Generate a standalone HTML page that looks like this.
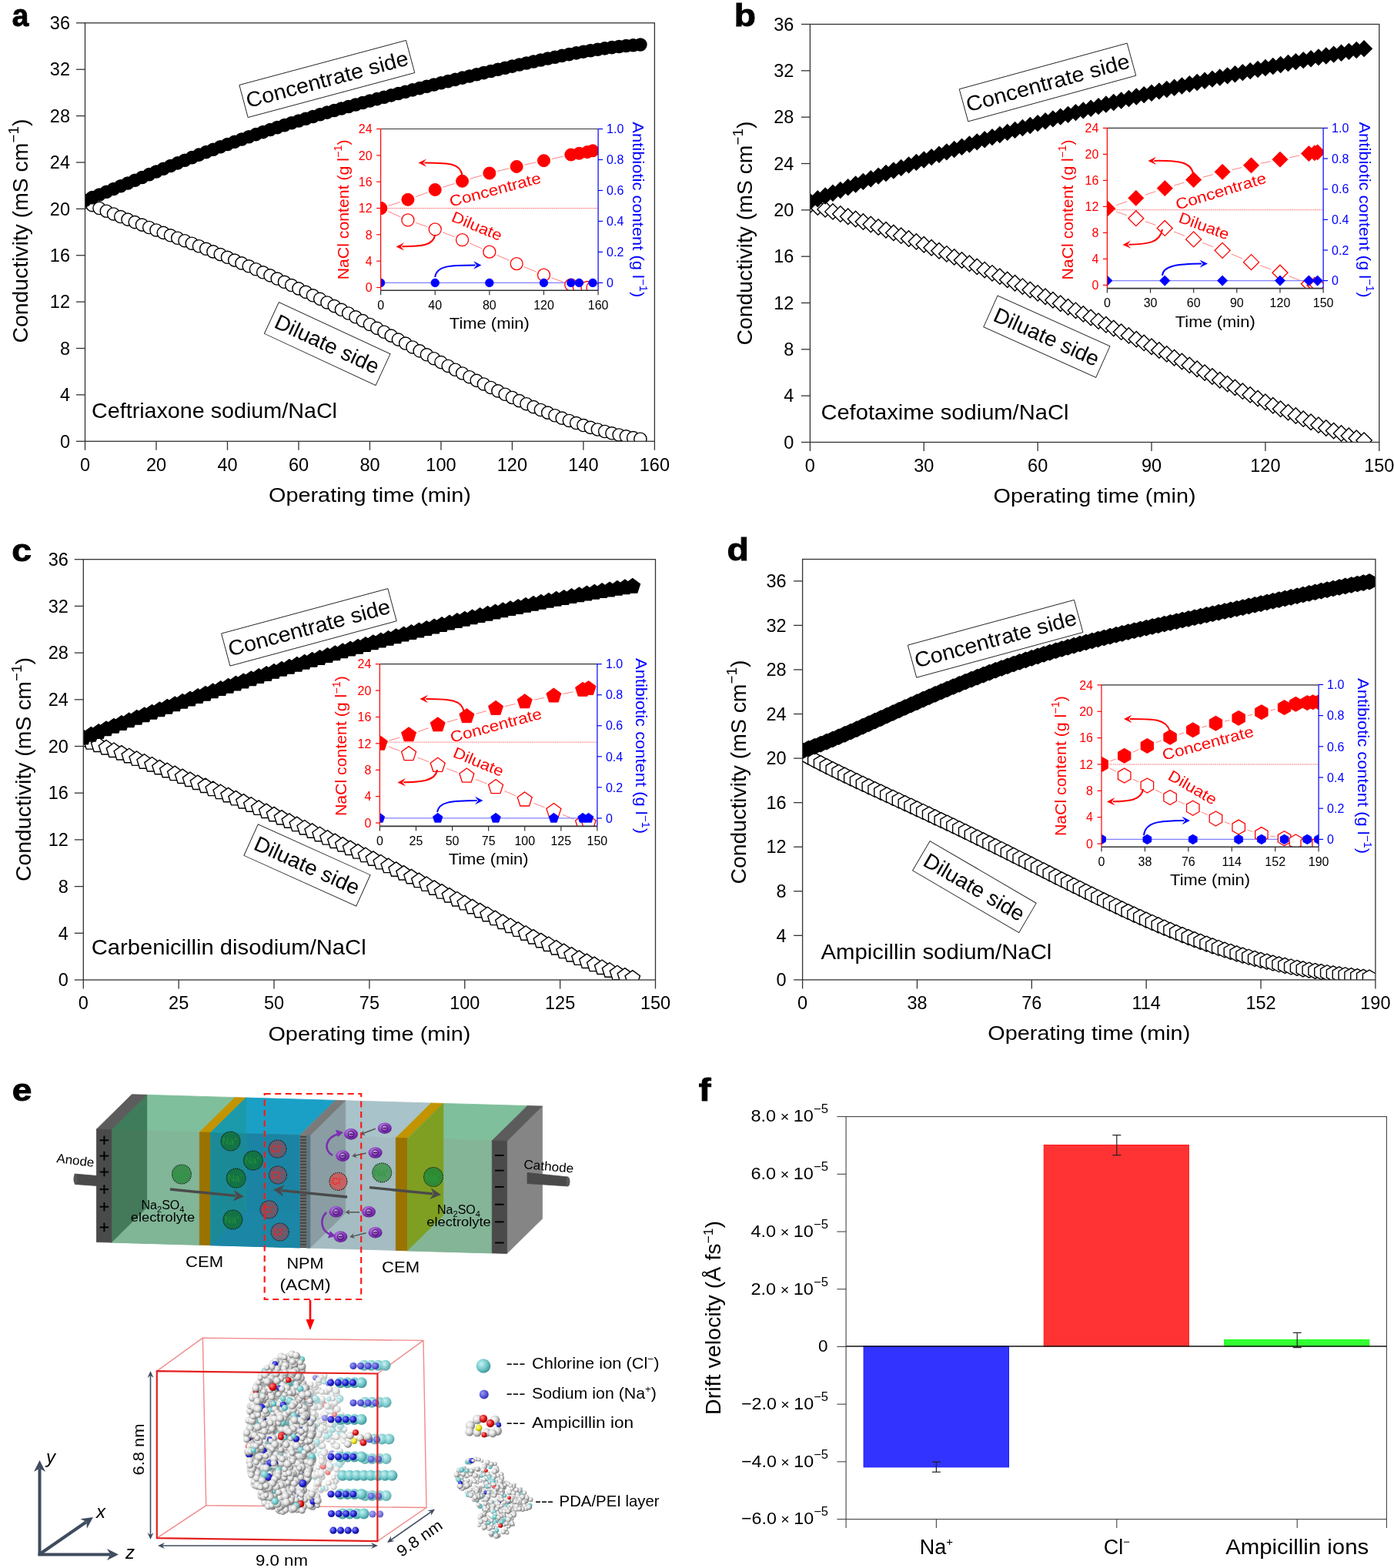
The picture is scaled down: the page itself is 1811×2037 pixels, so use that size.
<!DOCTYPE html><html><head><meta charset="utf-8"><title>Figure</title><style>html,body{margin:0;padding:0;background:#fff;}svg{display:block;}</style></head><body><svg width="1811" height="2037" viewBox="0 0 1811 2037" font-family='"Liberation Sans", Arial, sans-serif'>
<rect width="1811" height="2037" fill="#fff"/>
<clipPath id="c1"><rect x="110.5" y="29.8" width="739.9" height="543.5"/></clipPath>
<g clip-path="url(#c1)">
<circle cx="110.5" cy="262.62" r="8.1" fill="#fff" stroke="#000" stroke-width="1.4"/>
<circle cx="119.75" cy="266.62" r="8.1" fill="#fff" stroke="#000" stroke-width="1.4"/>
<circle cx="129" cy="270.49" r="8.1" fill="#fff" stroke="#000" stroke-width="1.4"/>
<circle cx="138.25" cy="274.26" r="8.1" fill="#fff" stroke="#000" stroke-width="1.4"/>
<circle cx="147.5" cy="277.95" r="8.1" fill="#fff" stroke="#000" stroke-width="1.4"/>
<circle cx="156.74" cy="281.56" r="8.1" fill="#fff" stroke="#000" stroke-width="1.4"/>
<circle cx="165.99" cy="285.11" r="8.1" fill="#fff" stroke="#000" stroke-width="1.4"/>
<circle cx="175.24" cy="288.61" r="8.1" fill="#fff" stroke="#000" stroke-width="1.4"/>
<circle cx="184.49" cy="292.08" r="8.1" fill="#fff" stroke="#000" stroke-width="1.4"/>
<circle cx="193.74" cy="295.52" r="8.1" fill="#fff" stroke="#000" stroke-width="1.4"/>
<circle cx="202.99" cy="298.95" r="8.1" fill="#fff" stroke="#000" stroke-width="1.4"/>
<circle cx="212.24" cy="302.38" r="8.1" fill="#fff" stroke="#000" stroke-width="1.4"/>
<circle cx="221.49" cy="305.81" r="8.1" fill="#fff" stroke="#000" stroke-width="1.4"/>
<circle cx="230.73" cy="309.25" r="8.1" fill="#fff" stroke="#000" stroke-width="1.4"/>
<circle cx="239.98" cy="312.71" r="8.1" fill="#fff" stroke="#000" stroke-width="1.4"/>
<circle cx="249.23" cy="316.21" r="8.1" fill="#fff" stroke="#000" stroke-width="1.4"/>
<circle cx="258.48" cy="319.74" r="8.1" fill="#fff" stroke="#000" stroke-width="1.4"/>
<circle cx="267.73" cy="323.31" r="8.1" fill="#fff" stroke="#000" stroke-width="1.4"/>
<circle cx="276.98" cy="326.92" r="8.1" fill="#fff" stroke="#000" stroke-width="1.4"/>
<circle cx="286.23" cy="330.58" r="8.1" fill="#fff" stroke="#000" stroke-width="1.4"/>
<circle cx="295.48" cy="334.3" r="8.1" fill="#fff" stroke="#000" stroke-width="1.4"/>
<circle cx="304.72" cy="338.08" r="8.1" fill="#fff" stroke="#000" stroke-width="1.4"/>
<circle cx="313.97" cy="341.91" r="8.1" fill="#fff" stroke="#000" stroke-width="1.4"/>
<circle cx="323.22" cy="345.81" r="8.1" fill="#fff" stroke="#000" stroke-width="1.4"/>
<circle cx="332.47" cy="349.77" r="8.1" fill="#fff" stroke="#000" stroke-width="1.4"/>
<circle cx="341.72" cy="353.8" r="8.1" fill="#fff" stroke="#000" stroke-width="1.4"/>
<circle cx="350.97" cy="357.89" r="8.1" fill="#fff" stroke="#000" stroke-width="1.4"/>
<circle cx="360.22" cy="362.05" r="8.1" fill="#fff" stroke="#000" stroke-width="1.4"/>
<circle cx="369.46" cy="366.28" r="8.1" fill="#fff" stroke="#000" stroke-width="1.4"/>
<circle cx="378.71" cy="370.57" r="8.1" fill="#fff" stroke="#000" stroke-width="1.4"/>
<circle cx="387.96" cy="374.92" r="8.1" fill="#fff" stroke="#000" stroke-width="1.4"/>
<circle cx="397.21" cy="379.34" r="8.1" fill="#fff" stroke="#000" stroke-width="1.4"/>
<circle cx="406.46" cy="383.82" r="8.1" fill="#fff" stroke="#000" stroke-width="1.4"/>
<circle cx="415.71" cy="388.35" r="8.1" fill="#fff" stroke="#000" stroke-width="1.4"/>
<circle cx="424.96" cy="392.94" r="8.1" fill="#fff" stroke="#000" stroke-width="1.4"/>
<circle cx="434.21" cy="397.59" r="8.1" fill="#fff" stroke="#000" stroke-width="1.4"/>
<circle cx="443.45" cy="402.28" r="8.1" fill="#fff" stroke="#000" stroke-width="1.4"/>
<circle cx="452.7" cy="407.02" r="8.1" fill="#fff" stroke="#000" stroke-width="1.4"/>
<circle cx="461.95" cy="411.8" r="8.1" fill="#fff" stroke="#000" stroke-width="1.4"/>
<circle cx="471.2" cy="416.62" r="8.1" fill="#fff" stroke="#000" stroke-width="1.4"/>
<circle cx="480.45" cy="421.47" r="8.1" fill="#fff" stroke="#000" stroke-width="1.4"/>
<circle cx="489.7" cy="426.35" r="8.1" fill="#fff" stroke="#000" stroke-width="1.4"/>
<circle cx="498.95" cy="431.25" r="8.1" fill="#fff" stroke="#000" stroke-width="1.4"/>
<circle cx="508.2" cy="436.17" r="8.1" fill="#fff" stroke="#000" stroke-width="1.4"/>
<circle cx="517.44" cy="441.1" r="8.1" fill="#fff" stroke="#000" stroke-width="1.4"/>
<circle cx="526.69" cy="446.04" r="8.1" fill="#fff" stroke="#000" stroke-width="1.4"/>
<circle cx="535.94" cy="450.97" r="8.1" fill="#fff" stroke="#000" stroke-width="1.4"/>
<circle cx="545.19" cy="455.9" r="8.1" fill="#fff" stroke="#000" stroke-width="1.4"/>
<circle cx="554.44" cy="460.82" r="8.1" fill="#fff" stroke="#000" stroke-width="1.4"/>
<circle cx="563.69" cy="465.72" r="8.1" fill="#fff" stroke="#000" stroke-width="1.4"/>
<circle cx="572.94" cy="470.6" r="8.1" fill="#fff" stroke="#000" stroke-width="1.4"/>
<circle cx="582.19" cy="475.44" r="8.1" fill="#fff" stroke="#000" stroke-width="1.4"/>
<circle cx="591.43" cy="480.25" r="8.1" fill="#fff" stroke="#000" stroke-width="1.4"/>
<circle cx="600.68" cy="485.01" r="8.1" fill="#fff" stroke="#000" stroke-width="1.4"/>
<circle cx="609.93" cy="489.72" r="8.1" fill="#fff" stroke="#000" stroke-width="1.4"/>
<circle cx="619.18" cy="494.37" r="8.1" fill="#fff" stroke="#000" stroke-width="1.4"/>
<circle cx="628.43" cy="498.96" r="8.1" fill="#fff" stroke="#000" stroke-width="1.4"/>
<circle cx="637.68" cy="503.47" r="8.1" fill="#fff" stroke="#000" stroke-width="1.4"/>
<circle cx="646.93" cy="507.91" r="8.1" fill="#fff" stroke="#000" stroke-width="1.4"/>
<circle cx="656.18" cy="512.25" r="8.1" fill="#fff" stroke="#000" stroke-width="1.4"/>
<circle cx="665.42" cy="516.51" r="8.1" fill="#fff" stroke="#000" stroke-width="1.4"/>
<circle cx="674.67" cy="520.67" r="8.1" fill="#fff" stroke="#000" stroke-width="1.4"/>
<circle cx="683.92" cy="524.72" r="8.1" fill="#fff" stroke="#000" stroke-width="1.4"/>
<circle cx="693.17" cy="528.66" r="8.1" fill="#fff" stroke="#000" stroke-width="1.4"/>
<circle cx="702.42" cy="532.48" r="8.1" fill="#fff" stroke="#000" stroke-width="1.4"/>
<circle cx="711.67" cy="536.17" r="8.1" fill="#fff" stroke="#000" stroke-width="1.4"/>
<circle cx="720.92" cy="539.73" r="8.1" fill="#fff" stroke="#000" stroke-width="1.4"/>
<circle cx="730.17" cy="543.16" r="8.1" fill="#fff" stroke="#000" stroke-width="1.4"/>
<circle cx="739.41" cy="546.44" r="8.1" fill="#fff" stroke="#000" stroke-width="1.4"/>
<circle cx="748.66" cy="549.57" r="8.1" fill="#fff" stroke="#000" stroke-width="1.4"/>
<circle cx="757.91" cy="552.55" r="8.1" fill="#fff" stroke="#000" stroke-width="1.4"/>
<circle cx="767.16" cy="555.36" r="8.1" fill="#fff" stroke="#000" stroke-width="1.4"/>
<circle cx="776.41" cy="558.01" r="8.1" fill="#fff" stroke="#000" stroke-width="1.4"/>
<circle cx="785.66" cy="560.49" r="8.1" fill="#fff" stroke="#000" stroke-width="1.4"/>
<circle cx="794.91" cy="562.8" r="8.1" fill="#fff" stroke="#000" stroke-width="1.4"/>
<circle cx="804.16" cy="564.93" r="8.1" fill="#fff" stroke="#000" stroke-width="1.4"/>
<circle cx="813.4" cy="566.87" r="8.1" fill="#fff" stroke="#000" stroke-width="1.4"/>
<circle cx="822.65" cy="568.63" r="8.1" fill="#fff" stroke="#000" stroke-width="1.4"/>
<circle cx="831.9" cy="570.19" r="8.1" fill="#fff" stroke="#000" stroke-width="1.4"/>
<circle cx="110.5" cy="260.3" r="8.1" fill="#000" stroke="#000" stroke-width="1.4"/>
<circle cx="119.75" cy="256.67" r="8.1" fill="#000" stroke="#000" stroke-width="1.4"/>
<circle cx="129" cy="252.99" r="8.1" fill="#000" stroke="#000" stroke-width="1.4"/>
<circle cx="138.25" cy="249.27" r="8.1" fill="#000" stroke="#000" stroke-width="1.4"/>
<circle cx="147.5" cy="245.52" r="8.1" fill="#000" stroke="#000" stroke-width="1.4"/>
<circle cx="156.74" cy="241.76" r="8.1" fill="#000" stroke="#000" stroke-width="1.4"/>
<circle cx="165.99" cy="237.98" r="8.1" fill="#000" stroke="#000" stroke-width="1.4"/>
<circle cx="175.24" cy="234.2" r="8.1" fill="#000" stroke="#000" stroke-width="1.4"/>
<circle cx="184.49" cy="230.43" r="8.1" fill="#000" stroke="#000" stroke-width="1.4"/>
<circle cx="193.74" cy="226.67" r="8.1" fill="#000" stroke="#000" stroke-width="1.4"/>
<circle cx="202.99" cy="222.93" r="8.1" fill="#000" stroke="#000" stroke-width="1.4"/>
<circle cx="212.24" cy="219.21" r="8.1" fill="#000" stroke="#000" stroke-width="1.4"/>
<circle cx="221.49" cy="215.52" r="8.1" fill="#000" stroke="#000" stroke-width="1.4"/>
<circle cx="230.73" cy="211.87" r="8.1" fill="#000" stroke="#000" stroke-width="1.4"/>
<circle cx="239.98" cy="208.25" r="8.1" fill="#000" stroke="#000" stroke-width="1.4"/>
<circle cx="249.23" cy="204.67" r="8.1" fill="#000" stroke="#000" stroke-width="1.4"/>
<circle cx="258.48" cy="201.14" r="8.1" fill="#000" stroke="#000" stroke-width="1.4"/>
<circle cx="267.73" cy="197.65" r="8.1" fill="#000" stroke="#000" stroke-width="1.4"/>
<circle cx="276.98" cy="194.21" r="8.1" fill="#000" stroke="#000" stroke-width="1.4"/>
<circle cx="286.23" cy="190.82" r="8.1" fill="#000" stroke="#000" stroke-width="1.4"/>
<circle cx="295.48" cy="187.48" r="8.1" fill="#000" stroke="#000" stroke-width="1.4"/>
<circle cx="304.72" cy="184.19" r="8.1" fill="#000" stroke="#000" stroke-width="1.4"/>
<circle cx="313.97" cy="180.96" r="8.1" fill="#000" stroke="#000" stroke-width="1.4"/>
<circle cx="323.22" cy="177.78" r="8.1" fill="#000" stroke="#000" stroke-width="1.4"/>
<circle cx="332.47" cy="174.65" r="8.1" fill="#000" stroke="#000" stroke-width="1.4"/>
<circle cx="341.72" cy="171.58" r="8.1" fill="#000" stroke="#000" stroke-width="1.4"/>
<circle cx="350.97" cy="168.56" r="8.1" fill="#000" stroke="#000" stroke-width="1.4"/>
<circle cx="360.22" cy="165.59" r="8.1" fill="#000" stroke="#000" stroke-width="1.4"/>
<circle cx="369.46" cy="162.67" r="8.1" fill="#000" stroke="#000" stroke-width="1.4"/>
<circle cx="378.71" cy="159.8" r="8.1" fill="#000" stroke="#000" stroke-width="1.4"/>
<circle cx="387.96" cy="156.98" r="8.1" fill="#000" stroke="#000" stroke-width="1.4"/>
<circle cx="397.21" cy="154.21" r="8.1" fill="#000" stroke="#000" stroke-width="1.4"/>
<circle cx="406.46" cy="151.48" r="8.1" fill="#000" stroke="#000" stroke-width="1.4"/>
<circle cx="415.71" cy="148.79" r="8.1" fill="#000" stroke="#000" stroke-width="1.4"/>
<circle cx="424.96" cy="146.15" r="8.1" fill="#000" stroke="#000" stroke-width="1.4"/>
<circle cx="434.21" cy="143.54" r="8.1" fill="#000" stroke="#000" stroke-width="1.4"/>
<circle cx="443.45" cy="140.97" r="8.1" fill="#000" stroke="#000" stroke-width="1.4"/>
<circle cx="452.7" cy="138.44" r="8.1" fill="#000" stroke="#000" stroke-width="1.4"/>
<circle cx="461.95" cy="135.94" r="8.1" fill="#000" stroke="#000" stroke-width="1.4"/>
<circle cx="471.2" cy="133.47" r="8.1" fill="#000" stroke="#000" stroke-width="1.4"/>
<circle cx="480.45" cy="131.03" r="8.1" fill="#000" stroke="#000" stroke-width="1.4"/>
<circle cx="489.7" cy="128.62" r="8.1" fill="#000" stroke="#000" stroke-width="1.4"/>
<circle cx="498.95" cy="126.23" r="8.1" fill="#000" stroke="#000" stroke-width="1.4"/>
<circle cx="508.2" cy="123.86" r="8.1" fill="#000" stroke="#000" stroke-width="1.4"/>
<circle cx="517.44" cy="121.52" r="8.1" fill="#000" stroke="#000" stroke-width="1.4"/>
<circle cx="526.69" cy="119.2" r="8.1" fill="#000" stroke="#000" stroke-width="1.4"/>
<circle cx="535.94" cy="116.89" r="8.1" fill="#000" stroke="#000" stroke-width="1.4"/>
<circle cx="545.19" cy="114.6" r="8.1" fill="#000" stroke="#000" stroke-width="1.4"/>
<circle cx="554.44" cy="112.32" r="8.1" fill="#000" stroke="#000" stroke-width="1.4"/>
<circle cx="563.69" cy="110.06" r="8.1" fill="#000" stroke="#000" stroke-width="1.4"/>
<circle cx="572.94" cy="107.81" r="8.1" fill="#000" stroke="#000" stroke-width="1.4"/>
<circle cx="582.19" cy="105.58" r="8.1" fill="#000" stroke="#000" stroke-width="1.4"/>
<circle cx="591.43" cy="103.35" r="8.1" fill="#000" stroke="#000" stroke-width="1.4"/>
<circle cx="600.68" cy="101.14" r="8.1" fill="#000" stroke="#000" stroke-width="1.4"/>
<circle cx="609.93" cy="98.95" r="8.1" fill="#000" stroke="#000" stroke-width="1.4"/>
<circle cx="619.18" cy="96.76" r="8.1" fill="#000" stroke="#000" stroke-width="1.4"/>
<circle cx="628.43" cy="94.59" r="8.1" fill="#000" stroke="#000" stroke-width="1.4"/>
<circle cx="637.68" cy="92.44" r="8.1" fill="#000" stroke="#000" stroke-width="1.4"/>
<circle cx="646.93" cy="90.3" r="8.1" fill="#000" stroke="#000" stroke-width="1.4"/>
<circle cx="656.18" cy="88.19" r="8.1" fill="#000" stroke="#000" stroke-width="1.4"/>
<circle cx="665.42" cy="86.09" r="8.1" fill="#000" stroke="#000" stroke-width="1.4"/>
<circle cx="674.67" cy="84.02" r="8.1" fill="#000" stroke="#000" stroke-width="1.4"/>
<circle cx="683.92" cy="81.98" r="8.1" fill="#000" stroke="#000" stroke-width="1.4"/>
<circle cx="693.17" cy="79.97" r="8.1" fill="#000" stroke="#000" stroke-width="1.4"/>
<circle cx="702.42" cy="78" r="8.1" fill="#000" stroke="#000" stroke-width="1.4"/>
<circle cx="711.67" cy="76.06" r="8.1" fill="#000" stroke="#000" stroke-width="1.4"/>
<circle cx="720.92" cy="74.18" r="8.1" fill="#000" stroke="#000" stroke-width="1.4"/>
<circle cx="730.17" cy="72.35" r="8.1" fill="#000" stroke="#000" stroke-width="1.4"/>
<circle cx="739.41" cy="70.58" r="8.1" fill="#000" stroke="#000" stroke-width="1.4"/>
<circle cx="748.66" cy="68.87" r="8.1" fill="#000" stroke="#000" stroke-width="1.4"/>
<circle cx="757.91" cy="67.24" r="8.1" fill="#000" stroke="#000" stroke-width="1.4"/>
<circle cx="767.16" cy="65.69" r="8.1" fill="#000" stroke="#000" stroke-width="1.4"/>
<circle cx="776.41" cy="64.24" r="8.1" fill="#000" stroke="#000" stroke-width="1.4"/>
<circle cx="785.66" cy="62.89" r="8.1" fill="#000" stroke="#000" stroke-width="1.4"/>
<circle cx="794.91" cy="61.65" r="8.1" fill="#000" stroke="#000" stroke-width="1.4"/>
<circle cx="804.16" cy="60.53" r="8.1" fill="#000" stroke="#000" stroke-width="1.4"/>
<circle cx="813.4" cy="59.55" r="8.1" fill="#000" stroke="#000" stroke-width="1.4"/>
<circle cx="822.65" cy="58.72" r="8.1" fill="#000" stroke="#000" stroke-width="1.4"/>
<circle cx="831.9" cy="58.05" r="8.1" fill="#000" stroke="#000" stroke-width="1.4"/>
</g>
<rect x="110.5" y="29.8" width="739.9" height="543.5" fill="none" stroke="#333" stroke-width="1.3"/>
<line x1="110.5" y1="573.3" x2="110.5" y2="584.8" stroke="#333" stroke-width="1.3" />
<text x="110.5" y="611.5" font-size="23.5" fill="#000" text-anchor="middle">0</text>
<line x1="202.99" y1="573.3" x2="202.99" y2="584.8" stroke="#333" stroke-width="1.3" />
<text x="202.99" y="611.5" font-size="23.5" fill="#000" text-anchor="middle">20</text>
<line x1="295.48" y1="573.3" x2="295.48" y2="584.8" stroke="#333" stroke-width="1.3" />
<text x="295.48" y="611.5" font-size="23.5" fill="#000" text-anchor="middle">40</text>
<line x1="387.96" y1="573.3" x2="387.96" y2="584.8" stroke="#333" stroke-width="1.3" />
<text x="387.96" y="611.5" font-size="23.5" fill="#000" text-anchor="middle">60</text>
<line x1="480.45" y1="573.3" x2="480.45" y2="584.8" stroke="#333" stroke-width="1.3" />
<text x="480.45" y="611.5" font-size="23.5" fill="#000" text-anchor="middle">80</text>
<line x1="572.94" y1="573.3" x2="572.94" y2="584.8" stroke="#333" stroke-width="1.3" />
<text x="572.94" y="611.5" font-size="23.5" fill="#000" text-anchor="middle">100</text>
<line x1="665.42" y1="573.3" x2="665.42" y2="584.8" stroke="#333" stroke-width="1.3" />
<text x="665.42" y="611.5" font-size="23.5" fill="#000" text-anchor="middle">120</text>
<line x1="757.91" y1="573.3" x2="757.91" y2="584.8" stroke="#333" stroke-width="1.3" />
<text x="757.91" y="611.5" font-size="23.5" fill="#000" text-anchor="middle">140</text>
<line x1="850.4" y1="573.3" x2="850.4" y2="584.8" stroke="#333" stroke-width="1.3" />
<text x="850.4" y="611.5" font-size="23.5" fill="#000" text-anchor="middle">160</text>
<line x1="99" y1="573.3" x2="110.5" y2="573.3" stroke="#333" stroke-width="1.3" />
<text x="91" y="581.5" font-size="23.5" fill="#000" text-anchor="end">0</text>
<line x1="99" y1="512.91" x2="110.5" y2="512.91" stroke="#333" stroke-width="1.3" />
<text x="91" y="521.11" font-size="23.5" fill="#000" text-anchor="end">4</text>
<line x1="99" y1="452.52" x2="110.5" y2="452.52" stroke="#333" stroke-width="1.3" />
<text x="91" y="460.72" font-size="23.5" fill="#000" text-anchor="end">8</text>
<line x1="99" y1="392.13" x2="110.5" y2="392.13" stroke="#333" stroke-width="1.3" />
<text x="91" y="400.33" font-size="23.5" fill="#000" text-anchor="end">12</text>
<line x1="99" y1="331.74" x2="110.5" y2="331.74" stroke="#333" stroke-width="1.3" />
<text x="91" y="339.94" font-size="23.5" fill="#000" text-anchor="end">16</text>
<line x1="99" y1="271.36" x2="110.5" y2="271.36" stroke="#333" stroke-width="1.3" />
<text x="91" y="279.56" font-size="23.5" fill="#000" text-anchor="end">20</text>
<line x1="99" y1="210.97" x2="110.5" y2="210.97" stroke="#333" stroke-width="1.3" />
<text x="91" y="219.17" font-size="23.5" fill="#000" text-anchor="end">24</text>
<line x1="99" y1="150.58" x2="110.5" y2="150.58" stroke="#333" stroke-width="1.3" />
<text x="91" y="158.78" font-size="23.5" fill="#000" text-anchor="end">28</text>
<line x1="99" y1="90.19" x2="110.5" y2="90.19" stroke="#333" stroke-width="1.3" />
<text x="91" y="98.39" font-size="23.5" fill="#000" text-anchor="end">32</text>
<line x1="99" y1="29.8" x2="110.5" y2="29.8" stroke="#333" stroke-width="1.3" />
<text x="91" y="38" font-size="23.5" fill="#000" text-anchor="end">36</text>
<text x="480.45" y="651.8" font-size="26" fill="#000" text-anchor="middle" textLength="263" lengthAdjust="spacingAndGlyphs">Operating time (min)</text>
<text x="36.5" y="300.1" font-size="28.5" fill="#000" text-anchor="middle" transform="rotate(-90 36.5 300.1)" textLength="291" lengthAdjust="spacingAndGlyphs">Conductivity (mS cm<tspan dy="-12" font-size="19">−1</tspan><tspan dy="12">)</tspan></text>
<text x="15.8" y="33.6" font-size="40" fill="#000" font-weight="bold" textLength="21.6" lengthAdjust="spacingAndGlyphs" stroke="#000" stroke-width="0.9">a</text>
<text x="119" y="542.6" font-size="27.5" fill="#000" textLength="319" lengthAdjust="spacingAndGlyphs">Ceftriaxone sodium/NaCl</text>
<g transform="translate(424.8 102.5) rotate(-15)">
<rect x="-112.1" y="-21.8" width="224.2" height="43.6" fill="#fff" stroke="#222" stroke-width="0.9"/>
<text x="0" y="9.9" font-size="27.5" fill="#000" text-anchor="middle" textLength="217" lengthAdjust="spacingAndGlyphs">Concentrate side</text>
</g>
<g transform="translate(425.2 446.6) rotate(24.9)">
<rect x="-79.75" y="-22.45" width="159.5" height="44.9" fill="#fff" stroke="#222" stroke-width="0.9"/>
<text x="0" y="9.9" font-size="27.5" fill="#000" text-anchor="middle" textLength="146" lengthAdjust="spacingAndGlyphs">Diluate side</text>
</g>
<rect x="494.6" y="167.5" width="282.5" height="209.7" fill="#fff"/>
<clipPath id="c2"><rect x="494.6" y="167.5" width="282.5" height="209.7"/></clipPath>
<g clip-path="url(#c2)">
<line x1="494.6" y1="270.5" x2="777.1" y2="270.5" stroke="#ff5555" stroke-width="0.9" stroke-dasharray="1.5 1"/>
<line x1="504.61" y1="267.34" x2="519.9" y2="262.51" stroke="#ff7070" stroke-width="0.9" />
<line x1="539.78" y1="255.74" x2="555.36" y2="250.06" stroke="#ff7070" stroke-width="0.9" />
<line x1="575.24" y1="243.3" x2="590.53" y2="238.47" stroke="#ff7070" stroke-width="0.9" />
<line x1="610.62" y1="232.37" x2="625.77" y2="227.95" stroke="#ff7070" stroke-width="0.9" />
<line x1="646.05" y1="222.53" x2="660.96" y2="218.91" stroke="#ff7070" stroke-width="0.9" />
<line x1="681.42" y1="214.18" x2="696.22" y2="210.94" stroke="#ff7070" stroke-width="0.9" />
<line x1="716.73" y1="206.46" x2="731.53" y2="203.22" stroke="#ff7070" stroke-width="0.9" />
<line x1="504.22" y1="274.71" x2="520.29" y2="281.74" stroke="#ff7070" stroke-width="0.9" />
<line x1="539.85" y1="289.33" x2="555.28" y2="294.58" stroke="#ff7070" stroke-width="0.9" />
<line x1="575.01" y1="301.77" x2="590.75" y2="307.89" stroke="#ff7070" stroke-width="0.9" />
<line x1="610.16" y1="315.91" x2="626.23" y2="322.94" stroke="#ff7070" stroke-width="0.9" />
<line x1="645.47" y1="331.36" x2="661.54" y2="338.39" stroke="#ff7070" stroke-width="0.9" />
<line x1="680.87" y1="346.61" x2="696.77" y2="353.18" stroke="#ff7070" stroke-width="0.9" />
<line x1="716.34" y1="360.79" x2="731.92" y2="366.47" stroke="#ff7070" stroke-width="0.9" />
<polyline points="494.6,367.4 565.23,367.4 635.85,367.4 706.48,367.4 741.79,367.4 752.38,367.4 770.04,367.4" fill="none" stroke="#8080ff" stroke-width="1.2"/>
<circle cx="494.6" cy="270.5" r="8" fill="#fff" stroke="#ff0000" stroke-width="1.3"/>
<circle cx="529.91" cy="285.95" r="8" fill="#fff" stroke="#ff0000" stroke-width="1.3"/>
<circle cx="565.23" cy="297.97" r="8" fill="#fff" stroke="#ff0000" stroke-width="1.3"/>
<circle cx="600.54" cy="311.7" r="8" fill="#fff" stroke="#ff0000" stroke-width="1.3"/>
<circle cx="635.85" cy="327.15" r="8" fill="#fff" stroke="#ff0000" stroke-width="1.3"/>
<circle cx="671.16" cy="342.6" r="8" fill="#fff" stroke="#ff0000" stroke-width="1.3"/>
<circle cx="706.48" cy="357.19" r="8" fill="#fff" stroke="#ff0000" stroke-width="1.3"/>
<circle cx="741.79" cy="370.07" r="8" fill="#fff" stroke="#ff0000" stroke-width="1.3"/>
<circle cx="752.38" cy="372.64" r="8" fill="#fff" stroke="#ff0000" stroke-width="1.3"/>
<circle cx="762.98" cy="373.5" r="8" fill="#fff" stroke="#ff0000" stroke-width="1.3"/>
<circle cx="770.04" cy="373.5" r="8" fill="#fff" stroke="#ff0000" stroke-width="1.3"/>
<circle cx="494.6" cy="270.5" r="8" fill="#ff0000" stroke="#ff0000" stroke-width="1"/>
<circle cx="529.91" cy="259.34" r="8" fill="#ff0000" stroke="#ff0000" stroke-width="1"/>
<circle cx="565.23" cy="246.47" r="8" fill="#ff0000" stroke="#ff0000" stroke-width="1"/>
<circle cx="600.54" cy="235.31" r="8" fill="#ff0000" stroke="#ff0000" stroke-width="1"/>
<circle cx="635.85" cy="225.01" r="8" fill="#ff0000" stroke="#ff0000" stroke-width="1"/>
<circle cx="671.16" cy="216.42" r="8" fill="#ff0000" stroke="#ff0000" stroke-width="1"/>
<circle cx="706.48" cy="208.7" r="8" fill="#ff0000" stroke="#ff0000" stroke-width="1"/>
<circle cx="741.79" cy="200.97" r="8" fill="#ff0000" stroke="#ff0000" stroke-width="1"/>
<circle cx="752.38" cy="199.26" r="8" fill="#ff0000" stroke="#ff0000" stroke-width="1"/>
<circle cx="762.98" cy="197.54" r="8" fill="#ff0000" stroke="#ff0000" stroke-width="1"/>
<circle cx="770.04" cy="195.83" r="8" fill="#ff0000" stroke="#ff0000" stroke-width="1"/>
<circle cx="494.6" cy="367.4" r="5.28" fill="#0000ff" stroke="#0000ff" stroke-width="0.8"/>
<circle cx="565.23" cy="367.4" r="5.28" fill="#0000ff" stroke="#0000ff" stroke-width="0.8"/>
<circle cx="635.85" cy="367.4" r="5.28" fill="#0000ff" stroke="#0000ff" stroke-width="0.8"/>
<circle cx="706.48" cy="367.4" r="5.28" fill="#0000ff" stroke="#0000ff" stroke-width="0.8"/>
<circle cx="741.79" cy="367.4" r="5.28" fill="#0000ff" stroke="#0000ff" stroke-width="0.8"/>
<circle cx="752.38" cy="367.4" r="5.28" fill="#0000ff" stroke="#0000ff" stroke-width="0.8"/>
<circle cx="770.04" cy="367.4" r="5.28" fill="#0000ff" stroke="#0000ff" stroke-width="0.8"/>
</g>
<line x1="494.6" y1="167.5" x2="777.1" y2="167.5" stroke="#333" stroke-width="1.2" />
<line x1="494.6" y1="377.2" x2="777.1" y2="377.2" stroke="#333" stroke-width="1.6" />
<line x1="494.6" y1="167.5" x2="494.6" y2="377.2" stroke="#ff0000" stroke-width="1.2" />
<line x1="777.1" y1="167.5" x2="777.1" y2="377.2" stroke="#0000ff" stroke-width="1.2" />
<line x1="489.1" y1="373.5" x2="494.6" y2="373.5" stroke="#ff0000" stroke-width="1.2" />
<text x="483.6" y="379.2" font-size="16" fill="#ff0000" text-anchor="end">0</text>
<line x1="489.1" y1="339.17" x2="494.6" y2="339.17" stroke="#ff0000" stroke-width="1.2" />
<text x="483.6" y="344.87" font-size="16" fill="#ff0000" text-anchor="end">4</text>
<line x1="489.1" y1="304.83" x2="494.6" y2="304.83" stroke="#ff0000" stroke-width="1.2" />
<text x="483.6" y="310.53" font-size="16" fill="#ff0000" text-anchor="end">8</text>
<line x1="489.1" y1="270.5" x2="494.6" y2="270.5" stroke="#ff0000" stroke-width="1.2" />
<text x="483.6" y="276.2" font-size="16" fill="#ff0000" text-anchor="end">12</text>
<line x1="489.1" y1="236.17" x2="494.6" y2="236.17" stroke="#ff0000" stroke-width="1.2" />
<text x="483.6" y="241.87" font-size="16" fill="#ff0000" text-anchor="end">16</text>
<line x1="489.1" y1="201.83" x2="494.6" y2="201.83" stroke="#ff0000" stroke-width="1.2" />
<text x="483.6" y="207.53" font-size="16" fill="#ff0000" text-anchor="end">20</text>
<line x1="489.1" y1="167.5" x2="494.6" y2="167.5" stroke="#ff0000" stroke-width="1.2" />
<text x="483.6" y="173.2" font-size="16" fill="#ff0000" text-anchor="end">24</text>
<line x1="777.1" y1="367.4" x2="783.1" y2="367.4" stroke="#0000ff" stroke-width="1.2" />
<text x="788.1" y="373.1" font-size="16" fill="#0000ff">0</text>
<line x1="777.1" y1="327.42" x2="783.1" y2="327.42" stroke="#0000ff" stroke-width="1.2" />
<text x="788.1" y="333.12" font-size="16" fill="#0000ff">0.2</text>
<line x1="777.1" y1="287.44" x2="783.1" y2="287.44" stroke="#0000ff" stroke-width="1.2" />
<text x="788.1" y="293.14" font-size="16" fill="#0000ff">0.4</text>
<line x1="777.1" y1="247.46" x2="783.1" y2="247.46" stroke="#0000ff" stroke-width="1.2" />
<text x="788.1" y="253.16" font-size="16" fill="#0000ff">0.6</text>
<line x1="777.1" y1="207.48" x2="783.1" y2="207.48" stroke="#0000ff" stroke-width="1.2" />
<text x="788.1" y="213.18" font-size="16" fill="#0000ff">0.8</text>
<line x1="777.1" y1="167.5" x2="783.1" y2="167.5" stroke="#0000ff" stroke-width="1.2" />
<text x="788.1" y="173.2" font-size="16" fill="#0000ff">1.0</text>
<line x1="494.6" y1="377.2" x2="494.6" y2="383.2" stroke="#333" stroke-width="1.2" />
<text x="494.6" y="401.7" font-size="16" fill="#000" text-anchor="middle">0</text>
<line x1="565.23" y1="377.2" x2="565.23" y2="383.2" stroke="#333" stroke-width="1.2" />
<text x="565.23" y="401.7" font-size="16" fill="#000" text-anchor="middle">40</text>
<line x1="635.85" y1="377.2" x2="635.85" y2="383.2" stroke="#333" stroke-width="1.2" />
<text x="635.85" y="401.7" font-size="16" fill="#000" text-anchor="middle">80</text>
<line x1="706.48" y1="377.2" x2="706.48" y2="383.2" stroke="#333" stroke-width="1.2" />
<text x="706.48" y="401.7" font-size="16" fill="#000" text-anchor="middle">120</text>
<line x1="777.1" y1="377.2" x2="777.1" y2="383.2" stroke="#333" stroke-width="1.2" />
<text x="777.1" y="401.7" font-size="16" fill="#000" text-anchor="middle">160</text>
<text x="635.85" y="427.2" font-size="20" fill="#000" text-anchor="middle" textLength="104" lengthAdjust="spacingAndGlyphs">Time (min)</text>
<text x="452.6" y="272.35" font-size="20.5" fill="#ff0000" text-anchor="middle" transform="rotate(-90 452.6 272.35)" textLength="182" lengthAdjust="spacingAndGlyphs">NaCl content (g l<tspan dy="-8.5" font-size="14">−1</tspan><tspan dy="8.5">)</tspan></text>
<text x="822.1" y="272.35" font-size="20.5" fill="#0000ff" text-anchor="middle" transform="rotate(90 822.1 272.35)" textLength="228" lengthAdjust="spacingAndGlyphs">Antibiotic content (g l<tspan dy="-8.5" font-size="14">−1</tspan><tspan dy="8.5">)</tspan></text>
<text x="645" y="253" font-size="20" fill="#ff0000" text-anchor="middle" transform="rotate(-15 645 253)" textLength="122" lengthAdjust="spacingAndGlyphs">Concentrate</text>
<text x="617" y="300" font-size="20" fill="#ff0000" text-anchor="middle" transform="rotate(22.5 617 300)" textLength="69" lengthAdjust="spacingAndGlyphs">Diluate</text>
<path d="M600.5 228 C598 212 585 212 551.37 211.59" fill="none" stroke="#ff0000" stroke-width="2"/>
<polygon points="543.5,211.5 554.06,206.43 549.8,211.58 553.94,216.83" fill="#ff0000"/>
<path d="M565.2 305 C563 320 545 320 522.37 320.37" fill="none" stroke="#ff0000" stroke-width="2"/>
<polygon points="514.5,320.5 524.91,315.13 520.8,320.4 525.08,325.53" fill="#ff0000"/>
<path d="M565.2 360 C567 345 585 344.5 617.62 344.5" fill="none" stroke="#0000ff" stroke-width="2"/>
<polygon points="625.5,344.5 615,349.7 619.2,344.5 615,339.3" fill="#0000ff"/>
<clipPath id="c3"><rect x="1052.4" y="31.5" width="739.4" height="543"/></clipPath>
<g clip-path="url(#c3)">
<polygon points="1052.4,256.06 1062.6,266.26 1052.4,276.46 1042.2,266.26" fill="#fff" stroke="#000" stroke-width="1.4" stroke-linejoin="miter"/>
<polygon points="1062.26,258.8 1072.46,269 1062.26,279.2 1052.06,269" fill="#fff" stroke="#000" stroke-width="1.4" stroke-linejoin="miter"/>
<polygon points="1072.12,261.68 1082.32,271.88 1072.12,282.08 1061.92,271.88" fill="#fff" stroke="#000" stroke-width="1.4" stroke-linejoin="miter"/>
<polygon points="1081.98,264.68 1092.18,274.88 1081.98,285.08 1071.78,274.88" fill="#fff" stroke="#000" stroke-width="1.4" stroke-linejoin="miter"/>
<polygon points="1091.83,267.8 1102.03,278 1091.83,288.2 1081.63,278" fill="#fff" stroke="#000" stroke-width="1.4" stroke-linejoin="miter"/>
<polygon points="1101.69,271.03 1111.89,281.23 1101.69,291.43 1091.49,281.23" fill="#fff" stroke="#000" stroke-width="1.4" stroke-linejoin="miter"/>
<polygon points="1111.55,274.35 1121.75,284.55 1111.55,294.75 1101.35,284.55" fill="#fff" stroke="#000" stroke-width="1.4" stroke-linejoin="miter"/>
<polygon points="1121.41,277.77 1131.61,287.97 1121.41,298.17 1111.21,287.97" fill="#fff" stroke="#000" stroke-width="1.4" stroke-linejoin="miter"/>
<polygon points="1131.27,281.27 1141.47,291.47 1131.27,301.67 1121.07,291.47" fill="#fff" stroke="#000" stroke-width="1.4" stroke-linejoin="miter"/>
<polygon points="1141.13,284.84 1151.33,295.04 1141.13,305.24 1130.93,295.04" fill="#fff" stroke="#000" stroke-width="1.4" stroke-linejoin="miter"/>
<polygon points="1150.99,288.49 1161.19,298.69 1150.99,308.89 1140.79,298.69" fill="#fff" stroke="#000" stroke-width="1.4" stroke-linejoin="miter"/>
<polygon points="1160.85,292.2 1171.05,302.4 1160.85,312.6 1150.65,302.4" fill="#fff" stroke="#000" stroke-width="1.4" stroke-linejoin="miter"/>
<polygon points="1170.7,295.97 1180.9,306.17 1170.7,316.37 1160.5,306.17" fill="#fff" stroke="#000" stroke-width="1.4" stroke-linejoin="miter"/>
<polygon points="1180.56,299.79 1190.76,309.99 1180.56,320.19 1170.36,309.99" fill="#fff" stroke="#000" stroke-width="1.4" stroke-linejoin="miter"/>
<polygon points="1190.42,303.67 1200.62,313.87 1190.42,324.07 1180.22,313.87" fill="#fff" stroke="#000" stroke-width="1.4" stroke-linejoin="miter"/>
<polygon points="1200.28,307.59 1210.48,317.79 1200.28,327.99 1190.08,317.79" fill="#fff" stroke="#000" stroke-width="1.4" stroke-linejoin="miter"/>
<polygon points="1210.14,311.56 1220.34,321.76 1210.14,331.96 1199.94,321.76" fill="#fff" stroke="#000" stroke-width="1.4" stroke-linejoin="miter"/>
<polygon points="1220,315.57 1230.2,325.77 1220,335.97 1209.8,325.77" fill="#fff" stroke="#000" stroke-width="1.4" stroke-linejoin="miter"/>
<polygon points="1229.86,319.62 1240.06,329.82 1229.86,340.02 1219.66,329.82" fill="#fff" stroke="#000" stroke-width="1.4" stroke-linejoin="miter"/>
<polygon points="1239.71,323.71 1249.91,333.91 1239.71,344.11 1229.51,333.91" fill="#fff" stroke="#000" stroke-width="1.4" stroke-linejoin="miter"/>
<polygon points="1249.57,327.82 1259.77,338.02 1249.57,348.22 1239.37,338.02" fill="#fff" stroke="#000" stroke-width="1.4" stroke-linejoin="miter"/>
<polygon points="1259.43,331.98 1269.63,342.18 1259.43,352.38 1249.23,342.18" fill="#fff" stroke="#000" stroke-width="1.4" stroke-linejoin="miter"/>
<polygon points="1269.29,336.16 1279.49,346.36 1269.29,356.56 1259.09,346.36" fill="#fff" stroke="#000" stroke-width="1.4" stroke-linejoin="miter"/>
<polygon points="1279.15,340.37 1289.35,350.57 1279.15,360.77 1268.95,350.57" fill="#fff" stroke="#000" stroke-width="1.4" stroke-linejoin="miter"/>
<polygon points="1289.01,344.62 1299.21,354.82 1289.01,365.02 1278.81,354.82" fill="#fff" stroke="#000" stroke-width="1.4" stroke-linejoin="miter"/>
<polygon points="1298.87,348.89 1309.07,359.09 1298.87,369.29 1288.67,359.09" fill="#fff" stroke="#000" stroke-width="1.4" stroke-linejoin="miter"/>
<polygon points="1308.73,353.19 1318.93,363.39 1308.73,373.59 1298.53,363.39" fill="#fff" stroke="#000" stroke-width="1.4" stroke-linejoin="miter"/>
<polygon points="1318.58,357.52 1328.78,367.72 1318.58,377.92 1308.38,367.72" fill="#fff" stroke="#000" stroke-width="1.4" stroke-linejoin="miter"/>
<polygon points="1328.44,361.87 1338.64,372.07 1328.44,382.27 1318.24,372.07" fill="#fff" stroke="#000" stroke-width="1.4" stroke-linejoin="miter"/>
<polygon points="1338.3,366.25 1348.5,376.45 1338.3,386.65 1328.1,376.45" fill="#fff" stroke="#000" stroke-width="1.4" stroke-linejoin="miter"/>
<polygon points="1348.16,370.66 1358.36,380.86 1348.16,391.06 1337.96,380.86" fill="#fff" stroke="#000" stroke-width="1.4" stroke-linejoin="miter"/>
<polygon points="1358.02,375.1 1368.22,385.3 1358.02,395.5 1347.82,385.3" fill="#fff" stroke="#000" stroke-width="1.4" stroke-linejoin="miter"/>
<polygon points="1367.88,379.57 1378.08,389.77 1367.88,399.97 1357.68,389.77" fill="#fff" stroke="#000" stroke-width="1.4" stroke-linejoin="miter"/>
<polygon points="1377.74,384.06 1387.94,394.26 1377.74,404.46 1367.54,394.26" fill="#fff" stroke="#000" stroke-width="1.4" stroke-linejoin="miter"/>
<polygon points="1387.59,388.58 1397.79,398.78 1387.59,408.98 1377.39,398.78" fill="#fff" stroke="#000" stroke-width="1.4" stroke-linejoin="miter"/>
<polygon points="1397.45,393.12 1407.65,403.32 1397.45,413.52 1387.25,403.32" fill="#fff" stroke="#000" stroke-width="1.4" stroke-linejoin="miter"/>
<polygon points="1407.31,397.7 1417.51,407.9 1407.31,418.1 1397.11,407.9" fill="#fff" stroke="#000" stroke-width="1.4" stroke-linejoin="miter"/>
<polygon points="1417.17,402.3 1427.37,412.5 1417.17,422.7 1406.97,412.5" fill="#fff" stroke="#000" stroke-width="1.4" stroke-linejoin="miter"/>
<polygon points="1427.03,406.93 1437.23,417.13 1427.03,427.33 1416.83,417.13" fill="#fff" stroke="#000" stroke-width="1.4" stroke-linejoin="miter"/>
<polygon points="1436.89,411.58 1447.09,421.78 1436.89,431.98 1426.69,421.78" fill="#fff" stroke="#000" stroke-width="1.4" stroke-linejoin="miter"/>
<polygon points="1446.75,416.26 1456.95,426.46 1446.75,436.66 1436.55,426.46" fill="#fff" stroke="#000" stroke-width="1.4" stroke-linejoin="miter"/>
<polygon points="1456.61,420.97 1466.81,431.17 1456.61,441.37 1446.41,431.17" fill="#fff" stroke="#000" stroke-width="1.4" stroke-linejoin="miter"/>
<polygon points="1466.46,425.7 1476.66,435.9 1466.46,446.1 1456.26,435.9" fill="#fff" stroke="#000" stroke-width="1.4" stroke-linejoin="miter"/>
<polygon points="1476.32,430.45 1486.52,440.65 1476.32,450.85 1466.12,440.65" fill="#fff" stroke="#000" stroke-width="1.4" stroke-linejoin="miter"/>
<polygon points="1486.18,435.22 1496.38,445.42 1486.18,455.62 1475.98,445.42" fill="#fff" stroke="#000" stroke-width="1.4" stroke-linejoin="miter"/>
<polygon points="1496.04,440.01 1506.24,450.21 1496.04,460.41 1485.84,450.21" fill="#fff" stroke="#000" stroke-width="1.4" stroke-linejoin="miter"/>
<polygon points="1505.9,444.83 1516.1,455.03 1505.9,465.23 1495.7,455.03" fill="#fff" stroke="#000" stroke-width="1.4" stroke-linejoin="miter"/>
<polygon points="1515.76,449.65 1525.96,459.85 1515.76,470.05 1505.56,459.85" fill="#fff" stroke="#000" stroke-width="1.4" stroke-linejoin="miter"/>
<polygon points="1525.62,454.49 1535.82,464.69 1525.62,474.89 1515.42,464.69" fill="#fff" stroke="#000" stroke-width="1.4" stroke-linejoin="miter"/>
<polygon points="1535.47,459.34 1545.67,469.54 1535.47,479.74 1525.27,469.54" fill="#fff" stroke="#000" stroke-width="1.4" stroke-linejoin="miter"/>
<polygon points="1545.33,464.19 1555.53,474.39 1545.33,484.59 1535.13,474.39" fill="#fff" stroke="#000" stroke-width="1.4" stroke-linejoin="miter"/>
<polygon points="1555.19,469.05 1565.39,479.25 1555.19,489.45 1544.99,479.25" fill="#fff" stroke="#000" stroke-width="1.4" stroke-linejoin="miter"/>
<polygon points="1565.05,473.91 1575.25,484.11 1565.05,494.31 1554.85,484.11" fill="#fff" stroke="#000" stroke-width="1.4" stroke-linejoin="miter"/>
<polygon points="1574.91,478.75 1585.11,488.95 1574.91,499.15 1564.71,488.95" fill="#fff" stroke="#000" stroke-width="1.4" stroke-linejoin="miter"/>
<polygon points="1584.77,483.59 1594.97,493.79 1584.77,503.99 1574.57,493.79" fill="#fff" stroke="#000" stroke-width="1.4" stroke-linejoin="miter"/>
<polygon points="1594.63,488.41 1604.83,498.61 1594.63,508.81 1584.43,498.61" fill="#fff" stroke="#000" stroke-width="1.4" stroke-linejoin="miter"/>
<polygon points="1604.49,493.2 1614.69,503.4 1604.49,513.6 1594.29,503.4" fill="#fff" stroke="#000" stroke-width="1.4" stroke-linejoin="miter"/>
<polygon points="1614.34,497.97 1624.54,508.17 1614.34,518.37 1604.14,508.17" fill="#fff" stroke="#000" stroke-width="1.4" stroke-linejoin="miter"/>
<polygon points="1624.2,502.69 1634.4,512.89 1624.2,523.09 1614,512.89" fill="#fff" stroke="#000" stroke-width="1.4" stroke-linejoin="miter"/>
<polygon points="1634.06,507.37 1644.26,517.57 1634.06,527.77 1623.86,517.57" fill="#fff" stroke="#000" stroke-width="1.4" stroke-linejoin="miter"/>
<polygon points="1643.92,512 1654.12,522.2 1643.92,532.4 1633.72,522.2" fill="#fff" stroke="#000" stroke-width="1.4" stroke-linejoin="miter"/>
<polygon points="1653.78,516.56 1663.98,526.76 1653.78,536.96 1643.58,526.76" fill="#fff" stroke="#000" stroke-width="1.4" stroke-linejoin="miter"/>
<polygon points="1663.64,521.04 1673.84,531.24 1663.64,541.44 1653.44,531.24" fill="#fff" stroke="#000" stroke-width="1.4" stroke-linejoin="miter"/>
<polygon points="1673.5,525.45 1683.7,535.65 1673.5,545.85 1663.3,535.65" fill="#fff" stroke="#000" stroke-width="1.4" stroke-linejoin="miter"/>
<polygon points="1683.35,529.75 1693.55,539.95 1683.35,550.15 1673.15,539.95" fill="#fff" stroke="#000" stroke-width="1.4" stroke-linejoin="miter"/>
<polygon points="1693.21,533.95 1703.41,544.15 1693.21,554.35 1683.01,544.15" fill="#fff" stroke="#000" stroke-width="1.4" stroke-linejoin="miter"/>
<polygon points="1703.07,538.02 1713.27,548.22 1703.07,558.42 1692.87,548.22" fill="#fff" stroke="#000" stroke-width="1.4" stroke-linejoin="miter"/>
<polygon points="1712.93,541.96 1723.13,552.16 1712.93,562.36 1702.73,552.16" fill="#fff" stroke="#000" stroke-width="1.4" stroke-linejoin="miter"/>
<polygon points="1722.79,545.75 1732.99,555.95 1722.79,566.15 1712.59,555.95" fill="#fff" stroke="#000" stroke-width="1.4" stroke-linejoin="miter"/>
<polygon points="1732.65,549.38 1742.85,559.58 1732.65,569.78 1722.45,559.58" fill="#fff" stroke="#000" stroke-width="1.4" stroke-linejoin="miter"/>
<polygon points="1742.51,552.82 1752.71,563.02 1742.51,573.22 1732.31,563.02" fill="#fff" stroke="#000" stroke-width="1.4" stroke-linejoin="miter"/>
<polygon points="1752.37,556.07 1762.57,566.27 1752.37,576.47 1742.17,566.27" fill="#fff" stroke="#000" stroke-width="1.4" stroke-linejoin="miter"/>
<polygon points="1762.22,559.1 1772.42,569.3 1762.22,579.5 1752.02,569.3" fill="#fff" stroke="#000" stroke-width="1.4" stroke-linejoin="miter"/>
<polygon points="1772.08,561.89 1782.28,572.09 1772.08,582.29 1761.88,572.09" fill="#fff" stroke="#000" stroke-width="1.4" stroke-linejoin="miter"/>
<polygon points="1052.4,251.84 1062.6,262.04 1052.4,272.24 1042.2,262.04" fill="#000" stroke="#000" stroke-width="1.4" stroke-linejoin="miter"/>
<polygon points="1062.26,248.04 1072.46,258.24 1062.26,268.44 1052.06,258.24" fill="#000" stroke="#000" stroke-width="1.4" stroke-linejoin="miter"/>
<polygon points="1072.12,244.26 1082.32,254.46 1072.12,264.66 1061.92,254.46" fill="#000" stroke="#000" stroke-width="1.4" stroke-linejoin="miter"/>
<polygon points="1081.98,240.5 1092.18,250.7 1081.98,260.9 1071.78,250.7" fill="#000" stroke="#000" stroke-width="1.4" stroke-linejoin="miter"/>
<polygon points="1091.83,236.76 1102.03,246.96 1091.83,257.16 1081.63,246.96" fill="#000" stroke="#000" stroke-width="1.4" stroke-linejoin="miter"/>
<polygon points="1101.69,233.04 1111.89,243.24 1101.69,253.44 1091.49,243.24" fill="#000" stroke="#000" stroke-width="1.4" stroke-linejoin="miter"/>
<polygon points="1111.55,229.35 1121.75,239.55 1111.55,249.75 1101.35,239.55" fill="#000" stroke="#000" stroke-width="1.4" stroke-linejoin="miter"/>
<polygon points="1121.41,225.67 1131.61,235.87 1121.41,246.07 1111.21,235.87" fill="#000" stroke="#000" stroke-width="1.4" stroke-linejoin="miter"/>
<polygon points="1131.27,222.02 1141.47,232.22 1131.27,242.42 1121.07,232.22" fill="#000" stroke="#000" stroke-width="1.4" stroke-linejoin="miter"/>
<polygon points="1141.13,218.4 1151.33,228.6 1141.13,238.8 1130.93,228.6" fill="#000" stroke="#000" stroke-width="1.4" stroke-linejoin="miter"/>
<polygon points="1150.99,214.81 1161.19,225.01 1150.99,235.21 1140.79,225.01" fill="#000" stroke="#000" stroke-width="1.4" stroke-linejoin="miter"/>
<polygon points="1160.85,211.24 1171.05,221.44 1160.85,231.64 1150.65,221.44" fill="#000" stroke="#000" stroke-width="1.4" stroke-linejoin="miter"/>
<polygon points="1170.7,207.71 1180.9,217.91 1170.7,228.11 1160.5,217.91" fill="#000" stroke="#000" stroke-width="1.4" stroke-linejoin="miter"/>
<polygon points="1180.56,204.2 1190.76,214.4 1180.56,224.6 1170.36,214.4" fill="#000" stroke="#000" stroke-width="1.4" stroke-linejoin="miter"/>
<polygon points="1190.42,200.73 1200.62,210.93 1190.42,221.13 1180.22,210.93" fill="#000" stroke="#000" stroke-width="1.4" stroke-linejoin="miter"/>
<polygon points="1200.28,197.29 1210.48,207.49 1200.28,217.69 1190.08,207.49" fill="#000" stroke="#000" stroke-width="1.4" stroke-linejoin="miter"/>
<polygon points="1210.14,193.88 1220.34,204.08 1210.14,214.28 1199.94,204.08" fill="#000" stroke="#000" stroke-width="1.4" stroke-linejoin="miter"/>
<polygon points="1220,190.51 1230.2,200.71 1220,210.91 1209.8,200.71" fill="#000" stroke="#000" stroke-width="1.4" stroke-linejoin="miter"/>
<polygon points="1229.86,187.17 1240.06,197.37 1229.86,207.57 1219.66,197.37" fill="#000" stroke="#000" stroke-width="1.4" stroke-linejoin="miter"/>
<polygon points="1239.71,183.86 1249.91,194.06 1239.71,204.26 1229.51,194.06" fill="#000" stroke="#000" stroke-width="1.4" stroke-linejoin="miter"/>
<polygon points="1249.57,180.59 1259.77,190.79 1249.57,200.99 1239.37,190.79" fill="#000" stroke="#000" stroke-width="1.4" stroke-linejoin="miter"/>
<polygon points="1259.43,177.36 1269.63,187.56 1259.43,197.76 1249.23,187.56" fill="#000" stroke="#000" stroke-width="1.4" stroke-linejoin="miter"/>
<polygon points="1269.29,174.16 1279.49,184.36 1269.29,194.56 1259.09,184.36" fill="#000" stroke="#000" stroke-width="1.4" stroke-linejoin="miter"/>
<polygon points="1279.15,171 1289.35,181.2 1279.15,191.4 1268.95,181.2" fill="#000" stroke="#000" stroke-width="1.4" stroke-linejoin="miter"/>
<polygon points="1289.01,167.87 1299.21,178.07 1289.01,188.27 1278.81,178.07" fill="#000" stroke="#000" stroke-width="1.4" stroke-linejoin="miter"/>
<polygon points="1298.87,164.78 1309.07,174.98 1298.87,185.18 1288.67,174.98" fill="#000" stroke="#000" stroke-width="1.4" stroke-linejoin="miter"/>
<polygon points="1308.73,161.73 1318.93,171.93 1308.73,182.13 1298.53,171.93" fill="#000" stroke="#000" stroke-width="1.4" stroke-linejoin="miter"/>
<polygon points="1318.58,158.72 1328.78,168.92 1318.58,179.12 1308.38,168.92" fill="#000" stroke="#000" stroke-width="1.4" stroke-linejoin="miter"/>
<polygon points="1328.44,155.74 1338.64,165.94 1328.44,176.14 1318.24,165.94" fill="#000" stroke="#000" stroke-width="1.4" stroke-linejoin="miter"/>
<polygon points="1338.3,152.8 1348.5,163 1338.3,173.2 1328.1,163" fill="#000" stroke="#000" stroke-width="1.4" stroke-linejoin="miter"/>
<polygon points="1348.16,149.89 1358.36,160.09 1348.16,170.29 1337.96,160.09" fill="#000" stroke="#000" stroke-width="1.4" stroke-linejoin="miter"/>
<polygon points="1358.02,147.02 1368.22,157.22 1358.02,167.42 1347.82,157.22" fill="#000" stroke="#000" stroke-width="1.4" stroke-linejoin="miter"/>
<polygon points="1367.88,144.19 1378.08,154.39 1367.88,164.59 1357.68,154.39" fill="#000" stroke="#000" stroke-width="1.4" stroke-linejoin="miter"/>
<polygon points="1377.74,141.39 1387.94,151.59 1377.74,161.79 1367.54,151.59" fill="#000" stroke="#000" stroke-width="1.4" stroke-linejoin="miter"/>
<polygon points="1387.59,138.63 1397.79,148.83 1387.59,159.03 1377.39,148.83" fill="#000" stroke="#000" stroke-width="1.4" stroke-linejoin="miter"/>
<polygon points="1397.45,135.91 1407.65,146.11 1397.45,156.31 1387.25,146.11" fill="#000" stroke="#000" stroke-width="1.4" stroke-linejoin="miter"/>
<polygon points="1407.31,133.22 1417.51,143.42 1407.31,153.62 1397.11,143.42" fill="#000" stroke="#000" stroke-width="1.4" stroke-linejoin="miter"/>
<polygon points="1417.17,130.57 1427.37,140.77 1417.17,150.97 1406.97,140.77" fill="#000" stroke="#000" stroke-width="1.4" stroke-linejoin="miter"/>
<polygon points="1427.03,127.94 1437.23,138.14 1427.03,148.34 1416.83,138.14" fill="#000" stroke="#000" stroke-width="1.4" stroke-linejoin="miter"/>
<polygon points="1436.89,125.36 1447.09,135.56 1436.89,145.76 1426.69,135.56" fill="#000" stroke="#000" stroke-width="1.4" stroke-linejoin="miter"/>
<polygon points="1446.75,122.81 1456.95,133.01 1446.75,143.21 1436.55,133.01" fill="#000" stroke="#000" stroke-width="1.4" stroke-linejoin="miter"/>
<polygon points="1456.61,120.29 1466.81,130.49 1456.61,140.69 1446.41,130.49" fill="#000" stroke="#000" stroke-width="1.4" stroke-linejoin="miter"/>
<polygon points="1466.46,117.8 1476.66,128 1466.46,138.2 1456.26,128" fill="#000" stroke="#000" stroke-width="1.4" stroke-linejoin="miter"/>
<polygon points="1476.32,115.34 1486.52,125.54 1476.32,135.74 1466.12,125.54" fill="#000" stroke="#000" stroke-width="1.4" stroke-linejoin="miter"/>
<polygon points="1486.18,112.92 1496.38,123.12 1486.18,133.32 1475.98,123.12" fill="#000" stroke="#000" stroke-width="1.4" stroke-linejoin="miter"/>
<polygon points="1496.04,110.52 1506.24,120.72 1496.04,130.92 1485.84,120.72" fill="#000" stroke="#000" stroke-width="1.4" stroke-linejoin="miter"/>
<polygon points="1505.9,108.16 1516.1,118.36 1505.9,128.56 1495.7,118.36" fill="#000" stroke="#000" stroke-width="1.4" stroke-linejoin="miter"/>
<polygon points="1515.76,105.82 1525.96,116.02 1515.76,126.22 1505.56,116.02" fill="#000" stroke="#000" stroke-width="1.4" stroke-linejoin="miter"/>
<polygon points="1525.62,103.52 1535.82,113.72 1525.62,123.92 1515.42,113.72" fill="#000" stroke="#000" stroke-width="1.4" stroke-linejoin="miter"/>
<polygon points="1535.47,101.24 1545.67,111.44 1535.47,121.64 1525.27,111.44" fill="#000" stroke="#000" stroke-width="1.4" stroke-linejoin="miter"/>
<polygon points="1545.33,98.99 1555.53,109.19 1545.33,119.39 1535.13,109.19" fill="#000" stroke="#000" stroke-width="1.4" stroke-linejoin="miter"/>
<polygon points="1555.19,96.76 1565.39,106.96 1555.19,117.16 1544.99,106.96" fill="#000" stroke="#000" stroke-width="1.4" stroke-linejoin="miter"/>
<polygon points="1565.05,94.57 1575.25,104.77 1565.05,114.97 1554.85,104.77" fill="#000" stroke="#000" stroke-width="1.4" stroke-linejoin="miter"/>
<polygon points="1574.91,92.39 1585.11,102.59 1574.91,112.79 1564.71,102.59" fill="#000" stroke="#000" stroke-width="1.4" stroke-linejoin="miter"/>
<polygon points="1584.77,90.24 1594.97,100.44 1584.77,110.64 1574.57,100.44" fill="#000" stroke="#000" stroke-width="1.4" stroke-linejoin="miter"/>
<polygon points="1594.63,88.12 1604.83,98.32 1594.63,108.52 1584.43,98.32" fill="#000" stroke="#000" stroke-width="1.4" stroke-linejoin="miter"/>
<polygon points="1604.49,86.01 1614.69,96.21 1604.49,106.41 1594.29,96.21" fill="#000" stroke="#000" stroke-width="1.4" stroke-linejoin="miter"/>
<polygon points="1614.34,83.93 1624.54,94.13 1614.34,104.33 1604.14,94.13" fill="#000" stroke="#000" stroke-width="1.4" stroke-linejoin="miter"/>
<polygon points="1624.2,81.87 1634.4,92.07 1624.2,102.27 1614,92.07" fill="#000" stroke="#000" stroke-width="1.4" stroke-linejoin="miter"/>
<polygon points="1634.06,79.83 1644.26,90.03 1634.06,100.23 1623.86,90.03" fill="#000" stroke="#000" stroke-width="1.4" stroke-linejoin="miter"/>
<polygon points="1643.92,77.81 1654.12,88.01 1643.92,98.21 1633.72,88.01" fill="#000" stroke="#000" stroke-width="1.4" stroke-linejoin="miter"/>
<polygon points="1653.78,75.81 1663.98,86.01 1653.78,96.21 1643.58,86.01" fill="#000" stroke="#000" stroke-width="1.4" stroke-linejoin="miter"/>
<polygon points="1663.64,73.83 1673.84,84.03 1663.64,94.23 1653.44,84.03" fill="#000" stroke="#000" stroke-width="1.4" stroke-linejoin="miter"/>
<polygon points="1673.5,71.86 1683.7,82.06 1673.5,92.26 1663.3,82.06" fill="#000" stroke="#000" stroke-width="1.4" stroke-linejoin="miter"/>
<polygon points="1683.35,69.91 1693.55,80.11 1683.35,90.31 1673.15,80.11" fill="#000" stroke="#000" stroke-width="1.4" stroke-linejoin="miter"/>
<polygon points="1693.21,67.97 1703.41,78.17 1693.21,88.37 1683.01,78.17" fill="#000" stroke="#000" stroke-width="1.4" stroke-linejoin="miter"/>
<polygon points="1703.07,66.05 1713.27,76.25 1703.07,86.45 1692.87,76.25" fill="#000" stroke="#000" stroke-width="1.4" stroke-linejoin="miter"/>
<polygon points="1712.93,64.15 1723.13,74.35 1712.93,84.55 1702.73,74.35" fill="#000" stroke="#000" stroke-width="1.4" stroke-linejoin="miter"/>
<polygon points="1722.79,62.26 1732.99,72.46 1722.79,82.66 1712.59,72.46" fill="#000" stroke="#000" stroke-width="1.4" stroke-linejoin="miter"/>
<polygon points="1732.65,60.38 1742.85,70.58 1732.65,80.78 1722.45,70.58" fill="#000" stroke="#000" stroke-width="1.4" stroke-linejoin="miter"/>
<polygon points="1742.51,58.51 1752.71,68.71 1742.51,78.91 1732.31,68.71" fill="#000" stroke="#000" stroke-width="1.4" stroke-linejoin="miter"/>
<polygon points="1752.37,56.65 1762.57,66.85 1752.37,77.05 1742.17,66.85" fill="#000" stroke="#000" stroke-width="1.4" stroke-linejoin="miter"/>
<polygon points="1762.22,54.81 1772.42,65.01 1762.22,75.21 1752.02,65.01" fill="#000" stroke="#000" stroke-width="1.4" stroke-linejoin="miter"/>
<polygon points="1772.08,52.97 1782.28,63.17 1772.08,73.37 1761.88,63.17" fill="#000" stroke="#000" stroke-width="1.4" stroke-linejoin="miter"/>
</g>
<rect x="1052.4" y="31.5" width="739.4" height="543" fill="none" stroke="#333" stroke-width="1.3"/>
<line x1="1052.4" y1="574.5" x2="1052.4" y2="586" stroke="#333" stroke-width="1.3" />
<text x="1052.4" y="612.7" font-size="23.5" fill="#000" text-anchor="middle">0</text>
<line x1="1200.28" y1="574.5" x2="1200.28" y2="586" stroke="#333" stroke-width="1.3" />
<text x="1200.28" y="612.7" font-size="23.5" fill="#000" text-anchor="middle">30</text>
<line x1="1348.16" y1="574.5" x2="1348.16" y2="586" stroke="#333" stroke-width="1.3" />
<text x="1348.16" y="612.7" font-size="23.5" fill="#000" text-anchor="middle">60</text>
<line x1="1496.04" y1="574.5" x2="1496.04" y2="586" stroke="#333" stroke-width="1.3" />
<text x="1496.04" y="612.7" font-size="23.5" fill="#000" text-anchor="middle">90</text>
<line x1="1643.92" y1="574.5" x2="1643.92" y2="586" stroke="#333" stroke-width="1.3" />
<text x="1643.92" y="612.7" font-size="23.5" fill="#000" text-anchor="middle">120</text>
<line x1="1791.8" y1="574.5" x2="1791.8" y2="586" stroke="#333" stroke-width="1.3" />
<text x="1791.8" y="612.7" font-size="23.5" fill="#000" text-anchor="middle">150</text>
<line x1="1040.9" y1="574.5" x2="1052.4" y2="574.5" stroke="#333" stroke-width="1.3" />
<text x="1031.4" y="582.7" font-size="23.5" fill="#000" text-anchor="end">0</text>
<line x1="1040.9" y1="514.17" x2="1052.4" y2="514.17" stroke="#333" stroke-width="1.3" />
<text x="1031.4" y="522.37" font-size="23.5" fill="#000" text-anchor="end">4</text>
<line x1="1040.9" y1="453.83" x2="1052.4" y2="453.83" stroke="#333" stroke-width="1.3" />
<text x="1031.4" y="462.03" font-size="23.5" fill="#000" text-anchor="end">8</text>
<line x1="1040.9" y1="393.5" x2="1052.4" y2="393.5" stroke="#333" stroke-width="1.3" />
<text x="1031.4" y="401.7" font-size="23.5" fill="#000" text-anchor="end">12</text>
<line x1="1040.9" y1="333.17" x2="1052.4" y2="333.17" stroke="#333" stroke-width="1.3" />
<text x="1031.4" y="341.37" font-size="23.5" fill="#000" text-anchor="end">16</text>
<line x1="1040.9" y1="272.83" x2="1052.4" y2="272.83" stroke="#333" stroke-width="1.3" />
<text x="1031.4" y="281.03" font-size="23.5" fill="#000" text-anchor="end">20</text>
<line x1="1040.9" y1="212.5" x2="1052.4" y2="212.5" stroke="#333" stroke-width="1.3" />
<text x="1031.4" y="220.7" font-size="23.5" fill="#000" text-anchor="end">24</text>
<line x1="1040.9" y1="152.17" x2="1052.4" y2="152.17" stroke="#333" stroke-width="1.3" />
<text x="1031.4" y="160.37" font-size="23.5" fill="#000" text-anchor="end">28</text>
<line x1="1040.9" y1="91.83" x2="1052.4" y2="91.83" stroke="#333" stroke-width="1.3" />
<text x="1031.4" y="100.03" font-size="23.5" fill="#000" text-anchor="end">32</text>
<line x1="1040.9" y1="31.5" x2="1052.4" y2="31.5" stroke="#333" stroke-width="1.3" />
<text x="1031.4" y="39.7" font-size="23.5" fill="#000" text-anchor="end">36</text>
<text x="1422.1" y="653" font-size="26" fill="#000" text-anchor="middle" textLength="263" lengthAdjust="spacingAndGlyphs">Operating time (min)</text>
<text x="977" y="303" font-size="28.5" fill="#000" text-anchor="middle" transform="rotate(-90 977 303)" textLength="291" lengthAdjust="spacingAndGlyphs">Conductivity (mS cm<tspan dy="-12" font-size="19">−1</tspan><tspan dy="12">)</tspan></text>
<text x="953.8" y="33.6" font-size="40" fill="#000" font-weight="bold" textLength="28.2" lengthAdjust="spacingAndGlyphs" stroke="#000" stroke-width="0.9">b</text>
<text x="1066.4" y="544.7" font-size="27.5" fill="#000" textLength="322" lengthAdjust="spacingAndGlyphs">Cefotaxime sodium/NaCl</text>
<g transform="translate(1361 107) rotate(-15.3)">
<rect x="-113" y="-21.8" width="226" height="43.6" fill="#fff" stroke="#222" stroke-width="0.9"/>
<text x="0" y="9.9" font-size="27.5" fill="#000" text-anchor="middle" textLength="219" lengthAdjust="spacingAndGlyphs">Concentrate side</text>
</g>
<g transform="translate(1359.9 437.2) rotate(24.2)">
<rect x="-80" y="-22.25" width="160" height="44.5" fill="#fff" stroke="#222" stroke-width="0.9"/>
<text x="0" y="9.9" font-size="27.5" fill="#000" text-anchor="middle" textLength="147" lengthAdjust="spacingAndGlyphs">Diluate side</text>
</g>
<rect x="1438.4" y="166.4" width="280.7" height="208.2" fill="#fff"/>
<clipPath id="c4"><rect x="1438.4" y="166.4" width="280.7" height="208.2"/></clipPath>
<g clip-path="url(#c4)">
<line x1="1438.4" y1="272.65" x2="1719.1" y2="272.65" stroke="#ff5555" stroke-width="0.9" stroke-dasharray="1.5 1"/>
<line x1="1450.15" y1="266.68" x2="1464.08" y2="261.62" stroke="#ff7070" stroke-width="0.9" />
<line x1="1487.66" y1="253.32" x2="1501.42" y2="248.63" stroke="#ff7070" stroke-width="0.9" />
<line x1="1525.24" y1="241.06" x2="1538.69" y2="237.09" stroke="#ff7070" stroke-width="0.9" />
<line x1="1562.74" y1="230.26" x2="1576.05" y2="226.64" stroke="#ff7070" stroke-width="0.9" />
<line x1="1600.3" y1="220.58" x2="1613.34" y2="217.62" stroke="#ff7070" stroke-width="0.9" />
<line x1="1637.78" y1="212.35" x2="1650.71" y2="209.7" stroke="#ff7070" stroke-width="0.9" />
<line x1="1675.21" y1="204.7" x2="1688.14" y2="202.05" stroke="#ff7070" stroke-width="0.9" />
<line x1="1450.23" y1="274.98" x2="1463.99" y2="279.67" stroke="#ff7070" stroke-width="0.9" />
<line x1="1487.66" y1="287.73" x2="1501.42" y2="292.42" stroke="#ff7070" stroke-width="0.9" />
<line x1="1524.91" y1="300.95" x2="1539.02" y2="306.4" stroke="#ff7070" stroke-width="0.9" />
<line x1="1562.34" y1="315.4" x2="1576.45" y2="320.85" stroke="#ff7070" stroke-width="0.9" />
<line x1="1599.68" y1="330.08" x2="1613.96" y2="335.92" stroke="#ff7070" stroke-width="0.9" />
<line x1="1637.28" y1="344.92" x2="1651.21" y2="349.98" stroke="#ff7070" stroke-width="0.9" />
<line x1="1674.62" y1="358.75" x2="1688.73" y2="364.2" stroke="#ff7070" stroke-width="0.9" />
<polyline points="1438.4,364.6 1513.25,364.6 1588.11,364.6 1662.96,364.6 1700.39,364.6 1711.61,364.6" fill="none" stroke="#8080ff" stroke-width="1.2"/>
<polygon points="1438.4,260.95 1448.4,270.95 1438.4,280.95 1428.4,270.95" fill="#fff" stroke="#ff0000" stroke-width="1.3" stroke-linejoin="miter"/>
<polygon points="1475.83,273.7 1485.83,283.7 1475.83,293.7 1465.83,283.7" fill="#fff" stroke="#ff0000" stroke-width="1.3" stroke-linejoin="miter"/>
<polygon points="1513.25,286.45 1523.25,296.45 1513.25,306.45 1503.25,296.45" fill="#fff" stroke="#ff0000" stroke-width="1.3" stroke-linejoin="miter"/>
<polygon points="1550.68,300.9 1560.68,310.9 1550.68,320.9 1540.68,310.9" fill="#fff" stroke="#ff0000" stroke-width="1.3" stroke-linejoin="miter"/>
<polygon points="1588.11,315.35 1598.11,325.35 1588.11,335.35 1578.11,325.35" fill="#fff" stroke="#ff0000" stroke-width="1.3" stroke-linejoin="miter"/>
<polygon points="1625.53,330.65 1635.53,340.65 1625.53,350.65 1615.53,340.65" fill="#fff" stroke="#ff0000" stroke-width="1.3" stroke-linejoin="miter"/>
<polygon points="1662.96,344.25 1672.96,354.25 1662.96,364.25 1652.96,354.25" fill="#fff" stroke="#ff0000" stroke-width="1.3" stroke-linejoin="miter"/>
<polygon points="1700.39,358.7 1710.39,368.7 1700.39,378.7 1690.39,368.7" fill="#fff" stroke="#ff0000" stroke-width="1.3" stroke-linejoin="miter"/>
<polygon points="1707.87,360.4 1717.87,370.4 1707.87,380.4 1697.87,370.4" fill="#fff" stroke="#ff0000" stroke-width="1.3" stroke-linejoin="miter"/>
<polygon points="1711.61,360.4 1721.61,370.4 1711.61,380.4 1701.61,370.4" fill="#fff" stroke="#ff0000" stroke-width="1.3" stroke-linejoin="miter"/>
<polygon points="1438.4,260.95 1448.4,270.95 1438.4,280.95 1428.4,270.95" fill="#ff0000" stroke="#ff0000" stroke-width="1" stroke-linejoin="miter"/>
<polygon points="1475.83,247.35 1485.83,257.35 1475.83,267.35 1465.83,257.35" fill="#ff0000" stroke="#ff0000" stroke-width="1" stroke-linejoin="miter"/>
<polygon points="1513.25,234.6 1523.25,244.6 1513.25,254.6 1503.25,244.6" fill="#ff0000" stroke="#ff0000" stroke-width="1" stroke-linejoin="miter"/>
<polygon points="1550.68,223.55 1560.68,233.55 1550.68,243.55 1540.68,233.55" fill="#ff0000" stroke="#ff0000" stroke-width="1" stroke-linejoin="miter"/>
<polygon points="1588.11,213.35 1598.11,223.35 1588.11,233.35 1578.11,223.35" fill="#ff0000" stroke="#ff0000" stroke-width="1" stroke-linejoin="miter"/>
<polygon points="1625.53,204.85 1635.53,214.85 1625.53,224.85 1615.53,214.85" fill="#ff0000" stroke="#ff0000" stroke-width="1" stroke-linejoin="miter"/>
<polygon points="1662.96,197.2 1672.96,207.2 1662.96,217.2 1652.96,207.2" fill="#ff0000" stroke="#ff0000" stroke-width="1" stroke-linejoin="miter"/>
<polygon points="1700.39,189.55 1710.39,199.55 1700.39,209.55 1690.39,199.55" fill="#ff0000" stroke="#ff0000" stroke-width="1" stroke-linejoin="miter"/>
<polygon points="1707.87,188.7 1717.87,198.7 1707.87,208.7 1697.87,198.7" fill="#ff0000" stroke="#ff0000" stroke-width="1" stroke-linejoin="miter"/>
<polygon points="1711.61,187.85 1721.61,197.85 1711.61,207.85 1701.61,197.85" fill="#ff0000" stroke="#ff0000" stroke-width="1" stroke-linejoin="miter"/>
<polygon points="1438.4,358 1445,364.6 1438.4,371.2 1431.8,364.6" fill="#0000ff" stroke="#0000ff" stroke-width="0.8" stroke-linejoin="miter"/>
<polygon points="1513.25,358 1519.85,364.6 1513.25,371.2 1506.65,364.6" fill="#0000ff" stroke="#0000ff" stroke-width="0.8" stroke-linejoin="miter"/>
<polygon points="1588.11,358 1594.71,364.6 1588.11,371.2 1581.51,364.6" fill="#0000ff" stroke="#0000ff" stroke-width="0.8" stroke-linejoin="miter"/>
<polygon points="1662.96,358 1669.56,364.6 1662.96,371.2 1656.36,364.6" fill="#0000ff" stroke="#0000ff" stroke-width="0.8" stroke-linejoin="miter"/>
<polygon points="1700.39,358 1706.99,364.6 1700.39,371.2 1693.79,364.6" fill="#0000ff" stroke="#0000ff" stroke-width="0.8" stroke-linejoin="miter"/>
<polygon points="1711.61,358 1718.21,364.6 1711.61,371.2 1705.01,364.6" fill="#0000ff" stroke="#0000ff" stroke-width="0.8" stroke-linejoin="miter"/>
</g>
<line x1="1438.4" y1="166.4" x2="1719.1" y2="166.4" stroke="#333" stroke-width="1.2" />
<line x1="1438.4" y1="374.6" x2="1719.1" y2="374.6" stroke="#333" stroke-width="1.6" />
<line x1="1438.4" y1="166.4" x2="1438.4" y2="374.6" stroke="#ff0000" stroke-width="1.2" />
<line x1="1719.1" y1="166.4" x2="1719.1" y2="374.6" stroke="#0000ff" stroke-width="1.2" />
<line x1="1432.9" y1="370.4" x2="1438.4" y2="370.4" stroke="#ff0000" stroke-width="1.2" />
<text x="1427.4" y="376.1" font-size="16" fill="#ff0000" text-anchor="end">0</text>
<line x1="1432.9" y1="336.4" x2="1438.4" y2="336.4" stroke="#ff0000" stroke-width="1.2" />
<text x="1427.4" y="342.1" font-size="16" fill="#ff0000" text-anchor="end">4</text>
<line x1="1432.9" y1="302.4" x2="1438.4" y2="302.4" stroke="#ff0000" stroke-width="1.2" />
<text x="1427.4" y="308.1" font-size="16" fill="#ff0000" text-anchor="end">8</text>
<line x1="1432.9" y1="268.4" x2="1438.4" y2="268.4" stroke="#ff0000" stroke-width="1.2" />
<text x="1427.4" y="274.1" font-size="16" fill="#ff0000" text-anchor="end">12</text>
<line x1="1432.9" y1="234.4" x2="1438.4" y2="234.4" stroke="#ff0000" stroke-width="1.2" />
<text x="1427.4" y="240.1" font-size="16" fill="#ff0000" text-anchor="end">16</text>
<line x1="1432.9" y1="200.4" x2="1438.4" y2="200.4" stroke="#ff0000" stroke-width="1.2" />
<text x="1427.4" y="206.1" font-size="16" fill="#ff0000" text-anchor="end">20</text>
<line x1="1432.9" y1="166.4" x2="1438.4" y2="166.4" stroke="#ff0000" stroke-width="1.2" />
<text x="1427.4" y="172.1" font-size="16" fill="#ff0000" text-anchor="end">24</text>
<line x1="1719.1" y1="364.6" x2="1725.1" y2="364.6" stroke="#0000ff" stroke-width="1.2" />
<text x="1730.1" y="370.3" font-size="16" fill="#0000ff">0</text>
<line x1="1719.1" y1="324.96" x2="1725.1" y2="324.96" stroke="#0000ff" stroke-width="1.2" />
<text x="1730.1" y="330.66" font-size="16" fill="#0000ff">0.2</text>
<line x1="1719.1" y1="285.32" x2="1725.1" y2="285.32" stroke="#0000ff" stroke-width="1.2" />
<text x="1730.1" y="291.02" font-size="16" fill="#0000ff">0.4</text>
<line x1="1719.1" y1="245.68" x2="1725.1" y2="245.68" stroke="#0000ff" stroke-width="1.2" />
<text x="1730.1" y="251.38" font-size="16" fill="#0000ff">0.6</text>
<line x1="1719.1" y1="206.04" x2="1725.1" y2="206.04" stroke="#0000ff" stroke-width="1.2" />
<text x="1730.1" y="211.74" font-size="16" fill="#0000ff">0.8</text>
<line x1="1719.1" y1="166.4" x2="1725.1" y2="166.4" stroke="#0000ff" stroke-width="1.2" />
<text x="1730.1" y="172.1" font-size="16" fill="#0000ff">1.0</text>
<line x1="1438.4" y1="374.6" x2="1438.4" y2="380.6" stroke="#333" stroke-width="1.2" />
<text x="1438.4" y="399.1" font-size="16" fill="#000" text-anchor="middle">0</text>
<line x1="1494.54" y1="374.6" x2="1494.54" y2="380.6" stroke="#333" stroke-width="1.2" />
<text x="1494.54" y="399.1" font-size="16" fill="#000" text-anchor="middle">30</text>
<line x1="1550.68" y1="374.6" x2="1550.68" y2="380.6" stroke="#333" stroke-width="1.2" />
<text x="1550.68" y="399.1" font-size="16" fill="#000" text-anchor="middle">60</text>
<line x1="1606.82" y1="374.6" x2="1606.82" y2="380.6" stroke="#333" stroke-width="1.2" />
<text x="1606.82" y="399.1" font-size="16" fill="#000" text-anchor="middle">90</text>
<line x1="1662.96" y1="374.6" x2="1662.96" y2="380.6" stroke="#333" stroke-width="1.2" />
<text x="1662.96" y="399.1" font-size="16" fill="#000" text-anchor="middle">120</text>
<line x1="1719.1" y1="374.6" x2="1719.1" y2="380.6" stroke="#333" stroke-width="1.2" />
<text x="1719.1" y="399.1" font-size="16" fill="#000" text-anchor="middle">150</text>
<text x="1578.75" y="424.6" font-size="20" fill="#000" text-anchor="middle" textLength="104" lengthAdjust="spacingAndGlyphs">Time (min)</text>
<text x="1393.6" y="272.5" font-size="20.5" fill="#ff0000" text-anchor="middle" transform="rotate(-90 1393.6 272.5)" textLength="182" lengthAdjust="spacingAndGlyphs">NaCl content (g l<tspan dy="-8.5" font-size="14">−1</tspan><tspan dy="8.5">)</tspan></text>
<text x="1766.1" y="272.5" font-size="20.5" fill="#0000ff" text-anchor="middle" transform="rotate(90 1766.1 272.5)" textLength="228" lengthAdjust="spacingAndGlyphs">Antibiotic content (g l<tspan dy="-8.5" font-size="14">−1</tspan><tspan dy="8.5">)</tspan></text>
<text x="1588" y="255" font-size="20" fill="#ff0000" text-anchor="middle" transform="rotate(-17 1588 255)" textLength="122" lengthAdjust="spacingAndGlyphs">Concentrate</text>
<text x="1562" y="300" font-size="20" fill="#ff0000" text-anchor="middle" transform="rotate(20 1562 300)" textLength="68" lengthAdjust="spacingAndGlyphs">Diluate</text>
<path d="M1550 226 C1548 210 1530 208.5 1499.37 208.9" fill="none" stroke="#ff0000" stroke-width="2"/>
<polygon points="1491.5,209 1501.93,203.66 1497.8,208.92 1502.07,214.06" fill="#ff0000"/>
<path d="M1510 298 C1507 316 1490 317 1466.37 317.75" fill="none" stroke="#ff0000" stroke-width="2"/>
<polygon points="1458.5,318 1468.83,312.47 1464.8,317.8 1469.16,322.86" fill="#ff0000"/>
<path d="M1510 358 C1511 345 1530 343 1561.13 342.6" fill="none" stroke="#0000ff" stroke-width="2"/>
<polygon points="1569,342.5 1558.57,347.83 1562.7,342.58 1558.43,337.44" fill="#0000ff"/>
<clipPath id="c5"><rect x="108.3" y="726.7" width="743.2" height="546.3"/></clipPath>
<g clip-path="url(#c5)">
<polygon points="108.3,951.39 118,958.44 114.3,969.84 102.3,969.84 98.6,958.44" fill="#fff" stroke="#000" stroke-width="1.4" stroke-linejoin="miter"/>
<polygon points="118.21,954.67 127.91,961.72 124.2,973.12 112.21,973.12 108.51,961.72" fill="#fff" stroke="#000" stroke-width="1.4" stroke-linejoin="miter"/>
<polygon points="128.12,958.04 137.82,965.09 134.11,976.49 122.12,976.49 118.42,965.09" fill="#fff" stroke="#000" stroke-width="1.4" stroke-linejoin="miter"/>
<polygon points="138.03,961.49 147.73,968.54 144.02,979.95 132.03,979.95 128.33,968.54" fill="#fff" stroke="#000" stroke-width="1.4" stroke-linejoin="miter"/>
<polygon points="147.94,965.02 157.64,972.07 153.93,983.47 141.94,983.47 138.24,972.07" fill="#fff" stroke="#000" stroke-width="1.4" stroke-linejoin="miter"/>
<polygon points="157.85,968.61 167.55,975.66 163.84,987.06 151.85,987.06 148.15,975.66" fill="#fff" stroke="#000" stroke-width="1.4" stroke-linejoin="miter"/>
<polygon points="167.76,972.26 177.46,979.31 173.75,990.71 161.76,990.71 158.06,979.31" fill="#fff" stroke="#000" stroke-width="1.4" stroke-linejoin="miter"/>
<polygon points="177.67,975.97 187.37,983.02 183.66,994.42 171.67,994.42 167.96,983.02" fill="#fff" stroke="#000" stroke-width="1.4" stroke-linejoin="miter"/>
<polygon points="187.57,979.72 197.28,986.77 193.57,998.18 181.58,998.18 177.87,986.77" fill="#fff" stroke="#000" stroke-width="1.4" stroke-linejoin="miter"/>
<polygon points="197.48,983.53 207.18,990.57 203.48,1001.98 191.49,1001.98 187.78,990.57" fill="#fff" stroke="#000" stroke-width="1.4" stroke-linejoin="miter"/>
<polygon points="207.39,987.37 217.09,994.41 213.39,1005.82 201.4,1005.82 197.69,994.41" fill="#fff" stroke="#000" stroke-width="1.4" stroke-linejoin="miter"/>
<polygon points="217.3,991.24 227,998.29 223.3,1009.7 211.31,1009.7 207.6,998.29" fill="#fff" stroke="#000" stroke-width="1.4" stroke-linejoin="miter"/>
<polygon points="227.21,995.16 236.91,1002.21 233.21,1013.61 221.22,1013.61 217.51,1002.21" fill="#fff" stroke="#000" stroke-width="1.4" stroke-linejoin="miter"/>
<polygon points="237.12,999.1 246.82,1006.15 243.12,1017.55 231.13,1017.55 227.42,1006.15" fill="#fff" stroke="#000" stroke-width="1.4" stroke-linejoin="miter"/>
<polygon points="247.03,1003.07 256.73,1010.12 253.03,1021.52 241.04,1021.52 237.33,1010.12" fill="#fff" stroke="#000" stroke-width="1.4" stroke-linejoin="miter"/>
<polygon points="256.94,1007.07 266.64,1014.12 262.94,1025.52 250.94,1025.52 247.24,1014.12" fill="#fff" stroke="#000" stroke-width="1.4" stroke-linejoin="miter"/>
<polygon points="266.85,1011.1 276.55,1018.14 272.84,1029.55 260.85,1029.55 257.15,1018.14" fill="#fff" stroke="#000" stroke-width="1.4" stroke-linejoin="miter"/>
<polygon points="276.76,1015.14 286.46,1022.19 282.75,1033.6 270.76,1033.6 267.06,1022.19" fill="#fff" stroke="#000" stroke-width="1.4" stroke-linejoin="miter"/>
<polygon points="286.67,1019.22 296.37,1026.26 292.66,1037.67 280.67,1037.67 276.97,1026.26" fill="#fff" stroke="#000" stroke-width="1.4" stroke-linejoin="miter"/>
<polygon points="296.58,1023.31 306.28,1030.36 302.57,1041.76 290.58,1041.76 286.88,1030.36" fill="#fff" stroke="#000" stroke-width="1.4" stroke-linejoin="miter"/>
<polygon points="306.49,1027.43 316.19,1034.47 312.48,1045.88 300.49,1045.88 296.79,1034.47" fill="#fff" stroke="#000" stroke-width="1.4" stroke-linejoin="miter"/>
<polygon points="316.4,1031.56 326.1,1038.61 322.39,1050.02 310.4,1050.02 306.7,1038.61" fill="#fff" stroke="#000" stroke-width="1.4" stroke-linejoin="miter"/>
<polygon points="326.31,1035.72 336.01,1042.77 332.3,1054.18 320.31,1054.18 316.6,1042.77" fill="#fff" stroke="#000" stroke-width="1.4" stroke-linejoin="miter"/>
<polygon points="336.21,1039.91 345.92,1046.95 342.21,1058.36 330.22,1058.36 326.51,1046.95" fill="#fff" stroke="#000" stroke-width="1.4" stroke-linejoin="miter"/>
<polygon points="346.12,1044.11 355.82,1051.16 352.12,1062.56 340.13,1062.56 336.42,1051.16" fill="#fff" stroke="#000" stroke-width="1.4" stroke-linejoin="miter"/>
<polygon points="356.03,1048.34 365.73,1055.39 362.03,1066.79 350.04,1066.79 346.33,1055.39" fill="#fff" stroke="#000" stroke-width="1.4" stroke-linejoin="miter"/>
<polygon points="365.94,1052.59 375.64,1059.64 371.94,1071.04 359.95,1071.04 356.24,1059.64" fill="#fff" stroke="#000" stroke-width="1.4" stroke-linejoin="miter"/>
<polygon points="375.85,1056.87 385.55,1063.92 381.85,1075.32 369.86,1075.32 366.15,1063.92" fill="#fff" stroke="#000" stroke-width="1.4" stroke-linejoin="miter"/>
<polygon points="385.76,1061.17 395.46,1068.22 391.76,1079.63 379.77,1079.63 376.06,1068.22" fill="#fff" stroke="#000" stroke-width="1.4" stroke-linejoin="miter"/>
<polygon points="395.67,1065.5 405.37,1072.55 401.67,1083.96 389.68,1083.96 385.97,1072.55" fill="#fff" stroke="#000" stroke-width="1.4" stroke-linejoin="miter"/>
<polygon points="405.58,1069.86 415.28,1076.91 411.58,1088.31 399.58,1088.31 395.88,1076.91" fill="#fff" stroke="#000" stroke-width="1.4" stroke-linejoin="miter"/>
<polygon points="415.49,1074.25 425.19,1081.29 421.48,1092.7 409.49,1092.7 405.79,1081.29" fill="#fff" stroke="#000" stroke-width="1.4" stroke-linejoin="miter"/>
<polygon points="425.4,1078.66 435.1,1085.71 431.39,1097.11 419.4,1097.11 415.7,1085.71" fill="#fff" stroke="#000" stroke-width="1.4" stroke-linejoin="miter"/>
<polygon points="435.31,1083.11 445.01,1090.16 441.3,1101.56 429.31,1101.56 425.61,1090.16" fill="#fff" stroke="#000" stroke-width="1.4" stroke-linejoin="miter"/>
<polygon points="445.22,1087.58 454.92,1094.63 451.21,1106.04 439.22,1106.04 435.52,1094.63" fill="#fff" stroke="#000" stroke-width="1.4" stroke-linejoin="miter"/>
<polygon points="455.13,1092.09 464.83,1099.14 461.12,1110.54 449.13,1110.54 445.43,1099.14" fill="#fff" stroke="#000" stroke-width="1.4" stroke-linejoin="miter"/>
<polygon points="465.04,1096.63 474.74,1103.68 471.03,1115.09 459.04,1115.09 455.34,1103.68" fill="#fff" stroke="#000" stroke-width="1.4" stroke-linejoin="miter"/>
<polygon points="474.95,1101.21 484.65,1108.26 480.94,1119.66 468.95,1119.66 465.24,1108.26" fill="#fff" stroke="#000" stroke-width="1.4" stroke-linejoin="miter"/>
<polygon points="484.85,1105.81 494.56,1112.86 490.85,1124.27 478.86,1124.27 475.15,1112.86" fill="#fff" stroke="#000" stroke-width="1.4" stroke-linejoin="miter"/>
<polygon points="494.76,1110.45 504.46,1117.5 500.76,1128.91 488.77,1128.91 485.06,1117.5" fill="#fff" stroke="#000" stroke-width="1.4" stroke-linejoin="miter"/>
<polygon points="504.67,1115.13 514.37,1122.17 510.67,1133.58 498.68,1133.58 494.97,1122.17" fill="#fff" stroke="#000" stroke-width="1.4" stroke-linejoin="miter"/>
<polygon points="514.58,1119.83 524.28,1126.88 520.58,1138.28 508.59,1138.28 504.88,1126.88" fill="#fff" stroke="#000" stroke-width="1.4" stroke-linejoin="miter"/>
<polygon points="524.49,1124.57 534.19,1131.62 530.49,1143.02 518.5,1143.02 514.79,1131.62" fill="#fff" stroke="#000" stroke-width="1.4" stroke-linejoin="miter"/>
<polygon points="534.4,1129.34 544.1,1136.38 540.4,1147.79 528.41,1147.79 524.7,1136.38" fill="#fff" stroke="#000" stroke-width="1.4" stroke-linejoin="miter"/>
<polygon points="544.31,1134.13 554.01,1141.18 550.31,1152.59 538.32,1152.59 534.61,1141.18" fill="#fff" stroke="#000" stroke-width="1.4" stroke-linejoin="miter"/>
<polygon points="554.22,1138.96 563.92,1146.01 560.22,1157.41 548.22,1157.41 544.52,1146.01" fill="#fff" stroke="#000" stroke-width="1.4" stroke-linejoin="miter"/>
<polygon points="564.13,1143.81 573.83,1150.86 570.12,1162.26 558.13,1162.26 554.43,1150.86" fill="#fff" stroke="#000" stroke-width="1.4" stroke-linejoin="miter"/>
<polygon points="574.04,1148.69 583.74,1155.74 580.03,1167.14 568.04,1167.14 564.34,1155.74" fill="#fff" stroke="#000" stroke-width="1.4" stroke-linejoin="miter"/>
<polygon points="583.95,1153.58 593.65,1160.63 589.94,1172.04 577.95,1172.04 574.25,1160.63" fill="#fff" stroke="#000" stroke-width="1.4" stroke-linejoin="miter"/>
<polygon points="593.86,1158.5 603.56,1165.55 599.85,1176.95 587.86,1176.95 584.16,1165.55" fill="#fff" stroke="#000" stroke-width="1.4" stroke-linejoin="miter"/>
<polygon points="603.77,1163.43 613.47,1170.48 609.76,1181.88 597.77,1181.88 594.07,1170.48" fill="#fff" stroke="#000" stroke-width="1.4" stroke-linejoin="miter"/>
<polygon points="613.68,1168.37 623.38,1175.41 619.67,1186.82 607.68,1186.82 603.98,1175.41" fill="#fff" stroke="#000" stroke-width="1.4" stroke-linejoin="miter"/>
<polygon points="623.59,1173.31 633.29,1180.36 629.58,1191.76 617.59,1191.76 613.88,1180.36" fill="#fff" stroke="#000" stroke-width="1.4" stroke-linejoin="miter"/>
<polygon points="633.49,1178.25 643.2,1185.3 639.49,1196.71 627.5,1196.71 623.79,1185.3" fill="#fff" stroke="#000" stroke-width="1.4" stroke-linejoin="miter"/>
<polygon points="643.4,1183.19 653.1,1190.24 649.4,1201.65 637.41,1201.65 633.7,1190.24" fill="#fff" stroke="#000" stroke-width="1.4" stroke-linejoin="miter"/>
<polygon points="653.31,1188.12 663.01,1195.17 659.31,1206.57 647.32,1206.57 643.61,1195.17" fill="#fff" stroke="#000" stroke-width="1.4" stroke-linejoin="miter"/>
<polygon points="663.22,1193.03 672.92,1200.08 669.22,1211.48 657.23,1211.48 653.52,1200.08" fill="#fff" stroke="#000" stroke-width="1.4" stroke-linejoin="miter"/>
<polygon points="673.13,1197.91 682.83,1204.96 679.13,1216.36 667.14,1216.36 663.43,1204.96" fill="#fff" stroke="#000" stroke-width="1.4" stroke-linejoin="miter"/>
<polygon points="683.04,1202.76 692.74,1209.81 689.04,1221.21 677.05,1221.21 673.34,1209.81" fill="#fff" stroke="#000" stroke-width="1.4" stroke-linejoin="miter"/>
<polygon points="692.95,1207.56 702.65,1214.61 698.95,1226.01 686.96,1226.01 683.25,1214.61" fill="#fff" stroke="#000" stroke-width="1.4" stroke-linejoin="miter"/>
<polygon points="702.86,1212.31 712.56,1219.36 708.86,1230.76 696.86,1230.76 693.16,1219.36" fill="#fff" stroke="#000" stroke-width="1.4" stroke-linejoin="miter"/>
<polygon points="712.77,1217 722.47,1224.05 718.76,1235.45 706.77,1235.45 703.07,1224.05" fill="#fff" stroke="#000" stroke-width="1.4" stroke-linejoin="miter"/>
<polygon points="722.68,1221.61 732.38,1228.66 728.67,1240.07 716.68,1240.07 712.98,1228.66" fill="#fff" stroke="#000" stroke-width="1.4" stroke-linejoin="miter"/>
<polygon points="732.59,1226.14 742.29,1233.19 738.58,1244.59 726.59,1244.59 722.89,1233.19" fill="#fff" stroke="#000" stroke-width="1.4" stroke-linejoin="miter"/>
<polygon points="742.5,1230.57 752.2,1237.62 748.49,1249.02 736.5,1249.02 732.8,1237.62" fill="#fff" stroke="#000" stroke-width="1.4" stroke-linejoin="miter"/>
<polygon points="752.41,1234.89 762.11,1241.94 758.4,1253.34 746.41,1253.34 742.71,1241.94" fill="#fff" stroke="#000" stroke-width="1.4" stroke-linejoin="miter"/>
<polygon points="762.32,1239.08 772.02,1246.13 768.31,1257.53 756.32,1257.53 752.62,1246.13" fill="#fff" stroke="#000" stroke-width="1.4" stroke-linejoin="miter"/>
<polygon points="772.23,1243.13 781.93,1250.18 778.22,1261.58 766.23,1261.58 762.52,1250.18" fill="#fff" stroke="#000" stroke-width="1.4" stroke-linejoin="miter"/>
<polygon points="782.13,1247.02 791.84,1254.07 788.13,1265.47 776.14,1265.47 772.43,1254.07" fill="#fff" stroke="#000" stroke-width="1.4" stroke-linejoin="miter"/>
<polygon points="792.04,1250.74 801.74,1257.79 798.04,1269.19 786.05,1269.19 782.34,1257.79" fill="#fff" stroke="#000" stroke-width="1.4" stroke-linejoin="miter"/>
<polygon points="801.95,1254.27 811.65,1261.31 807.95,1272.72 795.96,1272.72 792.25,1261.31" fill="#fff" stroke="#000" stroke-width="1.4" stroke-linejoin="miter"/>
<polygon points="811.86,1257.58 821.56,1264.63 817.86,1276.03 805.87,1276.03 802.16,1264.63" fill="#fff" stroke="#000" stroke-width="1.4" stroke-linejoin="miter"/>
<polygon points="821.77,1260.66 831.47,1267.71 827.77,1279.12 815.78,1279.12 812.07,1267.71" fill="#fff" stroke="#000" stroke-width="1.4" stroke-linejoin="miter"/>
<polygon points="108.3,948.32 118,955.37 114.3,966.77 102.3,966.77 98.6,955.37" fill="#000" stroke="#000" stroke-width="1.4" stroke-linejoin="miter"/>
<polygon points="118.21,944.57 127.91,951.62 124.2,963.02 112.21,963.02 108.51,951.62" fill="#000" stroke="#000" stroke-width="1.4" stroke-linejoin="miter"/>
<polygon points="128.12,940.85 137.82,947.9 134.11,959.3 122.12,959.3 118.42,947.9" fill="#000" stroke="#000" stroke-width="1.4" stroke-linejoin="miter"/>
<polygon points="138.03,937.16 147.73,944.2 144.02,955.61 132.03,955.61 128.33,944.2" fill="#000" stroke="#000" stroke-width="1.4" stroke-linejoin="miter"/>
<polygon points="147.94,933.49 157.64,940.53 153.93,951.94 141.94,951.94 138.24,940.53" fill="#000" stroke="#000" stroke-width="1.4" stroke-linejoin="miter"/>
<polygon points="157.85,929.84 167.55,936.89 163.84,948.29 151.85,948.29 148.15,936.89" fill="#000" stroke="#000" stroke-width="1.4" stroke-linejoin="miter"/>
<polygon points="167.76,926.22 177.46,933.27 173.75,944.67 161.76,944.67 158.06,933.27" fill="#000" stroke="#000" stroke-width="1.4" stroke-linejoin="miter"/>
<polygon points="177.67,922.63 187.37,929.68 183.66,941.08 171.67,941.08 167.96,929.68" fill="#000" stroke="#000" stroke-width="1.4" stroke-linejoin="miter"/>
<polygon points="187.57,919.06 197.28,926.11 193.57,937.52 181.58,937.52 177.87,926.11" fill="#000" stroke="#000" stroke-width="1.4" stroke-linejoin="miter"/>
<polygon points="197.48,915.53 207.18,922.58 203.48,933.98 191.49,933.98 187.78,922.58" fill="#000" stroke="#000" stroke-width="1.4" stroke-linejoin="miter"/>
<polygon points="207.39,912.02 217.09,919.06 213.39,930.47 201.4,930.47 197.69,919.06" fill="#000" stroke="#000" stroke-width="1.4" stroke-linejoin="miter"/>
<polygon points="217.3,908.53 227,915.58 223.3,926.99 211.31,926.99 207.6,915.58" fill="#000" stroke="#000" stroke-width="1.4" stroke-linejoin="miter"/>
<polygon points="227.21,905.08 236.91,912.13 233.21,923.53 221.22,923.53 217.51,912.13" fill="#000" stroke="#000" stroke-width="1.4" stroke-linejoin="miter"/>
<polygon points="237.12,901.65 246.82,908.7 243.12,920.1 231.13,920.1 227.42,908.7" fill="#000" stroke="#000" stroke-width="1.4" stroke-linejoin="miter"/>
<polygon points="247.03,898.25 256.73,905.3 253.03,916.7 241.04,916.7 237.33,905.3" fill="#000" stroke="#000" stroke-width="1.4" stroke-linejoin="miter"/>
<polygon points="256.94,894.88 266.64,901.93 262.94,913.33 250.94,913.33 247.24,901.93" fill="#000" stroke="#000" stroke-width="1.4" stroke-linejoin="miter"/>
<polygon points="266.85,891.54 276.55,898.58 272.84,909.99 260.85,909.99 257.15,898.58" fill="#000" stroke="#000" stroke-width="1.4" stroke-linejoin="miter"/>
<polygon points="276.76,888.22 286.46,895.27 282.75,906.67 270.76,906.67 267.06,895.27" fill="#000" stroke="#000" stroke-width="1.4" stroke-linejoin="miter"/>
<polygon points="286.67,884.93 296.37,891.98 292.66,903.39 280.67,903.39 276.97,891.98" fill="#000" stroke="#000" stroke-width="1.4" stroke-linejoin="miter"/>
<polygon points="296.58,881.68 306.28,888.72 302.57,900.13 290.58,900.13 286.88,888.72" fill="#000" stroke="#000" stroke-width="1.4" stroke-linejoin="miter"/>
<polygon points="306.49,878.45 316.19,885.49 312.48,896.9 300.49,896.9 296.79,885.49" fill="#000" stroke="#000" stroke-width="1.4" stroke-linejoin="miter"/>
<polygon points="316.4,875.24 326.1,882.29 322.39,893.69 310.4,893.69 306.7,882.29" fill="#000" stroke="#000" stroke-width="1.4" stroke-linejoin="miter"/>
<polygon points="326.31,872.07 336.01,879.12 332.3,890.52 320.31,890.52 316.6,879.12" fill="#000" stroke="#000" stroke-width="1.4" stroke-linejoin="miter"/>
<polygon points="336.21,868.92 345.92,875.97 342.21,887.37 330.22,887.37 326.51,875.97" fill="#000" stroke="#000" stroke-width="1.4" stroke-linejoin="miter"/>
<polygon points="346.12,865.8 355.82,872.85 352.12,884.26 340.13,884.26 336.42,872.85" fill="#000" stroke="#000" stroke-width="1.4" stroke-linejoin="miter"/>
<polygon points="356.03,862.71 365.73,869.76 362.03,881.17 350.04,881.17 346.33,869.76" fill="#000" stroke="#000" stroke-width="1.4" stroke-linejoin="miter"/>
<polygon points="365.94,859.65 375.64,866.7 371.94,878.1 359.95,878.1 356.24,866.7" fill="#000" stroke="#000" stroke-width="1.4" stroke-linejoin="miter"/>
<polygon points="375.85,856.62 385.55,863.67 381.85,875.07 369.86,875.07 366.15,863.67" fill="#000" stroke="#000" stroke-width="1.4" stroke-linejoin="miter"/>
<polygon points="385.76,853.61 395.46,860.66 391.76,872.06 379.77,872.06 376.06,860.66" fill="#000" stroke="#000" stroke-width="1.4" stroke-linejoin="miter"/>
<polygon points="395.67,850.63 405.37,857.68 401.67,869.08 389.68,869.08 385.97,857.68" fill="#000" stroke="#000" stroke-width="1.4" stroke-linejoin="miter"/>
<polygon points="405.58,847.68 415.28,854.73 411.58,866.13 399.58,866.13 395.88,854.73" fill="#000" stroke="#000" stroke-width="1.4" stroke-linejoin="miter"/>
<polygon points="415.49,844.76 425.19,851.81 421.48,863.21 409.49,863.21 405.79,851.81" fill="#000" stroke="#000" stroke-width="1.4" stroke-linejoin="miter"/>
<polygon points="425.4,841.86 435.1,848.91 431.39,860.32 419.4,860.32 415.7,848.91" fill="#000" stroke="#000" stroke-width="1.4" stroke-linejoin="miter"/>
<polygon points="435.31,839 445.01,846.04 441.3,857.45 429.31,857.45 425.61,846.04" fill="#000" stroke="#000" stroke-width="1.4" stroke-linejoin="miter"/>
<polygon points="445.22,836.16 454.92,843.2 451.21,854.61 439.22,854.61 435.52,843.2" fill="#000" stroke="#000" stroke-width="1.4" stroke-linejoin="miter"/>
<polygon points="455.13,833.34 464.83,840.39 461.12,851.79 449.13,851.79 445.43,840.39" fill="#000" stroke="#000" stroke-width="1.4" stroke-linejoin="miter"/>
<polygon points="465.04,830.56 474.74,837.61 471.03,849.01 459.04,849.01 455.34,837.61" fill="#000" stroke="#000" stroke-width="1.4" stroke-linejoin="miter"/>
<polygon points="474.95,827.8 484.65,834.85 480.94,846.25 468.95,846.25 465.24,834.85" fill="#000" stroke="#000" stroke-width="1.4" stroke-linejoin="miter"/>
<polygon points="484.85,825.07 494.56,832.12 490.85,843.52 478.86,843.52 475.15,832.12" fill="#000" stroke="#000" stroke-width="1.4" stroke-linejoin="miter"/>
<polygon points="494.76,822.37 504.46,829.42 500.76,840.82 488.77,840.82 485.06,829.42" fill="#000" stroke="#000" stroke-width="1.4" stroke-linejoin="miter"/>
<polygon points="504.67,819.7 514.37,826.75 510.67,838.15 498.68,838.15 494.97,826.75" fill="#000" stroke="#000" stroke-width="1.4" stroke-linejoin="miter"/>
<polygon points="514.58,817.05 524.28,824.1 520.58,835.51 508.59,835.51 504.88,824.1" fill="#000" stroke="#000" stroke-width="1.4" stroke-linejoin="miter"/>
<polygon points="524.49,814.44 534.19,821.49 530.49,832.89 518.5,832.89 514.79,821.49" fill="#000" stroke="#000" stroke-width="1.4" stroke-linejoin="miter"/>
<polygon points="534.4,811.85 544.1,818.9 540.4,830.3 528.41,830.3 524.7,818.9" fill="#000" stroke="#000" stroke-width="1.4" stroke-linejoin="miter"/>
<polygon points="544.31,809.29 554.01,816.34 550.31,827.74 538.32,827.74 534.61,816.34" fill="#000" stroke="#000" stroke-width="1.4" stroke-linejoin="miter"/>
<polygon points="554.22,806.76 563.92,813.81 560.22,825.21 548.22,825.21 544.52,813.81" fill="#000" stroke="#000" stroke-width="1.4" stroke-linejoin="miter"/>
<polygon points="564.13,804.26 573.83,811.31 570.12,822.71 558.13,822.71 554.43,811.31" fill="#000" stroke="#000" stroke-width="1.4" stroke-linejoin="miter"/>
<polygon points="574.04,801.79 583.74,808.84 580.03,820.24 568.04,820.24 564.34,808.84" fill="#000" stroke="#000" stroke-width="1.4" stroke-linejoin="miter"/>
<polygon points="583.95,799.35 593.65,806.4 589.94,817.8 577.95,817.8 574.25,806.4" fill="#000" stroke="#000" stroke-width="1.4" stroke-linejoin="miter"/>
<polygon points="593.86,796.94 603.56,803.99 599.85,815.39 587.86,815.39 584.16,803.99" fill="#000" stroke="#000" stroke-width="1.4" stroke-linejoin="miter"/>
<polygon points="603.77,794.56 613.47,801.61 609.76,813.01 597.77,813.01 594.07,801.61" fill="#000" stroke="#000" stroke-width="1.4" stroke-linejoin="miter"/>
<polygon points="613.68,792.21 623.38,799.26 619.67,810.66 607.68,810.66 603.98,799.26" fill="#000" stroke="#000" stroke-width="1.4" stroke-linejoin="miter"/>
<polygon points="623.59,789.89 633.29,796.94 629.58,808.35 617.59,808.35 613.88,796.94" fill="#000" stroke="#000" stroke-width="1.4" stroke-linejoin="miter"/>
<polygon points="633.49,787.61 643.2,794.66 639.49,806.06 627.5,806.06 623.79,794.66" fill="#000" stroke="#000" stroke-width="1.4" stroke-linejoin="miter"/>
<polygon points="643.4,785.36 653.1,792.41 649.4,803.81 637.41,803.81 633.7,792.41" fill="#000" stroke="#000" stroke-width="1.4" stroke-linejoin="miter"/>
<polygon points="653.31,783.15 663.01,790.19 659.31,801.6 647.32,801.6 643.61,790.19" fill="#000" stroke="#000" stroke-width="1.4" stroke-linejoin="miter"/>
<polygon points="663.22,780.97 672.92,788.01 669.22,799.42 657.23,799.42 653.52,788.01" fill="#000" stroke="#000" stroke-width="1.4" stroke-linejoin="miter"/>
<polygon points="673.13,778.82 682.83,785.87 679.13,797.27 667.14,797.27 663.43,785.87" fill="#000" stroke="#000" stroke-width="1.4" stroke-linejoin="miter"/>
<polygon points="683.04,776.71 692.74,783.76 689.04,795.16 677.05,795.16 673.34,783.76" fill="#000" stroke="#000" stroke-width="1.4" stroke-linejoin="miter"/>
<polygon points="692.95,774.64 702.65,781.69 698.95,793.09 686.96,793.09 683.25,781.69" fill="#000" stroke="#000" stroke-width="1.4" stroke-linejoin="miter"/>
<polygon points="702.86,772.61 712.56,779.66 708.86,791.06 696.86,791.06 693.16,779.66" fill="#000" stroke="#000" stroke-width="1.4" stroke-linejoin="miter"/>
<polygon points="712.77,770.62 722.47,777.67 718.76,789.07 706.77,789.07 703.07,777.67" fill="#000" stroke="#000" stroke-width="1.4" stroke-linejoin="miter"/>
<polygon points="722.68,768.67 732.38,775.71 728.67,787.12 716.68,787.12 712.98,775.71" fill="#000" stroke="#000" stroke-width="1.4" stroke-linejoin="miter"/>
<polygon points="732.59,766.76 742.29,773.8 738.58,785.21 726.59,785.21 722.89,773.8" fill="#000" stroke="#000" stroke-width="1.4" stroke-linejoin="miter"/>
<polygon points="742.5,764.89 752.2,771.94 748.49,783.34 736.5,783.34 732.8,771.94" fill="#000" stroke="#000" stroke-width="1.4" stroke-linejoin="miter"/>
<polygon points="752.41,763.07 762.11,770.11 758.4,781.52 746.41,781.52 742.71,770.11" fill="#000" stroke="#000" stroke-width="1.4" stroke-linejoin="miter"/>
<polygon points="762.32,761.29 772.02,768.34 768.31,779.74 756.32,779.74 752.62,768.34" fill="#000" stroke="#000" stroke-width="1.4" stroke-linejoin="miter"/>
<polygon points="772.23,759.56 781.93,766.61 778.22,778.01 766.23,778.01 762.52,766.61" fill="#000" stroke="#000" stroke-width="1.4" stroke-linejoin="miter"/>
<polygon points="782.13,757.88 791.84,764.93 788.13,776.34 776.14,776.34 772.43,764.93" fill="#000" stroke="#000" stroke-width="1.4" stroke-linejoin="miter"/>
<polygon points="792.04,756.26 801.74,763.3 798.04,774.71 786.05,774.71 782.34,763.3" fill="#000" stroke="#000" stroke-width="1.4" stroke-linejoin="miter"/>
<polygon points="801.95,754.68 811.65,761.73 807.95,773.13 795.96,773.13 792.25,761.73" fill="#000" stroke="#000" stroke-width="1.4" stroke-linejoin="miter"/>
<polygon points="811.86,753.16 821.56,760.21 817.86,771.61 805.87,771.61 802.16,760.21" fill="#000" stroke="#000" stroke-width="1.4" stroke-linejoin="miter"/>
<polygon points="821.77,751.69 831.47,758.74 827.77,770.15 815.78,770.15 812.07,758.74" fill="#000" stroke="#000" stroke-width="1.4" stroke-linejoin="miter"/>
</g>
<rect x="108.3" y="726.7" width="743.2" height="546.3" fill="none" stroke="#333" stroke-width="1.3"/>
<line x1="108.3" y1="1273" x2="108.3" y2="1284.5" stroke="#333" stroke-width="1.3" />
<text x="108.3" y="1311.2" font-size="23.5" fill="#000" text-anchor="middle">0</text>
<line x1="232.17" y1="1273" x2="232.17" y2="1284.5" stroke="#333" stroke-width="1.3" />
<text x="232.17" y="1311.2" font-size="23.5" fill="#000" text-anchor="middle">25</text>
<line x1="356.03" y1="1273" x2="356.03" y2="1284.5" stroke="#333" stroke-width="1.3" />
<text x="356.03" y="1311.2" font-size="23.5" fill="#000" text-anchor="middle">50</text>
<line x1="479.9" y1="1273" x2="479.9" y2="1284.5" stroke="#333" stroke-width="1.3" />
<text x="479.9" y="1311.2" font-size="23.5" fill="#000" text-anchor="middle">75</text>
<line x1="603.77" y1="1273" x2="603.77" y2="1284.5" stroke="#333" stroke-width="1.3" />
<text x="603.77" y="1311.2" font-size="23.5" fill="#000" text-anchor="middle">100</text>
<line x1="727.63" y1="1273" x2="727.63" y2="1284.5" stroke="#333" stroke-width="1.3" />
<text x="727.63" y="1311.2" font-size="23.5" fill="#000" text-anchor="middle">125</text>
<line x1="851.5" y1="1273" x2="851.5" y2="1284.5" stroke="#333" stroke-width="1.3" />
<text x="851.5" y="1311.2" font-size="23.5" fill="#000" text-anchor="middle">150</text>
<line x1="96.8" y1="1273" x2="108.3" y2="1273" stroke="#333" stroke-width="1.3" />
<text x="88.8" y="1281.2" font-size="23.5" fill="#000" text-anchor="end">0</text>
<line x1="96.8" y1="1212.3" x2="108.3" y2="1212.3" stroke="#333" stroke-width="1.3" />
<text x="88.8" y="1220.5" font-size="23.5" fill="#000" text-anchor="end">4</text>
<line x1="96.8" y1="1151.6" x2="108.3" y2="1151.6" stroke="#333" stroke-width="1.3" />
<text x="88.8" y="1159.8" font-size="23.5" fill="#000" text-anchor="end">8</text>
<line x1="96.8" y1="1090.9" x2="108.3" y2="1090.9" stroke="#333" stroke-width="1.3" />
<text x="88.8" y="1099.1" font-size="23.5" fill="#000" text-anchor="end">12</text>
<line x1="96.8" y1="1030.2" x2="108.3" y2="1030.2" stroke="#333" stroke-width="1.3" />
<text x="88.8" y="1038.4" font-size="23.5" fill="#000" text-anchor="end">16</text>
<line x1="96.8" y1="969.5" x2="108.3" y2="969.5" stroke="#333" stroke-width="1.3" />
<text x="88.8" y="977.7" font-size="23.5" fill="#000" text-anchor="end">20</text>
<line x1="96.8" y1="908.8" x2="108.3" y2="908.8" stroke="#333" stroke-width="1.3" />
<text x="88.8" y="917" font-size="23.5" fill="#000" text-anchor="end">24</text>
<line x1="96.8" y1="848.1" x2="108.3" y2="848.1" stroke="#333" stroke-width="1.3" />
<text x="88.8" y="856.3" font-size="23.5" fill="#000" text-anchor="end">28</text>
<line x1="96.8" y1="787.4" x2="108.3" y2="787.4" stroke="#333" stroke-width="1.3" />
<text x="88.8" y="795.6" font-size="23.5" fill="#000" text-anchor="end">32</text>
<line x1="96.8" y1="726.7" x2="108.3" y2="726.7" stroke="#333" stroke-width="1.3" />
<text x="88.8" y="734.9" font-size="23.5" fill="#000" text-anchor="end">36</text>
<text x="479.9" y="1351.5" font-size="26" fill="#000" text-anchor="middle" textLength="263" lengthAdjust="spacingAndGlyphs">Operating time (min)</text>
<text x="40" y="999.5" font-size="28.5" fill="#000" text-anchor="middle" transform="rotate(-90 40 999.5)" textLength="291" lengthAdjust="spacingAndGlyphs">Conductivity (mS cm<tspan dy="-12" font-size="19">−1</tspan><tspan dy="12">)</tspan></text>
<text x="15.3" y="729.1" font-size="40" fill="#000" font-weight="bold" textLength="25.8" lengthAdjust="spacingAndGlyphs" stroke="#000" stroke-width="0.9">c</text>
<text x="118.7" y="1239.6" font-size="27.5" fill="#000" textLength="357" lengthAdjust="spacingAndGlyphs">Carbenicillin disodium/NaCl</text>
<g transform="translate(401.4 814.9) rotate(-15.1)">
<rect x="-112" y="-21.8" width="224" height="43.6" fill="#fff" stroke="#222" stroke-width="0.9"/>
<text x="0" y="9.9" font-size="27.5" fill="#000" text-anchor="middle" textLength="217" lengthAdjust="spacingAndGlyphs">Concentrate side</text>
</g>
<g transform="translate(399 1124) rotate(24.3)">
<rect x="-80" y="-22.25" width="160" height="44.5" fill="#fff" stroke="#222" stroke-width="0.9"/>
<text x="0" y="9.9" font-size="27.5" fill="#000" text-anchor="middle" textLength="147" lengthAdjust="spacingAndGlyphs">Diluate side</text>
</g>
<rect x="493.4" y="862.7" width="282.5" height="210.7" fill="#fff"/>
<clipPath id="c6"><rect x="493.4" y="862.7" width="282.5" height="210.7"/></clipPath>
<g clip-path="url(#c6)">
<line x1="493.4" y1="964.13" x2="775.9" y2="964.13" stroke="#ff5555" stroke-width="0.9" stroke-dasharray="1.5 1"/>
<line x1="505.38" y1="962.29" x2="519.08" y2="958.23" stroke="#ff7070" stroke-width="0.9" />
<line x1="542.89" y1="950.63" x2="556.91" y2="945.83" stroke="#ff7070" stroke-width="0.9" />
<line x1="580.72" y1="938.23" x2="594.42" y2="934.16" stroke="#ff7070" stroke-width="0.9" />
<line x1="618.46" y1="927.31" x2="632.01" y2="923.59" stroke="#ff7070" stroke-width="0.9" />
<line x1="656.25" y1="917.51" x2="669.55" y2="914.48" stroke="#ff7070" stroke-width="0.9" />
<line x1="693.98" y1="909.18" x2="707.16" y2="906.47" stroke="#ff7070" stroke-width="0.9" />
<line x1="731.64" y1="901.45" x2="744.82" y2="898.74" stroke="#ff7070" stroke-width="0.9" />
<line x1="505.14" y1="970.14" x2="519.32" y2="975.32" stroke="#ff7070" stroke-width="0.9" />
<line x1="542.72" y1="984.12" x2="557.08" y2="989.7" stroke="#ff7070" stroke-width="0.9" />
<line x1="580.48" y1="998.5" x2="594.66" y2="1003.68" stroke="#ff7070" stroke-width="0.9" />
<line x1="618.05" y1="1012.49" x2="632.41" y2="1018.06" stroke="#ff7070" stroke-width="0.9" />
<line x1="655.54" y1="1027.56" x2="670.26" y2="1033.94" stroke="#ff7070" stroke-width="0.9" />
<line x1="693.39" y1="1043.44" x2="707.75" y2="1049.01" stroke="#ff7070" stroke-width="0.9" />
<line x1="730.96" y1="1058.28" x2="745.5" y2="1064.25" stroke="#ff7070" stroke-width="0.9" />
<polyline points="493.4,1062.9 568.73,1062.9 644.07,1062.9 719.4,1062.9 757.07,1062.9 764.6,1062.9" fill="none" stroke="#8080ff" stroke-width="1.2"/>
<polygon points="493.4,955.85 502.91,962.76 499.28,973.94 487.52,973.94 483.89,962.76" fill="#fff" stroke="#ff0000" stroke-width="1.3" stroke-linejoin="miter"/>
<polygon points="531.07,969.6 540.58,976.51 536.94,987.69 525.19,987.69 521.56,976.51" fill="#fff" stroke="#ff0000" stroke-width="1.3" stroke-linejoin="miter"/>
<polygon points="568.73,984.22 578.24,991.13 574.61,1002.31 562.86,1002.31 559.22,991.13" fill="#fff" stroke="#ff0000" stroke-width="1.3" stroke-linejoin="miter"/>
<polygon points="606.4,997.97 615.91,1004.88 612.28,1016.06 600.52,1016.06 596.89,1004.88" fill="#fff" stroke="#ff0000" stroke-width="1.3" stroke-linejoin="miter"/>
<polygon points="644.07,1012.58 653.58,1019.49 649.94,1030.67 638.19,1030.67 634.56,1019.49" fill="#fff" stroke="#ff0000" stroke-width="1.3" stroke-linejoin="miter"/>
<polygon points="681.73,1028.91 691.24,1035.82 687.61,1047 675.86,1047 672.22,1035.82" fill="#fff" stroke="#ff0000" stroke-width="1.3" stroke-linejoin="miter"/>
<polygon points="719.4,1043.53 728.91,1050.44 725.28,1061.62 713.52,1061.62 709.89,1050.44" fill="#fff" stroke="#ff0000" stroke-width="1.3" stroke-linejoin="miter"/>
<polygon points="757.07,1059 766.58,1065.91 762.94,1077.09 751.19,1077.09 747.56,1065.91" fill="#fff" stroke="#ff0000" stroke-width="1.3" stroke-linejoin="miter"/>
<polygon points="764.6,1059 774.11,1065.91 770.48,1077.09 758.72,1077.09 755.09,1065.91" fill="#fff" stroke="#ff0000" stroke-width="1.3" stroke-linejoin="miter"/>
<polygon points="493.4,955.85 502.91,962.76 499.28,973.94 487.52,973.94 483.89,962.76" fill="#ff0000" stroke="#ff0000" stroke-width="1" stroke-linejoin="miter"/>
<polygon points="531.07,944.68 540.58,951.59 536.94,962.77 525.19,962.77 521.56,951.59" fill="#ff0000" stroke="#ff0000" stroke-width="1" stroke-linejoin="miter"/>
<polygon points="568.73,931.78 578.24,938.69 574.61,949.87 562.86,949.87 559.22,938.69" fill="#ff0000" stroke="#ff0000" stroke-width="1" stroke-linejoin="miter"/>
<polygon points="606.4,920.61 615.91,927.52 612.28,938.7 600.52,938.7 596.89,927.52" fill="#ff0000" stroke="#ff0000" stroke-width="1" stroke-linejoin="miter"/>
<polygon points="644.07,910.29 653.58,917.2 649.94,928.38 638.19,928.38 634.56,917.2" fill="#ff0000" stroke="#ff0000" stroke-width="1" stroke-linejoin="miter"/>
<polygon points="681.73,901.7 691.24,908.61 687.61,919.79 675.86,919.79 672.22,908.61" fill="#ff0000" stroke="#ff0000" stroke-width="1" stroke-linejoin="miter"/>
<polygon points="719.4,893.96 728.91,900.87 725.28,912.05 713.52,912.05 709.89,900.87" fill="#ff0000" stroke="#ff0000" stroke-width="1" stroke-linejoin="miter"/>
<polygon points="757.07,886.22 766.58,893.13 762.94,904.31 751.19,904.31 747.56,893.13" fill="#ff0000" stroke="#ff0000" stroke-width="1" stroke-linejoin="miter"/>
<polygon points="764.6,884.5 774.11,891.41 770.48,902.59 758.72,902.59 755.09,891.41" fill="#ff0000" stroke="#ff0000" stroke-width="1" stroke-linejoin="miter"/>
<polygon points="493.4,1056.3 499.68,1060.86 497.28,1068.24 489.52,1068.24 487.12,1060.86" fill="#0000ff" stroke="#0000ff" stroke-width="0.8" stroke-linejoin="miter"/>
<polygon points="568.73,1056.3 575.01,1060.86 572.61,1068.24 564.85,1068.24 562.46,1060.86" fill="#0000ff" stroke="#0000ff" stroke-width="0.8" stroke-linejoin="miter"/>
<polygon points="644.07,1056.3 650.34,1060.86 647.95,1068.24 640.19,1068.24 637.79,1060.86" fill="#0000ff" stroke="#0000ff" stroke-width="0.8" stroke-linejoin="miter"/>
<polygon points="719.4,1056.3 725.68,1060.86 723.28,1068.24 715.52,1068.24 713.12,1060.86" fill="#0000ff" stroke="#0000ff" stroke-width="0.8" stroke-linejoin="miter"/>
<polygon points="757.07,1056.3 763.34,1060.86 760.95,1068.24 753.19,1068.24 750.79,1060.86" fill="#0000ff" stroke="#0000ff" stroke-width="0.8" stroke-linejoin="miter"/>
<polygon points="764.6,1056.3 770.88,1060.86 768.48,1068.24 760.72,1068.24 758.32,1060.86" fill="#0000ff" stroke="#0000ff" stroke-width="0.8" stroke-linejoin="miter"/>
</g>
<line x1="493.4" y1="862.7" x2="775.9" y2="862.7" stroke="#333" stroke-width="1.2" />
<line x1="493.4" y1="1073.4" x2="775.9" y2="1073.4" stroke="#333" stroke-width="1.6" />
<line x1="493.4" y1="862.7" x2="493.4" y2="1073.4" stroke="#ff0000" stroke-width="1.2" />
<line x1="775.9" y1="862.7" x2="775.9" y2="1073.4" stroke="#0000ff" stroke-width="1.2" />
<line x1="487.9" y1="1069" x2="493.4" y2="1069" stroke="#ff0000" stroke-width="1.2" />
<text x="482.4" y="1074.7" font-size="16" fill="#ff0000" text-anchor="end">0</text>
<line x1="487.9" y1="1034.62" x2="493.4" y2="1034.62" stroke="#ff0000" stroke-width="1.2" />
<text x="482.4" y="1040.32" font-size="16" fill="#ff0000" text-anchor="end">4</text>
<line x1="487.9" y1="1000.23" x2="493.4" y2="1000.23" stroke="#ff0000" stroke-width="1.2" />
<text x="482.4" y="1005.93" font-size="16" fill="#ff0000" text-anchor="end">8</text>
<line x1="487.9" y1="965.85" x2="493.4" y2="965.85" stroke="#ff0000" stroke-width="1.2" />
<text x="482.4" y="971.55" font-size="16" fill="#ff0000" text-anchor="end">12</text>
<line x1="487.9" y1="931.47" x2="493.4" y2="931.47" stroke="#ff0000" stroke-width="1.2" />
<text x="482.4" y="937.17" font-size="16" fill="#ff0000" text-anchor="end">16</text>
<line x1="487.9" y1="897.08" x2="493.4" y2="897.08" stroke="#ff0000" stroke-width="1.2" />
<text x="482.4" y="902.78" font-size="16" fill="#ff0000" text-anchor="end">20</text>
<line x1="487.9" y1="862.7" x2="493.4" y2="862.7" stroke="#ff0000" stroke-width="1.2" />
<text x="482.4" y="868.4" font-size="16" fill="#ff0000" text-anchor="end">24</text>
<line x1="775.9" y1="1062.9" x2="781.9" y2="1062.9" stroke="#0000ff" stroke-width="1.2" />
<text x="786.9" y="1068.6" font-size="16" fill="#0000ff">0</text>
<line x1="775.9" y1="1022.86" x2="781.9" y2="1022.86" stroke="#0000ff" stroke-width="1.2" />
<text x="786.9" y="1028.56" font-size="16" fill="#0000ff">0.2</text>
<line x1="775.9" y1="982.82" x2="781.9" y2="982.82" stroke="#0000ff" stroke-width="1.2" />
<text x="786.9" y="988.52" font-size="16" fill="#0000ff">0.4</text>
<line x1="775.9" y1="942.78" x2="781.9" y2="942.78" stroke="#0000ff" stroke-width="1.2" />
<text x="786.9" y="948.48" font-size="16" fill="#0000ff">0.6</text>
<line x1="775.9" y1="902.74" x2="781.9" y2="902.74" stroke="#0000ff" stroke-width="1.2" />
<text x="786.9" y="908.44" font-size="16" fill="#0000ff">0.8</text>
<line x1="775.9" y1="862.7" x2="781.9" y2="862.7" stroke="#0000ff" stroke-width="1.2" />
<text x="786.9" y="868.4" font-size="16" fill="#0000ff">1.0</text>
<line x1="493.4" y1="1073.4" x2="493.4" y2="1079.4" stroke="#333" stroke-width="1.2" />
<text x="493.4" y="1097.9" font-size="16" fill="#000" text-anchor="middle">0</text>
<line x1="540.48" y1="1073.4" x2="540.48" y2="1079.4" stroke="#333" stroke-width="1.2" />
<text x="540.48" y="1097.9" font-size="16" fill="#000" text-anchor="middle">25</text>
<line x1="587.57" y1="1073.4" x2="587.57" y2="1079.4" stroke="#333" stroke-width="1.2" />
<text x="587.57" y="1097.9" font-size="16" fill="#000" text-anchor="middle">50</text>
<line x1="634.65" y1="1073.4" x2="634.65" y2="1079.4" stroke="#333" stroke-width="1.2" />
<text x="634.65" y="1097.9" font-size="16" fill="#000" text-anchor="middle">75</text>
<line x1="681.73" y1="1073.4" x2="681.73" y2="1079.4" stroke="#333" stroke-width="1.2" />
<text x="681.73" y="1097.9" font-size="16" fill="#000" text-anchor="middle">100</text>
<line x1="728.82" y1="1073.4" x2="728.82" y2="1079.4" stroke="#333" stroke-width="1.2" />
<text x="728.82" y="1097.9" font-size="16" fill="#000" text-anchor="middle">125</text>
<line x1="775.9" y1="1073.4" x2="775.9" y2="1079.4" stroke="#333" stroke-width="1.2" />
<text x="775.9" y="1097.9" font-size="16" fill="#000" text-anchor="middle">150</text>
<text x="634.65" y="1123.4" font-size="20" fill="#000" text-anchor="middle" textLength="104" lengthAdjust="spacingAndGlyphs">Time (min)</text>
<text x="450.4" y="969.05" font-size="20.5" fill="#ff0000" text-anchor="middle" transform="rotate(-90 450.4 969.05)" textLength="182" lengthAdjust="spacingAndGlyphs">NaCl content (g l<tspan dy="-8.5" font-size="14">−1</tspan><tspan dy="8.5">)</tspan></text>
<text x="825.9" y="969.05" font-size="20.5" fill="#0000ff" text-anchor="middle" transform="rotate(90 825.9 969.05)" textLength="228" lengthAdjust="spacingAndGlyphs">Antibiotic content (g l<tspan dy="-8.5" font-size="14">−1</tspan><tspan dy="8.5">)</tspan></text>
<text x="646" y="949" font-size="20" fill="#ff0000" text-anchor="middle" transform="rotate(-15 646 949)" textLength="122" lengthAdjust="spacingAndGlyphs">Concentrate</text>
<text x="619" y="996" font-size="20" fill="#ff0000" text-anchor="middle" transform="rotate(22.5 619 996)" textLength="69" lengthAdjust="spacingAndGlyphs">Diluate</text>
<path d="M603 925 C600 909 585 908 553.38 908" fill="none" stroke="#ff0000" stroke-width="2"/>
<polygon points="545.5,908 556,902.8 551.8,908 556,913.2" fill="#ff0000"/>
<path d="M568 1000 C566 1015 545 1016 524.37 1016.36" fill="none" stroke="#ff0000" stroke-width="2"/>
<polygon points="516.5,1016.5 526.91,1011.12 522.8,1016.39 527.09,1021.52" fill="#ff0000"/>
<path d="M568 1055 C570 1042 585 1040 619.62 1040" fill="none" stroke="#0000ff" stroke-width="2"/>
<polygon points="627.5,1040 617,1045.2 621.2,1040 617,1034.8" fill="#0000ff"/>
<clipPath id="c7"><rect x="1042.6" y="726.5" width="744.3" height="546.4"/></clipPath>
<g clip-path="url(#c7)">
<polygon points="1042.6,969.2 1051.26,974.2 1051.26,984.2 1042.6,989.2 1033.94,984.2 1033.94,974.2" fill="#fff" stroke="#000" stroke-width="1.4" stroke-linejoin="miter"/>
<polygon points="1050.43,973.44 1059.09,978.44 1059.09,988.44 1050.43,993.44 1041.77,988.44 1041.77,978.44" fill="#fff" stroke="#000" stroke-width="1.4" stroke-linejoin="miter"/>
<polygon points="1058.27,977.59 1066.93,982.59 1066.93,992.59 1058.27,997.59 1049.61,992.59 1049.61,982.59" fill="#fff" stroke="#000" stroke-width="1.4" stroke-linejoin="miter"/>
<polygon points="1066.1,981.64 1074.76,986.64 1074.76,996.64 1066.1,1001.64 1057.44,996.64 1057.44,986.64" fill="#fff" stroke="#000" stroke-width="1.4" stroke-linejoin="miter"/>
<polygon points="1073.94,985.62 1082.6,990.62 1082.6,1000.62 1073.94,1005.62 1065.28,1000.62 1065.28,990.62" fill="#fff" stroke="#000" stroke-width="1.4" stroke-linejoin="miter"/>
<polygon points="1081.77,989.52 1090.43,994.52 1090.43,1004.52 1081.77,1009.52 1073.11,1004.52 1073.11,994.52" fill="#fff" stroke="#000" stroke-width="1.4" stroke-linejoin="miter"/>
<polygon points="1089.61,993.36 1098.27,998.36 1098.27,1008.36 1089.61,1013.36 1080.95,1008.36 1080.95,998.36" fill="#fff" stroke="#000" stroke-width="1.4" stroke-linejoin="miter"/>
<polygon points="1097.44,997.15 1106.1,1002.15 1106.1,1012.15 1097.44,1017.15 1088.78,1012.15 1088.78,1002.15" fill="#fff" stroke="#000" stroke-width="1.4" stroke-linejoin="miter"/>
<polygon points="1105.28,1000.9 1113.94,1005.9 1113.94,1015.9 1105.28,1020.9 1096.62,1015.9 1096.62,1005.9" fill="#fff" stroke="#000" stroke-width="1.4" stroke-linejoin="miter"/>
<polygon points="1113.11,1004.6 1121.77,1009.6 1121.77,1019.6 1113.11,1024.6 1104.45,1019.6 1104.45,1009.6" fill="#fff" stroke="#000" stroke-width="1.4" stroke-linejoin="miter"/>
<polygon points="1120.95,1008.28 1129.61,1013.28 1129.61,1023.28 1120.95,1028.28 1112.29,1023.28 1112.29,1013.28" fill="#fff" stroke="#000" stroke-width="1.4" stroke-linejoin="miter"/>
<polygon points="1128.78,1011.93 1137.44,1016.93 1137.44,1026.93 1128.78,1031.93 1120.12,1026.93 1120.12,1016.93" fill="#fff" stroke="#000" stroke-width="1.4" stroke-linejoin="miter"/>
<polygon points="1136.62,1015.56 1145.28,1020.56 1145.28,1030.56 1136.62,1035.56 1127.96,1030.56 1127.96,1020.56" fill="#fff" stroke="#000" stroke-width="1.4" stroke-linejoin="miter"/>
<polygon points="1144.45,1019.18 1153.11,1024.18 1153.11,1034.18 1144.45,1039.18 1135.79,1034.18 1135.79,1024.18" fill="#fff" stroke="#000" stroke-width="1.4" stroke-linejoin="miter"/>
<polygon points="1152.29,1022.79 1160.95,1027.79 1160.95,1037.79 1152.29,1042.79 1143.63,1037.79 1143.63,1027.79" fill="#fff" stroke="#000" stroke-width="1.4" stroke-linejoin="miter"/>
<polygon points="1160.12,1026.4 1168.78,1031.4 1168.78,1041.4 1160.12,1046.4 1151.46,1041.4 1151.46,1031.4" fill="#fff" stroke="#000" stroke-width="1.4" stroke-linejoin="miter"/>
<polygon points="1167.96,1030 1176.62,1035 1176.62,1045 1167.96,1050 1159.3,1045 1159.3,1035" fill="#fff" stroke="#000" stroke-width="1.4" stroke-linejoin="miter"/>
<polygon points="1175.79,1033.62 1184.45,1038.62 1184.45,1048.62 1175.79,1053.62 1167.13,1048.62 1167.13,1038.62" fill="#fff" stroke="#000" stroke-width="1.4" stroke-linejoin="miter"/>
<polygon points="1183.63,1037.23 1192.29,1042.23 1192.29,1052.23 1183.63,1057.23 1174.97,1052.23 1174.97,1042.23" fill="#fff" stroke="#000" stroke-width="1.4" stroke-linejoin="miter"/>
<polygon points="1191.46,1040.86 1200.12,1045.86 1200.12,1055.86 1191.46,1060.86 1182.8,1055.86 1182.8,1045.86" fill="#fff" stroke="#000" stroke-width="1.4" stroke-linejoin="miter"/>
<polygon points="1199.29,1044.5 1207.95,1049.5 1207.95,1059.5 1199.29,1064.5 1190.63,1059.5 1190.63,1049.5" fill="#fff" stroke="#000" stroke-width="1.4" stroke-linejoin="miter"/>
<polygon points="1207.13,1048.16 1215.79,1053.16 1215.79,1063.16 1207.13,1068.16 1198.47,1063.16 1198.47,1053.16" fill="#fff" stroke="#000" stroke-width="1.4" stroke-linejoin="miter"/>
<polygon points="1214.96,1051.83 1223.62,1056.83 1223.62,1066.83 1214.96,1071.83 1206.3,1066.83 1206.3,1056.83" fill="#fff" stroke="#000" stroke-width="1.4" stroke-linejoin="miter"/>
<polygon points="1222.8,1055.52 1231.46,1060.52 1231.46,1070.52 1222.8,1075.52 1214.14,1070.52 1214.14,1060.52" fill="#fff" stroke="#000" stroke-width="1.4" stroke-linejoin="miter"/>
<polygon points="1230.63,1059.23 1239.29,1064.23 1239.29,1074.23 1230.63,1079.23 1221.97,1074.23 1221.97,1064.23" fill="#fff" stroke="#000" stroke-width="1.4" stroke-linejoin="miter"/>
<polygon points="1238.47,1062.96 1247.13,1067.96 1247.13,1077.96 1238.47,1082.96 1229.81,1077.96 1229.81,1067.96" fill="#fff" stroke="#000" stroke-width="1.4" stroke-linejoin="miter"/>
<polygon points="1246.3,1066.71 1254.96,1071.71 1254.96,1081.71 1246.3,1086.71 1237.64,1081.71 1237.64,1071.71" fill="#fff" stroke="#000" stroke-width="1.4" stroke-linejoin="miter"/>
<polygon points="1254.14,1070.48 1262.8,1075.48 1262.8,1085.48 1254.14,1090.48 1245.48,1085.48 1245.48,1075.48" fill="#fff" stroke="#000" stroke-width="1.4" stroke-linejoin="miter"/>
<polygon points="1261.97,1074.28 1270.63,1079.28 1270.63,1089.28 1261.97,1094.28 1253.31,1089.28 1253.31,1079.28" fill="#fff" stroke="#000" stroke-width="1.4" stroke-linejoin="miter"/>
<polygon points="1269.81,1078.09 1278.47,1083.09 1278.47,1093.09 1269.81,1098.09 1261.15,1093.09 1261.15,1083.09" fill="#fff" stroke="#000" stroke-width="1.4" stroke-linejoin="miter"/>
<polygon points="1277.64,1081.92 1286.3,1086.92 1286.3,1096.92 1277.64,1101.92 1268.98,1096.92 1268.98,1086.92" fill="#fff" stroke="#000" stroke-width="1.4" stroke-linejoin="miter"/>
<polygon points="1285.48,1085.77 1294.14,1090.77 1294.14,1100.77 1285.48,1105.77 1276.82,1100.77 1276.82,1090.77" fill="#fff" stroke="#000" stroke-width="1.4" stroke-linejoin="miter"/>
<polygon points="1293.31,1089.63 1301.97,1094.63 1301.97,1104.63 1293.31,1109.63 1284.65,1104.63 1284.65,1094.63" fill="#fff" stroke="#000" stroke-width="1.4" stroke-linejoin="miter"/>
<polygon points="1301.15,1093.51 1309.81,1098.51 1309.81,1108.51 1301.15,1113.51 1292.49,1108.51 1292.49,1098.51" fill="#fff" stroke="#000" stroke-width="1.4" stroke-linejoin="miter"/>
<polygon points="1308.98,1097.41 1317.64,1102.41 1317.64,1112.41 1308.98,1117.41 1300.32,1112.41 1300.32,1102.41" fill="#fff" stroke="#000" stroke-width="1.4" stroke-linejoin="miter"/>
<polygon points="1316.82,1101.32 1325.48,1106.32 1325.48,1116.32 1316.82,1121.32 1308.16,1116.32 1308.16,1106.32" fill="#fff" stroke="#000" stroke-width="1.4" stroke-linejoin="miter"/>
<polygon points="1324.65,1105.24 1333.31,1110.24 1333.31,1120.24 1324.65,1125.24 1315.99,1120.24 1315.99,1110.24" fill="#fff" stroke="#000" stroke-width="1.4" stroke-linejoin="miter"/>
<polygon points="1332.49,1109.17 1341.15,1114.17 1341.15,1124.17 1332.49,1129.17 1323.83,1124.17 1323.83,1114.17" fill="#fff" stroke="#000" stroke-width="1.4" stroke-linejoin="miter"/>
<polygon points="1340.32,1113.1 1348.98,1118.1 1348.98,1128.1 1340.32,1133.1 1331.66,1128.1 1331.66,1118.1" fill="#fff" stroke="#000" stroke-width="1.4" stroke-linejoin="miter"/>
<polygon points="1348.15,1117.04 1356.81,1122.04 1356.81,1132.04 1348.15,1137.04 1339.49,1132.04 1339.49,1122.04" fill="#fff" stroke="#000" stroke-width="1.4" stroke-linejoin="miter"/>
<polygon points="1355.99,1120.98 1364.65,1125.98 1364.65,1135.98 1355.99,1140.98 1347.33,1135.98 1347.33,1125.98" fill="#fff" stroke="#000" stroke-width="1.4" stroke-linejoin="miter"/>
<polygon points="1363.82,1124.92 1372.48,1129.92 1372.48,1139.92 1363.82,1144.92 1355.16,1139.92 1355.16,1129.92" fill="#fff" stroke="#000" stroke-width="1.4" stroke-linejoin="miter"/>
<polygon points="1371.66,1128.85 1380.32,1133.85 1380.32,1143.85 1371.66,1148.85 1363,1143.85 1363,1133.85" fill="#fff" stroke="#000" stroke-width="1.4" stroke-linejoin="miter"/>
<polygon points="1379.49,1132.77 1388.15,1137.77 1388.15,1147.77 1379.49,1152.77 1370.83,1147.77 1370.83,1137.77" fill="#fff" stroke="#000" stroke-width="1.4" stroke-linejoin="miter"/>
<polygon points="1387.33,1136.69 1395.99,1141.69 1395.99,1151.69 1387.33,1156.69 1378.67,1151.69 1378.67,1141.69" fill="#fff" stroke="#000" stroke-width="1.4" stroke-linejoin="miter"/>
<polygon points="1395.16,1140.59 1403.82,1145.59 1403.82,1155.59 1395.16,1160.59 1386.5,1155.59 1386.5,1145.59" fill="#fff" stroke="#000" stroke-width="1.4" stroke-linejoin="miter"/>
<polygon points="1403,1144.47 1411.66,1149.47 1411.66,1159.47 1403,1164.47 1394.34,1159.47 1394.34,1149.47" fill="#fff" stroke="#000" stroke-width="1.4" stroke-linejoin="miter"/>
<polygon points="1410.83,1148.33 1419.49,1153.33 1419.49,1163.33 1410.83,1168.33 1402.17,1163.33 1402.17,1153.33" fill="#fff" stroke="#000" stroke-width="1.4" stroke-linejoin="miter"/>
<polygon points="1418.67,1152.17 1427.33,1157.17 1427.33,1167.17 1418.67,1172.17 1410.01,1167.17 1410.01,1157.17" fill="#fff" stroke="#000" stroke-width="1.4" stroke-linejoin="miter"/>
<polygon points="1426.5,1155.99 1435.16,1160.99 1435.16,1170.99 1426.5,1175.99 1417.84,1170.99 1417.84,1160.99" fill="#fff" stroke="#000" stroke-width="1.4" stroke-linejoin="miter"/>
<polygon points="1434.34,1159.77 1443,1164.77 1443,1174.77 1434.34,1179.77 1425.68,1174.77 1425.68,1164.77" fill="#fff" stroke="#000" stroke-width="1.4" stroke-linejoin="miter"/>
<polygon points="1442.17,1163.51 1450.83,1168.51 1450.83,1178.51 1442.17,1183.51 1433.51,1178.51 1433.51,1168.51" fill="#fff" stroke="#000" stroke-width="1.4" stroke-linejoin="miter"/>
<polygon points="1450.01,1167.22 1458.67,1172.22 1458.67,1182.22 1450.01,1187.22 1441.35,1182.22 1441.35,1172.22" fill="#fff" stroke="#000" stroke-width="1.4" stroke-linejoin="miter"/>
<polygon points="1457.84,1170.89 1466.5,1175.89 1466.5,1185.89 1457.84,1190.89 1449.18,1185.89 1449.18,1175.89" fill="#fff" stroke="#000" stroke-width="1.4" stroke-linejoin="miter"/>
<polygon points="1465.68,1174.52 1474.34,1179.52 1474.34,1189.52 1465.68,1194.52 1457.02,1189.52 1457.02,1179.52" fill="#fff" stroke="#000" stroke-width="1.4" stroke-linejoin="miter"/>
<polygon points="1473.51,1178.1 1482.17,1183.1 1482.17,1193.1 1473.51,1198.1 1464.85,1193.1 1464.85,1183.1" fill="#fff" stroke="#000" stroke-width="1.4" stroke-linejoin="miter"/>
<polygon points="1481.35,1181.62 1490.01,1186.62 1490.01,1196.62 1481.35,1201.62 1472.69,1196.62 1472.69,1186.62" fill="#fff" stroke="#000" stroke-width="1.4" stroke-linejoin="miter"/>
<polygon points="1489.18,1185.1 1497.84,1190.1 1497.84,1200.1 1489.18,1205.1 1480.52,1200.1 1480.52,1190.1" fill="#fff" stroke="#000" stroke-width="1.4" stroke-linejoin="miter"/>
<polygon points="1497.01,1188.51 1505.67,1193.51 1505.67,1203.51 1497.01,1208.51 1488.35,1203.51 1488.35,1193.51" fill="#fff" stroke="#000" stroke-width="1.4" stroke-linejoin="miter"/>
<polygon points="1504.85,1191.87 1513.51,1196.87 1513.51,1206.87 1504.85,1211.87 1496.19,1206.87 1496.19,1196.87" fill="#fff" stroke="#000" stroke-width="1.4" stroke-linejoin="miter"/>
<polygon points="1512.68,1195.16 1521.34,1200.16 1521.34,1210.16 1512.68,1215.16 1504.02,1210.16 1504.02,1200.16" fill="#fff" stroke="#000" stroke-width="1.4" stroke-linejoin="miter"/>
<polygon points="1520.52,1198.39 1529.18,1203.39 1529.18,1213.39 1520.52,1218.39 1511.86,1213.39 1511.86,1203.39" fill="#fff" stroke="#000" stroke-width="1.4" stroke-linejoin="miter"/>
<polygon points="1528.35,1201.54 1537.01,1206.54 1537.01,1216.54 1528.35,1221.54 1519.69,1216.54 1519.69,1206.54" fill="#fff" stroke="#000" stroke-width="1.4" stroke-linejoin="miter"/>
<polygon points="1536.19,1204.63 1544.85,1209.63 1544.85,1219.63 1536.19,1224.63 1527.53,1219.63 1527.53,1209.63" fill="#fff" stroke="#000" stroke-width="1.4" stroke-linejoin="miter"/>
<polygon points="1544.02,1207.64 1552.68,1212.64 1552.68,1222.64 1544.02,1227.64 1535.36,1222.64 1535.36,1212.64" fill="#fff" stroke="#000" stroke-width="1.4" stroke-linejoin="miter"/>
<polygon points="1551.86,1210.58 1560.52,1215.58 1560.52,1225.58 1551.86,1230.58 1543.2,1225.58 1543.2,1215.58" fill="#fff" stroke="#000" stroke-width="1.4" stroke-linejoin="miter"/>
<polygon points="1559.69,1213.43 1568.35,1218.43 1568.35,1228.43 1559.69,1233.43 1551.03,1228.43 1551.03,1218.43" fill="#fff" stroke="#000" stroke-width="1.4" stroke-linejoin="miter"/>
<polygon points="1567.53,1216.21 1576.19,1221.21 1576.19,1231.21 1567.53,1236.21 1558.87,1231.21 1558.87,1221.21" fill="#fff" stroke="#000" stroke-width="1.4" stroke-linejoin="miter"/>
<polygon points="1575.36,1218.9 1584.02,1223.9 1584.02,1233.9 1575.36,1238.9 1566.7,1233.9 1566.7,1223.9" fill="#fff" stroke="#000" stroke-width="1.4" stroke-linejoin="miter"/>
<polygon points="1583.2,1221.51 1591.86,1226.51 1591.86,1236.51 1583.2,1241.51 1574.54,1236.51 1574.54,1226.51" fill="#fff" stroke="#000" stroke-width="1.4" stroke-linejoin="miter"/>
<polygon points="1591.03,1224.03 1599.69,1229.03 1599.69,1239.03 1591.03,1244.03 1582.37,1239.03 1582.37,1229.03" fill="#fff" stroke="#000" stroke-width="1.4" stroke-linejoin="miter"/>
<polygon points="1598.87,1226.47 1607.53,1231.47 1607.53,1241.47 1598.87,1246.47 1590.21,1241.47 1590.21,1231.47" fill="#fff" stroke="#000" stroke-width="1.4" stroke-linejoin="miter"/>
<polygon points="1606.7,1228.82 1615.36,1233.82 1615.36,1243.82 1606.7,1248.82 1598.04,1243.82 1598.04,1233.82" fill="#fff" stroke="#000" stroke-width="1.4" stroke-linejoin="miter"/>
<polygon points="1614.54,1231.08 1623.2,1236.08 1623.2,1246.08 1614.54,1251.08 1605.88,1246.08 1605.88,1236.08" fill="#fff" stroke="#000" stroke-width="1.4" stroke-linejoin="miter"/>
<polygon points="1622.37,1233.25 1631.03,1238.25 1631.03,1248.25 1622.37,1253.25 1613.71,1248.25 1613.71,1238.25" fill="#fff" stroke="#000" stroke-width="1.4" stroke-linejoin="miter"/>
<polygon points="1630.21,1235.33 1638.87,1240.33 1638.87,1250.33 1630.21,1255.33 1621.55,1250.33 1621.55,1240.33" fill="#fff" stroke="#000" stroke-width="1.4" stroke-linejoin="miter"/>
<polygon points="1638.04,1237.33 1646.7,1242.33 1646.7,1252.33 1638.04,1257.33 1629.38,1252.33 1629.38,1242.33" fill="#fff" stroke="#000" stroke-width="1.4" stroke-linejoin="miter"/>
<polygon points="1645.87,1239.23 1654.53,1244.23 1654.53,1254.23 1645.87,1259.23 1637.21,1254.23 1637.21,1244.23" fill="#fff" stroke="#000" stroke-width="1.4" stroke-linejoin="miter"/>
<polygon points="1653.71,1241.05 1662.37,1246.05 1662.37,1256.05 1653.71,1261.05 1645.05,1256.05 1645.05,1246.05" fill="#fff" stroke="#000" stroke-width="1.4" stroke-linejoin="miter"/>
<polygon points="1661.54,1242.78 1670.2,1247.78 1670.2,1257.78 1661.54,1262.78 1652.88,1257.78 1652.88,1247.78" fill="#fff" stroke="#000" stroke-width="1.4" stroke-linejoin="miter"/>
<polygon points="1669.38,1244.43 1678.04,1249.43 1678.04,1259.43 1669.38,1264.43 1660.72,1259.43 1660.72,1249.43" fill="#fff" stroke="#000" stroke-width="1.4" stroke-linejoin="miter"/>
<polygon points="1677.21,1245.99 1685.87,1250.99 1685.87,1260.99 1677.21,1265.99 1668.55,1260.99 1668.55,1250.99" fill="#fff" stroke="#000" stroke-width="1.4" stroke-linejoin="miter"/>
<polygon points="1685.05,1247.47 1693.71,1252.47 1693.71,1262.47 1685.05,1267.47 1676.39,1262.47 1676.39,1252.47" fill="#fff" stroke="#000" stroke-width="1.4" stroke-linejoin="miter"/>
<polygon points="1692.88,1248.87 1701.54,1253.87 1701.54,1263.87 1692.88,1268.87 1684.22,1263.87 1684.22,1253.87" fill="#fff" stroke="#000" stroke-width="1.4" stroke-linejoin="miter"/>
<polygon points="1700.72,1250.2 1709.38,1255.2 1709.38,1265.2 1700.72,1270.2 1692.06,1265.2 1692.06,1255.2" fill="#fff" stroke="#000" stroke-width="1.4" stroke-linejoin="miter"/>
<polygon points="1708.55,1251.45 1717.21,1256.45 1717.21,1266.45 1708.55,1271.45 1699.89,1266.45 1699.89,1256.45" fill="#fff" stroke="#000" stroke-width="1.4" stroke-linejoin="miter"/>
<polygon points="1716.39,1252.63 1725.05,1257.63 1725.05,1267.63 1716.39,1272.63 1707.73,1267.63 1707.73,1257.63" fill="#fff" stroke="#000" stroke-width="1.4" stroke-linejoin="miter"/>
<polygon points="1724.22,1253.75 1732.88,1258.75 1732.88,1268.75 1724.22,1273.75 1715.56,1268.75 1715.56,1258.75" fill="#fff" stroke="#000" stroke-width="1.4" stroke-linejoin="miter"/>
<polygon points="1732.06,1254.81 1740.72,1259.81 1740.72,1269.81 1732.06,1274.81 1723.4,1269.81 1723.4,1259.81" fill="#fff" stroke="#000" stroke-width="1.4" stroke-linejoin="miter"/>
<polygon points="1739.89,1255.81 1748.55,1260.81 1748.55,1270.81 1739.89,1275.81 1731.23,1270.81 1731.23,1260.81" fill="#fff" stroke="#000" stroke-width="1.4" stroke-linejoin="miter"/>
<polygon points="1747.73,1256.76 1756.39,1261.76 1756.39,1271.76 1747.73,1276.76 1739.07,1271.76 1739.07,1261.76" fill="#fff" stroke="#000" stroke-width="1.4" stroke-linejoin="miter"/>
<polygon points="1755.56,1257.66 1764.22,1262.66 1764.22,1272.66 1755.56,1277.66 1746.9,1272.66 1746.9,1262.66" fill="#fff" stroke="#000" stroke-width="1.4" stroke-linejoin="miter"/>
<polygon points="1763.4,1258.53 1772.06,1263.53 1772.06,1273.53 1763.4,1278.53 1754.74,1273.53 1754.74,1263.53" fill="#fff" stroke="#000" stroke-width="1.4" stroke-linejoin="miter"/>
<polygon points="1771.23,1259.36 1779.89,1264.36 1779.89,1274.36 1771.23,1279.36 1762.57,1274.36 1762.57,1264.36" fill="#fff" stroke="#000" stroke-width="1.4" stroke-linejoin="miter"/>
<polygon points="1779.07,1260.17 1787.73,1265.17 1787.73,1275.17 1779.07,1280.17 1770.41,1275.17 1770.41,1265.17" fill="#fff" stroke="#000" stroke-width="1.4" stroke-linejoin="miter"/>
<polygon points="1042.6,965.34 1051.26,970.34 1051.26,980.34 1042.6,985.34 1033.94,980.34 1033.94,970.34" fill="#000" stroke="#000" stroke-width="1.4" stroke-linejoin="miter"/>
<polygon points="1050.43,962.59 1059.09,967.59 1059.09,977.59 1050.43,982.59 1041.77,977.59 1041.77,967.59" fill="#000" stroke="#000" stroke-width="1.4" stroke-linejoin="miter"/>
<polygon points="1058.27,959.71 1066.93,964.71 1066.93,974.71 1058.27,979.71 1049.61,974.71 1049.61,964.71" fill="#000" stroke="#000" stroke-width="1.4" stroke-linejoin="miter"/>
<polygon points="1066.1,956.71 1074.76,961.71 1074.76,971.71 1066.1,976.71 1057.44,971.71 1057.44,961.71" fill="#000" stroke="#000" stroke-width="1.4" stroke-linejoin="miter"/>
<polygon points="1073.94,953.62 1082.6,958.62 1082.6,968.62 1073.94,973.62 1065.28,968.62 1065.28,958.62" fill="#000" stroke="#000" stroke-width="1.4" stroke-linejoin="miter"/>
<polygon points="1081.77,950.44 1090.43,955.44 1090.43,965.44 1081.77,970.44 1073.11,965.44 1073.11,955.44" fill="#000" stroke="#000" stroke-width="1.4" stroke-linejoin="miter"/>
<polygon points="1089.61,947.19 1098.27,952.19 1098.27,962.19 1089.61,967.19 1080.95,962.19 1080.95,952.19" fill="#000" stroke="#000" stroke-width="1.4" stroke-linejoin="miter"/>
<polygon points="1097.44,943.86 1106.1,948.86 1106.1,958.86 1097.44,963.86 1088.78,958.86 1088.78,948.86" fill="#000" stroke="#000" stroke-width="1.4" stroke-linejoin="miter"/>
<polygon points="1105.28,940.49 1113.94,945.49 1113.94,955.49 1105.28,960.49 1096.62,955.49 1096.62,945.49" fill="#000" stroke="#000" stroke-width="1.4" stroke-linejoin="miter"/>
<polygon points="1113.11,937.07 1121.77,942.07 1121.77,952.07 1113.11,957.07 1104.45,952.07 1104.45,942.07" fill="#000" stroke="#000" stroke-width="1.4" stroke-linejoin="miter"/>
<polygon points="1120.95,933.61 1129.61,938.61 1129.61,948.61 1120.95,953.61 1112.29,948.61 1112.29,938.61" fill="#000" stroke="#000" stroke-width="1.4" stroke-linejoin="miter"/>
<polygon points="1128.78,930.12 1137.44,935.12 1137.44,945.12 1128.78,950.12 1120.12,945.12 1120.12,935.12" fill="#000" stroke="#000" stroke-width="1.4" stroke-linejoin="miter"/>
<polygon points="1136.62,926.61 1145.28,931.61 1145.28,941.61 1136.62,946.61 1127.96,941.61 1127.96,931.61" fill="#000" stroke="#000" stroke-width="1.4" stroke-linejoin="miter"/>
<polygon points="1144.45,923.09 1153.11,928.09 1153.11,938.09 1144.45,943.09 1135.79,938.09 1135.79,928.09" fill="#000" stroke="#000" stroke-width="1.4" stroke-linejoin="miter"/>
<polygon points="1152.29,919.56 1160.95,924.56 1160.95,934.56 1152.29,939.56 1143.63,934.56 1143.63,924.56" fill="#000" stroke="#000" stroke-width="1.4" stroke-linejoin="miter"/>
<polygon points="1160.12,916.04 1168.78,921.04 1168.78,931.04 1160.12,936.04 1151.46,931.04 1151.46,921.04" fill="#000" stroke="#000" stroke-width="1.4" stroke-linejoin="miter"/>
<polygon points="1167.96,912.52 1176.62,917.52 1176.62,927.52 1167.96,932.52 1159.3,927.52 1159.3,917.52" fill="#000" stroke="#000" stroke-width="1.4" stroke-linejoin="miter"/>
<polygon points="1175.79,909.02 1184.45,914.02 1184.45,924.02 1175.79,929.02 1167.13,924.02 1167.13,914.02" fill="#000" stroke="#000" stroke-width="1.4" stroke-linejoin="miter"/>
<polygon points="1183.63,905.53 1192.29,910.53 1192.29,920.53 1183.63,925.53 1174.97,920.53 1174.97,910.53" fill="#000" stroke="#000" stroke-width="1.4" stroke-linejoin="miter"/>
<polygon points="1191.46,902.07 1200.12,907.07 1200.12,917.07 1191.46,922.07 1182.8,917.07 1182.8,907.07" fill="#000" stroke="#000" stroke-width="1.4" stroke-linejoin="miter"/>
<polygon points="1199.29,898.63 1207.95,903.63 1207.95,913.63 1199.29,918.63 1190.63,913.63 1190.63,903.63" fill="#000" stroke="#000" stroke-width="1.4" stroke-linejoin="miter"/>
<polygon points="1207.13,895.23 1215.79,900.23 1215.79,910.23 1207.13,915.23 1198.47,910.23 1198.47,900.23" fill="#000" stroke="#000" stroke-width="1.4" stroke-linejoin="miter"/>
<polygon points="1214.96,891.87 1223.62,896.87 1223.62,906.87 1214.96,911.87 1206.3,906.87 1206.3,896.87" fill="#000" stroke="#000" stroke-width="1.4" stroke-linejoin="miter"/>
<polygon points="1222.8,888.54 1231.46,893.54 1231.46,903.54 1222.8,908.54 1214.14,903.54 1214.14,893.54" fill="#000" stroke="#000" stroke-width="1.4" stroke-linejoin="miter"/>
<polygon points="1230.63,885.26 1239.29,890.26 1239.29,900.26 1230.63,905.26 1221.97,900.26 1221.97,890.26" fill="#000" stroke="#000" stroke-width="1.4" stroke-linejoin="miter"/>
<polygon points="1238.47,882.02 1247.13,887.02 1247.13,897.02 1238.47,902.02 1229.81,897.02 1229.81,887.02" fill="#000" stroke="#000" stroke-width="1.4" stroke-linejoin="miter"/>
<polygon points="1246.3,878.83 1254.96,883.83 1254.96,893.83 1246.3,898.83 1237.64,893.83 1237.64,883.83" fill="#000" stroke="#000" stroke-width="1.4" stroke-linejoin="miter"/>
<polygon points="1254.14,875.7 1262.8,880.7 1262.8,890.7 1254.14,895.7 1245.48,890.7 1245.48,880.7" fill="#000" stroke="#000" stroke-width="1.4" stroke-linejoin="miter"/>
<polygon points="1261.97,872.61 1270.63,877.61 1270.63,887.61 1261.97,892.61 1253.31,887.61 1253.31,877.61" fill="#000" stroke="#000" stroke-width="1.4" stroke-linejoin="miter"/>
<polygon points="1269.81,869.58 1278.47,874.58 1278.47,884.58 1269.81,889.58 1261.15,884.58 1261.15,874.58" fill="#000" stroke="#000" stroke-width="1.4" stroke-linejoin="miter"/>
<polygon points="1277.64,866.6 1286.3,871.6 1286.3,881.6 1277.64,886.6 1268.98,881.6 1268.98,871.6" fill="#000" stroke="#000" stroke-width="1.4" stroke-linejoin="miter"/>
<polygon points="1285.48,863.68 1294.14,868.68 1294.14,878.68 1285.48,883.68 1276.82,878.68 1276.82,868.68" fill="#000" stroke="#000" stroke-width="1.4" stroke-linejoin="miter"/>
<polygon points="1293.31,860.81 1301.97,865.81 1301.97,875.81 1293.31,880.81 1284.65,875.81 1284.65,865.81" fill="#000" stroke="#000" stroke-width="1.4" stroke-linejoin="miter"/>
<polygon points="1301.15,858.01 1309.81,863.01 1309.81,873.01 1301.15,878.01 1292.49,873.01 1292.49,863.01" fill="#000" stroke="#000" stroke-width="1.4" stroke-linejoin="miter"/>
<polygon points="1308.98,855.26 1317.64,860.26 1317.64,870.26 1308.98,875.26 1300.32,870.26 1300.32,860.26" fill="#000" stroke="#000" stroke-width="1.4" stroke-linejoin="miter"/>
<polygon points="1316.82,852.56 1325.48,857.56 1325.48,867.56 1316.82,872.56 1308.16,867.56 1308.16,857.56" fill="#000" stroke="#000" stroke-width="1.4" stroke-linejoin="miter"/>
<polygon points="1324.65,849.93 1333.31,854.93 1333.31,864.93 1324.65,869.93 1315.99,864.93 1315.99,854.93" fill="#000" stroke="#000" stroke-width="1.4" stroke-linejoin="miter"/>
<polygon points="1332.49,847.35 1341.15,852.35 1341.15,862.35 1332.49,867.35 1323.83,862.35 1323.83,852.35" fill="#000" stroke="#000" stroke-width="1.4" stroke-linejoin="miter"/>
<polygon points="1340.32,844.83 1348.98,849.83 1348.98,859.83 1340.32,864.83 1331.66,859.83 1331.66,849.83" fill="#000" stroke="#000" stroke-width="1.4" stroke-linejoin="miter"/>
<polygon points="1348.15,842.36 1356.81,847.36 1356.81,857.36 1348.15,862.36 1339.49,857.36 1339.49,847.36" fill="#000" stroke="#000" stroke-width="1.4" stroke-linejoin="miter"/>
<polygon points="1355.99,839.95 1364.65,844.95 1364.65,854.95 1355.99,859.95 1347.33,854.95 1347.33,844.95" fill="#000" stroke="#000" stroke-width="1.4" stroke-linejoin="miter"/>
<polygon points="1363.82,837.59 1372.48,842.59 1372.48,852.59 1363.82,857.59 1355.16,852.59 1355.16,842.59" fill="#000" stroke="#000" stroke-width="1.4" stroke-linejoin="miter"/>
<polygon points="1371.66,835.28 1380.32,840.28 1380.32,850.28 1371.66,855.28 1363,850.28 1363,840.28" fill="#000" stroke="#000" stroke-width="1.4" stroke-linejoin="miter"/>
<polygon points="1379.49,833.02 1388.15,838.02 1388.15,848.02 1379.49,853.02 1370.83,848.02 1370.83,838.02" fill="#000" stroke="#000" stroke-width="1.4" stroke-linejoin="miter"/>
<polygon points="1387.33,830.81 1395.99,835.81 1395.99,845.81 1387.33,850.81 1378.67,845.81 1378.67,835.81" fill="#000" stroke="#000" stroke-width="1.4" stroke-linejoin="miter"/>
<polygon points="1395.16,828.65 1403.82,833.65 1403.82,843.65 1395.16,848.65 1386.5,843.65 1386.5,833.65" fill="#000" stroke="#000" stroke-width="1.4" stroke-linejoin="miter"/>
<polygon points="1403,826.54 1411.66,831.54 1411.66,841.54 1403,846.54 1394.34,841.54 1394.34,831.54" fill="#000" stroke="#000" stroke-width="1.4" stroke-linejoin="miter"/>
<polygon points="1410.83,824.47 1419.49,829.47 1419.49,839.47 1410.83,844.47 1402.17,839.47 1402.17,829.47" fill="#000" stroke="#000" stroke-width="1.4" stroke-linejoin="miter"/>
<polygon points="1418.67,822.44 1427.33,827.44 1427.33,837.44 1418.67,842.44 1410.01,837.44 1410.01,827.44" fill="#000" stroke="#000" stroke-width="1.4" stroke-linejoin="miter"/>
<polygon points="1426.5,820.45 1435.16,825.45 1435.16,835.45 1426.5,840.45 1417.84,835.45 1417.84,825.45" fill="#000" stroke="#000" stroke-width="1.4" stroke-linejoin="miter"/>
<polygon points="1434.34,818.49 1443,823.49 1443,833.49 1434.34,838.49 1425.68,833.49 1425.68,823.49" fill="#000" stroke="#000" stroke-width="1.4" stroke-linejoin="miter"/>
<polygon points="1442.17,816.58 1450.83,821.58 1450.83,831.58 1442.17,836.58 1433.51,831.58 1433.51,821.58" fill="#000" stroke="#000" stroke-width="1.4" stroke-linejoin="miter"/>
<polygon points="1450.01,814.69 1458.67,819.69 1458.67,829.69 1450.01,834.69 1441.35,829.69 1441.35,819.69" fill="#000" stroke="#000" stroke-width="1.4" stroke-linejoin="miter"/>
<polygon points="1457.84,812.84 1466.5,817.84 1466.5,827.84 1457.84,832.84 1449.18,827.84 1449.18,817.84" fill="#000" stroke="#000" stroke-width="1.4" stroke-linejoin="miter"/>
<polygon points="1465.68,811.01 1474.34,816.01 1474.34,826.01 1465.68,831.01 1457.02,826.01 1457.02,816.01" fill="#000" stroke="#000" stroke-width="1.4" stroke-linejoin="miter"/>
<polygon points="1473.51,809.22 1482.17,814.22 1482.17,824.22 1473.51,829.22 1464.85,824.22 1464.85,814.22" fill="#000" stroke="#000" stroke-width="1.4" stroke-linejoin="miter"/>
<polygon points="1481.35,807.44 1490.01,812.44 1490.01,822.44 1481.35,827.44 1472.69,822.44 1472.69,812.44" fill="#000" stroke="#000" stroke-width="1.4" stroke-linejoin="miter"/>
<polygon points="1489.18,805.69 1497.84,810.69 1497.84,820.69 1489.18,825.69 1480.52,820.69 1480.52,810.69" fill="#000" stroke="#000" stroke-width="1.4" stroke-linejoin="miter"/>
<polygon points="1497.01,803.96 1505.67,808.96 1505.67,818.96 1497.01,823.96 1488.35,818.96 1488.35,808.96" fill="#000" stroke="#000" stroke-width="1.4" stroke-linejoin="miter"/>
<polygon points="1504.85,802.24 1513.51,807.24 1513.51,817.24 1504.85,822.24 1496.19,817.24 1496.19,807.24" fill="#000" stroke="#000" stroke-width="1.4" stroke-linejoin="miter"/>
<polygon points="1512.68,800.55 1521.34,805.55 1521.34,815.55 1512.68,820.55 1504.02,815.55 1504.02,805.55" fill="#000" stroke="#000" stroke-width="1.4" stroke-linejoin="miter"/>
<polygon points="1520.52,798.86 1529.18,803.86 1529.18,813.86 1520.52,818.86 1511.86,813.86 1511.86,803.86" fill="#000" stroke="#000" stroke-width="1.4" stroke-linejoin="miter"/>
<polygon points="1528.35,797.19 1537.01,802.19 1537.01,812.19 1528.35,817.19 1519.69,812.19 1519.69,802.19" fill="#000" stroke="#000" stroke-width="1.4" stroke-linejoin="miter"/>
<polygon points="1536.19,795.52 1544.85,800.52 1544.85,810.52 1536.19,815.52 1527.53,810.52 1527.53,800.52" fill="#000" stroke="#000" stroke-width="1.4" stroke-linejoin="miter"/>
<polygon points="1544.02,793.87 1552.68,798.87 1552.68,808.87 1544.02,813.87 1535.36,808.87 1535.36,798.87" fill="#000" stroke="#000" stroke-width="1.4" stroke-linejoin="miter"/>
<polygon points="1551.86,792.22 1560.52,797.22 1560.52,807.22 1551.86,812.22 1543.2,807.22 1543.2,797.22" fill="#000" stroke="#000" stroke-width="1.4" stroke-linejoin="miter"/>
<polygon points="1559.69,790.57 1568.35,795.57 1568.35,805.57 1559.69,810.57 1551.03,805.57 1551.03,795.57" fill="#000" stroke="#000" stroke-width="1.4" stroke-linejoin="miter"/>
<polygon points="1567.53,788.93 1576.19,793.93 1576.19,803.93 1567.53,808.93 1558.87,803.93 1558.87,793.93" fill="#000" stroke="#000" stroke-width="1.4" stroke-linejoin="miter"/>
<polygon points="1575.36,787.29 1584.02,792.29 1584.02,802.29 1575.36,807.29 1566.7,802.29 1566.7,792.29" fill="#000" stroke="#000" stroke-width="1.4" stroke-linejoin="miter"/>
<polygon points="1583.2,785.65 1591.86,790.65 1591.86,800.65 1583.2,805.65 1574.54,800.65 1574.54,790.65" fill="#000" stroke="#000" stroke-width="1.4" stroke-linejoin="miter"/>
<polygon points="1591.03,784.01 1599.69,789.01 1599.69,799.01 1591.03,804.01 1582.37,799.01 1582.37,789.01" fill="#000" stroke="#000" stroke-width="1.4" stroke-linejoin="miter"/>
<polygon points="1598.87,782.37 1607.53,787.37 1607.53,797.37 1598.87,802.37 1590.21,797.37 1590.21,787.37" fill="#000" stroke="#000" stroke-width="1.4" stroke-linejoin="miter"/>
<polygon points="1606.7,780.73 1615.36,785.73 1615.36,795.73 1606.7,800.73 1598.04,795.73 1598.04,785.73" fill="#000" stroke="#000" stroke-width="1.4" stroke-linejoin="miter"/>
<polygon points="1614.54,779.08 1623.2,784.08 1623.2,794.08 1614.54,799.08 1605.88,794.08 1605.88,784.08" fill="#000" stroke="#000" stroke-width="1.4" stroke-linejoin="miter"/>
<polygon points="1622.37,777.43 1631.03,782.43 1631.03,792.43 1622.37,797.43 1613.71,792.43 1613.71,782.43" fill="#000" stroke="#000" stroke-width="1.4" stroke-linejoin="miter"/>
<polygon points="1630.21,775.78 1638.87,780.78 1638.87,790.78 1630.21,795.78 1621.55,790.78 1621.55,780.78" fill="#000" stroke="#000" stroke-width="1.4" stroke-linejoin="miter"/>
<polygon points="1638.04,774.13 1646.7,779.13 1646.7,789.13 1638.04,794.13 1629.38,789.13 1629.38,779.13" fill="#000" stroke="#000" stroke-width="1.4" stroke-linejoin="miter"/>
<polygon points="1645.87,772.47 1654.53,777.47 1654.53,787.47 1645.87,792.47 1637.21,787.47 1637.21,777.47" fill="#000" stroke="#000" stroke-width="1.4" stroke-linejoin="miter"/>
<polygon points="1653.71,770.81 1662.37,775.81 1662.37,785.81 1653.71,790.81 1645.05,785.81 1645.05,775.81" fill="#000" stroke="#000" stroke-width="1.4" stroke-linejoin="miter"/>
<polygon points="1661.54,769.16 1670.2,774.16 1670.2,784.16 1661.54,789.16 1652.88,784.16 1652.88,774.16" fill="#000" stroke="#000" stroke-width="1.4" stroke-linejoin="miter"/>
<polygon points="1669.38,767.5 1678.04,772.5 1678.04,782.5 1669.38,787.5 1660.72,782.5 1660.72,772.5" fill="#000" stroke="#000" stroke-width="1.4" stroke-linejoin="miter"/>
<polygon points="1677.21,765.84 1685.87,770.84 1685.87,780.84 1677.21,785.84 1668.55,780.84 1668.55,770.84" fill="#000" stroke="#000" stroke-width="1.4" stroke-linejoin="miter"/>
<polygon points="1685.05,764.19 1693.71,769.19 1693.71,779.19 1685.05,784.19 1676.39,779.19 1676.39,769.19" fill="#000" stroke="#000" stroke-width="1.4" stroke-linejoin="miter"/>
<polygon points="1692.88,762.54 1701.54,767.54 1701.54,777.54 1692.88,782.54 1684.22,777.54 1684.22,767.54" fill="#000" stroke="#000" stroke-width="1.4" stroke-linejoin="miter"/>
<polygon points="1700.72,760.91 1709.38,765.91 1709.38,775.91 1700.72,780.91 1692.06,775.91 1692.06,765.91" fill="#000" stroke="#000" stroke-width="1.4" stroke-linejoin="miter"/>
<polygon points="1708.55,759.28 1717.21,764.28 1717.21,774.28 1708.55,779.28 1699.89,774.28 1699.89,764.28" fill="#000" stroke="#000" stroke-width="1.4" stroke-linejoin="miter"/>
<polygon points="1716.39,757.67 1725.05,762.67 1725.05,772.67 1716.39,777.67 1707.73,772.67 1707.73,762.67" fill="#000" stroke="#000" stroke-width="1.4" stroke-linejoin="miter"/>
<polygon points="1724.22,756.07 1732.88,761.07 1732.88,771.07 1724.22,776.07 1715.56,771.07 1715.56,761.07" fill="#000" stroke="#000" stroke-width="1.4" stroke-linejoin="miter"/>
<polygon points="1732.06,754.5 1740.72,759.5 1740.72,769.5 1732.06,774.5 1723.4,769.5 1723.4,759.5" fill="#000" stroke="#000" stroke-width="1.4" stroke-linejoin="miter"/>
<polygon points="1739.89,752.95 1748.55,757.95 1748.55,767.95 1739.89,772.95 1731.23,767.95 1731.23,757.95" fill="#000" stroke="#000" stroke-width="1.4" stroke-linejoin="miter"/>
<polygon points="1747.73,751.43 1756.39,756.43 1756.39,766.43 1747.73,771.43 1739.07,766.43 1739.07,756.43" fill="#000" stroke="#000" stroke-width="1.4" stroke-linejoin="miter"/>
<polygon points="1755.56,749.94 1764.22,754.94 1764.22,764.94 1755.56,769.94 1746.9,764.94 1746.9,754.94" fill="#000" stroke="#000" stroke-width="1.4" stroke-linejoin="miter"/>
<polygon points="1763.4,748.5 1772.06,753.5 1772.06,763.5 1763.4,768.5 1754.74,763.5 1754.74,753.5" fill="#000" stroke="#000" stroke-width="1.4" stroke-linejoin="miter"/>
<polygon points="1771.23,747.1 1779.89,752.1 1779.89,762.1 1771.23,767.1 1762.57,762.1 1762.57,752.1" fill="#000" stroke="#000" stroke-width="1.4" stroke-linejoin="miter"/>
<polygon points="1779.07,745.75 1787.73,750.75 1787.73,760.75 1779.07,765.75 1770.41,760.75 1770.41,750.75" fill="#000" stroke="#000" stroke-width="1.4" stroke-linejoin="miter"/>
</g>
<rect x="1042.6" y="726.5" width="744.3" height="546.4" fill="none" stroke="#333" stroke-width="1.3"/>
<line x1="1042.6" y1="1272.9" x2="1042.6" y2="1284.4" stroke="#333" stroke-width="1.3" />
<text x="1042.6" y="1311.1" font-size="23.5" fill="#000" text-anchor="middle">0</text>
<line x1="1191.46" y1="1272.9" x2="1191.46" y2="1284.4" stroke="#333" stroke-width="1.3" />
<text x="1191.46" y="1311.1" font-size="23.5" fill="#000" text-anchor="middle">38</text>
<line x1="1340.32" y1="1272.9" x2="1340.32" y2="1284.4" stroke="#333" stroke-width="1.3" />
<text x="1340.32" y="1311.1" font-size="23.5" fill="#000" text-anchor="middle">76</text>
<line x1="1489.18" y1="1272.9" x2="1489.18" y2="1284.4" stroke="#333" stroke-width="1.3" />
<text x="1489.18" y="1311.1" font-size="23.5" fill="#000" text-anchor="middle">114</text>
<line x1="1638.04" y1="1272.9" x2="1638.04" y2="1284.4" stroke="#333" stroke-width="1.3" />
<text x="1638.04" y="1311.1" font-size="23.5" fill="#000" text-anchor="middle">152</text>
<line x1="1786.9" y1="1272.9" x2="1786.9" y2="1284.4" stroke="#333" stroke-width="1.3" />
<text x="1786.9" y="1311.1" font-size="23.5" fill="#000" text-anchor="middle">190</text>
<line x1="1031.1" y1="1272.9" x2="1042.6" y2="1272.9" stroke="#333" stroke-width="1.3" />
<text x="1021.6" y="1281.1" font-size="23.5" fill="#000" text-anchor="end">0</text>
<line x1="1031.1" y1="1215.34" x2="1042.6" y2="1215.34" stroke="#333" stroke-width="1.3" />
<text x="1021.6" y="1223.54" font-size="23.5" fill="#000" text-anchor="end">4</text>
<line x1="1031.1" y1="1157.78" x2="1042.6" y2="1157.78" stroke="#333" stroke-width="1.3" />
<text x="1021.6" y="1165.98" font-size="23.5" fill="#000" text-anchor="end">8</text>
<line x1="1031.1" y1="1100.22" x2="1042.6" y2="1100.22" stroke="#333" stroke-width="1.3" />
<text x="1021.6" y="1108.42" font-size="23.5" fill="#000" text-anchor="end">12</text>
<line x1="1031.1" y1="1042.66" x2="1042.6" y2="1042.66" stroke="#333" stroke-width="1.3" />
<text x="1021.6" y="1050.86" font-size="23.5" fill="#000" text-anchor="end">16</text>
<line x1="1031.1" y1="985.09" x2="1042.6" y2="985.09" stroke="#333" stroke-width="1.3" />
<text x="1021.6" y="993.29" font-size="23.5" fill="#000" text-anchor="end">20</text>
<line x1="1031.1" y1="927.53" x2="1042.6" y2="927.53" stroke="#333" stroke-width="1.3" />
<text x="1021.6" y="935.73" font-size="23.5" fill="#000" text-anchor="end">24</text>
<line x1="1031.1" y1="869.97" x2="1042.6" y2="869.97" stroke="#333" stroke-width="1.3" />
<text x="1021.6" y="878.17" font-size="23.5" fill="#000" text-anchor="end">28</text>
<line x1="1031.1" y1="812.41" x2="1042.6" y2="812.41" stroke="#333" stroke-width="1.3" />
<text x="1021.6" y="820.61" font-size="23.5" fill="#000" text-anchor="end">32</text>
<line x1="1031.1" y1="754.85" x2="1042.6" y2="754.85" stroke="#333" stroke-width="1.3" />
<text x="1021.6" y="763.05" font-size="23.5" fill="#000" text-anchor="end">36</text>
<text x="1414.75" y="1351.4" font-size="26" fill="#000" text-anchor="middle" textLength="263" lengthAdjust="spacingAndGlyphs">Operating time (min)</text>
<text x="969" y="1003" font-size="28.5" fill="#000" text-anchor="middle" transform="rotate(-90 969 1003)" textLength="291" lengthAdjust="spacingAndGlyphs">Conductivity (mS cm<tspan dy="-12" font-size="19">−1</tspan><tspan dy="12">)</tspan></text>
<text x="944.6" y="728.1" font-size="40" fill="#000" font-weight="bold" textLength="28.3" lengthAdjust="spacingAndGlyphs" stroke="#000" stroke-width="0.9">d</text>
<text x="1066.4" y="1245.8" font-size="27.5" fill="#000" textLength="300" lengthAdjust="spacingAndGlyphs">Ampicillin sodium/NaCl</text>
<g transform="translate(1293.1 829.8) rotate(-15.2)">
<rect x="-112" y="-21.8" width="224" height="43.6" fill="#fff" stroke="#222" stroke-width="0.9"/>
<text x="0" y="9.9" font-size="27.5" fill="#000" text-anchor="middle" textLength="217" lengthAdjust="spacingAndGlyphs">Concentrate side</text>
</g>
<g transform="translate(1265.9 1152.1) rotate(30.3)">
<rect x="-80" y="-22.25" width="160" height="44.5" fill="#fff" stroke="#222" stroke-width="0.9"/>
<text x="0" y="9.9" font-size="27.5" fill="#000" text-anchor="middle" textLength="147" lengthAdjust="spacingAndGlyphs">Diluate side</text>
</g>
<rect x="1431" y="889.9" width="282.1" height="210.4" fill="#fff"/>
<clipPath id="c8"><rect x="1431" y="889.9" width="282.1" height="210.4"/></clipPath>
<g clip-path="url(#c8)">
<line x1="1431" y1="993" x2="1713.1" y2="993" stroke="#ff5555" stroke-width="0.9" stroke-dasharray="1.5 1"/>
<line x1="1442.23" y1="988.78" x2="1449.46" y2="986.06" stroke="#ff7070" stroke-width="0.9" />
<line x1="1471.7" y1="977.05" x2="1479.38" y2="973.72" stroke="#ff7070" stroke-width="0.9" />
<line x1="1501.62" y1="964.72" x2="1508.85" y2="962" stroke="#ff7070" stroke-width="0.9" />
<line x1="1531.52" y1="954.13" x2="1538.34" y2="951.96" stroke="#ff7070" stroke-width="0.9" />
<line x1="1561.31" y1="944.99" x2="1567.95" y2="943.07" stroke="#ff7070" stroke-width="0.9" />
<line x1="1591.16" y1="937.03" x2="1597.48" y2="935.56" stroke="#ff7070" stroke-width="0.9" />
<line x1="1620.78" y1="929.83" x2="1627.25" y2="928.15" stroke="#ff7070" stroke-width="0.9" />
<line x1="1650.62" y1="922.74" x2="1656.8" y2="921.49" stroke="#ff7070" stroke-width="0.9" />
<line x1="1441.77" y1="998.3" x2="1449.93" y2="1002.31" stroke="#ff7070" stroke-width="0.9" />
<line x1="1471.7" y1="1012.38" x2="1479.38" y2="1015.72" stroke="#ff7070" stroke-width="0.9" />
<line x1="1501.03" y1="1026.04" x2="1509.44" y2="1030.42" stroke="#ff7070" stroke-width="0.9" />
<line x1="1530.97" y1="1041" x2="1538.89" y2="1044.66" stroke="#ff7070" stroke-width="0.9" />
<line x1="1560.67" y1="1054.75" x2="1568.58" y2="1058.41" stroke="#ff7070" stroke-width="0.9" />
<line x1="1590.71" y1="1067.68" x2="1597.94" y2="1070.4" stroke="#ff7070" stroke-width="0.9" />
<line x1="1620.6" y1="1078.26" x2="1627.43" y2="1080.43" stroke="#ff7070" stroke-width="0.9" />
<line x1="1650.69" y1="1086.12" x2="1656.73" y2="1087.17" stroke="#ff7070" stroke-width="0.9" />
<polyline points="1431,1090.4 1490.39,1090.4 1549.78,1090.4 1609.17,1090.4 1638.86,1090.4 1668.56,1090.4 1698.25,1090.4 1713.1,1090.4" fill="none" stroke="#8080ff" stroke-width="1.2"/>
<polygon points="1431,983.5 1439.23,988.25 1439.23,997.75 1431,1002.5 1422.77,997.75 1422.77,988.25" fill="#fff" stroke="#ff0000" stroke-width="1.3" stroke-linejoin="miter"/>
<polygon points="1460.69,998.11 1468.92,1002.86 1468.92,1012.36 1460.69,1017.11 1452.47,1012.36 1452.47,1002.86" fill="#fff" stroke="#ff0000" stroke-width="1.3" stroke-linejoin="miter"/>
<polygon points="1490.39,1010.99 1498.62,1015.74 1498.62,1025.24 1490.39,1029.99 1482.16,1025.24 1482.16,1015.74" fill="#fff" stroke="#ff0000" stroke-width="1.3" stroke-linejoin="miter"/>
<polygon points="1520.08,1026.46 1528.31,1031.21 1528.31,1040.71 1520.08,1045.46 1511.86,1040.71 1511.86,1031.21" fill="#fff" stroke="#ff0000" stroke-width="1.3" stroke-linejoin="miter"/>
<polygon points="1549.78,1040.2 1558.01,1044.95 1558.01,1054.45 1549.78,1059.2 1541.55,1054.45 1541.55,1044.95" fill="#fff" stroke="#ff0000" stroke-width="1.3" stroke-linejoin="miter"/>
<polygon points="1579.47,1053.95 1587.7,1058.7 1587.7,1068.2 1579.47,1072.95 1571.25,1068.2 1571.25,1058.7" fill="#fff" stroke="#ff0000" stroke-width="1.3" stroke-linejoin="miter"/>
<polygon points="1609.17,1065.12 1617.4,1069.87 1617.4,1079.37 1609.17,1084.12 1600.94,1079.37 1600.94,1069.87" fill="#fff" stroke="#ff0000" stroke-width="1.3" stroke-linejoin="miter"/>
<polygon points="1638.86,1074.57 1647.09,1079.32 1647.09,1088.82 1638.86,1093.57 1630.64,1088.82 1630.64,1079.32" fill="#fff" stroke="#ff0000" stroke-width="1.3" stroke-linejoin="miter"/>
<polygon points="1668.56,1079.73 1676.79,1084.48 1676.79,1093.98 1668.56,1098.73 1660.33,1093.98 1660.33,1084.48" fill="#fff" stroke="#ff0000" stroke-width="1.3" stroke-linejoin="miter"/>
<polygon points="1683.41,1084.02 1691.63,1088.77 1691.63,1098.27 1683.41,1103.02 1675.18,1098.27 1675.18,1088.77" fill="#fff" stroke="#ff0000" stroke-width="1.3" stroke-linejoin="miter"/>
<polygon points="1698.25,1086.6 1706.48,1091.35 1706.48,1100.85 1698.25,1105.6 1690.03,1100.85 1690.03,1091.35" fill="#fff" stroke="#ff0000" stroke-width="1.3" stroke-linejoin="miter"/>
<polygon points="1713.1,1086.6 1721.33,1091.35 1721.33,1100.85 1713.1,1105.6 1704.87,1100.85 1704.87,1091.35" fill="#fff" stroke="#ff0000" stroke-width="1.3" stroke-linejoin="miter"/>
<polygon points="1431,983.5 1439.23,988.25 1439.23,997.75 1431,1002.5 1422.77,997.75 1422.77,988.25" fill="#ff0000" stroke="#ff0000" stroke-width="1" stroke-linejoin="miter"/>
<polygon points="1460.69,972.33 1468.92,977.08 1468.92,986.58 1460.69,991.33 1452.47,986.58 1452.47,977.08" fill="#ff0000" stroke="#ff0000" stroke-width="1" stroke-linejoin="miter"/>
<polygon points="1490.39,959.44 1498.62,964.19 1498.62,973.69 1490.39,978.44 1482.16,973.69 1482.16,964.19" fill="#ff0000" stroke="#ff0000" stroke-width="1" stroke-linejoin="miter"/>
<polygon points="1520.08,948.27 1528.31,953.02 1528.31,962.52 1520.08,967.27 1511.86,962.52 1511.86,953.02" fill="#ff0000" stroke="#ff0000" stroke-width="1" stroke-linejoin="miter"/>
<polygon points="1549.78,938.82 1558.01,943.57 1558.01,953.07 1549.78,957.82 1541.55,953.07 1541.55,943.57" fill="#ff0000" stroke="#ff0000" stroke-width="1" stroke-linejoin="miter"/>
<polygon points="1579.47,930.23 1587.7,934.98 1587.7,944.48 1579.47,949.23 1571.25,944.48 1571.25,934.98" fill="#ff0000" stroke="#ff0000" stroke-width="1" stroke-linejoin="miter"/>
<polygon points="1609.17,923.36 1617.4,928.11 1617.4,937.61 1609.17,942.36 1600.94,937.61 1600.94,928.11" fill="#ff0000" stroke="#ff0000" stroke-width="1" stroke-linejoin="miter"/>
<polygon points="1638.86,915.63 1647.09,920.38 1647.09,929.88 1638.86,934.63 1630.64,929.88 1630.64,920.38" fill="#ff0000" stroke="#ff0000" stroke-width="1" stroke-linejoin="miter"/>
<polygon points="1668.56,909.61 1676.79,914.36 1676.79,923.86 1668.56,928.61 1660.33,923.86 1660.33,914.36" fill="#ff0000" stroke="#ff0000" stroke-width="1" stroke-linejoin="miter"/>
<polygon points="1683.41,905.32 1691.63,910.07 1691.63,919.57 1683.41,924.32 1675.18,919.57 1675.18,910.07" fill="#ff0000" stroke="#ff0000" stroke-width="1" stroke-linejoin="miter"/>
<polygon points="1698.25,903.6 1706.48,908.35 1706.48,917.85 1698.25,922.6 1690.03,917.85 1690.03,908.35" fill="#ff0000" stroke="#ff0000" stroke-width="1" stroke-linejoin="miter"/>
<polygon points="1705.68,902.74 1713.9,907.49 1713.9,916.99 1705.68,921.74 1697.45,916.99 1697.45,907.49" fill="#ff0000" stroke="#ff0000" stroke-width="1" stroke-linejoin="miter"/>
<polygon points="1713.1,902.74 1721.33,907.49 1721.33,916.99 1713.1,921.74 1704.87,916.99 1704.87,907.49" fill="#ff0000" stroke="#ff0000" stroke-width="1" stroke-linejoin="miter"/>
<polygon points="1431,1084.13 1436.43,1087.27 1436.43,1093.54 1431,1096.67 1425.57,1093.54 1425.57,1087.27" fill="#0000ff" stroke="#0000ff" stroke-width="0.8" stroke-linejoin="miter"/>
<polygon points="1490.39,1084.13 1495.82,1087.27 1495.82,1093.54 1490.39,1096.67 1484.96,1093.54 1484.96,1087.27" fill="#0000ff" stroke="#0000ff" stroke-width="0.8" stroke-linejoin="miter"/>
<polygon points="1549.78,1084.13 1555.21,1087.27 1555.21,1093.54 1549.78,1096.67 1544.35,1093.54 1544.35,1087.27" fill="#0000ff" stroke="#0000ff" stroke-width="0.8" stroke-linejoin="miter"/>
<polygon points="1609.17,1084.13 1614.6,1087.27 1614.6,1093.54 1609.17,1096.67 1603.74,1093.54 1603.74,1087.27" fill="#0000ff" stroke="#0000ff" stroke-width="0.8" stroke-linejoin="miter"/>
<polygon points="1638.86,1084.13 1644.29,1087.27 1644.29,1093.54 1638.86,1096.67 1633.43,1093.54 1633.43,1087.27" fill="#0000ff" stroke="#0000ff" stroke-width="0.8" stroke-linejoin="miter"/>
<polygon points="1668.56,1084.13 1673.99,1087.27 1673.99,1093.54 1668.56,1096.67 1663.13,1093.54 1663.13,1087.27" fill="#0000ff" stroke="#0000ff" stroke-width="0.8" stroke-linejoin="miter"/>
<polygon points="1698.25,1084.13 1703.68,1087.27 1703.68,1093.54 1698.25,1096.67 1692.82,1093.54 1692.82,1087.27" fill="#0000ff" stroke="#0000ff" stroke-width="0.8" stroke-linejoin="miter"/>
<polygon points="1713.1,1084.13 1718.53,1087.27 1718.53,1093.54 1713.1,1096.67 1707.67,1093.54 1707.67,1087.27" fill="#0000ff" stroke="#0000ff" stroke-width="0.8" stroke-linejoin="miter"/>
</g>
<line x1="1431" y1="889.9" x2="1713.1" y2="889.9" stroke="#333" stroke-width="1.2" />
<line x1="1431" y1="1100.3" x2="1713.1" y2="1100.3" stroke="#333" stroke-width="1.6" />
<line x1="1431" y1="889.9" x2="1431" y2="1100.3" stroke="#ff0000" stroke-width="1.2" />
<line x1="1713.1" y1="889.9" x2="1713.1" y2="1100.3" stroke="#0000ff" stroke-width="1.2" />
<line x1="1425.5" y1="1096.1" x2="1431" y2="1096.1" stroke="#ff0000" stroke-width="1.2" />
<text x="1420" y="1101.8" font-size="16" fill="#ff0000" text-anchor="end">0</text>
<line x1="1425.5" y1="1061.73" x2="1431" y2="1061.73" stroke="#ff0000" stroke-width="1.2" />
<text x="1420" y="1067.43" font-size="16" fill="#ff0000" text-anchor="end">4</text>
<line x1="1425.5" y1="1027.37" x2="1431" y2="1027.37" stroke="#ff0000" stroke-width="1.2" />
<text x="1420" y="1033.07" font-size="16" fill="#ff0000" text-anchor="end">8</text>
<line x1="1425.5" y1="993" x2="1431" y2="993" stroke="#ff0000" stroke-width="1.2" />
<text x="1420" y="998.7" font-size="16" fill="#ff0000" text-anchor="end">12</text>
<line x1="1425.5" y1="958.63" x2="1431" y2="958.63" stroke="#ff0000" stroke-width="1.2" />
<text x="1420" y="964.33" font-size="16" fill="#ff0000" text-anchor="end">16</text>
<line x1="1425.5" y1="924.27" x2="1431" y2="924.27" stroke="#ff0000" stroke-width="1.2" />
<text x="1420" y="929.97" font-size="16" fill="#ff0000" text-anchor="end">20</text>
<line x1="1425.5" y1="889.9" x2="1431" y2="889.9" stroke="#ff0000" stroke-width="1.2" />
<text x="1420" y="895.6" font-size="16" fill="#ff0000" text-anchor="end">24</text>
<line x1="1713.1" y1="1090.4" x2="1719.1" y2="1090.4" stroke="#0000ff" stroke-width="1.2" />
<text x="1724.1" y="1096.1" font-size="16" fill="#0000ff">0</text>
<line x1="1713.1" y1="1050.2" x2="1719.1" y2="1050.2" stroke="#0000ff" stroke-width="1.2" />
<text x="1724.1" y="1055.9" font-size="16" fill="#0000ff">0.2</text>
<line x1="1713.1" y1="1010" x2="1719.1" y2="1010" stroke="#0000ff" stroke-width="1.2" />
<text x="1724.1" y="1015.7" font-size="16" fill="#0000ff">0.4</text>
<line x1="1713.1" y1="969.8" x2="1719.1" y2="969.8" stroke="#0000ff" stroke-width="1.2" />
<text x="1724.1" y="975.5" font-size="16" fill="#0000ff">0.6</text>
<line x1="1713.1" y1="929.6" x2="1719.1" y2="929.6" stroke="#0000ff" stroke-width="1.2" />
<text x="1724.1" y="935.3" font-size="16" fill="#0000ff">0.8</text>
<line x1="1713.1" y1="889.4" x2="1719.1" y2="889.4" stroke="#0000ff" stroke-width="1.2" />
<text x="1724.1" y="895.1" font-size="16" fill="#0000ff">1.0</text>
<line x1="1431" y1="1100.3" x2="1431" y2="1106.3" stroke="#333" stroke-width="1.2" />
<text x="1431" y="1124.8" font-size="16" fill="#000" text-anchor="middle">0</text>
<line x1="1487.42" y1="1100.3" x2="1487.42" y2="1106.3" stroke="#333" stroke-width="1.2" />
<text x="1487.42" y="1124.8" font-size="16" fill="#000" text-anchor="middle">38</text>
<line x1="1543.84" y1="1100.3" x2="1543.84" y2="1106.3" stroke="#333" stroke-width="1.2" />
<text x="1543.84" y="1124.8" font-size="16" fill="#000" text-anchor="middle">76</text>
<line x1="1600.26" y1="1100.3" x2="1600.26" y2="1106.3" stroke="#333" stroke-width="1.2" />
<text x="1600.26" y="1124.8" font-size="16" fill="#000" text-anchor="middle">114</text>
<line x1="1656.68" y1="1100.3" x2="1656.68" y2="1106.3" stroke="#333" stroke-width="1.2" />
<text x="1656.68" y="1124.8" font-size="16" fill="#000" text-anchor="middle">152</text>
<line x1="1713.1" y1="1100.3" x2="1713.1" y2="1106.3" stroke="#333" stroke-width="1.2" />
<text x="1713.1" y="1124.8" font-size="16" fill="#000" text-anchor="middle">190</text>
<text x="1572.05" y="1150.3" font-size="20" fill="#000" text-anchor="middle" textLength="104" lengthAdjust="spacingAndGlyphs">Time (min)</text>
<text x="1385" y="995.1" font-size="20.5" fill="#ff0000" text-anchor="middle" transform="rotate(-90 1385 995.1)" textLength="182" lengthAdjust="spacingAndGlyphs">NaCl content (g l<tspan dy="-8.5" font-size="14">−1</tspan><tspan dy="8.5">)</tspan></text>
<text x="1763.5" y="995.1" font-size="20.5" fill="#0000ff" text-anchor="middle" transform="rotate(90 1763.5 995.1)" textLength="228" lengthAdjust="spacingAndGlyphs">Antibiotic content (g l<tspan dy="-8.5" font-size="14">−1</tspan><tspan dy="8.5">)</tspan></text>
<text x="1571" y="972" font-size="20" fill="#ff0000" text-anchor="middle" transform="rotate(-15 1571 972)" textLength="122" lengthAdjust="spacingAndGlyphs">Concentrate</text>
<text x="1546" y="1029" font-size="20" fill="#ff0000" text-anchor="middle" transform="rotate(30 1546 1029)" textLength="69" lengthAdjust="spacingAndGlyphs">Diluate</text>
<path d="M1520 950 C1515 934 1500 934 1467.88 934" fill="none" stroke="#ff0000" stroke-width="2"/>
<polygon points="1460,934 1470.5,928.8 1466.3,934 1470.5,939.2" fill="#ff0000"/>
<path d="M1485 1025 C1483 1040 1465 1041 1445.87 1041.35" fill="none" stroke="#ff0000" stroke-width="2"/>
<polygon points="1438,1041.5 1448.4,1036.11 1444.3,1041.38 1448.59,1046.5" fill="#ff0000"/>
<path d="M1486 1085 C1488 1068 1505 1066 1538.12 1066" fill="none" stroke="#0000ff" stroke-width="2"/>
<polygon points="1546,1066 1535.5,1071.2 1539.7,1066 1535.5,1060.8" fill="#0000ff"/>
<text x="15.8" y="1430.1" font-size="40" fill="#000" font-weight="bold" textLength="25.7" lengthAdjust="spacingAndGlyphs" stroke="#000" stroke-width="0.9">e</text>
<defs><radialGradient id="gW" cx="0.35" cy="0.35" r="0.7"><stop offset="0" stop-color="#ffffff"/><stop offset="0.5" stop-color="#dadada"/><stop offset="1" stop-color="#6c6c6c"/></radialGradient><radialGradient id="gC" cx="0.35" cy="0.35" r="0.7"><stop offset="0" stop-color="#c8f2f2"/><stop offset="0.6" stop-color="#6cc6c8"/><stop offset="1" stop-color="#3d8f92"/></radialGradient><radialGradient id="gB" cx="0.35" cy="0.35" r="0.7"><stop offset="0" stop-color="#8a8aff"/><stop offset="0.6" stop-color="#2020d0"/><stop offset="1" stop-color="#10107a"/></radialGradient><radialGradient id="gN" cx="0.35" cy="0.35" r="0.7"><stop offset="0" stop-color="#9a9af0"/><stop offset="0.6" stop-color="#5555d8"/><stop offset="1" stop-color="#3030a0"/></radialGradient><radialGradient id="gR" cx="0.35" cy="0.35" r="0.7"><stop offset="0" stop-color="#ff9090"/><stop offset="0.6" stop-color="#e01010"/><stop offset="1" stop-color="#800000"/></radialGradient><radialGradient id="gY" cx="0.35" cy="0.35" r="0.7"><stop offset="0" stop-color="#ffff9a"/><stop offset="0.6" stop-color="#e8e010"/><stop offset="1" stop-color="#908800"/></radialGradient><radialGradient id="gP" cx="0.4" cy="0.35" r="0.7"><stop offset="0" stop-color="#c89af0"/><stop offset="0.55" stop-color="#8a3cc0"/><stop offset="1" stop-color="#5a1a8a"/></radialGradient><pattern id="stripes" width="13" height="4" patternUnits="userSpaceOnUse"><rect width="13" height="4" fill="#6a6a6a"/><rect y="0" width="13" height="1.5" fill="#3e3e3e"/></pattern></defs>
<polygon points="97,1525 126,1527.5 126,1540.5 97.5,1538.5" fill="#4a4a4a" stroke="#4a4a4a" stroke-width="0.8" stroke-linejoin="round"/>
<ellipse cx="98" cy="1531.8" rx="2.5" ry="6.6" fill="#555"/>
<polygon points="144.7,1467.55 190.6,1422.35 305.2,1425.64 259.3,1470.84" fill="#7fbf9b" stroke="#7fbf9b" stroke-width="0.8" stroke-linejoin="round"/>
<polygon points="144.7,1467.55 259.3,1470.84 259.3,1617.25 144.7,1614.04" fill="#82b698" stroke="#82b698" stroke-width="0.8" stroke-linejoin="round"/>
<polygon points="144.7,1467.55 190.6,1422.35 190.6,1568.84 144.7,1614.04" fill="#447a5a" stroke="#447a5a" stroke-width="0.8" stroke-linejoin="round"/>
<polygon points="144.7,1614.04 190.6,1568.84 259.3,1572.05 259.3,1617.25" fill="#80b596" stroke="#80b596" stroke-width="0.8" stroke-linejoin="round"/>
<polygon points="144.7,1467.55 190.6,1468.35 190.6,1568.84 144.7,1614.04" fill="#447a5a" stroke="#447a5a" stroke-width="0.8" stroke-linejoin="round"/>
<polygon points="144.7,1467.55 190.6,1422.35 190.6,1468.85 144.7,1467.55" fill="#3f7c5b" stroke="#3f7c5b" stroke-width="0.8" stroke-linejoin="round"/>
<polygon points="259.3,1470.84 305.2,1425.64 319.7,1426.06 273.8,1471.26" fill="#c29400" stroke="#c29400" stroke-width="0.8" stroke-linejoin="round"/>
<polygon points="259.3,1470.84 273.8,1471.26 273.8,1617.66 259.3,1617.25" fill="#9a7200" stroke="#9a7200" stroke-width="0.8" stroke-linejoin="round"/>
<polygon points="273.8,1471.26 319.7,1426.06 435.7,1429.39 389.8,1474.59" fill="#1aa0c6" stroke="#1aa0c6" stroke-width="0.8" stroke-linejoin="round"/>
<polygon points="273.8,1471.26 389.8,1474.59 389.8,1620.9 273.8,1617.66" fill="#1b84a4" stroke="#1b84a4" stroke-width="0.8" stroke-linejoin="round"/>
<polygon points="273.8,1471.26 319.7,1426.06 319.7,1572.46 273.8,1617.66" fill="#1b9aab" stroke="#1b9aab" stroke-width="0.8" stroke-linejoin="round"/>
<polygon points="273.8,1617.66 319.7,1572.46 389.8,1575.7 389.8,1620.9" fill="#1b86a6" stroke="#1b86a6" stroke-width="0.8" stroke-linejoin="round"/>
<polygon points="273.8,1471.76 319.7,1473.06 319.7,1572.46 273.8,1617.66" fill="#1c8a96" stroke="#1c8a96" stroke-width="0.8" stroke-linejoin="round"/>
<polygon points="402.8,1474.96 448.7,1429.76 560.2,1432.96 514.3,1478.16" fill="#a8c3c9" stroke="#a8c3c9" stroke-width="0.8" stroke-linejoin="round"/>
<polygon points="402.8,1474.96 514.3,1478.16 514.3,1624.39 402.8,1621.27" fill="#a4bcc2" stroke="#a4bcc2" stroke-width="0.8" stroke-linejoin="round"/>
<polygon points="402.8,1474.96 448.7,1429.76 448.7,1576.07 402.8,1621.27" fill="#8a9da3" stroke="#8a9da3" stroke-width="0.8" stroke-linejoin="round"/>
<polygon points="389.8,1474.59 435.7,1429.39 448.7,1429.76 402.8,1474.96" fill="#7a7a7a" stroke="#7a7a7a" stroke-width="0.8" stroke-linejoin="round"/>
<polygon points="389.8,1474.59 402.8,1474.96 402.8,1621.27 389.8,1620.9" fill="url(#stripes)" />
<polygon points="398.5,1474.84 402.8,1474.96 402.8,1621.27 398.5,1621.15" fill="#5d7880" stroke="#5d7880" stroke-width="0.8" stroke-linejoin="round"/>
<polygon points="514.3,1478.16 560.2,1432.96 575.8,1433.41 529.9,1478.61" fill="#c29400" stroke="#c29400" stroke-width="0.8" stroke-linejoin="round"/>
<polygon points="514.3,1478.16 529.9,1478.61 529.9,1624.83 514.3,1624.39" fill="#9a7200" stroke="#9a7200" stroke-width="0.8" stroke-linejoin="round"/>
<polygon points="529.9,1478.61 575.8,1433.41 685.2,1436.55 639.3,1481.75" fill="#7fbf9b" stroke="#7fbf9b" stroke-width="0.8" stroke-linejoin="round"/>
<polygon points="529.9,1478.61 639.3,1481.75 639.3,1627.89 529.9,1624.83" fill="#84b597" stroke="#84b597" stroke-width="0.8" stroke-linejoin="round"/>
<polygon points="529.9,1478.61 575.8,1433.41 575.8,1579.63 529.9,1624.83" fill="#7e9f22" stroke="#7e9f22" stroke-width="0.8" stroke-linejoin="round"/>
<polygon points="529.9,1624.83 575.8,1579.63 639.3,1582.69 639.3,1627.89" fill="#84b597" stroke="#84b597" stroke-width="0.8" stroke-linejoin="round"/>
<polygon points="658.6,1482.3 704.5,1437.1 704.5,1583.23 658.6,1628.43" fill="#858585" stroke="#858585" stroke-width="0.8" stroke-linejoin="round"/>
<polygon points="639.3,1481.75 685.2,1436.55 704.5,1437.1 658.6,1482.3" fill="#5c5c5c" stroke="#5c5c5c" stroke-width="0.8" stroke-linejoin="round"/>
<polygon points="639.3,1481.75 658.6,1482.3 658.6,1628.43 639.3,1627.89" fill="#4a4a4a" stroke="#4a4a4a" stroke-width="0.8" stroke-linejoin="round"/>
<polygon points="125.4,1467 171.3,1421.8 190.6,1422.35 144.7,1467.55" fill="#5c5c5c" stroke="#5c5c5c" stroke-width="0.8" stroke-linejoin="round"/>
<polygon points="125.4,1467 144.7,1467.55 144.7,1614.04 125.4,1613.5" fill="#4a4a4a" stroke="#4a4a4a" stroke-width="0.8" stroke-linejoin="round"/>
<polygon points="685,1523.5 738,1529 738,1541 685,1537.5" fill="#4a4a4a" stroke="#4a4a4a" stroke-width="0.8" stroke-linejoin="round"/>
<ellipse cx="738" cy="1535" rx="2.5" ry="6" fill="#5a5a5a"/>
<line x1="129.6" y1="1481.3" x2="141.2" y2="1481.3" stroke="#000" stroke-width="1.9" />
<line x1="135.4" y1="1475.5" x2="135.4" y2="1487.1" stroke="#000" stroke-width="1.9" />
<line x1="129.6" y1="1501.6" x2="141.2" y2="1501.6" stroke="#000" stroke-width="1.9" />
<line x1="135.4" y1="1495.8" x2="135.4" y2="1507.4" stroke="#000" stroke-width="1.9" />
<line x1="129.6" y1="1522.5" x2="141.2" y2="1522.5" stroke="#000" stroke-width="1.9" />
<line x1="135.4" y1="1516.7" x2="135.4" y2="1528.3" stroke="#000" stroke-width="1.9" />
<line x1="129.6" y1="1545.1" x2="141.2" y2="1545.1" stroke="#000" stroke-width="1.9" />
<line x1="135.4" y1="1539.3" x2="135.4" y2="1550.9" stroke="#000" stroke-width="1.9" />
<line x1="129.6" y1="1567.7" x2="141.2" y2="1567.7" stroke="#000" stroke-width="1.9" />
<line x1="135.4" y1="1561.9" x2="135.4" y2="1573.5" stroke="#000" stroke-width="1.9" />
<line x1="129.6" y1="1594.4" x2="141.2" y2="1594.4" stroke="#000" stroke-width="1.9" />
<line x1="135.4" y1="1588.6" x2="135.4" y2="1600.2" stroke="#000" stroke-width="1.9" />
<line x1="643" y1="1500.9" x2="654.6" y2="1500.9" stroke="#000" stroke-width="1.9" />
<line x1="643" y1="1520.6" x2="654.6" y2="1520.6" stroke="#000" stroke-width="1.9" />
<line x1="643" y1="1541.9" x2="654.6" y2="1541.9" stroke="#000" stroke-width="1.9" />
<line x1="643" y1="1564.7" x2="654.6" y2="1564.7" stroke="#000" stroke-width="1.9" />
<line x1="643" y1="1587.4" x2="654.6" y2="1587.4" stroke="#000" stroke-width="1.9" />
<line x1="643" y1="1614.5" x2="654.6" y2="1614.5" stroke="#000" stroke-width="1.9" />
<text x="73" y="1510" font-size="16.5" fill="#000" transform="rotate(7 73 1510)" textLength="49" lengthAdjust="spacingAndGlyphs">Anode</text>
<text x="680" y="1518" font-size="16.5" fill="#000" transform="rotate(5 680 1518)" textLength="65" lengthAdjust="spacingAndGlyphs">Cathode</text>
<text x="211.5" y="1570.6" font-size="16" fill="#000" text-anchor="middle" textLength="56" lengthAdjust="spacingAndGlyphs">Na<tspan dy="4" font-size="11">2</tspan><tspan dy="-4">SO</tspan><tspan dy="4" font-size="11">4</tspan></text>
<text x="211.5" y="1586.8" font-size="16" fill="#000" text-anchor="middle" textLength="83.5" lengthAdjust="spacingAndGlyphs">electrolyte</text>
<text x="596" y="1577.4" font-size="16" fill="#000" text-anchor="middle" textLength="56" lengthAdjust="spacingAndGlyphs">Na<tspan dy="4" font-size="11">2</tspan><tspan dy="-4">SO</tspan><tspan dy="4" font-size="11">4</tspan></text>
<text x="596" y="1593" font-size="16" fill="#000" text-anchor="middle" textLength="83.5" lengthAdjust="spacingAndGlyphs">electrolyte</text>
<text x="265.5" y="1646.3" font-size="20.5" fill="#000" text-anchor="middle" textLength="49" lengthAdjust="spacingAndGlyphs">CEM</text>
<text x="520.5" y="1652.5" font-size="20.5" fill="#000" text-anchor="middle" textLength="49" lengthAdjust="spacingAndGlyphs">CEM</text>
<text x="396.5" y="1648.2" font-size="20.5" fill="#000" text-anchor="middle" textLength="48" lengthAdjust="spacingAndGlyphs">NPM</text>
<text x="396.5" y="1675.5" font-size="20.5" fill="#000" text-anchor="middle" textLength="66" lengthAdjust="spacingAndGlyphs">(ACM)</text>
<circle cx="299.5" cy="1482.5" r="12.5" fill="#137344" stroke="#111" stroke-width="1.1" stroke-dasharray="1.3 1.3"/>
<text x="298.5" y="1487" font-size="12" fill="#21923a" text-anchor="middle">Na<tspan dy="-5" font-size="7">+</tspan></text>
<circle cx="328.9" cy="1507.6" r="12.5" fill="#137344" stroke="#111" stroke-width="1.1" stroke-dasharray="1.3 1.3"/>
<text x="327.9" y="1512.1" font-size="12" fill="#21923a" text-anchor="middle">Na<tspan dy="-5" font-size="7">+</tspan></text>
<circle cx="306.7" cy="1530.6" r="12.5" fill="#137344" stroke="#111" stroke-width="1.1" stroke-dasharray="1.3 1.3"/>
<text x="305.7" y="1535.1" font-size="12" fill="#21923a" text-anchor="middle">Na<tspan dy="-5" font-size="7">+</tspan></text>
<circle cx="302.4" cy="1584.4" r="12.5" fill="#137344" stroke="#111" stroke-width="1.1" stroke-dasharray="1.3 1.3"/>
<text x="301.4" y="1588.9" font-size="12" fill="#21923a" text-anchor="middle">Na<tspan dy="-5" font-size="7">+</tspan></text>
<circle cx="236" cy="1525.5" r="12.5" fill="#3a8f4f" stroke="#111" stroke-width="1.1" stroke-dasharray="1.3 1.3"/>
<text x="235" y="1530" font-size="12" fill="#2e9a3e" text-anchor="middle">Na<tspan dy="-5" font-size="7">+</tspan></text>
<circle cx="496.2" cy="1523.4" r="12.5" fill="#4d9a5d" stroke="#111" stroke-width="1.1" stroke-dasharray="1.3 1.3"/>
<text x="495.2" y="1527.9" font-size="12" fill="#2e9a3e" text-anchor="middle">Na<tspan dy="-5" font-size="7">+</tspan></text>
<circle cx="563" cy="1529" r="12.5" fill="#2e8a33" stroke="#111" stroke-width="1.1" stroke-dasharray="1.3 1.3"/>
<text x="562" y="1533.5" font-size="12" fill="#2e9a3e" text-anchor="middle">Na<tspan dy="-5" font-size="7">+</tspan></text>
<circle cx="360.5" cy="1492.5" r="11.5" fill="#6b5a6c" stroke="#111" stroke-width="1.1" stroke-dasharray="1.3 1.3"/>
<text x="359.5" y="1497" font-size="12" fill="#ff2020" text-anchor="middle">Cl<tspan dy="-5" font-size="7">−</tspan></text>
<circle cx="361" cy="1526.5" r="11.5" fill="#6b5a6c" stroke="#111" stroke-width="1.1" stroke-dasharray="1.3 1.3"/>
<text x="360" y="1531" font-size="12" fill="#ff2020" text-anchor="middle">Cl<tspan dy="-5" font-size="7">−</tspan></text>
<circle cx="349.5" cy="1571.3" r="11.5" fill="#6b5a6c" stroke="#111" stroke-width="1.1" stroke-dasharray="1.3 1.3"/>
<text x="348.5" y="1575.8" font-size="12" fill="#ff2020" text-anchor="middle">Cl<tspan dy="-5" font-size="7">−</tspan></text>
<circle cx="363.7" cy="1600.5" r="11.5" fill="#6b5a6c" stroke="#111" stroke-width="1.1" stroke-dasharray="1.3 1.3"/>
<text x="362.7" y="1605" font-size="12" fill="#ff2020" text-anchor="middle">Cl<tspan dy="-5" font-size="7">−</tspan></text>
<circle cx="439.5" cy="1534.9" r="11.5" fill="#c46262" stroke="#111" stroke-width="1.1" stroke-dasharray="1.3 1.3"/>
<text x="438.5" y="1539.4" font-size="12" fill="#ff2020" text-anchor="middle">Cl<tspan dy="-5" font-size="7">−</tspan></text>
<line x1="221" y1="1545" x2="306.05" y2="1553.42" stroke="#4a4a4a" stroke-width="3.4"/>
<polygon points="317,1554.5 302.33,1560.58 307.25,1553.53 303.81,1545.66" fill="#4a4a4a"/>
<line x1="451" y1="1555" x2="365.95" y2="1546.67" stroke="#4a4a4a" stroke-width="3.4"/>
<polygon points="355,1545.6 369.66,1539.5 364.75,1546.56 368.2,1554.43" fill="#4a4a4a"/>
<line x1="480" y1="1542.6" x2="562.06" y2="1550.89" stroke="#4a4a4a" stroke-width="3.4"/>
<polygon points="573,1552 558.32,1558.05 563.25,1551.01 559.83,1543.13" fill="#4a4a4a"/>
<ellipse cx="456" cy="1473.4" rx="9" ry="7.3" fill="url(#gP)"/>
<circle cx="456" cy="1473.4" r="4" fill="none" stroke="#2a0a40" stroke-width="0.9"/>
<line x1="453.5" y1="1473.4" x2="458.5" y2="1473.4" stroke="#2a0a40" stroke-width="1" />
<ellipse cx="499.8" cy="1465.7" rx="9" ry="7.3" fill="url(#gP)"/>
<circle cx="499.8" cy="1465.7" r="4" fill="none" stroke="#2a0a40" stroke-width="0.9"/>
<line x1="497.3" y1="1465.7" x2="502.3" y2="1465.7" stroke="#2a0a40" stroke-width="1" />
<ellipse cx="445.2" cy="1501.6" rx="9" ry="7.3" fill="url(#gP)"/>
<circle cx="445.2" cy="1501.6" r="4" fill="none" stroke="#2a0a40" stroke-width="0.9"/>
<line x1="442.7" y1="1501.6" x2="447.7" y2="1501.6" stroke="#2a0a40" stroke-width="1" />
<ellipse cx="487.6" cy="1497.5" rx="9" ry="7.3" fill="url(#gP)"/>
<circle cx="487.6" cy="1497.5" r="4" fill="none" stroke="#2a0a40" stroke-width="0.9"/>
<line x1="485.1" y1="1497.5" x2="490.1" y2="1497.5" stroke="#2a0a40" stroke-width="1" />
<ellipse cx="436.6" cy="1574.3" rx="9" ry="7.3" fill="url(#gP)"/>
<circle cx="436.6" cy="1574.3" r="4" fill="none" stroke="#2a0a40" stroke-width="0.9"/>
<line x1="434.1" y1="1574.3" x2="439.1" y2="1574.3" stroke="#2a0a40" stroke-width="1" />
<ellipse cx="479" cy="1574.3" rx="9" ry="7.3" fill="url(#gP)"/>
<circle cx="479" cy="1574.3" r="4" fill="none" stroke="#2a0a40" stroke-width="0.9"/>
<line x1="476.5" y1="1574.3" x2="481.5" y2="1574.3" stroke="#2a0a40" stroke-width="1" />
<ellipse cx="442.3" cy="1606.6" rx="9" ry="7.3" fill="url(#gP)"/>
<circle cx="442.3" cy="1606.6" r="4" fill="none" stroke="#2a0a40" stroke-width="0.9"/>
<line x1="439.8" y1="1606.6" x2="444.8" y2="1606.6" stroke="#2a0a40" stroke-width="1" />
<ellipse cx="487.6" cy="1601.2" rx="9" ry="7.3" fill="url(#gP)"/>
<circle cx="487.6" cy="1601.2" r="4" fill="none" stroke="#2a0a40" stroke-width="0.9"/>
<line x1="485.1" y1="1601.2" x2="490.1" y2="1601.2" stroke="#2a0a40" stroke-width="1" />
<line x1="487.8" y1="1466.2" x2="470.8" y2="1472.81" stroke="#555" stroke-width="1.5"/>
<polygon points="468,1473.9 472.32,1468.46 471.91,1472.38 474.86,1474.99" fill="#555"/>
<line x1="475.6" y1="1498" x2="460.13" y2="1501.45" stroke="#555" stroke-width="1.5"/>
<polygon points="457.2,1502.1 462.3,1497.38 461.3,1501.19 463.82,1504.21" fill="#555"/>
<line x1="467" y1="1574.8" x2="451.6" y2="1574.8" stroke="#555" stroke-width="1.5"/>
<polygon points="448.6,1574.8 454.6,1571.3 452.8,1574.8 454.6,1578.3" fill="#555"/>
<line x1="475.6" y1="1601.7" x2="457.21" y2="1606.36" stroke="#555" stroke-width="1.5"/>
<polygon points="454.3,1607.1 459.26,1602.23 458.37,1606.07 460.98,1609.02" fill="#555"/>
<path d="M432 1501 C420 1494 422 1478 440 1473" fill="none" stroke="#7a30b0" stroke-width="2.6"/>
<polygon points="446,1471 436,1467.5 439,1477" fill="#7a30b0"/>
<path d="M424 1575 C414 1585 418 1600 430 1604" fill="none" stroke="#7a30b0" stroke-width="2.6"/>
<polygon points="436,1606 426,1608.5 429,1599" fill="#7a30b0"/>
<rect x="343.7" y="1421" width="125.5" height="267" fill="none" stroke="#ff1a1a" stroke-width="2.2" stroke-dasharray="8 5.5"/>
<line x1="403" y1="1689" x2="403" y2="1717" stroke="#ff0000" stroke-width="2.6" />
<polygon points="403,1728 397.5,1714 408.5,1714" fill="#ff0000"/>
<polygon points="263.4,1738.1 550,1741.4 554,1958.5 267.7,1955.8" fill="none" stroke="#f08a8a" stroke-width="1.4"/>
<line x1="263.4" y1="1738.1" x2="203.8" y2="1781.2" stroke="#f08a8a" stroke-width="1.4" />
<line x1="550" y1="1741.4" x2="490.4" y2="1784.5" stroke="#f08a8a" stroke-width="1.4" />
<line x1="554" y1="1958.5" x2="490.4" y2="2002.2" stroke="#f08a8a" stroke-width="1.4" />
<line x1="267.7" y1="1955.8" x2="203.8" y2="1998.2" stroke="#f08a8a" stroke-width="1.4" />
<g opacity="0.55">
<circle cx="407.43" cy="1809.14" r="4.24" fill="url(#gW)"/>
<circle cx="392.35" cy="1870.74" r="3.79" fill="url(#gB)"/>
<circle cx="391.48" cy="1866.19" r="3.26" fill="url(#gW)"/>
<circle cx="414.02" cy="1796.18" r="3.35" fill="url(#gW)"/>
<circle cx="413.47" cy="1917.3" r="3.4" fill="url(#gW)"/>
<circle cx="401.39" cy="1885.39" r="4.72" fill="url(#gC)"/>
<circle cx="422.63" cy="1848.47" r="4.76" fill="url(#gW)"/>
<circle cx="405.38" cy="1808.08" r="3.39" fill="url(#gW)"/>
<circle cx="406.51" cy="1915.58" r="3.49" fill="url(#gW)"/>
<circle cx="422.9" cy="1887.23" r="3.8" fill="url(#gW)"/>
<circle cx="420.86" cy="1795.05" r="3.3" fill="url(#gW)"/>
<circle cx="400.36" cy="1893.86" r="3.88" fill="url(#gR)"/>
<circle cx="406.85" cy="1878.69" r="3.93" fill="url(#gW)"/>
<circle cx="405.99" cy="1912.1" r="4.32" fill="url(#gW)"/>
<circle cx="402.65" cy="1876.91" r="4.04" fill="url(#gW)"/>
<circle cx="440.51" cy="1901.71" r="3.66" fill="url(#gW)"/>
<circle cx="413.09" cy="1906.14" r="3.44" fill="url(#gW)"/>
<circle cx="417.34" cy="1791.27" r="4.27" fill="url(#gR)"/>
<circle cx="433.87" cy="1876.68" r="4.6" fill="url(#gW)"/>
<circle cx="406.82" cy="1896.25" r="4.15" fill="url(#gW)"/>
<circle cx="422.79" cy="1857.99" r="4.54" fill="url(#gW)"/>
<circle cx="444.68" cy="1860.86" r="4.26" fill="url(#gW)"/>
<circle cx="391.64" cy="1897.24" r="4.24" fill="url(#gB)"/>
<circle cx="405.08" cy="1846.73" r="4.27" fill="url(#gW)"/>
<circle cx="389.35" cy="1858.87" r="3.47" fill="url(#gW)"/>
<circle cx="434.09" cy="1805.69" r="3.6" fill="url(#gW)"/>
<circle cx="411.46" cy="1924.43" r="3.33" fill="url(#gC)"/>
<circle cx="414.95" cy="1872.91" r="4.61" fill="url(#gW)"/>
<circle cx="437.16" cy="1923.24" r="3.65" fill="url(#gW)"/>
<circle cx="412.92" cy="1842.4" r="4.61" fill="url(#gC)"/>
<circle cx="398.57" cy="1822.11" r="3.57" fill="url(#gW)"/>
<circle cx="417.1" cy="1879.26" r="3.62" fill="url(#gC)"/>
<circle cx="410.16" cy="1875.61" r="4.72" fill="url(#gW)"/>
<circle cx="429.43" cy="1867.48" r="4.19" fill="url(#gW)"/>
<circle cx="428.57" cy="1793.64" r="4.64" fill="url(#gW)"/>
<circle cx="434.8" cy="1924.92" r="4.48" fill="url(#gW)"/>
<circle cx="411.54" cy="1848.84" r="3.37" fill="url(#gW)"/>
<circle cx="426.06" cy="1794.96" r="3.31" fill="url(#gW)"/>
<circle cx="400.53" cy="1810.97" r="3.74" fill="url(#gW)"/>
<circle cx="409.82" cy="1789.08" r="4.6" fill="url(#gW)"/>
<circle cx="424.84" cy="1808.77" r="3.6" fill="url(#gW)"/>
<circle cx="408.84" cy="1843.27" r="3.4" fill="url(#gW)"/>
<circle cx="415.96" cy="1862.41" r="3.34" fill="url(#gC)"/>
<circle cx="394.13" cy="1839.82" r="3.62" fill="url(#gW)"/>
<circle cx="437.73" cy="1810.83" r="3.24" fill="url(#gW)"/>
<circle cx="445.06" cy="1869.52" r="3.43" fill="url(#gW)"/>
<circle cx="420.59" cy="1789.33" r="4.04" fill="url(#gW)"/>
<circle cx="429.77" cy="1826.78" r="3.79" fill="url(#gW)"/>
<circle cx="398.02" cy="1908.51" r="4.05" fill="url(#gW)"/>
<circle cx="434.74" cy="1837.75" r="3.56" fill="url(#gR)"/>
<circle cx="439.16" cy="1913.97" r="4.51" fill="url(#gW)"/>
<circle cx="432.39" cy="1821.28" r="4.03" fill="url(#gC)"/>
<circle cx="409.33" cy="1789.64" r="3.24" fill="url(#gB)"/>
<circle cx="404.77" cy="1826.47" r="4.31" fill="url(#gW)"/>
<circle cx="445.39" cy="1856.56" r="4.7" fill="url(#gC)"/>
<circle cx="409.88" cy="1820.27" r="3.56" fill="url(#gW)"/>
<circle cx="399.8" cy="1817.7" r="4.2" fill="url(#gW)"/>
<circle cx="416.77" cy="1889.48" r="4.48" fill="url(#gC)"/>
<circle cx="393.09" cy="1890.69" r="4.66" fill="url(#gW)"/>
<circle cx="434.94" cy="1905.02" r="3.96" fill="url(#gC)"/>
<circle cx="398.71" cy="1911.26" r="3.73" fill="url(#gW)"/>
<circle cx="411.75" cy="1849.22" r="4.71" fill="url(#gW)"/>
<circle cx="431.49" cy="1812.2" r="3.4" fill="url(#gW)"/>
<circle cx="436.39" cy="1808.39" r="4.52" fill="url(#gC)"/>
<circle cx="409.02" cy="1872.79" r="3.41" fill="url(#gW)"/>
<circle cx="426.98" cy="1869.25" r="4.69" fill="url(#gW)"/>
<circle cx="414.03" cy="1924.48" r="4.52" fill="url(#gW)"/>
<circle cx="400.66" cy="1825.29" r="3.67" fill="url(#gB)"/>
<circle cx="402.43" cy="1878.83" r="3.61" fill="url(#gW)"/>
<circle cx="413.14" cy="1805.97" r="4.66" fill="url(#gW)"/>
<circle cx="409.23" cy="1858.31" r="4.13" fill="url(#gW)"/>
<circle cx="442.26" cy="1852.3" r="4.67" fill="url(#gW)"/>
<circle cx="418.1" cy="1870.09" r="4.04" fill="url(#gW)"/>
<circle cx="389.12" cy="1855.42" r="3.49" fill="url(#gW)"/>
<circle cx="398.34" cy="1860.76" r="4.36" fill="url(#gW)"/>
<circle cx="421.39" cy="1837.16" r="4.03" fill="url(#gW)"/>
<circle cx="421.33" cy="1910.48" r="3.37" fill="url(#gW)"/>
<circle cx="421.62" cy="1824.76" r="3.64" fill="url(#gR)"/>
<circle cx="434.34" cy="1866.23" r="4.1" fill="url(#gW)"/>
<circle cx="433.6" cy="1931" r="3.91" fill="url(#gW)"/>
<circle cx="424.75" cy="1865.89" r="4.02" fill="url(#gC)"/>
<circle cx="429.56" cy="1857.38" r="4.05" fill="url(#gW)"/>
<circle cx="416.68" cy="1935.64" r="4.32" fill="url(#gW)"/>
<circle cx="403.58" cy="1874.52" r="4.71" fill="url(#gB)"/>
<circle cx="438.4" cy="1806.94" r="3.39" fill="url(#gW)"/>
<circle cx="414.53" cy="1796.61" r="3.59" fill="url(#gW)"/>
<circle cx="392.39" cy="1892.12" r="4.45" fill="url(#gW)"/>
<circle cx="430.97" cy="1890.64" r="3.43" fill="url(#gB)"/>
<circle cx="411.9" cy="1862.96" r="4.78" fill="url(#gW)"/>
<circle cx="437.95" cy="1810.83" r="3.89" fill="url(#gW)"/>
<circle cx="418.94" cy="1839.26" r="3.51" fill="url(#gW)"/>
<circle cx="407.11" cy="1900.54" r="3.23" fill="url(#gW)"/>
<circle cx="421.24" cy="1855.47" r="3.23" fill="url(#gW)"/>
<circle cx="407.89" cy="1884.83" r="4.02" fill="url(#gW)"/>
<circle cx="394.29" cy="1827.49" r="3.26" fill="url(#gC)"/>
<circle cx="434.74" cy="1828.27" r="3.41" fill="url(#gR)"/>
<circle cx="413.34" cy="1930.83" r="4.51" fill="url(#gR)"/>
<circle cx="403.52" cy="1808.9" r="4.67" fill="url(#gW)"/>
<circle cx="422.24" cy="1897.07" r="3.34" fill="url(#gW)"/>
<circle cx="391.45" cy="1895.11" r="3.88" fill="url(#gW)"/>
<circle cx="426.07" cy="1913.26" r="3.33" fill="url(#gR)"/>
<circle cx="439.77" cy="1857.6" r="3.74" fill="url(#gW)"/>
<circle cx="421.18" cy="1933.27" r="3.63" fill="url(#gC)"/>
<circle cx="395.75" cy="1869.31" r="3.58" fill="url(#gW)"/>
<circle cx="406.72" cy="1833.8" r="4.42" fill="url(#gW)"/>
<circle cx="405.4" cy="1865.01" r="3.48" fill="url(#gW)"/>
<circle cx="431.98" cy="1873.17" r="3.5" fill="url(#gW)"/>
<circle cx="416.49" cy="1934.54" r="3.37" fill="url(#gW)"/>
<circle cx="437.14" cy="1854.15" r="3.99" fill="url(#gW)"/>
<circle cx="438.08" cy="1847.89" r="4.01" fill="url(#gW)"/>
<circle cx="408.56" cy="1918.17" r="4.33" fill="url(#gC)"/>
<circle cx="426.16" cy="1849.75" r="3.76" fill="url(#gW)"/>
<circle cx="392.24" cy="1903.54" r="3.61" fill="url(#gW)"/>
<circle cx="428.23" cy="1830.11" r="3.59" fill="url(#gW)"/>
<circle cx="405.58" cy="1858.51" r="3.45" fill="url(#gW)"/>
<circle cx="414.75" cy="1827.12" r="4.74" fill="url(#gW)"/>
<circle cx="446.36" cy="1872.53" r="3.59" fill="url(#gW)"/>
<circle cx="410.9" cy="1860.94" r="4" fill="url(#gW)"/>
<circle cx="400.06" cy="1865.76" r="3.21" fill="url(#gW)"/>
<circle cx="403.85" cy="1799.36" r="3.84" fill="url(#gW)"/>
<circle cx="406.25" cy="1822.25" r="4.14" fill="url(#gW)"/>
<circle cx="419.75" cy="1905.09" r="4.25" fill="url(#gR)"/>
<circle cx="430.96" cy="1925.65" r="3.82" fill="url(#gW)"/>
<circle cx="396.97" cy="1900.86" r="4.23" fill="url(#gC)"/>
<circle cx="441.52" cy="1885.37" r="4.37" fill="url(#gW)"/>
<circle cx="436.73" cy="1807.29" r="4.04" fill="url(#gW)"/>
<circle cx="418.26" cy="1918.59" r="4.49" fill="url(#gW)"/>
<circle cx="437.58" cy="1878.45" r="4.63" fill="url(#gW)"/>
<circle cx="428.97" cy="1895.93" r="3.57" fill="url(#gW)"/>
<circle cx="409.64" cy="1801.79" r="4.54" fill="url(#gW)"/>
<circle cx="421.51" cy="1885.44" r="4.2" fill="url(#gW)"/>
<circle cx="428.84" cy="1863.29" r="3.21" fill="url(#gC)"/>
<circle cx="435.86" cy="1904.72" r="4" fill="url(#gC)"/>
<circle cx="420.11" cy="1890.49" r="3.31" fill="url(#gB)"/>
<circle cx="432.21" cy="1825.35" r="3.32" fill="url(#gW)"/>
<circle cx="403.93" cy="1901.69" r="3.53" fill="url(#gW)"/>
<circle cx="417.64" cy="1846.21" r="3.97" fill="url(#gW)"/>
<circle cx="429.02" cy="1907.72" r="4.19" fill="url(#gW)"/>
<circle cx="426.57" cy="1797.4" r="3.44" fill="url(#gB)"/>
<circle cx="403.24" cy="1903.91" r="3.69" fill="url(#gW)"/>
<circle cx="422.07" cy="1787" r="3.3" fill="url(#gW)"/>
<circle cx="404.13" cy="1892.52" r="4.31" fill="url(#gC)"/>
<circle cx="428.54" cy="1831.54" r="4.03" fill="url(#gC)"/>
<circle cx="415.88" cy="1859.61" r="3.39" fill="url(#gW)"/>
<circle cx="441.62" cy="1816.88" r="4.77" fill="url(#gC)"/>
<circle cx="415.54" cy="1916.18" r="4.75" fill="url(#gW)"/>
<circle cx="414.97" cy="1827.99" r="3.54" fill="url(#gW)"/>
<circle cx="422.89" cy="1807.68" r="4.04" fill="url(#gW)"/>
<circle cx="437.21" cy="1866.4" r="4.62" fill="url(#gW)"/>
<circle cx="430.2" cy="1822.02" r="4.64" fill="url(#gW)"/>
<circle cx="417.17" cy="1788.97" r="3.21" fill="url(#gW)"/>
<circle cx="417.5" cy="1857.12" r="3.68" fill="url(#gW)"/>
<circle cx="396.44" cy="1840.03" r="3.71" fill="url(#gB)"/>
<circle cx="433.04" cy="1919.26" r="3.39" fill="url(#gW)"/>
<circle cx="443.58" cy="1899.08" r="4.64" fill="url(#gW)"/>
<circle cx="405.39" cy="1844.56" r="3.83" fill="url(#gB)"/>
<circle cx="409.64" cy="1853.49" r="3.64" fill="url(#gC)"/>
<circle cx="438.08" cy="1830.7" r="4.7" fill="url(#gW)"/>
<circle cx="402.96" cy="1827.52" r="4.02" fill="url(#gW)"/>
<circle cx="399.39" cy="1844.74" r="4.73" fill="url(#gW)"/>
<circle cx="441.06" cy="1914.91" r="4.21" fill="url(#gW)"/>
<circle cx="420.95" cy="1900.13" r="3.28" fill="url(#gW)"/>
<circle cx="431.94" cy="1857.14" r="4.4" fill="url(#gC)"/>
<circle cx="426.67" cy="1830.79" r="3.28" fill="url(#gW)"/>
<circle cx="416.33" cy="1839.99" r="3.68" fill="url(#gW)"/>
<circle cx="403.61" cy="1889.96" r="3.68" fill="url(#gW)"/>
<circle cx="421.44" cy="1848.1" r="3.47" fill="url(#gW)"/>
<circle cx="397.7" cy="1818.26" r="4.65" fill="url(#gW)"/>
<circle cx="417.82" cy="1820.2" r="4.65" fill="url(#gW)"/>
<circle cx="447.79" cy="1856.99" r="3.42" fill="url(#gW)"/>
<circle cx="408.52" cy="1799.58" r="3.58" fill="url(#gW)"/>
<circle cx="403.5" cy="1876.14" r="4.62" fill="url(#gW)"/>
<circle cx="432.98" cy="1851.05" r="3.86" fill="url(#gC)"/>
<circle cx="419.45" cy="1845.3" r="3.74" fill="url(#gW)"/>
<circle cx="391.72" cy="1829.4" r="4.75" fill="url(#gW)"/>
<circle cx="395.55" cy="1865.54" r="4.21" fill="url(#gW)"/>
<circle cx="439.77" cy="1819.55" r="3.63" fill="url(#gC)"/>
<circle cx="402.91" cy="1848.96" r="3.91" fill="url(#gW)"/>
<circle cx="441.74" cy="1860.72" r="4.14" fill="url(#gC)"/>
<circle cx="402.91" cy="1802.45" r="3.45" fill="url(#gW)"/>
<circle cx="419.34" cy="1894.13" r="4.71" fill="url(#gW)"/>
<circle cx="431.3" cy="1888.58" r="4.42" fill="url(#gB)"/>
<circle cx="415.44" cy="1873.24" r="3.26" fill="url(#gW)"/>
<circle cx="434.94" cy="1822.21" r="4.67" fill="url(#gW)"/>
<circle cx="426.73" cy="1833.61" r="3.4" fill="url(#gW)"/>
<circle cx="403.11" cy="1886.81" r="4.32" fill="url(#gW)"/>
<circle cx="419.47" cy="1878.26" r="3.82" fill="url(#gW)"/>
<circle cx="401.41" cy="1881.17" r="3.22" fill="url(#gR)"/>
<circle cx="406.09" cy="1858.71" r="4.73" fill="url(#gW)"/>
<circle cx="426.67" cy="1926.4" r="3.96" fill="url(#gW)"/>
<circle cx="402.09" cy="1824.53" r="4.74" fill="url(#gC)"/>
<circle cx="430.28" cy="1834.18" r="3.23" fill="url(#gW)"/>
<circle cx="417.9" cy="1892.91" r="3.87" fill="url(#gW)"/>
<circle cx="403.44" cy="1891.78" r="4.68" fill="url(#gW)"/>
<circle cx="408.28" cy="1852.29" r="4.29" fill="url(#gC)"/>
<circle cx="399.88" cy="1912.53" r="4.38" fill="url(#gW)"/>
<circle cx="418.29" cy="1817.83" r="4.75" fill="url(#gW)"/>
<circle cx="406.7" cy="1916.2" r="3.57" fill="url(#gW)"/>
<circle cx="401.29" cy="1906.68" r="3.67" fill="url(#gW)"/>
<circle cx="445.12" cy="1864.32" r="3.5" fill="url(#gW)"/>
<circle cx="401.4" cy="1851.72" r="4.26" fill="url(#gW)"/>
<circle cx="411.61" cy="1819.07" r="4.76" fill="url(#gC)"/>
<circle cx="391.61" cy="1847.93" r="4.64" fill="url(#gW)"/>
<circle cx="441.02" cy="1902.24" r="4.8" fill="url(#gC)"/>
<circle cx="443.9" cy="1837.68" r="3.5" fill="url(#gW)"/>
<circle cx="389.91" cy="1891.31" r="3.81" fill="url(#gW)"/>
<circle cx="410.43" cy="1838.07" r="3.47" fill="url(#gW)"/>
<circle cx="409.09" cy="1937.88" r="3.4" fill="url(#gW)"/>
<circle cx="409.4" cy="1916.45" r="4.52" fill="url(#gW)"/>
<circle cx="413.95" cy="1792.88" r="3.96" fill="url(#gW)"/>
<circle cx="410.36" cy="1932.12" r="3.51" fill="url(#gW)"/>
<circle cx="409.85" cy="1928.52" r="3.25" fill="url(#gW)"/>
<circle cx="412.65" cy="1914.89" r="4.43" fill="url(#gW)"/>
<circle cx="403.42" cy="1904.57" r="4.64" fill="url(#gW)"/>
<circle cx="408.34" cy="1828.57" r="4.73" fill="url(#gW)"/>
<circle cx="425.02" cy="1826.95" r="4.35" fill="url(#gW)"/>
<circle cx="406.99" cy="1829.1" r="3.21" fill="url(#gW)"/>
<circle cx="433.34" cy="1931.63" r="4.21" fill="url(#gW)"/>
<circle cx="402.03" cy="1861.03" r="4.73" fill="url(#gW)"/>
<circle cx="445.23" cy="1846.84" r="3.6" fill="url(#gC)"/>
<circle cx="413.8" cy="1863.96" r="4.68" fill="url(#gW)"/>
<circle cx="398.98" cy="1913.41" r="4.38" fill="url(#gW)"/>
<circle cx="437.37" cy="1908.65" r="4.17" fill="url(#gW)"/>
<circle cx="407.67" cy="1836.13" r="3.78" fill="url(#gW)"/>
<circle cx="399.84" cy="1905.46" r="3.6" fill="url(#gW)"/>
<circle cx="421.16" cy="1837.12" r="4.77" fill="url(#gW)"/>
<circle cx="403.89" cy="1798.45" r="3.35" fill="url(#gW)"/>
<circle cx="417.91" cy="1898.56" r="3.92" fill="url(#gW)"/>
<circle cx="402.05" cy="1851.69" r="4.19" fill="url(#gW)"/>
<circle cx="428.45" cy="1904.68" r="4.56" fill="url(#gW)"/>
<circle cx="427.87" cy="1804.39" r="4.55" fill="url(#gW)"/>
<circle cx="405.63" cy="1875.7" r="3.8" fill="url(#gW)"/>
<circle cx="432.28" cy="1816.87" r="3.6" fill="url(#gW)"/>
<circle cx="402.72" cy="1809.53" r="4.61" fill="url(#gW)"/>
<circle cx="422.7" cy="1837.21" r="3.83" fill="url(#gW)"/>
<circle cx="447.55" cy="1866.17" r="3.57" fill="url(#gW)"/>
<circle cx="436.51" cy="1889.53" r="4.79" fill="url(#gW)"/>
<circle cx="394.14" cy="1860.96" r="4.51" fill="url(#gW)"/>
<circle cx="395.15" cy="1815.33" r="4.76" fill="url(#gW)"/>
<circle cx="422.99" cy="1933.83" r="3.8" fill="url(#gW)"/>
<circle cx="439.97" cy="1856.86" r="3.62" fill="url(#gW)"/>
<circle cx="394.35" cy="1880.38" r="4.19" fill="url(#gW)"/>
<circle cx="401.06" cy="1843.99" r="3.43" fill="url(#gW)"/>
<circle cx="400.24" cy="1825.79" r="4.16" fill="url(#gW)"/>
<circle cx="427.1" cy="1817.55" r="3.22" fill="url(#gC)"/>
<circle cx="407.63" cy="1893.53" r="3.5" fill="url(#gW)"/>
<circle cx="406.73" cy="1817.55" r="4.47" fill="url(#gB)"/>
<circle cx="420.88" cy="1795.12" r="3.36" fill="url(#gC)"/>
<circle cx="411.72" cy="1873.02" r="4.22" fill="url(#gC)"/>
<circle cx="429.72" cy="1850.57" r="3.65" fill="url(#gW)"/>
<circle cx="406.46" cy="1937.51" r="3.7" fill="url(#gW)"/>
<circle cx="421.99" cy="1842.15" r="3.87" fill="url(#gB)"/>
<circle cx="409.83" cy="1816.55" r="4.36" fill="url(#gC)"/>
<circle cx="442.1" cy="1852.8" r="4.51" fill="url(#gC)"/>
<circle cx="412.37" cy="1926.25" r="3.94" fill="url(#gW)"/>
<circle cx="421.09" cy="1887.51" r="4.66" fill="url(#gW)"/>
<circle cx="393.34" cy="1884.55" r="3.79" fill="url(#gW)"/>
<circle cx="418.27" cy="1808.34" r="3.65" fill="url(#gW)"/>
<circle cx="419.27" cy="1933.08" r="3.37" fill="url(#gC)"/>
<circle cx="417.43" cy="1913.77" r="4.75" fill="url(#gW)"/>
</g>
<ellipse cx="364" cy="1866" rx="42" ry="96" fill="#a9adad"/>
<ellipse cx="376" cy="1778" rx="18" ry="16" fill="#a9adad"/>
<circle cx="378.6" cy="1763.7" r="3.79" fill="url(#gW)"/>
<circle cx="385.79" cy="1770.61" r="3.78" fill="url(#gW)"/>
<circle cx="382.5" cy="1767.87" r="3.71" fill="url(#gW)"/>
<circle cx="388.82" cy="1770.74" r="5.09" fill="url(#gW)"/>
<circle cx="365.64" cy="1767.79" r="4.25" fill="url(#gW)"/>
<circle cx="373.75" cy="1782.87" r="4.06" fill="url(#gC)"/>
<circle cx="360.78" cy="1776.23" r="4.44" fill="url(#gW)"/>
<circle cx="351.28" cy="1779.1" r="3.95" fill="url(#gB)"/>
<circle cx="366.64" cy="1771.44" r="4.15" fill="url(#gW)"/>
<circle cx="365.25" cy="1762.17" r="4.73" fill="url(#gW)"/>
<circle cx="392.07" cy="1765.96" r="4.02" fill="url(#gC)"/>
<circle cx="384.64" cy="1783.96" r="3.66" fill="url(#gW)"/>
<circle cx="373.13" cy="1787.53" r="4.5" fill="url(#gW)"/>
<circle cx="344.61" cy="1791.92" r="4.21" fill="url(#gW)"/>
<circle cx="369.41" cy="1790.52" r="4.47" fill="url(#gC)"/>
<circle cx="386.7" cy="1788.66" r="4.05" fill="url(#gW)"/>
<circle cx="384.31" cy="1786.34" r="4.98" fill="url(#gW)"/>
<circle cx="382.12" cy="1786.16" r="3.94" fill="url(#gR)"/>
<circle cx="359.36" cy="1787.01" r="5.26" fill="url(#gR)"/>
<circle cx="362.2" cy="1802.07" r="3.86" fill="url(#gW)"/>
<circle cx="366.03" cy="1789.85" r="3.9" fill="url(#gW)"/>
<circle cx="350.49" cy="1797.92" r="5.21" fill="url(#gW)"/>
<circle cx="374.23" cy="1780.65" r="3.96" fill="url(#gW)"/>
<circle cx="356.29" cy="1772.1" r="3.86" fill="url(#gW)"/>
<circle cx="375.67" cy="1765.41" r="5.26" fill="url(#gW)"/>
<circle cx="355.17" cy="1770.61" r="4.24" fill="url(#gW)"/>
<circle cx="334.42" cy="1801.26" r="5.28" fill="url(#gW)"/>
<circle cx="348.75" cy="1804.17" r="5.05" fill="url(#gC)"/>
<circle cx="379.3" cy="1762.67" r="4.67" fill="url(#gW)"/>
<circle cx="340.36" cy="1807.83" r="4.92" fill="url(#gB)"/>
<circle cx="389.67" cy="1800.91" r="5.18" fill="url(#gW)"/>
<circle cx="358.63" cy="1795.54" r="3.78" fill="url(#gW)"/>
<circle cx="367.58" cy="1785.33" r="3.68" fill="url(#gW)"/>
<circle cx="365.38" cy="1791.67" r="4.83" fill="url(#gW)"/>
<circle cx="359.43" cy="1790.15" r="4.05" fill="url(#gB)"/>
<circle cx="370.12" cy="1771.86" r="3.62" fill="url(#gC)"/>
<circle cx="376.39" cy="1811.78" r="4.49" fill="url(#gW)"/>
<circle cx="380.1" cy="1776.14" r="5.05" fill="url(#gW)"/>
<circle cx="357.88" cy="1788.55" r="3.44" fill="url(#gW)"/>
<circle cx="355.91" cy="1782.4" r="4.28" fill="url(#gW)"/>
<circle cx="393.78" cy="1797.63" r="4.74" fill="url(#gW)"/>
<circle cx="373.49" cy="1761.91" r="4.19" fill="url(#gW)"/>
<circle cx="391.09" cy="1774.7" r="3.8" fill="url(#gW)"/>
<circle cx="376.55" cy="1764.14" r="5.26" fill="url(#gW)"/>
<circle cx="369.55" cy="1767.43" r="3.91" fill="url(#gW)"/>
<circle cx="366.38" cy="1784.18" r="5.18" fill="url(#gW)"/>
<circle cx="365.77" cy="1790.27" r="5.01" fill="url(#gW)"/>
<circle cx="377.91" cy="1774.49" r="4.08" fill="url(#gW)"/>
<circle cx="397.89" cy="1814.64" r="3.78" fill="url(#gR)"/>
<circle cx="352.91" cy="1799.77" r="5.06" fill="url(#gW)"/>
<circle cx="389.29" cy="1798.61" r="4.59" fill="url(#gW)"/>
<circle cx="358.57" cy="1790.71" r="4.32" fill="url(#gW)"/>
<circle cx="334.26" cy="1806.83" r="4.01" fill="url(#gB)"/>
<circle cx="361.1" cy="1796.31" r="4.38" fill="url(#gW)"/>
<circle cx="383.71" cy="1772.1" r="4.83" fill="url(#gW)"/>
<circle cx="378.41" cy="1760.74" r="3.71" fill="url(#gW)"/>
<circle cx="387.12" cy="1791.99" r="5.37" fill="url(#gW)"/>
<circle cx="359.29" cy="1770.77" r="4.17" fill="url(#gW)"/>
<circle cx="360.04" cy="1788.02" r="3.61" fill="url(#gW)"/>
<circle cx="387.77" cy="1769.53" r="4.03" fill="url(#gW)"/>
<circle cx="363.39" cy="1771.03" r="5.22" fill="url(#gW)"/>
<circle cx="382.81" cy="1815" r="4.7" fill="url(#gW)"/>
<circle cx="352.7" cy="1776.6" r="4.29" fill="url(#gW)"/>
<circle cx="382.74" cy="1766.54" r="4.04" fill="url(#gW)"/>
<circle cx="354.45" cy="1774.46" r="4.16" fill="url(#gW)"/>
<circle cx="329.61" cy="1812.13" r="5.32" fill="url(#gW)"/>
<circle cx="344.72" cy="1806.63" r="4.8" fill="url(#gW)"/>
<circle cx="358.21" cy="1805.2" r="4.49" fill="url(#gW)"/>
<circle cx="346.74" cy="1780.53" r="3.53" fill="url(#gW)"/>
<circle cx="364.03" cy="1826.2" r="3.53" fill="url(#gW)"/>
<circle cx="375.34" cy="1803.6" r="3.63" fill="url(#gW)"/>
<circle cx="334.83" cy="1814.74" r="3.69" fill="url(#gW)"/>
<circle cx="342.13" cy="1788.15" r="4.11" fill="url(#gR)"/>
<circle cx="356.18" cy="1791.81" r="3.71" fill="url(#gW)"/>
<circle cx="350.73" cy="1799.8" r="5.33" fill="url(#gW)"/>
<circle cx="387.02" cy="1762.61" r="3.54" fill="url(#gW)"/>
<circle cx="340.24" cy="1819.97" r="4.82" fill="url(#gW)"/>
<circle cx="386.61" cy="1790.46" r="5.38" fill="url(#gW)"/>
<circle cx="383.5" cy="1788.01" r="5.06" fill="url(#gW)"/>
<circle cx="372.3" cy="1809.77" r="4" fill="url(#gW)"/>
<circle cx="376.56" cy="1826.5" r="5.39" fill="url(#gB)"/>
<circle cx="341.55" cy="1805.47" r="3.97" fill="url(#gW)"/>
<circle cx="371.22" cy="1830.47" r="4.52" fill="url(#gB)"/>
<circle cx="379.73" cy="1797.64" r="4.09" fill="url(#gW)"/>
<circle cx="356.98" cy="1778.03" r="4.01" fill="url(#gW)"/>
<circle cx="371.48" cy="1775.44" r="3.91" fill="url(#gW)"/>
<circle cx="374.63" cy="1780.06" r="4" fill="url(#gC)"/>
<circle cx="383.3" cy="1815.48" r="4.87" fill="url(#gW)"/>
<circle cx="368.85" cy="1819.84" r="3.87" fill="url(#gW)"/>
<circle cx="350.52" cy="1784.67" r="4.51" fill="url(#gW)"/>
<circle cx="384.22" cy="1784.52" r="4.66" fill="url(#gW)"/>
<circle cx="355.53" cy="1807.88" r="3.65" fill="url(#gW)"/>
<circle cx="375.37" cy="1795.2" r="3.95" fill="url(#gW)"/>
<circle cx="389.22" cy="1786.11" r="4.83" fill="url(#gW)"/>
<circle cx="335.99" cy="1812.47" r="4.6" fill="url(#gW)"/>
<circle cx="376.17" cy="1803.22" r="5.08" fill="url(#gW)"/>
<circle cx="392.53" cy="1821.51" r="3.83" fill="url(#gW)"/>
<circle cx="369.52" cy="1763.19" r="3.89" fill="url(#gW)"/>
<circle cx="387.81" cy="1809.3" r="4.27" fill="url(#gW)"/>
<circle cx="387.75" cy="1791.15" r="3.84" fill="url(#gW)"/>
<circle cx="370.05" cy="1827.27" r="3.74" fill="url(#gW)"/>
<circle cx="385.77" cy="1782.02" r="4.7" fill="url(#gW)"/>
<circle cx="374.67" cy="1817.11" r="4.44" fill="url(#gW)"/>
<circle cx="342.31" cy="1786.61" r="4.46" fill="url(#gW)"/>
<circle cx="383.12" cy="1806.24" r="3.47" fill="url(#gW)"/>
<circle cx="390.17" cy="1807.28" r="4.9" fill="url(#gW)"/>
<circle cx="325.32" cy="1834.09" r="4.05" fill="url(#gW)"/>
<circle cx="393.36" cy="1780.04" r="3.61" fill="url(#gW)"/>
<circle cx="379" cy="1759.35" r="4.93" fill="url(#gW)"/>
<circle cx="341.51" cy="1789.79" r="4.98" fill="url(#gW)"/>
<circle cx="382.61" cy="1786.37" r="3.64" fill="url(#gW)"/>
<circle cx="390.53" cy="1807.25" r="5.24" fill="url(#gW)"/>
<circle cx="370.97" cy="1833.42" r="3.44" fill="url(#gW)"/>
<circle cx="370.91" cy="1813.85" r="4.59" fill="url(#gW)"/>
<circle cx="362.95" cy="1785.01" r="4.25" fill="url(#gW)"/>
<circle cx="383.63" cy="1825.41" r="4.18" fill="url(#gW)"/>
<circle cx="347.97" cy="1808.25" r="4.73" fill="url(#gW)"/>
<circle cx="348.17" cy="1840.23" r="4.5" fill="url(#gW)"/>
<circle cx="372.89" cy="1783.54" r="5.02" fill="url(#gW)"/>
<circle cx="336.65" cy="1805.69" r="3.76" fill="url(#gW)"/>
<circle cx="350.93" cy="1826.68" r="5.17" fill="url(#gW)"/>
<circle cx="353.93" cy="1847.03" r="3.53" fill="url(#gW)"/>
<circle cx="376.01" cy="1776.29" r="4.22" fill="url(#gW)"/>
<circle cx="392.17" cy="1775.07" r="5.31" fill="url(#gW)"/>
<circle cx="338.8" cy="1837.33" r="5.09" fill="url(#gW)"/>
<circle cx="335.6" cy="1819.87" r="3.54" fill="url(#gB)"/>
<circle cx="393.8" cy="1831.73" r="3.41" fill="url(#gW)"/>
<circle cx="382.58" cy="1842.75" r="4.9" fill="url(#gW)"/>
<circle cx="366.25" cy="1845.54" r="5.28" fill="url(#gW)"/>
<circle cx="368.25" cy="1792.53" r="5.07" fill="url(#gW)"/>
<circle cx="369.08" cy="1787.85" r="5.04" fill="url(#gW)"/>
<circle cx="376.97" cy="1826.67" r="4.09" fill="url(#gW)"/>
<circle cx="339.7" cy="1786.39" r="4.75" fill="url(#gW)"/>
<circle cx="350.56" cy="1795.42" r="4.43" fill="url(#gW)"/>
<circle cx="397.05" cy="1834.87" r="3.67" fill="url(#gW)"/>
<circle cx="337.37" cy="1830.9" r="4.28" fill="url(#gC)"/>
<circle cx="348.87" cy="1805.1" r="5.35" fill="url(#gW)"/>
<circle cx="349.12" cy="1830.15" r="4" fill="url(#gW)"/>
<circle cx="344.21" cy="1781.19" r="4.61" fill="url(#gC)"/>
<circle cx="401.51" cy="1817.91" r="4.62" fill="url(#gW)"/>
<circle cx="325.06" cy="1849.2" r="3.49" fill="url(#gW)"/>
<circle cx="361.42" cy="1846.44" r="4.75" fill="url(#gC)"/>
<circle cx="406.29" cy="1853.6" r="4.86" fill="url(#gW)"/>
<circle cx="369.94" cy="1775.72" r="3.64" fill="url(#gW)"/>
<circle cx="364.6" cy="1839.91" r="3.8" fill="url(#gW)"/>
<circle cx="350.67" cy="1832.03" r="3.71" fill="url(#gC)"/>
<circle cx="334.39" cy="1840.75" r="4.59" fill="url(#gB)"/>
<circle cx="358.05" cy="1768.79" r="4.94" fill="url(#gW)"/>
<circle cx="335.51" cy="1853.85" r="4.77" fill="url(#gW)"/>
<circle cx="344.28" cy="1818.48" r="3.45" fill="url(#gW)"/>
<circle cx="369.7" cy="1845.68" r="3.63" fill="url(#gW)"/>
<circle cx="382.25" cy="1851.49" r="5.18" fill="url(#gW)"/>
<circle cx="390.67" cy="1790.14" r="5.25" fill="url(#gW)"/>
<circle cx="359.07" cy="1804.11" r="4.01" fill="url(#gW)"/>
<circle cx="330.07" cy="1824.71" r="4.12" fill="url(#gW)"/>
<circle cx="353.54" cy="1771.48" r="3.8" fill="url(#gW)"/>
<circle cx="361.24" cy="1839.14" r="3.74" fill="url(#gB)"/>
<circle cx="382.24" cy="1771.94" r="5.08" fill="url(#gW)"/>
<circle cx="393.58" cy="1825.55" r="3.87" fill="url(#gC)"/>
<circle cx="322.72" cy="1845.08" r="4.44" fill="url(#gW)"/>
<circle cx="390.04" cy="1823.91" r="4.16" fill="url(#gW)"/>
<circle cx="334.16" cy="1840.46" r="5.32" fill="url(#gW)"/>
<circle cx="331.23" cy="1811.62" r="3.83" fill="url(#gW)"/>
<circle cx="377.27" cy="1787.33" r="3.74" fill="url(#gW)"/>
<circle cx="330.8" cy="1841.11" r="4.87" fill="url(#gW)"/>
<circle cx="333.6" cy="1798.57" r="3.9" fill="url(#gW)"/>
<circle cx="379.42" cy="1817.9" r="3.79" fill="url(#gW)"/>
<circle cx="382.62" cy="1806.56" r="3.56" fill="url(#gW)"/>
<circle cx="369.65" cy="1848.35" r="5.24" fill="url(#gW)"/>
<circle cx="354.13" cy="1837.32" r="3.41" fill="url(#gW)"/>
<circle cx="362.89" cy="1794.62" r="4.26" fill="url(#gW)"/>
<circle cx="397.28" cy="1803.24" r="5.29" fill="url(#gW)"/>
<circle cx="353.51" cy="1796.27" r="5.15" fill="url(#gW)"/>
<circle cx="338.14" cy="1819.59" r="5.2" fill="url(#gW)"/>
<circle cx="361.34" cy="1777.33" r="4.07" fill="url(#gW)"/>
<circle cx="379.57" cy="1796.4" r="4.99" fill="url(#gW)"/>
<circle cx="387.32" cy="1785.6" r="5.14" fill="url(#gW)"/>
<circle cx="384.77" cy="1787.12" r="3.74" fill="url(#gW)"/>
<circle cx="367.24" cy="1841.27" r="4.33" fill="url(#gW)"/>
<circle cx="348.47" cy="1821.62" r="4.99" fill="url(#gW)"/>
<circle cx="340.13" cy="1844.89" r="4.98" fill="url(#gB)"/>
<circle cx="380.17" cy="1791.85" r="5.33" fill="url(#gW)"/>
<circle cx="349.81" cy="1780.93" r="4.23" fill="url(#gW)"/>
<circle cx="388.33" cy="1824.12" r="3.49" fill="url(#gW)"/>
<circle cx="368.06" cy="1837.1" r="3.59" fill="url(#gW)"/>
<circle cx="347.39" cy="1812.38" r="3.65" fill="url(#gW)"/>
<circle cx="393.1" cy="1799.79" r="4.45" fill="url(#gW)"/>
<circle cx="337.74" cy="1839.4" r="5.38" fill="url(#gW)"/>
<circle cx="361.17" cy="1800.15" r="4.47" fill="url(#gW)"/>
<circle cx="357.44" cy="1823.52" r="4.72" fill="url(#gW)"/>
<circle cx="334.91" cy="1820.26" r="3.6" fill="url(#gW)"/>
<circle cx="398.35" cy="1854.21" r="4.38" fill="url(#gW)"/>
<circle cx="357.29" cy="1772.1" r="3.91" fill="url(#gB)"/>
<circle cx="406.48" cy="1843.07" r="4.7" fill="url(#gW)"/>
<circle cx="370.21" cy="1779.32" r="3.76" fill="url(#gW)"/>
<circle cx="389.31" cy="1828.12" r="4.78" fill="url(#gW)"/>
<circle cx="373.22" cy="1857.67" r="4.07" fill="url(#gW)"/>
<circle cx="387.95" cy="1799.08" r="3.53" fill="url(#gW)"/>
<circle cx="352.92" cy="1788.8" r="4.67" fill="url(#gW)"/>
<circle cx="376.92" cy="1793.87" r="4.56" fill="url(#gW)"/>
<circle cx="372.74" cy="1786.94" r="5.13" fill="url(#gW)"/>
<circle cx="384.97" cy="1766.51" r="3.98" fill="url(#gW)"/>
<circle cx="387.09" cy="1796.97" r="4.61" fill="url(#gW)"/>
<circle cx="379.86" cy="1839.92" r="4.44" fill="url(#gW)"/>
<circle cx="337.43" cy="1857.75" r="3.87" fill="url(#gW)"/>
<circle cx="382.63" cy="1794.99" r="3.88" fill="url(#gW)"/>
<circle cx="386.19" cy="1786.64" r="3.91" fill="url(#gW)"/>
<circle cx="403.06" cy="1823.61" r="3.83" fill="url(#gW)"/>
<circle cx="324.4" cy="1833.29" r="4.3" fill="url(#gW)"/>
<circle cx="394.89" cy="1830.92" r="4.73" fill="url(#gW)"/>
<circle cx="402.77" cy="1869.77" r="3.6" fill="url(#gR)"/>
<circle cx="386.84" cy="1788.9" r="3.6" fill="url(#gW)"/>
<circle cx="356.73" cy="1861.85" r="3.92" fill="url(#gC)"/>
<circle cx="354.55" cy="1861.25" r="3.72" fill="url(#gW)"/>
<circle cx="373.9" cy="1819.93" r="5.22" fill="url(#gW)"/>
<circle cx="374.5" cy="1825.26" r="3.58" fill="url(#gW)"/>
<circle cx="324.71" cy="1826.34" r="4.17" fill="url(#gW)"/>
<circle cx="348.01" cy="1850.15" r="5.35" fill="url(#gW)"/>
<circle cx="392.14" cy="1801.39" r="3.4" fill="url(#gW)"/>
<circle cx="359.77" cy="1778.93" r="3.78" fill="url(#gW)"/>
<circle cx="391.8" cy="1827.52" r="4.61" fill="url(#gW)"/>
<circle cx="359.45" cy="1799.31" r="5.33" fill="url(#gW)"/>
<circle cx="357.04" cy="1798.65" r="3.98" fill="url(#gW)"/>
<circle cx="368.23" cy="1790.01" r="5.12" fill="url(#gW)"/>
<circle cx="377.33" cy="1783.63" r="3.46" fill="url(#gW)"/>
<circle cx="351.94" cy="1823.19" r="4.99" fill="url(#gW)"/>
<circle cx="334.77" cy="1864.24" r="4.04" fill="url(#gW)"/>
<circle cx="388.29" cy="1828.61" r="4.95" fill="url(#gW)"/>
<circle cx="385.96" cy="1784.88" r="4.79" fill="url(#gW)"/>
<circle cx="359.84" cy="1778.64" r="4.8" fill="url(#gW)"/>
<circle cx="379.67" cy="1848.9" r="5.02" fill="url(#gW)"/>
<circle cx="350.75" cy="1810.17" r="5.34" fill="url(#gC)"/>
<circle cx="325.29" cy="1866.36" r="4.51" fill="url(#gR)"/>
<circle cx="338.23" cy="1848.19" r="5.32" fill="url(#gC)"/>
<circle cx="390.45" cy="1858.18" r="4.05" fill="url(#gW)"/>
<circle cx="372.94" cy="1832.84" r="4.88" fill="url(#gW)"/>
<circle cx="326.15" cy="1875.51" r="4.91" fill="url(#gW)"/>
<circle cx="369.88" cy="1825.31" r="3.52" fill="url(#gW)"/>
<circle cx="364.41" cy="1851.09" r="3.53" fill="url(#gW)"/>
<circle cx="351.89" cy="1811.94" r="5.18" fill="url(#gW)"/>
<circle cx="365.15" cy="1874.35" r="3.94" fill="url(#gW)"/>
<circle cx="342.69" cy="1857.02" r="4.52" fill="url(#gC)"/>
<circle cx="328.81" cy="1827.42" r="4.22" fill="url(#gW)"/>
<circle cx="370.85" cy="1847.12" r="4.55" fill="url(#gW)"/>
<circle cx="336.47" cy="1828.64" r="5.29" fill="url(#gW)"/>
<circle cx="362.26" cy="1797.21" r="3.59" fill="url(#gC)"/>
<circle cx="388.52" cy="1829.69" r="3.7" fill="url(#gW)"/>
<circle cx="380.16" cy="1768.82" r="4.33" fill="url(#gW)"/>
<circle cx="391.02" cy="1834.82" r="3.68" fill="url(#gW)"/>
<circle cx="351.05" cy="1841.44" r="4.73" fill="url(#gW)"/>
<circle cx="341.38" cy="1844.4" r="4.84" fill="url(#gB)"/>
<circle cx="398.98" cy="1879.78" r="3.76" fill="url(#gW)"/>
<circle cx="365.09" cy="1789.92" r="4.22" fill="url(#gW)"/>
<circle cx="370.87" cy="1774.19" r="5.26" fill="url(#gW)"/>
<circle cx="389.94" cy="1861.34" r="5.04" fill="url(#gB)"/>
<circle cx="384.85" cy="1760.89" r="4.62" fill="url(#gW)"/>
<circle cx="391.69" cy="1835.05" r="5.02" fill="url(#gW)"/>
<circle cx="375.08" cy="1783.22" r="4.94" fill="url(#gW)"/>
<circle cx="365.05" cy="1785.23" r="5.05" fill="url(#gW)"/>
<circle cx="377.3" cy="1796.43" r="5.01" fill="url(#gC)"/>
<circle cx="384.36" cy="1782.59" r="4.31" fill="url(#gW)"/>
<circle cx="332.26" cy="1864.64" r="3.52" fill="url(#gW)"/>
<circle cx="381.43" cy="1789.17" r="4.91" fill="url(#gW)"/>
<circle cx="375.02" cy="1834.37" r="5.12" fill="url(#gW)"/>
<circle cx="342.07" cy="1837.05" r="3.6" fill="url(#gW)"/>
<circle cx="394.11" cy="1882.9" r="4.74" fill="url(#gW)"/>
<circle cx="350.13" cy="1797.58" r="4.4" fill="url(#gW)"/>
<circle cx="382.51" cy="1858.33" r="4.5" fill="url(#gW)"/>
<circle cx="361.98" cy="1868.28" r="5.3" fill="url(#gW)"/>
<circle cx="324.49" cy="1877.25" r="5.14" fill="url(#gW)"/>
<circle cx="331.56" cy="1825.55" r="4.21" fill="url(#gW)"/>
<circle cx="375.41" cy="1817.01" r="4.25" fill="url(#gW)"/>
<circle cx="372.16" cy="1858.66" r="4.32" fill="url(#gW)"/>
<circle cx="376.01" cy="1783.85" r="4.98" fill="url(#gW)"/>
<circle cx="399.21" cy="1813.57" r="4.87" fill="url(#gW)"/>
<circle cx="328.94" cy="1843.31" r="5.37" fill="url(#gW)"/>
<circle cx="344.06" cy="1874.28" r="5.25" fill="url(#gW)"/>
<circle cx="357.12" cy="1830.42" r="4.26" fill="url(#gW)"/>
<circle cx="326.85" cy="1882.14" r="5.28" fill="url(#gW)"/>
<circle cx="386.62" cy="1860.16" r="4.52" fill="url(#gC)"/>
<circle cx="365.18" cy="1786.1" r="5" fill="url(#gW)"/>
<circle cx="367.82" cy="1799.53" r="4.96" fill="url(#gW)"/>
<circle cx="358.11" cy="1866.94" r="3.44" fill="url(#gW)"/>
<circle cx="345.49" cy="1824.64" r="5.33" fill="url(#gW)"/>
<circle cx="332.96" cy="1880.28" r="4.89" fill="url(#gW)"/>
<circle cx="343.37" cy="1877.81" r="4.8" fill="url(#gW)"/>
<circle cx="320.4" cy="1863.85" r="3.43" fill="url(#gW)"/>
<circle cx="328.34" cy="1854.8" r="5.36" fill="url(#gW)"/>
<circle cx="392.61" cy="1891.78" r="3.97" fill="url(#gW)"/>
<circle cx="368.82" cy="1782.02" r="3.84" fill="url(#gW)"/>
<circle cx="375.28" cy="1795.98" r="3.84" fill="url(#gC)"/>
<circle cx="337.31" cy="1865.58" r="4.51" fill="url(#gW)"/>
<circle cx="396.09" cy="1809.63" r="3.57" fill="url(#gW)"/>
<circle cx="341.32" cy="1811.43" r="4.42" fill="url(#gC)"/>
<circle cx="351.78" cy="1859.96" r="5.27" fill="url(#gW)"/>
<circle cx="371.11" cy="1849.61" r="4.46" fill="url(#gC)"/>
<circle cx="377.43" cy="1817.28" r="3.89" fill="url(#gW)"/>
<circle cx="325.84" cy="1827.09" r="4.02" fill="url(#gW)"/>
<circle cx="352.17" cy="1797.27" r="3.75" fill="url(#gW)"/>
<circle cx="393.88" cy="1849.32" r="4.35" fill="url(#gW)"/>
<circle cx="358.48" cy="1802.38" r="4.36" fill="url(#gW)"/>
<circle cx="360.01" cy="1834.97" r="3.78" fill="url(#gW)"/>
<circle cx="352.22" cy="1861.01" r="4.45" fill="url(#gW)"/>
<circle cx="351.97" cy="1894.4" r="4.66" fill="url(#gW)"/>
<circle cx="366.19" cy="1814.99" r="3.74" fill="url(#gW)"/>
<circle cx="369.46" cy="1818.57" r="4" fill="url(#gW)"/>
<circle cx="400.06" cy="1887.9" r="4.63" fill="url(#gW)"/>
<circle cx="342.62" cy="1792.33" r="4.36" fill="url(#gW)"/>
<circle cx="369.6" cy="1789.33" r="4.38" fill="url(#gW)"/>
<circle cx="388.37" cy="1834.36" r="3.88" fill="url(#gW)"/>
<circle cx="344.74" cy="1785.63" r="5.29" fill="url(#gW)"/>
<circle cx="341.94" cy="1850.74" r="4.67" fill="url(#gW)"/>
<circle cx="395.99" cy="1875.91" r="4.83" fill="url(#gW)"/>
<circle cx="377.72" cy="1817.01" r="3.6" fill="url(#gW)"/>
<circle cx="387.3" cy="1811.9" r="3.79" fill="url(#gW)"/>
<circle cx="350.84" cy="1875.95" r="4.21" fill="url(#gW)"/>
<circle cx="402.54" cy="1847.87" r="5.23" fill="url(#gW)"/>
<circle cx="384.54" cy="1780.83" r="4.69" fill="url(#gW)"/>
<circle cx="403.15" cy="1864.9" r="4.4" fill="url(#gC)"/>
<circle cx="388.13" cy="1839.05" r="5.38" fill="url(#gW)"/>
<circle cx="358.74" cy="1791.19" r="3.54" fill="url(#gW)"/>
<circle cx="378.99" cy="1814.62" r="3.88" fill="url(#gW)"/>
<circle cx="337.52" cy="1890.53" r="5.09" fill="url(#gW)"/>
<circle cx="340.85" cy="1840.98" r="3.43" fill="url(#gW)"/>
<circle cx="342.63" cy="1878.64" r="4.68" fill="url(#gW)"/>
<circle cx="396.7" cy="1872.23" r="4.44" fill="url(#gW)"/>
<circle cx="368.31" cy="1829.86" r="5.34" fill="url(#gW)"/>
<circle cx="356.31" cy="1897.18" r="4.8" fill="url(#gC)"/>
<circle cx="370.97" cy="1792.71" r="4.32" fill="url(#gW)"/>
<circle cx="348.32" cy="1847.77" r="4.09" fill="url(#gW)"/>
<circle cx="390.9" cy="1836.55" r="3.77" fill="url(#gW)"/>
<circle cx="370.56" cy="1874.04" r="4.83" fill="url(#gW)"/>
<circle cx="378.64" cy="1782.88" r="4.65" fill="url(#gW)"/>
<circle cx="353.51" cy="1775.69" r="4.02" fill="url(#gW)"/>
<circle cx="387.91" cy="1843.42" r="4.72" fill="url(#gB)"/>
<circle cx="390.18" cy="1769.92" r="3.75" fill="url(#gW)"/>
<circle cx="379.93" cy="1809.65" r="4.73" fill="url(#gW)"/>
<circle cx="368.94" cy="1778.03" r="4.03" fill="url(#gW)"/>
<circle cx="335.89" cy="1796.16" r="3.59" fill="url(#gW)"/>
<circle cx="395.11" cy="1867.99" r="4.58" fill="url(#gW)"/>
<circle cx="365.07" cy="1893.3" r="5.06" fill="url(#gW)"/>
<circle cx="385.34" cy="1834.98" r="4.19" fill="url(#gW)"/>
<circle cx="399.99" cy="1885.42" r="3.53" fill="url(#gW)"/>
<circle cx="380.26" cy="1789.58" r="5.3" fill="url(#gW)"/>
<circle cx="369.4" cy="1880.51" r="5.16" fill="url(#gC)"/>
<circle cx="378.46" cy="1834.92" r="3.71" fill="url(#gW)"/>
<circle cx="337.59" cy="1857.46" r="4.57" fill="url(#gW)"/>
<circle cx="332.76" cy="1880.78" r="4.56" fill="url(#gB)"/>
<circle cx="358.74" cy="1784.52" r="4.94" fill="url(#gW)"/>
<circle cx="363.03" cy="1882.42" r="4.13" fill="url(#gW)"/>
<circle cx="370.33" cy="1821.67" r="5.1" fill="url(#gW)"/>
<circle cx="349.51" cy="1870.38" r="4.04" fill="url(#gW)"/>
<circle cx="355.42" cy="1869.37" r="3.7" fill="url(#gW)"/>
<circle cx="357.69" cy="1868.33" r="5.26" fill="url(#gW)"/>
<circle cx="372.9" cy="1828.49" r="4.26" fill="url(#gW)"/>
<circle cx="323.8" cy="1867.72" r="4.22" fill="url(#gW)"/>
<circle cx="342.14" cy="1863.9" r="4.51" fill="url(#gW)"/>
<circle cx="351.08" cy="1893.2" r="5.04" fill="url(#gW)"/>
<circle cx="338.1" cy="1789.95" r="3.47" fill="url(#gW)"/>
<circle cx="368.98" cy="1839.07" r="3.42" fill="url(#gW)"/>
<circle cx="377.21" cy="1808.6" r="4.26" fill="url(#gW)"/>
<circle cx="346.91" cy="1776.67" r="3.75" fill="url(#gW)"/>
<circle cx="372.47" cy="1803.31" r="5.24" fill="url(#gW)"/>
<circle cx="351.79" cy="1791.46" r="5.37" fill="url(#gW)"/>
<circle cx="383.2" cy="1821.82" r="4.05" fill="url(#gW)"/>
<circle cx="370.07" cy="1871.52" r="5.31" fill="url(#gW)"/>
<circle cx="356.34" cy="1853.54" r="4.95" fill="url(#gW)"/>
<circle cx="365.95" cy="1881.96" r="5.17" fill="url(#gW)"/>
<circle cx="384.13" cy="1787.95" r="5.32" fill="url(#gW)"/>
<circle cx="329.54" cy="1819" r="4.19" fill="url(#gW)"/>
<circle cx="339.27" cy="1843.3" r="4.13" fill="url(#gB)"/>
<circle cx="369.21" cy="1786.75" r="4.5" fill="url(#gW)"/>
<circle cx="343.33" cy="1811.99" r="4.88" fill="url(#gW)"/>
<circle cx="370.13" cy="1811.76" r="3.53" fill="url(#gW)"/>
<circle cx="362.38" cy="1803.27" r="3.42" fill="url(#gB)"/>
<circle cx="327.5" cy="1897.45" r="4.14" fill="url(#gW)"/>
<circle cx="328.24" cy="1859.03" r="4.86" fill="url(#gW)"/>
<circle cx="384.48" cy="1847.99" r="4.84" fill="url(#gW)"/>
<circle cx="342.17" cy="1819.41" r="4.27" fill="url(#gW)"/>
<circle cx="386.63" cy="1788.35" r="5.35" fill="url(#gW)"/>
<circle cx="377.91" cy="1882.91" r="5" fill="url(#gB)"/>
<circle cx="376.08" cy="1897.22" r="4.12" fill="url(#gW)"/>
<circle cx="370.51" cy="1783.35" r="4.46" fill="url(#gW)"/>
<circle cx="376" cy="1906.57" r="4.28" fill="url(#gW)"/>
<circle cx="374.77" cy="1792.68" r="3.7" fill="url(#gR)"/>
<circle cx="336.62" cy="1901.02" r="4.29" fill="url(#gW)"/>
<circle cx="332.35" cy="1806.85" r="3.84" fill="url(#gR)"/>
<circle cx="344.05" cy="1866" r="3.92" fill="url(#gW)"/>
<circle cx="323.63" cy="1879.11" r="4.66" fill="url(#gR)"/>
<circle cx="376.45" cy="1860.47" r="5.14" fill="url(#gW)"/>
<circle cx="384.96" cy="1866.14" r="3.62" fill="url(#gW)"/>
<circle cx="343.41" cy="1894.78" r="4.46" fill="url(#gW)"/>
<circle cx="352.38" cy="1816.27" r="4.62" fill="url(#gW)"/>
<circle cx="347.37" cy="1910.97" r="3.73" fill="url(#gW)"/>
<circle cx="331.97" cy="1847.6" r="4.24" fill="url(#gC)"/>
<circle cx="328.59" cy="1824.73" r="5.19" fill="url(#gW)"/>
<circle cx="352.31" cy="1907.66" r="3.99" fill="url(#gW)"/>
<circle cx="371.61" cy="1892.42" r="4.97" fill="url(#gW)"/>
<circle cx="351.77" cy="1859.68" r="4.55" fill="url(#gW)"/>
<circle cx="389.83" cy="1808.96" r="5.08" fill="url(#gW)"/>
<circle cx="377.74" cy="1885.18" r="4.79" fill="url(#gW)"/>
<circle cx="394.19" cy="1897.77" r="4.88" fill="url(#gW)"/>
<circle cx="375.34" cy="1874.44" r="3.85" fill="url(#gW)"/>
<circle cx="382.67" cy="1845.13" r="4.45" fill="url(#gW)"/>
<circle cx="354.13" cy="1854.22" r="4.87" fill="url(#gW)"/>
<circle cx="346.56" cy="1861.99" r="4.26" fill="url(#gW)"/>
<circle cx="351.01" cy="1843.53" r="4.56" fill="url(#gW)"/>
<circle cx="395.99" cy="1909.51" r="4.66" fill="url(#gW)"/>
<circle cx="373.77" cy="1895.12" r="5.23" fill="url(#gW)"/>
<circle cx="363.83" cy="1839.29" r="5.35" fill="url(#gW)"/>
<circle cx="354.06" cy="1843.54" r="4.22" fill="url(#gW)"/>
<circle cx="386.29" cy="1878.63" r="3.51" fill="url(#gW)"/>
<circle cx="336.2" cy="1821.21" r="5.32" fill="url(#gW)"/>
<circle cx="365.13" cy="1790.85" r="3.89" fill="url(#gW)"/>
<circle cx="380.08" cy="1785.69" r="4.08" fill="url(#gW)"/>
<circle cx="351.11" cy="1865.27" r="5.24" fill="url(#gW)"/>
<circle cx="380.15" cy="1877.25" r="4.3" fill="url(#gW)"/>
<circle cx="381.59" cy="1782.5" r="4.63" fill="url(#gW)"/>
<circle cx="364.33" cy="1821.25" r="4.41" fill="url(#gW)"/>
<circle cx="402.67" cy="1871.16" r="3.98" fill="url(#gW)"/>
<circle cx="389.34" cy="1884.74" r="4.32" fill="url(#gW)"/>
<circle cx="349.49" cy="1853.37" r="5.36" fill="url(#gB)"/>
<circle cx="344.1" cy="1808.38" r="4.62" fill="url(#gW)"/>
<circle cx="379.3" cy="1900.29" r="3.99" fill="url(#gW)"/>
<circle cx="340.08" cy="1916.29" r="3.58" fill="url(#gW)"/>
<circle cx="367.07" cy="1910.22" r="3.94" fill="url(#gW)"/>
<circle cx="353.1" cy="1817.7" r="4.25" fill="url(#gW)"/>
<circle cx="350.63" cy="1806.3" r="3.57" fill="url(#gW)"/>
<circle cx="341.87" cy="1818.4" r="3.46" fill="url(#gW)"/>
<circle cx="323.51" cy="1854.14" r="3.78" fill="url(#gW)"/>
<circle cx="402.71" cy="1820.04" r="3.89" fill="url(#gW)"/>
<circle cx="353.17" cy="1815.19" r="3.8" fill="url(#gW)"/>
<circle cx="341.63" cy="1885.44" r="5.37" fill="url(#gB)"/>
<circle cx="388.15" cy="1851.94" r="5.14" fill="url(#gW)"/>
<circle cx="390.68" cy="1870.19" r="4.31" fill="url(#gW)"/>
<circle cx="386" cy="1798.12" r="3.93" fill="url(#gW)"/>
<circle cx="348.49" cy="1858.25" r="5.34" fill="url(#gW)"/>
<circle cx="358.17" cy="1893.3" r="3.5" fill="url(#gW)"/>
<circle cx="395.21" cy="1829.7" r="5.2" fill="url(#gW)"/>
<circle cx="395.97" cy="1803.73" r="5.13" fill="url(#gW)"/>
<circle cx="403.01" cy="1863.73" r="4.98" fill="url(#gW)"/>
<circle cx="379.96" cy="1827.58" r="4.93" fill="url(#gW)"/>
<circle cx="405.8" cy="1896.29" r="4.98" fill="url(#gW)"/>
<circle cx="328.71" cy="1841.39" r="4.2" fill="url(#gW)"/>
<circle cx="385" cy="1798.29" r="4.07" fill="url(#gW)"/>
<circle cx="362.02" cy="1824.1" r="3.92" fill="url(#gW)"/>
<circle cx="368.77" cy="1824.85" r="4.77" fill="url(#gW)"/>
<circle cx="380.9" cy="1818.11" r="3.87" fill="url(#gW)"/>
<circle cx="345.37" cy="1815.71" r="3.58" fill="url(#gW)"/>
<circle cx="361.94" cy="1811.36" r="3.68" fill="url(#gW)"/>
<circle cx="382.48" cy="1804.64" r="5.01" fill="url(#gW)"/>
<circle cx="347.6" cy="1890.89" r="4.13" fill="url(#gW)"/>
<circle cx="364.94" cy="1863" r="5.2" fill="url(#gW)"/>
<circle cx="350.21" cy="1871.91" r="5.03" fill="url(#gC)"/>
<circle cx="367.9" cy="1850.46" r="5.36" fill="url(#gW)"/>
<circle cx="386.65" cy="1808.18" r="4.04" fill="url(#gW)"/>
<circle cx="397.93" cy="1874.9" r="3.5" fill="url(#gW)"/>
<circle cx="338.49" cy="1902.13" r="4.18" fill="url(#gW)"/>
<circle cx="388.14" cy="1892.09" r="4.67" fill="url(#gW)"/>
<circle cx="398.72" cy="1903.22" r="5.04" fill="url(#gW)"/>
<circle cx="360.29" cy="1917.48" r="3.6" fill="url(#gW)"/>
<circle cx="374.55" cy="1884.53" r="5" fill="url(#gW)"/>
<circle cx="348.62" cy="1794.85" r="5.31" fill="url(#gW)"/>
<circle cx="392.81" cy="1833.08" r="4.61" fill="url(#gW)"/>
<circle cx="328.49" cy="1905" r="3.79" fill="url(#gW)"/>
<circle cx="354.49" cy="1801.57" r="5.32" fill="url(#gR)"/>
<circle cx="371.81" cy="1806.87" r="3.43" fill="url(#gW)"/>
<circle cx="403.16" cy="1857.1" r="5.02" fill="url(#gW)"/>
<circle cx="370.77" cy="1837.71" r="4.81" fill="url(#gW)"/>
<circle cx="354.64" cy="1914.52" r="5.06" fill="url(#gW)"/>
<circle cx="338.18" cy="1817.93" r="4.9" fill="url(#gW)"/>
<circle cx="340.6" cy="1865.8" r="4.61" fill="url(#gW)"/>
<circle cx="327.75" cy="1815.99" r="4.87" fill="url(#gW)"/>
<circle cx="372.61" cy="1818.38" r="4.33" fill="url(#gW)"/>
<circle cx="380.68" cy="1855.21" r="4.86" fill="url(#gW)"/>
<circle cx="385.08" cy="1867.75" r="4.67" fill="url(#gB)"/>
<circle cx="398.66" cy="1922.46" r="5.08" fill="url(#gC)"/>
<circle cx="332.55" cy="1918.37" r="3.58" fill="url(#gW)"/>
<circle cx="367.38" cy="1903.15" r="5.02" fill="url(#gW)"/>
<circle cx="389.34" cy="1817.32" r="4.13" fill="url(#gW)"/>
<circle cx="391.31" cy="1880.76" r="5.24" fill="url(#gW)"/>
<circle cx="380.82" cy="1809.01" r="3.92" fill="url(#gW)"/>
<circle cx="359.84" cy="1793.67" r="4.81" fill="url(#gW)"/>
<circle cx="334.01" cy="1837.17" r="4.84" fill="url(#gW)"/>
<circle cx="337.69" cy="1803.42" r="3.57" fill="url(#gW)"/>
<circle cx="360.06" cy="1889.83" r="4.22" fill="url(#gW)"/>
<circle cx="339.06" cy="1879.63" r="3.71" fill="url(#gW)"/>
<circle cx="366.34" cy="1804.42" r="4.27" fill="url(#gW)"/>
<circle cx="347.33" cy="1794.76" r="4.81" fill="url(#gW)"/>
<circle cx="329.73" cy="1927.23" r="4.24" fill="url(#gW)"/>
<circle cx="380.08" cy="1885.13" r="4.31" fill="url(#gW)"/>
<circle cx="359.59" cy="1843.59" r="3.51" fill="url(#gW)"/>
<circle cx="358.61" cy="1898.56" r="5.05" fill="url(#gW)"/>
<circle cx="394.7" cy="1926.18" r="4.71" fill="url(#gW)"/>
<circle cx="396.22" cy="1863.32" r="4.53" fill="url(#gW)"/>
<circle cx="391.63" cy="1850.95" r="4.48" fill="url(#gW)"/>
<circle cx="376.46" cy="1820.09" r="4.76" fill="url(#gC)"/>
<circle cx="361.51" cy="1899.73" r="5" fill="url(#gW)"/>
<circle cx="375.12" cy="1833.57" r="4.39" fill="url(#gW)"/>
<circle cx="392.74" cy="1879.03" r="4.11" fill="url(#gW)"/>
<circle cx="384.97" cy="1801.45" r="4.02" fill="url(#gW)"/>
<circle cx="338.17" cy="1844.11" r="3.47" fill="url(#gW)"/>
<circle cx="362.22" cy="1865.48" r="4.96" fill="url(#gW)"/>
<circle cx="354.52" cy="1914.49" r="4.68" fill="url(#gW)"/>
<circle cx="371.7" cy="1881.05" r="3.49" fill="url(#gW)"/>
<circle cx="337.31" cy="1911.84" r="5.33" fill="url(#gW)"/>
<circle cx="390.12" cy="1804.17" r="4.39" fill="url(#gC)"/>
<circle cx="388.11" cy="1907.86" r="5.11" fill="url(#gC)"/>
<circle cx="392.5" cy="1892.24" r="4.88" fill="url(#gW)"/>
<circle cx="357.24" cy="1923.29" r="4.64" fill="url(#gW)"/>
<circle cx="376.72" cy="1809.61" r="3.7" fill="url(#gW)"/>
<circle cx="340.55" cy="1858.34" r="4.46" fill="url(#gW)"/>
<circle cx="337.27" cy="1918.17" r="4" fill="url(#gW)"/>
<circle cx="386.24" cy="1821.74" r="3.9" fill="url(#gW)"/>
<circle cx="358.87" cy="1906.47" r="3.91" fill="url(#gC)"/>
<circle cx="368.87" cy="1843.36" r="4.04" fill="url(#gW)"/>
<circle cx="406.98" cy="1862.37" r="4.13" fill="url(#gW)"/>
<circle cx="392.93" cy="1812.35" r="5.11" fill="url(#gW)"/>
<circle cx="327.06" cy="1902.84" r="3.73" fill="url(#gC)"/>
<circle cx="380.79" cy="1822.39" r="3.72" fill="url(#gW)"/>
<circle cx="388.17" cy="1845.32" r="5.28" fill="url(#gC)"/>
<circle cx="395.58" cy="1876.92" r="4.42" fill="url(#gW)"/>
<circle cx="381.09" cy="1831.58" r="4.69" fill="url(#gW)"/>
<circle cx="382.4" cy="1894.91" r="3.76" fill="url(#gW)"/>
<circle cx="401.6" cy="1871.63" r="4.45" fill="url(#gW)"/>
<circle cx="364.04" cy="1891.95" r="4.33" fill="url(#gW)"/>
<circle cx="332.15" cy="1803.31" r="4.94" fill="url(#gW)"/>
<circle cx="348.74" cy="1870.35" r="3.72" fill="url(#gW)"/>
<circle cx="399.1" cy="1913.63" r="5.04" fill="url(#gW)"/>
<circle cx="400.25" cy="1810.78" r="4.54" fill="url(#gW)"/>
<circle cx="333.86" cy="1826.72" r="4.56" fill="url(#gW)"/>
<circle cx="378.18" cy="1891.86" r="4.15" fill="url(#gW)"/>
<circle cx="339.32" cy="1899.69" r="5.26" fill="url(#gW)"/>
<circle cx="351.29" cy="1846.65" r="4.19" fill="url(#gW)"/>
<circle cx="331.23" cy="1917.34" r="3.49" fill="url(#gW)"/>
<circle cx="385.91" cy="1882.33" r="5.28" fill="url(#gW)"/>
<circle cx="342.62" cy="1807.59" r="3.5" fill="url(#gW)"/>
<circle cx="335.24" cy="1904.39" r="3.41" fill="url(#gW)"/>
<circle cx="383.52" cy="1823.12" r="3.89" fill="url(#gW)"/>
<circle cx="373.54" cy="1921.13" r="4.74" fill="url(#gW)"/>
<circle cx="332.48" cy="1886.33" r="4.21" fill="url(#gW)"/>
<circle cx="385.29" cy="1853.96" r="5.17" fill="url(#gW)"/>
<circle cx="398.15" cy="1841.83" r="4.77" fill="url(#gB)"/>
<circle cx="338.7" cy="1938.99" r="3.65" fill="url(#gW)"/>
<circle cx="347.55" cy="1891.14" r="3.6" fill="url(#gW)"/>
<circle cx="346.88" cy="1894.91" r="3.64" fill="url(#gW)"/>
<circle cx="381.69" cy="1839.11" r="4.53" fill="url(#gC)"/>
<circle cx="341.77" cy="1913.5" r="3.76" fill="url(#gW)"/>
<circle cx="389.32" cy="1826.45" r="3.54" fill="url(#gW)"/>
<circle cx="376.06" cy="1892.68" r="3.46" fill="url(#gW)"/>
<circle cx="383.95" cy="1876.05" r="5.27" fill="url(#gW)"/>
<circle cx="338.83" cy="1882.73" r="4.16" fill="url(#gW)"/>
<circle cx="379.83" cy="1876.55" r="4.94" fill="url(#gW)"/>
<circle cx="403.16" cy="1890.92" r="3.85" fill="url(#gW)"/>
<circle cx="404.86" cy="1894.09" r="4.58" fill="url(#gW)"/>
<circle cx="396.52" cy="1908.55" r="3.49" fill="url(#gW)"/>
<circle cx="324.99" cy="1907.89" r="4.51" fill="url(#gW)"/>
<circle cx="365.35" cy="1855.23" r="5.27" fill="url(#gW)"/>
<circle cx="323.33" cy="1866.94" r="3.86" fill="url(#gW)"/>
<circle cx="336.05" cy="1891.5" r="4.61" fill="url(#gW)"/>
<circle cx="397.75" cy="1838.63" r="4.96" fill="url(#gW)"/>
<circle cx="380.9" cy="1860.46" r="3.68" fill="url(#gW)"/>
<circle cx="383.07" cy="1823.34" r="4.21" fill="url(#gW)"/>
<circle cx="377.42" cy="1931.91" r="4.08" fill="url(#gC)"/>
<circle cx="332.56" cy="1813.79" r="4.95" fill="url(#gW)"/>
<circle cx="367.87" cy="1816.94" r="3.52" fill="url(#gC)"/>
<circle cx="346.03" cy="1854.86" r="4.53" fill="url(#gW)"/>
<circle cx="389.67" cy="1910.84" r="4.08" fill="url(#gW)"/>
<circle cx="340.11" cy="1909.56" r="5.16" fill="url(#gW)"/>
<circle cx="391.02" cy="1902.19" r="5.23" fill="url(#gW)"/>
<circle cx="390.25" cy="1916.73" r="3.7" fill="url(#gW)"/>
<circle cx="324.17" cy="1878.73" r="4.39" fill="url(#gW)"/>
<circle cx="387.38" cy="1882.82" r="4.4" fill="url(#gW)"/>
<circle cx="375.72" cy="1926.62" r="5.17" fill="url(#gW)"/>
<circle cx="385.16" cy="1846.73" r="3.48" fill="url(#gW)"/>
<circle cx="343.09" cy="1829.36" r="3.91" fill="url(#gC)"/>
<circle cx="334.48" cy="1820.54" r="4.81" fill="url(#gW)"/>
<circle cx="382.51" cy="1844.83" r="4.97" fill="url(#gW)"/>
<circle cx="340.91" cy="1840.67" r="4.08" fill="url(#gW)"/>
<circle cx="385" cy="1930.68" r="4.66" fill="url(#gC)"/>
<circle cx="379.8" cy="1893.74" r="4.31" fill="url(#gW)"/>
<circle cx="366.68" cy="1873.32" r="3.44" fill="url(#gW)"/>
<circle cx="335.01" cy="1870.41" r="5.05" fill="url(#gW)"/>
<circle cx="343.86" cy="1943.04" r="5.09" fill="url(#gW)"/>
<circle cx="404.48" cy="1865.13" r="5.3" fill="url(#gW)"/>
<circle cx="325.2" cy="1855.36" r="4.51" fill="url(#gW)"/>
<circle cx="359.32" cy="1932.28" r="4.56" fill="url(#gW)"/>
<circle cx="343.44" cy="1848.71" r="3.71" fill="url(#gW)"/>
<circle cx="341.42" cy="1814.02" r="4.1" fill="url(#gW)"/>
<circle cx="334.74" cy="1882.78" r="4.3" fill="url(#gW)"/>
<circle cx="327.74" cy="1845.53" r="5.39" fill="url(#gW)"/>
<circle cx="334.89" cy="1898.64" r="4.6" fill="url(#gW)"/>
<circle cx="352.23" cy="1870.68" r="4.75" fill="url(#gW)"/>
<circle cx="384.26" cy="1934.55" r="5.1" fill="url(#gW)"/>
<circle cx="322.97" cy="1868.62" r="3.59" fill="url(#gB)"/>
<circle cx="325.06" cy="1910.39" r="3.99" fill="url(#gW)"/>
<circle cx="332.05" cy="1884" r="5.12" fill="url(#gW)"/>
<circle cx="381.96" cy="1905.94" r="4.62" fill="url(#gW)"/>
<circle cx="386.36" cy="1866.11" r="5.2" fill="url(#gW)"/>
<circle cx="336.34" cy="1893.07" r="5.09" fill="url(#gW)"/>
<circle cx="368.99" cy="1864.32" r="3.97" fill="url(#gB)"/>
<circle cx="339.94" cy="1880.25" r="3.63" fill="url(#gW)"/>
<circle cx="351.98" cy="1928.24" r="5.04" fill="url(#gW)"/>
<circle cx="368" cy="1825.03" r="4.19" fill="url(#gB)"/>
<circle cx="346.53" cy="1905.82" r="5.09" fill="url(#gW)"/>
<circle cx="391.75" cy="1875.46" r="4.92" fill="url(#gW)"/>
<circle cx="340.5" cy="1852.41" r="5.32" fill="url(#gW)"/>
<circle cx="391.17" cy="1873.27" r="3.46" fill="url(#gW)"/>
<circle cx="356.78" cy="1843.6" r="4.97" fill="url(#gW)"/>
<circle cx="359.95" cy="1901.8" r="4.82" fill="url(#gW)"/>
<circle cx="382.41" cy="1858.27" r="5.26" fill="url(#gW)"/>
<circle cx="350.55" cy="1931.04" r="3.92" fill="url(#gW)"/>
<circle cx="378.01" cy="1883.05" r="4.72" fill="url(#gW)"/>
<circle cx="373.93" cy="1900.73" r="4.04" fill="url(#gW)"/>
<circle cx="379.57" cy="1826.56" r="4.58" fill="url(#gW)"/>
<circle cx="365.52" cy="1902.3" r="4.18" fill="url(#gW)"/>
<circle cx="370.2" cy="1903.04" r="3.86" fill="url(#gC)"/>
<circle cx="348.5" cy="1933.3" r="5.08" fill="url(#gW)"/>
<circle cx="350.13" cy="1931.13" r="3.46" fill="url(#gW)"/>
<circle cx="406.01" cy="1856.82" r="3.96" fill="url(#gW)"/>
<circle cx="385.49" cy="1878.32" r="5.14" fill="url(#gW)"/>
<circle cx="365.29" cy="1850.56" r="4.08" fill="url(#gW)"/>
<circle cx="355.45" cy="1823.39" r="3.79" fill="url(#gC)"/>
<circle cx="361.82" cy="1921.85" r="4.82" fill="url(#gW)"/>
<circle cx="374.03" cy="1909.93" r="4.06" fill="url(#gW)"/>
<circle cx="365.92" cy="1861.41" r="4.58" fill="url(#gC)"/>
<circle cx="363.66" cy="1873.05" r="3.64" fill="url(#gW)"/>
<circle cx="360.64" cy="1948.49" r="3.42" fill="url(#gW)"/>
<circle cx="381.16" cy="1856.07" r="4.36" fill="url(#gW)"/>
<circle cx="386.09" cy="1942.66" r="4.86" fill="url(#gB)"/>
<circle cx="329.59" cy="1878.15" r="4.12" fill="url(#gW)"/>
<circle cx="395.22" cy="1938.96" r="4.34" fill="url(#gB)"/>
<circle cx="388.12" cy="1905.22" r="5.1" fill="url(#gW)"/>
<circle cx="398.37" cy="1882.2" r="5.32" fill="url(#gW)"/>
<circle cx="325.95" cy="1910" r="3.51" fill="url(#gW)"/>
<circle cx="339.21" cy="1846.32" r="3.8" fill="url(#gW)"/>
<circle cx="402.75" cy="1848.75" r="4.21" fill="url(#gW)"/>
<circle cx="363.84" cy="1873.75" r="5.13" fill="url(#gW)"/>
<circle cx="374.66" cy="1938.94" r="4.53" fill="url(#gW)"/>
<circle cx="399.72" cy="1902.44" r="3.71" fill="url(#gW)"/>
<circle cx="344.87" cy="1908.29" r="4.14" fill="url(#gW)"/>
<circle cx="356.49" cy="1897.14" r="3.92" fill="url(#gW)"/>
<circle cx="365.91" cy="1848.43" r="5.3" fill="url(#gW)"/>
<circle cx="366.02" cy="1905.72" r="3.61" fill="url(#gW)"/>
<circle cx="362.63" cy="1923.38" r="3.89" fill="url(#gW)"/>
<circle cx="329.79" cy="1828.16" r="4.69" fill="url(#gW)"/>
<circle cx="352" cy="1909.64" r="3.68" fill="url(#gW)"/>
<circle cx="343.02" cy="1920.72" r="4.25" fill="url(#gW)"/>
<circle cx="335.17" cy="1929.09" r="4.32" fill="url(#gW)"/>
<circle cx="339.48" cy="1828.59" r="5.15" fill="url(#gB)"/>
<circle cx="378.89" cy="1952.39" r="4.55" fill="url(#gW)"/>
<circle cx="376.72" cy="1891.04" r="5.27" fill="url(#gW)"/>
<circle cx="369.96" cy="1828.91" r="4.18" fill="url(#gC)"/>
<circle cx="335.02" cy="1830.34" r="5.36" fill="url(#gW)"/>
<circle cx="351.48" cy="1884.57" r="4.1" fill="url(#gW)"/>
<circle cx="412.18" cy="1955.49" r="3.6" fill="url(#gW)"/>
<circle cx="368.3" cy="1903.3" r="5.36" fill="url(#gW)"/>
<circle cx="377.46" cy="1868.87" r="3.45" fill="url(#gW)"/>
<circle cx="385.49" cy="1955.34" r="4.03" fill="url(#gW)"/>
<circle cx="351.22" cy="1934.73" r="3.93" fill="url(#gW)"/>
<circle cx="389.84" cy="1901.84" r="5.28" fill="url(#gW)"/>
<circle cx="378.75" cy="1940.51" r="4.06" fill="url(#gW)"/>
<circle cx="341.86" cy="1933.96" r="4.1" fill="url(#gW)"/>
<circle cx="348.46" cy="1890.42" r="5.17" fill="url(#gW)"/>
<circle cx="383.28" cy="1945.21" r="4.57" fill="url(#gW)"/>
<circle cx="349.13" cy="1879.42" r="3.84" fill="url(#gW)"/>
<circle cx="366.91" cy="1848.15" r="4.53" fill="url(#gC)"/>
<circle cx="396.6" cy="1850.34" r="4.46" fill="url(#gW)"/>
<circle cx="326.28" cy="1861.66" r="3.67" fill="url(#gB)"/>
<circle cx="343.21" cy="1837.65" r="3.73" fill="url(#gW)"/>
<circle cx="320.38" cy="1864.2" r="4.38" fill="url(#gW)"/>
<circle cx="374.42" cy="1945.16" r="3.44" fill="url(#gW)"/>
<circle cx="390.65" cy="1899.46" r="3.96" fill="url(#gW)"/>
<circle cx="343.85" cy="1905.43" r="4.28" fill="url(#gB)"/>
<circle cx="389.67" cy="1858.1" r="3.58" fill="url(#gW)"/>
<circle cx="380.56" cy="1896.01" r="4.49" fill="url(#gW)"/>
<circle cx="328.92" cy="1840.05" r="4.01" fill="url(#gW)"/>
<circle cx="361.84" cy="1848.83" r="3.6" fill="url(#gW)"/>
<circle cx="327.69" cy="1887.28" r="4.39" fill="url(#gW)"/>
<circle cx="350.52" cy="1906.11" r="4.48" fill="url(#gW)"/>
<circle cx="346.45" cy="1836.3" r="4.05" fill="url(#gW)"/>
<circle cx="339.75" cy="1891.37" r="4.08" fill="url(#gW)"/>
<circle cx="398.23" cy="1872.7" r="3.54" fill="url(#gW)"/>
<circle cx="336.56" cy="1873.24" r="5.15" fill="url(#gW)"/>
<circle cx="398.76" cy="1898.98" r="3.82" fill="url(#gW)"/>
<circle cx="320.85" cy="1861.17" r="4.76" fill="url(#gW)"/>
<circle cx="394.37" cy="1845.11" r="5.15" fill="url(#gW)"/>
<circle cx="389.48" cy="1938.42" r="3.51" fill="url(#gW)"/>
<circle cx="344.87" cy="1832.98" r="4.37" fill="url(#gW)"/>
<circle cx="343.35" cy="1949.12" r="4.32" fill="url(#gW)"/>
<circle cx="391.42" cy="1857.77" r="3.64" fill="url(#gB)"/>
<circle cx="368.08" cy="1932.59" r="4.62" fill="url(#gW)"/>
<circle cx="335.75" cy="1902.34" r="3.7" fill="url(#gW)"/>
<circle cx="396.28" cy="1925.19" r="5.11" fill="url(#gW)"/>
<circle cx="395.44" cy="1840.07" r="5.21" fill="url(#gW)"/>
<circle cx="323.63" cy="1889.18" r="4.78" fill="url(#gB)"/>
<circle cx="377.72" cy="1952.88" r="4.85" fill="url(#gW)"/>
<circle cx="378.91" cy="1944.7" r="3.67" fill="url(#gB)"/>
<circle cx="361.18" cy="1878.26" r="4.73" fill="url(#gW)"/>
<circle cx="335.27" cy="1838.25" r="3.77" fill="url(#gW)"/>
<circle cx="396.67" cy="1854.24" r="3.52" fill="url(#gW)"/>
<circle cx="364.1" cy="1842.34" r="5.17" fill="url(#gW)"/>
<circle cx="375.44" cy="1910.01" r="4.57" fill="url(#gW)"/>
<circle cx="355.38" cy="1901.11" r="3.43" fill="url(#gW)"/>
<circle cx="386.39" cy="1915.59" r="4.69" fill="url(#gC)"/>
<circle cx="377.09" cy="1925.76" r="4.75" fill="url(#gW)"/>
<circle cx="354.21" cy="1850.41" r="5.08" fill="url(#gW)"/>
<circle cx="389.17" cy="1858.89" r="3.49" fill="url(#gW)"/>
<circle cx="388.32" cy="1960.65" r="4.46" fill="url(#gW)"/>
<circle cx="320.41" cy="1869.89" r="4.29" fill="url(#gW)"/>
<circle cx="374.92" cy="1904.54" r="3.93" fill="url(#gW)"/>
<circle cx="395.77" cy="1863.32" r="3.52" fill="url(#gW)"/>
<circle cx="393.67" cy="1908.47" r="3.46" fill="url(#gC)"/>
<circle cx="321.56" cy="1885.48" r="4.55" fill="url(#gW)"/>
<circle cx="359" cy="1958.08" r="3.58" fill="url(#gR)"/>
<circle cx="393.97" cy="1841.49" r="4.24" fill="url(#gW)"/>
<circle cx="325.96" cy="1862.97" r="5.2" fill="url(#gW)"/>
<circle cx="358.27" cy="1902.13" r="4.1" fill="url(#gW)"/>
<circle cx="390.53" cy="1844.82" r="3.82" fill="url(#gW)"/>
<circle cx="365.77" cy="1857.3" r="4.21" fill="url(#gW)"/>
<circle cx="379.93" cy="1907.37" r="4.37" fill="url(#gW)"/>
<circle cx="366.27" cy="1865.33" r="5.2" fill="url(#gR)"/>
<circle cx="341.42" cy="1945.54" r="4.17" fill="url(#gW)"/>
<circle cx="375.98" cy="1936.34" r="3.8" fill="url(#gW)"/>
<circle cx="339.04" cy="1943.22" r="4.58" fill="url(#gW)"/>
<circle cx="332.74" cy="1915.97" r="5.28" fill="url(#gC)"/>
<circle cx="371.79" cy="1876.78" r="4.71" fill="url(#gW)"/>
<circle cx="390.74" cy="1941.54" r="4.35" fill="url(#gW)"/>
<circle cx="330.83" cy="1864.74" r="4.4" fill="url(#gW)"/>
<circle cx="334.92" cy="1854" r="4.95" fill="url(#gW)"/>
<circle cx="349.96" cy="1948.56" r="4.57" fill="url(#gW)"/>
<circle cx="381.84" cy="1925.92" r="3.92" fill="url(#gC)"/>
<circle cx="369.37" cy="1924.94" r="4.4" fill="url(#gW)"/>
<circle cx="370.61" cy="1929.87" r="4.99" fill="url(#gW)"/>
<circle cx="342.9" cy="1908.3" r="5.38" fill="url(#gC)"/>
<circle cx="375.16" cy="1904.5" r="4.59" fill="url(#gW)"/>
<circle cx="332.49" cy="1878.4" r="4.07" fill="url(#gW)"/>
<circle cx="324.45" cy="1898.07" r="5.07" fill="url(#gW)"/>
<circle cx="322.85" cy="1885.36" r="5.33" fill="url(#gW)"/>
<circle cx="372.1" cy="1857.1" r="5.27" fill="url(#gW)"/>
<circle cx="349.18" cy="1933.09" r="5.15" fill="url(#gW)"/>
<circle cx="398.3" cy="1923.74" r="4.46" fill="url(#gW)"/>
<circle cx="369.64" cy="1961.55" r="3.51" fill="url(#gW)"/>
<circle cx="399.98" cy="1907.2" r="5.29" fill="url(#gW)"/>
<circle cx="339.06" cy="1937" r="3.58" fill="url(#gW)"/>
<circle cx="372.3" cy="1955.39" r="4.43" fill="url(#gW)"/>
<circle cx="363.91" cy="1892.68" r="4.09" fill="url(#gC)"/>
<circle cx="363.97" cy="1955.33" r="4.41" fill="url(#gW)"/>
<circle cx="369.58" cy="1867.56" r="3.82" fill="url(#gC)"/>
<circle cx="353.15" cy="1950.01" r="5.19" fill="url(#gW)"/>
<circle cx="384.77" cy="1869.18" r="4.28" fill="url(#gB)"/>
<circle cx="343.15" cy="1850.81" r="4.57" fill="url(#gW)"/>
<circle cx="353.55" cy="1931.1" r="5.04" fill="url(#gW)"/>
<circle cx="355.21" cy="1868.37" r="4.58" fill="url(#gW)"/>
<circle cx="381.55" cy="1865.67" r="3.62" fill="url(#gC)"/>
<circle cx="396.65" cy="1856.81" r="4.29" fill="url(#gW)"/>
<circle cx="353.4" cy="1856.65" r="4.32" fill="url(#gW)"/>
<circle cx="392.67" cy="1847.62" r="3.57" fill="url(#gW)"/>
<circle cx="399.41" cy="1940.01" r="4.93" fill="url(#gW)"/>
<circle cx="380.43" cy="1943.16" r="4.23" fill="url(#gW)"/>
<circle cx="341.11" cy="1938.82" r="4.4" fill="url(#gW)"/>
<circle cx="363.11" cy="1959.03" r="3.48" fill="url(#gW)"/>
<circle cx="371.03" cy="1950.07" r="4.84" fill="url(#gW)"/>
<circle cx="363.35" cy="1945.99" r="4.77" fill="url(#gW)"/>
<circle cx="373.93" cy="1859.92" r="4.02" fill="url(#gW)"/>
<circle cx="351.49" cy="1848.68" r="3.8" fill="url(#gW)"/>
<circle cx="404.87" cy="1863.4" r="4.28" fill="url(#gW)"/>
<circle cx="406.1" cy="1958.09" r="3.97" fill="url(#gW)"/>
<circle cx="365.95" cy="1900.6" r="5.21" fill="url(#gW)"/>
<circle cx="389.95" cy="1911.73" r="4.27" fill="url(#gW)"/>
<circle cx="396.83" cy="1924.89" r="3.47" fill="url(#gW)"/>
<circle cx="349.42" cy="1869.57" r="3.41" fill="url(#gW)"/>
<circle cx="375.82" cy="1859.96" r="4.52" fill="url(#gW)"/>
<circle cx="391.82" cy="1859.75" r="3.99" fill="url(#gW)"/>
<circle cx="405.12" cy="1892.25" r="4.78" fill="url(#gC)"/>
<circle cx="343.62" cy="1859.42" r="4.47" fill="url(#gW)"/>
<circle cx="324.99" cy="1904.36" r="3.48" fill="url(#gW)"/>
<circle cx="350.35" cy="1869.81" r="3.44" fill="url(#gB)"/>
<circle cx="351.65" cy="1898.01" r="4.93" fill="url(#gW)"/>
<circle cx="348.55" cy="1932.9" r="3.7" fill="url(#gC)"/>
<circle cx="326.46" cy="1913.29" r="4.65" fill="url(#gW)"/>
<circle cx="389.2" cy="1907.08" r="4.69" fill="url(#gW)"/>
<circle cx="330" cy="1903.72" r="4.6" fill="url(#gW)"/>
<circle cx="411.98" cy="1944.68" r="4.41" fill="url(#gW)"/>
<circle cx="352.35" cy="1880.69" r="4.28" fill="url(#gW)"/>
<circle cx="325.65" cy="1885.22" r="4.19" fill="url(#gW)"/>
<circle cx="367.28" cy="1957.27" r="3.72" fill="url(#gW)"/>
<circle cx="355.11" cy="1923.04" r="4.79" fill="url(#gW)"/>
<circle cx="327.39" cy="1908.56" r="5.36" fill="url(#gW)"/>
<circle cx="351.65" cy="1905.09" r="3.54" fill="url(#gW)"/>
<circle cx="352.5" cy="1930.95" r="3.88" fill="url(#gW)"/>
<circle cx="393.99" cy="1935.64" r="4.97" fill="url(#gW)"/>
<circle cx="388.89" cy="1938.59" r="4.24" fill="url(#gW)"/>
<circle cx="387.2" cy="1901.38" r="5.05" fill="url(#gW)"/>
<circle cx="352.77" cy="1898.46" r="4.06" fill="url(#gW)"/>
<circle cx="349.9" cy="1929.32" r="4.36" fill="url(#gW)"/>
<circle cx="366.05" cy="1952.42" r="3.66" fill="url(#gW)"/>
<circle cx="397.72" cy="1911.35" r="3.95" fill="url(#gB)"/>
<circle cx="404.72" cy="1880.1" r="4.24" fill="url(#gW)"/>
<circle cx="379.42" cy="1945.53" r="3.8" fill="url(#gB)"/>
<circle cx="376.37" cy="1930.18" r="5.19" fill="url(#gW)"/>
<circle cx="403.68" cy="1866.95" r="3.85" fill="url(#gW)"/>
<circle cx="383.58" cy="1909.02" r="3.53" fill="url(#gW)"/>
<circle cx="390.6" cy="1938.59" r="3.41" fill="url(#gW)"/>
<circle cx="359.62" cy="1932.07" r="4.67" fill="url(#gW)"/>
<circle cx="320.8" cy="1861.25" r="4.71" fill="url(#gW)"/>
<circle cx="363.31" cy="1962.4" r="4.64" fill="url(#gW)"/>
<circle cx="348.75" cy="1914.87" r="4.7" fill="url(#gW)"/>
<circle cx="393.16" cy="1892.1" r="3.43" fill="url(#gW)"/>
<circle cx="402.71" cy="1871.31" r="3.84" fill="url(#gW)"/>
<circle cx="403.43" cy="1909.47" r="3.49" fill="url(#gW)"/>
<circle cx="337.4" cy="1905.93" r="3.79" fill="url(#gW)"/>
<circle cx="372.35" cy="1931.91" r="4.99" fill="url(#gW)"/>
<circle cx="331.38" cy="1920.22" r="5.02" fill="url(#gW)"/>
<circle cx="378.17" cy="1926.2" r="3.64" fill="url(#gW)"/>
<circle cx="336.37" cy="1931" r="4.13" fill="url(#gW)"/>
<circle cx="374.55" cy="1926.99" r="3.52" fill="url(#gW)"/>
<circle cx="400.83" cy="1908.41" r="5.16" fill="url(#gW)"/>
<circle cx="384.79" cy="1957.46" r="3.79" fill="url(#gW)"/>
<circle cx="379.42" cy="1950.32" r="3.77" fill="url(#gW)"/>
<circle cx="392.62" cy="1921.75" r="5.14" fill="url(#gW)"/>
<circle cx="372.98" cy="1956.75" r="3.72" fill="url(#gW)"/>
<circle cx="373.56" cy="1896.97" r="4.98" fill="url(#gW)"/>
<circle cx="365.02" cy="1866.96" r="3.78" fill="url(#gR)"/>
<circle cx="390.59" cy="1883.71" r="4.27" fill="url(#gC)"/>
<circle cx="352.07" cy="1872.04" r="3.54" fill="url(#gW)"/>
<circle cx="376.32" cy="1953.67" r="4.69" fill="url(#gW)"/>
<circle cx="403.96" cy="1864.98" r="4.43" fill="url(#gW)"/>
<circle cx="359.15" cy="1940.1" r="3.52" fill="url(#gW)"/>
<circle cx="396.92" cy="1908.68" r="4.2" fill="url(#gW)"/>
<circle cx="379.2" cy="1914.13" r="3.67" fill="url(#gW)"/>
<circle cx="372.96" cy="1943.64" r="5.01" fill="url(#gC)"/>
<circle cx="337.37" cy="1903.79" r="4.46" fill="url(#gW)"/>
<circle cx="324.82" cy="1903.44" r="4.24" fill="url(#gW)"/>
<circle cx="399.99" cy="1919.9" r="5.17" fill="url(#gW)"/>
<circle cx="392.69" cy="1868.47" r="3.62" fill="url(#gW)"/>
<circle cx="367.39" cy="1963.67" r="4.43" fill="url(#gW)"/>
<circle cx="348.41" cy="1908.23" r="4.11" fill="url(#gC)"/>
<circle cx="342.69" cy="1907.44" r="4.93" fill="url(#gW)"/>
<circle cx="334.33" cy="1868.38" r="3.61" fill="url(#gW)"/>
<circle cx="373.06" cy="1937.36" r="4.7" fill="url(#gW)"/>
<circle cx="353.48" cy="1956.75" r="4.82" fill="url(#gW)"/>
<circle cx="404.16" cy="1899.27" r="4.19" fill="url(#gW)"/>
<circle cx="381.35" cy="1922.24" r="4.66" fill="url(#gW)"/>
<circle cx="389.25" cy="1942.37" r="5.23" fill="url(#gW)"/>
<circle cx="387.75" cy="1945.91" r="4.08" fill="url(#gW)"/>
<circle cx="378.5" cy="1944.84" r="4.21" fill="url(#gW)"/>
<circle cx="389.07" cy="1946.66" r="4.54" fill="url(#gW)"/>
<circle cx="403.42" cy="1900.59" r="4.45" fill="url(#gW)"/>
<circle cx="345.38" cy="1891.52" r="3.92" fill="url(#gW)"/>
<circle cx="357.83" cy="1901.07" r="3.63" fill="url(#gB)"/>
<circle cx="357.01" cy="1904.86" r="4.1" fill="url(#gW)"/>
<circle cx="389.05" cy="1930.76" r="4.88" fill="url(#gW)"/>
<circle cx="359.08" cy="1955.74" r="4.12" fill="url(#gW)"/>
<circle cx="394.6" cy="1927.16" r="4.67" fill="url(#gW)"/>
<circle cx="330.85" cy="1929.86" r="4.1" fill="url(#gW)"/>
<circle cx="329.15" cy="1883.88" r="3.65" fill="url(#gC)"/>
<circle cx="375.84" cy="1906.16" r="5.33" fill="url(#gW)"/>
<circle cx="361.65" cy="1909.43" r="4.44" fill="url(#gC)"/>
<circle cx="358.69" cy="1889.55" r="3.9" fill="url(#gW)"/>
<circle cx="344.72" cy="1917.44" r="3.98" fill="url(#gW)"/>
<circle cx="366.79" cy="1953.4" r="3.63" fill="url(#gW)"/>
<circle cx="387.48" cy="1931.77" r="4.68" fill="url(#gW)"/>
<circle cx="350.62" cy="1915.07" r="4.39" fill="url(#gW)"/>
<circle cx="337.78" cy="1917.39" r="5.36" fill="url(#gW)"/>
<circle cx="388.16" cy="1947.16" r="4.71" fill="url(#gB)"/>
<circle cx="357.17" cy="1876.59" r="5.05" fill="url(#gW)"/>
<circle cx="344.06" cy="1918.81" r="3.76" fill="url(#gW)"/>
<circle cx="392.14" cy="1906.29" r="5.21" fill="url(#gW)"/>
<circle cx="388.15" cy="1932.56" r="3.99" fill="url(#gW)"/>
<circle cx="394.12" cy="1891.16" r="4.3" fill="url(#gW)"/>
<circle cx="351.02" cy="1900.37" r="4.63" fill="url(#gB)"/>
<circle cx="379.81" cy="1898.07" r="4.1" fill="url(#gW)"/>
<circle cx="377.1" cy="1940.22" r="3.66" fill="url(#gW)"/>
<circle cx="365.16" cy="1883.34" r="3.56" fill="url(#gW)"/>
<circle cx="362.64" cy="1893.34" r="3.81" fill="url(#gW)"/>
<circle cx="394.26" cy="1957.27" r="4.79" fill="url(#gW)"/>
<circle cx="389.26" cy="1934.51" r="4.4" fill="url(#gW)"/>
<circle cx="369.34" cy="1919.1" r="5.14" fill="url(#gW)"/>
<circle cx="399.54" cy="1882.12" r="4.1" fill="url(#gW)"/>
<circle cx="351.92" cy="1947.83" r="4.46" fill="url(#gW)"/>
<circle cx="357.53" cy="1946.47" r="3.42" fill="url(#gW)"/>
<circle cx="379.78" cy="1956.85" r="4.68" fill="url(#gW)"/>
<circle cx="379.53" cy="1887.39" r="3.99" fill="url(#gW)"/>
<circle cx="343.67" cy="1952.64" r="4.22" fill="url(#gW)"/>
<circle cx="348.93" cy="1919" r="4.95" fill="url(#gB)"/>
<circle cx="394.92" cy="1889.18" r="3.46" fill="url(#gW)"/>
<circle cx="353.72" cy="1882.79" r="3.42" fill="url(#gW)"/>
<circle cx="385.01" cy="1913.68" r="4.92" fill="url(#gW)"/>
<circle cx="339.91" cy="1938.06" r="5.39" fill="url(#gW)"/>
<circle cx="345.29" cy="1945.68" r="3.43" fill="url(#gC)"/>
<circle cx="405.06" cy="1954.97" r="3.63" fill="url(#gB)"/>
<circle cx="397.2" cy="1944.49" r="3.66" fill="url(#gW)"/>
<circle cx="355.99" cy="1942.12" r="4.72" fill="url(#gW)"/>
<circle cx="369.55" cy="1919.9" r="3.67" fill="url(#gW)"/>
<circle cx="380.78" cy="1914.22" r="4.91" fill="url(#gW)"/>
<circle cx="376.36" cy="1940.74" r="3.52" fill="url(#gW)"/>
<circle cx="402.97" cy="1955.94" r="4.54" fill="url(#gW)"/>
<circle cx="395.16" cy="1887.05" r="3.49" fill="url(#gW)"/>
<circle cx="336.04" cy="1928.39" r="4.76" fill="url(#gW)"/>
<circle cx="337.26" cy="1893.04" r="3.61" fill="url(#gW)"/>
<circle cx="370.18" cy="1895.47" r="3.8" fill="url(#gW)"/>
<circle cx="384.48" cy="1924.12" r="5.23" fill="url(#gW)"/>
<circle cx="399.62" cy="1914.01" r="5.06" fill="url(#gW)"/>
<circle cx="343.86" cy="1932.55" r="4.07" fill="url(#gW)"/>
<circle cx="344.1" cy="1933.58" r="4.98" fill="url(#gW)"/>
<circle cx="370.51" cy="1914.82" r="4.24" fill="url(#gW)"/>
<circle cx="394.8" cy="1928.95" r="4.44" fill="url(#gW)"/>
<circle cx="385.92" cy="1961.87" r="3.73" fill="url(#gW)"/>
<circle cx="362.66" cy="1937.34" r="4.6" fill="url(#gW)"/>
<circle cx="345.66" cy="1907.27" r="5" fill="url(#gW)"/>
<circle cx="379.01" cy="1915.52" r="3.95" fill="url(#gW)"/>
<circle cx="378.22" cy="1951.31" r="4.2" fill="url(#gW)"/>
<circle cx="358.16" cy="1954.37" r="3.98" fill="url(#gW)"/>
<circle cx="373.41" cy="1900.82" r="4.33" fill="url(#gW)"/>
<circle cx="388.99" cy="1907.31" r="3.52" fill="url(#gW)"/>
<circle cx="361.39" cy="1913.13" r="4.47" fill="url(#gW)"/>
<circle cx="409.37" cy="1949.17" r="4.84" fill="url(#gW)"/>
<circle cx="366.72" cy="1895.39" r="4.48" fill="url(#gW)"/>
<circle cx="400.32" cy="1911.87" r="4.83" fill="url(#gW)"/>
<circle cx="355.9" cy="1895.04" r="5.02" fill="url(#gW)"/>
<circle cx="329.72" cy="1924.94" r="3.77" fill="url(#gW)"/>
<circle cx="341.28" cy="1931.49" r="3.58" fill="url(#gW)"/>
<circle cx="366.42" cy="1927.42" r="3.88" fill="url(#gW)"/>
<circle cx="370.17" cy="1908.46" r="3.91" fill="url(#gW)"/>
<circle cx="342.04" cy="1928.16" r="3.46" fill="url(#gW)"/>
<circle cx="334.78" cy="1914.11" r="4.08" fill="url(#gW)"/>
<circle cx="385.2" cy="1945.97" r="4.26" fill="url(#gW)"/>
<circle cx="364.19" cy="1934.98" r="4.74" fill="url(#gW)"/>
<circle cx="379.64" cy="1960.73" r="4.99" fill="url(#gW)"/>
<circle cx="382.28" cy="1927.07" r="4.57" fill="url(#gW)"/>
<circle cx="391.86" cy="1937.63" r="4.04" fill="url(#gW)"/>
<circle cx="390.98" cy="1919.34" r="3.87" fill="url(#gW)"/>
<circle cx="391.72" cy="1934.14" r="3.51" fill="url(#gW)"/>
<circle cx="377.6" cy="1920.52" r="4.18" fill="url(#gW)"/>
<circle cx="355.67" cy="1901.08" r="4.08" fill="url(#gW)"/>
<circle cx="405.05" cy="1942.36" r="3.51" fill="url(#gW)"/>
<circle cx="343.52" cy="1915.3" r="5.05" fill="url(#gC)"/>
<circle cx="332.83" cy="1899.51" r="3.95" fill="url(#gW)"/>
<circle cx="373.65" cy="1901.79" r="5.26" fill="url(#gW)"/>
<circle cx="355.36" cy="1937.36" r="3.52" fill="url(#gC)"/>
<circle cx="333.54" cy="1920.38" r="4.34" fill="url(#gW)"/>
<circle cx="350.3" cy="1953.1" r="4.71" fill="url(#gW)"/>
<circle cx="352.46" cy="1929.23" r="4.97" fill="url(#gW)"/>
<circle cx="342.95" cy="1944.33" r="4.58" fill="url(#gW)"/>
<circle cx="368.92" cy="1928.99" r="4.4" fill="url(#gW)"/>
<circle cx="370.26" cy="1954.75" r="4.36" fill="url(#gW)"/>
<circle cx="365.04" cy="1929.64" r="4.74" fill="url(#gW)"/>
<circle cx="375.4" cy="1913.69" r="4.16" fill="url(#gW)"/>
<circle cx="399.71" cy="1921.67" r="3.68" fill="url(#gW)"/>
<circle cx="360.58" cy="1918.17" r="5.06" fill="url(#gW)"/>
<circle cx="342.18" cy="1932.32" r="3.86" fill="url(#gW)"/>
<circle cx="388.65" cy="1952.86" r="3.81" fill="url(#gW)"/>
<circle cx="379.92" cy="1934.6" r="4.26" fill="url(#gW)"/>
<circle cx="351.03" cy="1936.93" r="3.88" fill="url(#gW)"/>
<circle cx="388.99" cy="1946.07" r="3.5" fill="url(#gB)"/>
<circle cx="342.51" cy="1929.03" r="4.6" fill="url(#gC)"/>
<circle cx="348.23" cy="1956.94" r="4.41" fill="url(#gW)"/>
<circle cx="351.26" cy="1944.2" r="5.01" fill="url(#gW)"/>
<circle cx="376.31" cy="1948.89" r="3.82" fill="url(#gW)"/>
<circle cx="356.92" cy="1921.35" r="4.83" fill="url(#gW)"/>
<circle cx="334.46" cy="1929.9" r="5.28" fill="url(#gW)"/>
<circle cx="359.01" cy="1931.92" r="5.01" fill="url(#gW)"/>
<circle cx="396" cy="1948.11" r="4.55" fill="url(#gW)"/>
<circle cx="326.23" cy="1916.18" r="4.16" fill="url(#gW)"/>
<circle cx="353.93" cy="1956.87" r="3.93" fill="url(#gW)"/>
<circle cx="353.81" cy="1927.13" r="5.08" fill="url(#gW)"/>
<circle cx="368.08" cy="1958.01" r="4.68" fill="url(#gC)"/>
<circle cx="399.91" cy="1915.29" r="4.67" fill="url(#gW)"/>
<circle cx="339.04" cy="1931.45" r="3.8" fill="url(#gW)"/>
<circle cx="353.17" cy="1955.85" r="3.82" fill="url(#gW)"/>
<circle cx="406.49" cy="1950.52" r="4.17" fill="url(#gB)"/>
<circle cx="349.5" cy="1933.01" r="5.13" fill="url(#gW)"/>
<circle cx="340.65" cy="1923.25" r="4.78" fill="url(#gW)"/>
<circle cx="377.55" cy="1950.71" r="4.92" fill="url(#gW)"/>
<circle cx="371.08" cy="1961.54" r="4.11" fill="url(#gW)"/>
<circle cx="393.32" cy="1927.1" r="5.13" fill="url(#gB)"/>
<circle cx="368.64" cy="1937" r="4.43" fill="url(#gW)"/>
<circle cx="402.28" cy="1944.72" r="4.8" fill="url(#gW)"/>
<circle cx="373.94" cy="1926.09" r="3.52" fill="url(#gW)"/>
<circle cx="390.33" cy="1947.25" r="4.68" fill="url(#gW)"/>
<circle cx="338.57" cy="1932.31" r="3.69" fill="url(#gW)"/>
<circle cx="365.53" cy="1955.74" r="5.27" fill="url(#gW)"/>
<circle cx="360.43" cy="1961.33" r="3.49" fill="url(#gW)"/>
<circle cx="390.24" cy="1953.88" r="5" fill="url(#gR)"/>
<circle cx="363.44" cy="1958.03" r="4.78" fill="url(#gW)"/>
<circle cx="384.97" cy="1956.07" r="4.6" fill="url(#gC)"/>
<circle cx="391.88" cy="1938.9" r="3.69" fill="url(#gW)"/>
<circle cx="382.14" cy="1947.77" r="4.22" fill="url(#gW)"/>
<circle cx="370.97" cy="1941.04" r="3.82" fill="url(#gW)"/>
<circle cx="345.77" cy="1930.24" r="4.21" fill="url(#gW)"/>
<circle cx="384.92" cy="1948.61" r="3.72" fill="url(#gW)"/>
<circle cx="361.94" cy="1938.91" r="3.93" fill="url(#gW)"/>
<circle cx="350.98" cy="1944.94" r="5.21" fill="url(#gW)"/>
<circle cx="388.96" cy="1939.06" r="4.61" fill="url(#gW)"/>
<circle cx="376.48" cy="1951.04" r="3.51" fill="url(#gW)"/>
<circle cx="412.81" cy="1949.61" r="4.91" fill="url(#gW)"/>
<circle cx="391.81" cy="1941.94" r="3.48" fill="url(#gW)"/>
<circle cx="404.99" cy="1941.13" r="4.86" fill="url(#gW)"/>
<circle cx="376.2" cy="1948.18" r="3.93" fill="url(#gB)"/>
<circle cx="379.15" cy="1946.15" r="3.98" fill="url(#gW)"/>
<circle cx="345.69" cy="1942.54" r="3.57" fill="url(#gW)"/>
<circle cx="373.7" cy="1943.2" r="4.19" fill="url(#gW)"/>
<circle cx="378.08" cy="1949.43" r="4.1" fill="url(#gW)"/>
<circle cx="371" cy="1943.8" r="5.17" fill="url(#gW)"/>
<circle cx="381.99" cy="1959.47" r="4.88" fill="url(#gW)"/>
<circle cx="372.09" cy="1951.79" r="5.36" fill="url(#gW)"/>
<circle cx="360.33" cy="1953.65" r="5.22" fill="url(#gW)"/>
<circle cx="357.31" cy="1950.32" r="4.78" fill="url(#gC)"/>
<circle cx="392.48" cy="1962.11" r="4.3" fill="url(#gW)"/>
<circle cx="473" cy="1773.8" r="7" fill="url(#gC)" opacity="0.85"/>
<circle cx="482.2" cy="1773.8" r="7" fill="url(#gC)" opacity="0.85"/>
<circle cx="491.4" cy="1773.8" r="7" fill="url(#gC)" opacity="0.85"/>
<circle cx="500.6" cy="1773.8" r="7" fill="url(#gC)" opacity="0.85"/>
<circle cx="459" cy="1774.5" r="4.6" fill="url(#gN)" opacity="1.0"/>
<circle cx="468.6" cy="1774.5" r="4.6" fill="url(#gN)" opacity="1.0"/>
<circle cx="478.2" cy="1774.5" r="4.6" fill="url(#gN)" opacity="1.0"/>
<circle cx="487.8" cy="1774.5" r="4.6" fill="url(#gN)" opacity="1.0"/>
<circle cx="474" cy="1821.7" r="7" fill="url(#gC)" opacity="0.85"/>
<circle cx="483.2" cy="1821.7" r="7" fill="url(#gC)" opacity="0.85"/>
<circle cx="492.4" cy="1821.7" r="7" fill="url(#gC)" opacity="0.85"/>
<circle cx="501.6" cy="1821.7" r="7" fill="url(#gC)" opacity="0.85"/>
<circle cx="459" cy="1822.5" r="4.6" fill="url(#gN)" opacity="1.0"/>
<circle cx="468.6" cy="1822.5" r="4.6" fill="url(#gN)" opacity="1.0"/>
<circle cx="478.2" cy="1822.5" r="4.6" fill="url(#gN)" opacity="1.0"/>
<circle cx="487.8" cy="1822.5" r="4.6" fill="url(#gN)" opacity="1.0"/>
<circle cx="487" cy="1869.5" r="7" fill="url(#gC)" opacity="0.85"/>
<circle cx="496.2" cy="1869.5" r="7" fill="url(#gC)" opacity="0.85"/>
<circle cx="505.4" cy="1869.5" r="7" fill="url(#gC)" opacity="0.85"/>
<circle cx="480" cy="1870" r="4.6" fill="url(#gN)" opacity="0.8"/>
<circle cx="489.6" cy="1870" r="4.6" fill="url(#gN)" opacity="0.8"/>
<circle cx="474" cy="1895" r="7" fill="url(#gC)" opacity="0.8"/>
<circle cx="483.2" cy="1895" r="7" fill="url(#gC)" opacity="0.8"/>
<circle cx="492.4" cy="1895" r="7" fill="url(#gC)" opacity="0.8"/>
<circle cx="501.6" cy="1895" r="7" fill="url(#gC)" opacity="0.8"/>
<circle cx="482" cy="1895.5" r="4.6" fill="url(#gN)" opacity="0.8"/>
<circle cx="491.6" cy="1895.5" r="4.6" fill="url(#gN)" opacity="0.8"/>
<circle cx="474" cy="1943" r="7" fill="url(#gC)" opacity="0.8"/>
<circle cx="483.2" cy="1943" r="7" fill="url(#gC)" opacity="0.8"/>
<circle cx="492.4" cy="1943" r="7" fill="url(#gC)" opacity="0.8"/>
<circle cx="501.6" cy="1943" r="7" fill="url(#gC)" opacity="0.8"/>
<circle cx="482" cy="1943.5" r="4.6" fill="url(#gN)" opacity="0.8"/>
<circle cx="491.6" cy="1943.5" r="4.6" fill="url(#gN)" opacity="0.8"/>
<circle cx="484" cy="1967" r="4.6" fill="url(#gN)" opacity="0.8"/>
<circle cx="493.6" cy="1967" r="4.6" fill="url(#gN)" opacity="0.8"/>
<circle cx="442" cy="1796.2" r="7" fill="url(#gC)" opacity="1.0"/>
<circle cx="451.2" cy="1796.2" r="7" fill="url(#gC)" opacity="1.0"/>
<circle cx="460.4" cy="1796.2" r="7" fill="url(#gC)" opacity="1.0"/>
<circle cx="469.6" cy="1796.2" r="7" fill="url(#gC)" opacity="1.0"/>
<circle cx="429.6" cy="1796.2" r="4.6" fill="url(#gB)" opacity="1.0"/>
<circle cx="439.2" cy="1796.2" r="4.6" fill="url(#gB)" opacity="1.0"/>
<circle cx="448.8" cy="1796.2" r="4.6" fill="url(#gB)" opacity="1.0"/>
<circle cx="458.4" cy="1796.2" r="4.6" fill="url(#gB)" opacity="1.0"/>
<circle cx="442" cy="1844" r="7" fill="url(#gC)" opacity="1.0"/>
<circle cx="451.2" cy="1844" r="7" fill="url(#gC)" opacity="1.0"/>
<circle cx="460.4" cy="1844" r="7" fill="url(#gC)" opacity="1.0"/>
<circle cx="469.6" cy="1844" r="7" fill="url(#gC)" opacity="1.0"/>
<circle cx="430" cy="1844" r="4.6" fill="url(#gB)" opacity="1.0"/>
<circle cx="439.6" cy="1844" r="4.6" fill="url(#gB)" opacity="1.0"/>
<circle cx="449.2" cy="1844" r="4.6" fill="url(#gB)" opacity="1.0"/>
<circle cx="458.8" cy="1844" r="4.6" fill="url(#gB)" opacity="1.0"/>
<circle cx="442" cy="1892.5" r="7" fill="url(#gC)" opacity="1.0"/>
<circle cx="451.2" cy="1892.5" r="7" fill="url(#gC)" opacity="1.0"/>
<circle cx="460.4" cy="1892.5" r="7" fill="url(#gC)" opacity="1.0"/>
<circle cx="469.6" cy="1892.5" r="7" fill="url(#gC)" opacity="1.0"/>
<circle cx="430" cy="1892.5" r="4.6" fill="url(#gB)" opacity="1.0"/>
<circle cx="439.6" cy="1892.5" r="4.6" fill="url(#gB)" opacity="1.0"/>
<circle cx="449.2" cy="1892.5" r="4.6" fill="url(#gB)" opacity="1.0"/>
<circle cx="458.8" cy="1892.5" r="4.6" fill="url(#gB)" opacity="1.0"/>
<circle cx="445" cy="1916.7" r="7" fill="url(#gC)" opacity="1.0"/>
<circle cx="454.2" cy="1916.7" r="7" fill="url(#gC)" opacity="1.0"/>
<circle cx="463.4" cy="1916.7" r="7" fill="url(#gC)" opacity="1.0"/>
<circle cx="472.6" cy="1916.7" r="7" fill="url(#gC)" opacity="1.0"/>
<circle cx="481.8" cy="1916.7" r="7" fill="url(#gC)" opacity="1.0"/>
<circle cx="491" cy="1916.7" r="7" fill="url(#gC)" opacity="1.0"/>
<circle cx="500.2" cy="1916.7" r="7" fill="url(#gC)" opacity="1.0"/>
<circle cx="509.4" cy="1916.7" r="7" fill="url(#gC)" opacity="1.0"/>
<circle cx="442" cy="1941" r="7" fill="url(#gC)" opacity="1.0"/>
<circle cx="451.2" cy="1941" r="7" fill="url(#gC)" opacity="1.0"/>
<circle cx="460.4" cy="1941" r="7" fill="url(#gC)" opacity="1.0"/>
<circle cx="469.6" cy="1941" r="7" fill="url(#gC)" opacity="1.0"/>
<circle cx="430" cy="1941" r="4.6" fill="url(#gB)" opacity="1.0"/>
<circle cx="439.6" cy="1941" r="4.6" fill="url(#gB)" opacity="1.0"/>
<circle cx="449.2" cy="1941" r="4.6" fill="url(#gB)" opacity="1.0"/>
<circle cx="458.8" cy="1941" r="4.6" fill="url(#gB)" opacity="1.0"/>
<circle cx="445" cy="1966.5" r="7" fill="url(#gC)" opacity="1.0"/>
<circle cx="454.2" cy="1966.5" r="7" fill="url(#gC)" opacity="1.0"/>
<circle cx="463.4" cy="1966.5" r="7" fill="url(#gC)" opacity="1.0"/>
<circle cx="472.6" cy="1966.5" r="7" fill="url(#gC)" opacity="1.0"/>
<circle cx="430.5" cy="1966.5" r="4.6" fill="url(#gB)" opacity="1.0"/>
<circle cx="440.1" cy="1966.5" r="4.6" fill="url(#gB)" opacity="1.0"/>
<circle cx="449.7" cy="1966.5" r="4.6" fill="url(#gB)" opacity="1.0"/>
<circle cx="459.3" cy="1966.5" r="4.6" fill="url(#gB)" opacity="1.0"/>
<circle cx="433" cy="1988.2" r="4.6" fill="url(#gB)" opacity="1.0"/>
<circle cx="442.6" cy="1988.2" r="4.6" fill="url(#gB)" opacity="1.0"/>
<circle cx="452.2" cy="1988.2" r="4.6" fill="url(#gB)" opacity="1.0"/>
<circle cx="461.8" cy="1988.2" r="4.6" fill="url(#gB)" opacity="1.0"/>
<circle cx="455" cy="1865" r="5" fill="url(#gW)"/>
<circle cx="462" cy="1861" r="4" fill="url(#gR)"/>
<circle cx="468" cy="1868" r="5" fill="url(#gW)"/>
<circle cx="460" cy="1872" r="4" fill="url(#gY)"/>
<circle cx="472" cy="1874" r="4.5" fill="url(#gR)"/>
<circle cx="478" cy="1866" r="5" fill="url(#gW)"/>
<circle cx="452" cy="1876" r="5" fill="url(#gW)"/>
<polygon points="203.8,1781.2 490.4,1784.5 490.4,2002.2 203.8,1998.2" fill="none" stroke="#e52020" stroke-width="2.2"/>
<line x1="195.5" y1="1785" x2="195.5" y2="1996" stroke="#3f4b5e" stroke-width="1.6" />
<polygon points="195.5,2000 191.5,1991 195.5,1994.15 199.5,1991" fill="#3f4b5e"/>
<polygon points="195.5,1781 191.5,1790 195.5,1786.85 199.5,1790" fill="#3f4b5e"/>
<line x1="209" y1="2008" x2="487" y2="2008" stroke="#3f4b5e" stroke-width="1.6" />
<polygon points="491,2008 482,2012 485.15,2008 482,2004" fill="#3f4b5e"/>
<polygon points="205,2008 214,2012 210.85,2008 214,2004" fill="#3f4b5e"/>
<line x1="506.27" y1="2001.7" x2="561.73" y2="1962.8" stroke="#3f4b5e" stroke-width="1.6" />
<polygon points="565,1960.5 559.93,1968.94 560.21,1963.86 555.34,1962.39" fill="#3f4b5e"/>
<polygon points="503,2004 512.66,2002.11 507.79,2000.64 508.07,1995.56" fill="#3f4b5e"/>
<text x="186.5" y="1883" font-size="20.5" fill="#000" text-anchor="middle" transform="rotate(-90 186.5 1883)" textLength="67" lengthAdjust="spacingAndGlyphs">6.8 nm</text>
<text x="366" y="2034" font-size="20.5" fill="#000" text-anchor="middle" textLength="68" lengthAdjust="spacingAndGlyphs">9.0 nm</text>
<text x="549" y="2004" font-size="20.5" fill="#000" text-anchor="middle" transform="rotate(-35 549 2004)" textLength="67" lengthAdjust="spacingAndGlyphs">9.8 nm</text>
<line x1="51.5" y1="2021" x2="51.5" y2="1908" stroke="#3f4b5e" stroke-width="4" />
<polygon points="51.5,1897 59,1912 51.5,1907.5 44,1912" fill="#3f4b5e"/>
<line x1="49.5" y1="2019.5" x2="143" y2="2019.5" stroke="#3f4b5e" stroke-width="4" />
<polygon points="154,2019.5 139,2027 143.5,2019.5 139,2012" fill="#3f4b5e"/>
<line x1="51.5" y1="2019" x2="111.95" y2="1977.25" stroke="#3f4b5e" stroke-width="4" />
<polygon points="121,1971 112.92,1985.7 112.36,1976.97 104.4,1973.35" fill="#3f4b5e"/>
<text x="60" y="1901" font-size="24" fill="#000" style="font-style:italic">y</text>
<text x="125" y="1972" font-size="24" fill="#000" style="font-style:italic">x</text>
<text x="163" y="2025" font-size="24" fill="#000" style="font-style:italic">z</text>
<circle cx="628" cy="1774.5" r="9.3" fill="url(#gC)"/>
<circle cx="628.8" cy="1811.6" r="6" fill="url(#gN)"/>
<circle cx="611" cy="1852" r="6.2" fill="url(#gW)"/>
<circle cx="620" cy="1844" r="6.2" fill="url(#gW)"/>
<circle cx="643" cy="1845" r="6.2" fill="url(#gW)"/>
<circle cx="610" cy="1860" r="5.8" fill="url(#gW)"/>
<circle cx="646" cy="1859" r="6" fill="url(#gW)"/>
<circle cx="628" cy="1843" r="5.2" fill="url(#gR)"/>
<circle cx="637" cy="1849" r="5.2" fill="url(#gR)"/>
<circle cx="648" cy="1851" r="3.2" fill="url(#gB)"/>
<circle cx="632" cy="1861" r="5.8" fill="url(#gW)"/>
<circle cx="620" cy="1861" r="5.5" fill="url(#gW)"/>
<circle cx="622" cy="1855" r="4.4" fill="url(#gY)"/>
<circle cx="629" cy="1864" r="3.6" fill="url(#gR)"/>
<circle cx="640" cy="1862" r="5.4" fill="url(#gW)"/>
<text x="657.5" y="1778" font-size="20.5" fill="#000" textLength="25" lengthAdjust="spacingAndGlyphs">---</text>
<text x="691" y="1778" font-size="20.8" fill="#000" textLength="165.6" lengthAdjust="spacingAndGlyphs">Chlorine ion (Cl<tspan dy="-8" font-size="13">−</tspan><tspan dy="8">)</tspan></text>
<text x="657.5" y="1816.5" font-size="20.5" fill="#000" textLength="25" lengthAdjust="spacingAndGlyphs">---</text>
<text x="691" y="1816.5" font-size="20.8" fill="#000" textLength="162" lengthAdjust="spacingAndGlyphs">Sodium ion (Na<tspan dy="-8" font-size="13">+</tspan><tspan dy="8">)</tspan></text>
<text x="657.5" y="1855.1" font-size="20.5" fill="#000" textLength="25" lengthAdjust="spacingAndGlyphs">---</text>
<text x="691" y="1855.1" font-size="20.8" fill="#000" textLength="132.2" lengthAdjust="spacingAndGlyphs">Ampicillin ion</text>
<text x="695" y="1957.3" font-size="20.5" fill="#000" textLength="24" lengthAdjust="spacingAndGlyphs">---</text>
<text x="726.6" y="1957.3" font-size="20.8" fill="#000" textLength="130" lengthAdjust="spacingAndGlyphs">PDA/PEI layer</text>
<circle cx="617.9" cy="1895.41" r="2.94" fill="url(#gW)"/>
<circle cx="626.02" cy="1897.99" r="2.34" fill="url(#gW)"/>
<circle cx="610.68" cy="1900.41" r="2.27" fill="url(#gW)"/>
<circle cx="607.32" cy="1899.07" r="3.43" fill="url(#gC)"/>
<circle cx="602.54" cy="1908.1" r="3.23" fill="url(#gW)"/>
<circle cx="602.32" cy="1907.74" r="2.91" fill="url(#gW)"/>
<circle cx="611.46" cy="1910.42" r="2.87" fill="url(#gW)"/>
<circle cx="629.96" cy="1904.52" r="3.4" fill="url(#gW)"/>
<circle cx="615.68" cy="1907.99" r="2.41" fill="url(#gW)"/>
<circle cx="629.15" cy="1905.83" r="2.99" fill="url(#gW)"/>
<circle cx="634.79" cy="1900.86" r="2.56" fill="url(#gW)"/>
<circle cx="599.42" cy="1911.97" r="2.38" fill="url(#gW)"/>
<circle cx="637.04" cy="1905.77" r="2.65" fill="url(#gC)"/>
<circle cx="633.35" cy="1899.64" r="3.16" fill="url(#gW)"/>
<circle cx="611.76" cy="1909.88" r="2.45" fill="url(#gW)"/>
<circle cx="598.23" cy="1913.41" r="3.6" fill="url(#gW)"/>
<circle cx="607.54" cy="1913.87" r="2.49" fill="url(#gR)"/>
<circle cx="628.17" cy="1912.03" r="3.57" fill="url(#gW)"/>
<circle cx="608.42" cy="1896.94" r="2.94" fill="url(#gW)"/>
<circle cx="620.74" cy="1908.45" r="3.54" fill="url(#gW)"/>
<circle cx="642.99" cy="1901.74" r="2.67" fill="url(#gW)"/>
<circle cx="610.31" cy="1898.4" r="2.47" fill="url(#gC)"/>
<circle cx="622.04" cy="1895.9" r="2.62" fill="url(#gW)"/>
<circle cx="606.97" cy="1910.68" r="3.44" fill="url(#gW)"/>
<circle cx="612.93" cy="1897.52" r="3.57" fill="url(#gB)"/>
<circle cx="614.68" cy="1897.58" r="2.22" fill="url(#gW)"/>
<circle cx="601.88" cy="1914.93" r="2.38" fill="url(#gW)"/>
<circle cx="607.27" cy="1913.1" r="3.01" fill="url(#gW)"/>
<circle cx="624.37" cy="1915.33" r="2.98" fill="url(#gW)"/>
<circle cx="650.97" cy="1915.58" r="3.28" fill="url(#gW)"/>
<circle cx="625.52" cy="1917.11" r="2.63" fill="url(#gC)"/>
<circle cx="638.73" cy="1901.94" r="2.94" fill="url(#gW)"/>
<circle cx="633.61" cy="1914.99" r="3.41" fill="url(#gW)"/>
<circle cx="611.32" cy="1915.19" r="2.95" fill="url(#gW)"/>
<circle cx="644.62" cy="1907.35" r="3.35" fill="url(#gW)"/>
<circle cx="605.38" cy="1916.84" r="3.58" fill="url(#gW)"/>
<circle cx="638.22" cy="1902.13" r="2.94" fill="url(#gW)"/>
<circle cx="638.76" cy="1914.31" r="2.93" fill="url(#gW)"/>
<circle cx="619.83" cy="1908.87" r="2.26" fill="url(#gW)"/>
<circle cx="614.29" cy="1911.85" r="2.42" fill="url(#gW)"/>
<circle cx="595.55" cy="1909.72" r="2.96" fill="url(#gW)"/>
<circle cx="602.31" cy="1912.01" r="2.48" fill="url(#gW)"/>
<circle cx="595.92" cy="1909.92" r="2.87" fill="url(#gW)"/>
<circle cx="619.04" cy="1923.26" r="3.33" fill="url(#gW)"/>
<circle cx="595.62" cy="1916.62" r="2.38" fill="url(#gW)"/>
<circle cx="646.03" cy="1917.78" r="2.49" fill="url(#gW)"/>
<circle cx="607.67" cy="1917.28" r="2.31" fill="url(#gW)"/>
<circle cx="635.91" cy="1919.31" r="3.32" fill="url(#gC)"/>
<circle cx="599.04" cy="1910.61" r="3.07" fill="url(#gW)"/>
<circle cx="639.25" cy="1923.77" r="2.36" fill="url(#gW)"/>
<circle cx="599.33" cy="1920.06" r="2.99" fill="url(#gW)"/>
<circle cx="601.74" cy="1914.92" r="3.18" fill="url(#gW)"/>
<circle cx="639.64" cy="1915.24" r="2.42" fill="url(#gW)"/>
<circle cx="627.84" cy="1909.59" r="3.23" fill="url(#gW)"/>
<circle cx="613.59" cy="1910.85" r="2.23" fill="url(#gW)"/>
<circle cx="612.96" cy="1925.08" r="2.36" fill="url(#gW)"/>
<circle cx="596.58" cy="1923.64" r="2.65" fill="url(#gW)"/>
<circle cx="593.2" cy="1919.7" r="2.21" fill="url(#gW)"/>
<circle cx="637.61" cy="1922.87" r="2.71" fill="url(#gW)"/>
<circle cx="593.11" cy="1916.44" r="2.53" fill="url(#gW)"/>
<circle cx="631.54" cy="1910.6" r="2.39" fill="url(#gR)"/>
<circle cx="628.56" cy="1916.01" r="2.46" fill="url(#gW)"/>
<circle cx="606.63" cy="1910.86" r="2.78" fill="url(#gC)"/>
<circle cx="656.62" cy="1927.01" r="3.42" fill="url(#gW)"/>
<circle cx="645.26" cy="1910.08" r="3.39" fill="url(#gW)"/>
<circle cx="612.38" cy="1910.7" r="2.92" fill="url(#gW)"/>
<circle cx="653.65" cy="1925.89" r="2.69" fill="url(#gW)"/>
<circle cx="640.02" cy="1926.04" r="2.86" fill="url(#gW)"/>
<circle cx="600.59" cy="1925.32" r="3.29" fill="url(#gW)"/>
<circle cx="651.85" cy="1919.8" r="3.18" fill="url(#gW)"/>
<circle cx="593.1" cy="1915.65" r="3.52" fill="url(#gW)"/>
<circle cx="599.73" cy="1909.31" r="3.39" fill="url(#gC)"/>
<circle cx="636.69" cy="1926.79" r="3.5" fill="url(#gW)"/>
<circle cx="630.25" cy="1924.43" r="3.3" fill="url(#gW)"/>
<circle cx="632.41" cy="1926.68" r="3.07" fill="url(#gB)"/>
<circle cx="659.46" cy="1927.46" r="2.99" fill="url(#gW)"/>
<circle cx="641.91" cy="1917.95" r="3.34" fill="url(#gW)"/>
<circle cx="610.04" cy="1929.04" r="2.99" fill="url(#gW)"/>
<circle cx="632.38" cy="1926.79" r="2.64" fill="url(#gW)"/>
<circle cx="620.36" cy="1918.57" r="3.16" fill="url(#gW)"/>
<circle cx="668.37" cy="1928.49" r="2.24" fill="url(#gW)"/>
<circle cx="642.63" cy="1911.58" r="3.47" fill="url(#gW)"/>
<circle cx="660.72" cy="1928.18" r="2.35" fill="url(#gW)"/>
<circle cx="638.96" cy="1929.38" r="2.63" fill="url(#gW)"/>
<circle cx="617.27" cy="1916.8" r="3.59" fill="url(#gW)"/>
<circle cx="647.9" cy="1930.64" r="3.21" fill="url(#gW)"/>
<circle cx="619.82" cy="1922.59" r="3.46" fill="url(#gW)"/>
<circle cx="629.2" cy="1922.18" r="2.57" fill="url(#gW)"/>
<circle cx="619.96" cy="1926.04" r="2.46" fill="url(#gW)"/>
<circle cx="635.01" cy="1932.03" r="3.06" fill="url(#gW)"/>
<circle cx="647.32" cy="1916.85" r="2.46" fill="url(#gW)"/>
<circle cx="636.77" cy="1928.83" r="2.72" fill="url(#gC)"/>
<circle cx="651.69" cy="1922.95" r="2.66" fill="url(#gW)"/>
<circle cx="627.9" cy="1930.44" r="2.59" fill="url(#gW)"/>
<circle cx="655.32" cy="1932.27" r="2.66" fill="url(#gW)"/>
<circle cx="647.58" cy="1921.69" r="2.58" fill="url(#gW)"/>
<circle cx="596.29" cy="1930.22" r="2.69" fill="url(#gW)"/>
<circle cx="632.35" cy="1927.32" r="3.33" fill="url(#gW)"/>
<circle cx="615.11" cy="1922.67" r="2.97" fill="url(#gW)"/>
<circle cx="616.69" cy="1924.75" r="2.8" fill="url(#gW)"/>
<circle cx="604.36" cy="1931.54" r="3.36" fill="url(#gW)"/>
<circle cx="599.7" cy="1925.82" r="3.26" fill="url(#gW)"/>
<circle cx="607.83" cy="1923.15" r="2.7" fill="url(#gW)"/>
<circle cx="633.05" cy="1931.03" r="2.9" fill="url(#gW)"/>
<circle cx="652.28" cy="1933.93" r="3.27" fill="url(#gW)"/>
<circle cx="643.89" cy="1926.88" r="3.51" fill="url(#gW)"/>
<circle cx="653.15" cy="1931.58" r="3.19" fill="url(#gW)"/>
<circle cx="668.2" cy="1933.66" r="3" fill="url(#gW)"/>
<circle cx="595.78" cy="1922.23" r="3.23" fill="url(#gC)"/>
<circle cx="643.6" cy="1936.59" r="3.37" fill="url(#gW)"/>
<circle cx="623.28" cy="1933.64" r="2.38" fill="url(#gW)"/>
<circle cx="640.47" cy="1936.05" r="3.5" fill="url(#gW)"/>
<circle cx="649.44" cy="1928.25" r="3.19" fill="url(#gW)"/>
<circle cx="661.92" cy="1938.64" r="3.51" fill="url(#gW)"/>
<circle cx="636.23" cy="1923.81" r="2.77" fill="url(#gC)"/>
<circle cx="598.7" cy="1931.74" r="3.33" fill="url(#gB)"/>
<circle cx="625.53" cy="1938.14" r="2.48" fill="url(#gC)"/>
<circle cx="652.08" cy="1938.6" r="3.52" fill="url(#gW)"/>
<circle cx="669.1" cy="1934.61" r="3.02" fill="url(#gW)"/>
<circle cx="640.6" cy="1921.5" r="2.98" fill="url(#gW)"/>
<circle cx="634.83" cy="1936.82" r="2.72" fill="url(#gW)"/>
<circle cx="677.29" cy="1939.28" r="3.34" fill="url(#gC)"/>
<circle cx="677.9" cy="1939.56" r="2.86" fill="url(#gC)"/>
<circle cx="637.26" cy="1925.14" r="2.71" fill="url(#gW)"/>
<circle cx="681.5" cy="1939.35" r="2.74" fill="url(#gW)"/>
<circle cx="640.09" cy="1924.21" r="3.58" fill="url(#gC)"/>
<circle cx="606.2" cy="1930.84" r="3.11" fill="url(#gW)"/>
<circle cx="596.5" cy="1930.12" r="2.35" fill="url(#gW)"/>
<circle cx="655.97" cy="1929.13" r="2.5" fill="url(#gW)"/>
<circle cx="605.36" cy="1926.78" r="3.23" fill="url(#gW)"/>
<circle cx="645.84" cy="1931.13" r="2.89" fill="url(#gW)"/>
<circle cx="629.43" cy="1939.76" r="2.76" fill="url(#gW)"/>
<circle cx="646.08" cy="1938.93" r="2.9" fill="url(#gW)"/>
<circle cx="650.03" cy="1926.43" r="2.83" fill="url(#gW)"/>
<circle cx="598.09" cy="1926.61" r="2.83" fill="url(#gB)"/>
<circle cx="652.08" cy="1926.07" r="2.33" fill="url(#gW)"/>
<circle cx="624.22" cy="1923.89" r="2.4" fill="url(#gW)"/>
<circle cx="605.34" cy="1928.22" r="2.38" fill="url(#gW)"/>
<circle cx="635.21" cy="1935.24" r="2.91" fill="url(#gW)"/>
<circle cx="646.56" cy="1929.19" r="2.84" fill="url(#gW)"/>
<circle cx="608.43" cy="1940.02" r="3.32" fill="url(#gW)"/>
<circle cx="600.73" cy="1933.6" r="3.17" fill="url(#gW)"/>
<circle cx="598.05" cy="1930.7" r="3.31" fill="url(#gW)"/>
<circle cx="649.94" cy="1924.65" r="3.36" fill="url(#gW)"/>
<circle cx="655.59" cy="1942.84" r="2.66" fill="url(#gC)"/>
<circle cx="649.81" cy="1935.35" r="2.51" fill="url(#gW)"/>
<circle cx="667.15" cy="1939.95" r="3.1" fill="url(#gW)"/>
<circle cx="648.88" cy="1927.82" r="2.44" fill="url(#gW)"/>
<circle cx="640.15" cy="1927.98" r="2.9" fill="url(#gW)"/>
<circle cx="676.42" cy="1934.1" r="2.27" fill="url(#gW)"/>
<circle cx="620.26" cy="1941.57" r="3.3" fill="url(#gW)"/>
<circle cx="674.86" cy="1936.32" r="3.33" fill="url(#gW)"/>
<circle cx="666.71" cy="1931.3" r="3.26" fill="url(#gW)"/>
<circle cx="639.76" cy="1932.91" r="3.07" fill="url(#gW)"/>
<circle cx="652.27" cy="1937.33" r="2.35" fill="url(#gW)"/>
<circle cx="606.08" cy="1938.56" r="2.37" fill="url(#gW)"/>
<circle cx="626.65" cy="1942.56" r="3.53" fill="url(#gW)"/>
<circle cx="636.74" cy="1939.9" r="2.69" fill="url(#gW)"/>
<circle cx="624.09" cy="1943.76" r="2.55" fill="url(#gW)"/>
<circle cx="651.21" cy="1929.56" r="2.51" fill="url(#gW)"/>
<circle cx="647.25" cy="1933.79" r="2.95" fill="url(#gW)"/>
<circle cx="626.53" cy="1934.61" r="2.39" fill="url(#gW)"/>
<circle cx="673.18" cy="1947.22" r="3.38" fill="url(#gW)"/>
<circle cx="623.09" cy="1933.42" r="3.31" fill="url(#gW)"/>
<circle cx="606.87" cy="1929.9" r="3.6" fill="url(#gW)"/>
<circle cx="639.77" cy="1939.81" r="2.64" fill="url(#gW)"/>
<circle cx="650.65" cy="1944.03" r="3.5" fill="url(#gW)"/>
<circle cx="633.35" cy="1931.14" r="2.86" fill="url(#gC)"/>
<circle cx="627.49" cy="1938.53" r="2.66" fill="url(#gW)"/>
<circle cx="668.87" cy="1946.55" r="3.2" fill="url(#gW)"/>
<circle cx="634.36" cy="1945.58" r="2.35" fill="url(#gR)"/>
<circle cx="689.23" cy="1948.09" r="3.2" fill="url(#gW)"/>
<circle cx="623.21" cy="1933.89" r="2.67" fill="url(#gW)"/>
<circle cx="641.72" cy="1929.01" r="3.32" fill="url(#gW)"/>
<circle cx="640.45" cy="1938.8" r="3.43" fill="url(#gC)"/>
<circle cx="664.7" cy="1944.7" r="2.74" fill="url(#gW)"/>
<circle cx="636.14" cy="1930.41" r="2.4" fill="url(#gW)"/>
<circle cx="663.68" cy="1930.16" r="2.63" fill="url(#gW)"/>
<circle cx="623.75" cy="1943.93" r="2.21" fill="url(#gW)"/>
<circle cx="684.58" cy="1948.8" r="2.38" fill="url(#gW)"/>
<circle cx="622.55" cy="1935.54" r="3.49" fill="url(#gW)"/>
<circle cx="665.65" cy="1945.36" r="3.05" fill="url(#gW)"/>
<circle cx="647.21" cy="1936.02" r="2.79" fill="url(#gW)"/>
<circle cx="620.91" cy="1941.3" r="3.01" fill="url(#gW)"/>
<circle cx="650.53" cy="1937.56" r="3.04" fill="url(#gW)"/>
<circle cx="613.83" cy="1939.84" r="3.16" fill="url(#gW)"/>
<circle cx="642.24" cy="1932.39" r="2.89" fill="url(#gR)"/>
<circle cx="621.14" cy="1933.76" r="3.03" fill="url(#gW)"/>
<circle cx="640.8" cy="1942.38" r="3.01" fill="url(#gW)"/>
<circle cx="632.19" cy="1937.83" r="2.77" fill="url(#gW)"/>
<circle cx="627.28" cy="1944.99" r="2.49" fill="url(#gW)"/>
<circle cx="616.81" cy="1932.71" r="3.18" fill="url(#gW)"/>
<circle cx="649.97" cy="1939.22" r="2.56" fill="url(#gW)"/>
<circle cx="628.57" cy="1936.06" r="2.35" fill="url(#gW)"/>
<circle cx="616.82" cy="1943.92" r="2.7" fill="url(#gW)"/>
<circle cx="660.96" cy="1950.86" r="3.47" fill="url(#gC)"/>
<circle cx="652.43" cy="1931.78" r="2.54" fill="url(#gW)"/>
<circle cx="616.22" cy="1935.61" r="2.32" fill="url(#gW)"/>
<circle cx="666.97" cy="1944.73" r="3.31" fill="url(#gW)"/>
<circle cx="665.03" cy="1934.14" r="2.42" fill="url(#gW)"/>
<circle cx="627.68" cy="1948.28" r="2.65" fill="url(#gW)"/>
<circle cx="671.44" cy="1950.16" r="3.14" fill="url(#gW)"/>
<circle cx="642.25" cy="1938.97" r="3.47" fill="url(#gW)"/>
<circle cx="664.24" cy="1949.84" r="2.88" fill="url(#gW)"/>
<circle cx="640.05" cy="1952.45" r="2.95" fill="url(#gC)"/>
<circle cx="675.44" cy="1950.43" r="2.64" fill="url(#gW)"/>
<circle cx="654.62" cy="1949.05" r="2.31" fill="url(#gW)"/>
<circle cx="645.77" cy="1934.25" r="3.29" fill="url(#gW)"/>
<circle cx="646.05" cy="1932.87" r="2.76" fill="url(#gW)"/>
<circle cx="639.36" cy="1935.17" r="2.37" fill="url(#gW)"/>
<circle cx="619.53" cy="1935.32" r="3.56" fill="url(#gW)"/>
<circle cx="611.44" cy="1935.41" r="2.46" fill="url(#gW)"/>
<circle cx="643.21" cy="1936.44" r="2.88" fill="url(#gW)"/>
<circle cx="648.88" cy="1951.32" r="2.29" fill="url(#gB)"/>
<circle cx="642.69" cy="1941.93" r="2.96" fill="url(#gW)"/>
<circle cx="615.49" cy="1942.82" r="2.81" fill="url(#gW)"/>
<circle cx="642.54" cy="1937.12" r="2.92" fill="url(#gW)"/>
<circle cx="684.34" cy="1944.21" r="2.21" fill="url(#gW)"/>
<circle cx="674.35" cy="1944.11" r="3.35" fill="url(#gW)"/>
<circle cx="652.63" cy="1937.36" r="3.37" fill="url(#gW)"/>
<circle cx="608.03" cy="1941.88" r="2.94" fill="url(#gC)"/>
<circle cx="674.61" cy="1947.73" r="2.92" fill="url(#gC)"/>
<circle cx="631.13" cy="1939.06" r="2.48" fill="url(#gB)"/>
<circle cx="675.63" cy="1952.54" r="2.31" fill="url(#gW)"/>
<circle cx="671" cy="1935.56" r="3.14" fill="url(#gW)"/>
<circle cx="665.17" cy="1946.9" r="3.35" fill="url(#gW)"/>
<circle cx="634.69" cy="1939.07" r="2.65" fill="url(#gW)"/>
<circle cx="678.55" cy="1951.15" r="2.42" fill="url(#gW)"/>
<circle cx="671.23" cy="1946.81" r="2.87" fill="url(#gW)"/>
<circle cx="680.58" cy="1944.51" r="2.2" fill="url(#gW)"/>
<circle cx="651.23" cy="1936.25" r="2.85" fill="url(#gW)"/>
<circle cx="657.73" cy="1949.97" r="3.4" fill="url(#gW)"/>
<circle cx="652.11" cy="1940.54" r="2.39" fill="url(#gW)"/>
<circle cx="651.11" cy="1946.58" r="2.34" fill="url(#gW)"/>
<circle cx="674.75" cy="1955.1" r="2.49" fill="url(#gW)"/>
<circle cx="672.45" cy="1943.69" r="3.08" fill="url(#gW)"/>
<circle cx="681.57" cy="1950.85" r="2.74" fill="url(#gW)"/>
<circle cx="668.18" cy="1950.87" r="3.56" fill="url(#gW)"/>
<circle cx="611.79" cy="1942.53" r="3.41" fill="url(#gW)"/>
<circle cx="619.32" cy="1938.11" r="2.31" fill="url(#gW)"/>
<circle cx="616.29" cy="1947.38" r="3.56" fill="url(#gW)"/>
<circle cx="619.98" cy="1950.26" r="2.23" fill="url(#gC)"/>
<circle cx="643.75" cy="1939.46" r="2.31" fill="url(#gW)"/>
<circle cx="625.56" cy="1944.21" r="2.86" fill="url(#gC)"/>
<circle cx="657.46" cy="1949.55" r="3.28" fill="url(#gW)"/>
<circle cx="633.44" cy="1950.46" r="3.56" fill="url(#gW)"/>
<circle cx="623.11" cy="1945.03" r="3.22" fill="url(#gW)"/>
<circle cx="657.46" cy="1956.21" r="2.91" fill="url(#gC)"/>
<circle cx="644.88" cy="1953.27" r="3.21" fill="url(#gW)"/>
<circle cx="625.45" cy="1943.55" r="2.26" fill="url(#gW)"/>
<circle cx="675.82" cy="1946.72" r="3.51" fill="url(#gW)"/>
<circle cx="682.81" cy="1949.74" r="3.57" fill="url(#gW)"/>
<circle cx="644.77" cy="1949.34" r="2.94" fill="url(#gW)"/>
<circle cx="637.85" cy="1951.49" r="3.19" fill="url(#gW)"/>
<circle cx="619.45" cy="1947.29" r="3.54" fill="url(#gW)"/>
<circle cx="621.01" cy="1944.45" r="3.42" fill="url(#gW)"/>
<circle cx="655.19" cy="1951.93" r="2.53" fill="url(#gW)"/>
<circle cx="677.61" cy="1951.98" r="2.91" fill="url(#gW)"/>
<circle cx="633.56" cy="1942.4" r="2.27" fill="url(#gW)"/>
<circle cx="642.2" cy="1943" r="2.56" fill="url(#gW)"/>
<circle cx="675.57" cy="1952.84" r="3.59" fill="url(#gW)"/>
<circle cx="676.29" cy="1952.42" r="2.89" fill="url(#gW)"/>
<circle cx="645.86" cy="1954.85" r="2.58" fill="url(#gW)"/>
<circle cx="617.35" cy="1945.28" r="3.37" fill="url(#gW)"/>
<circle cx="669.51" cy="1950.91" r="3.12" fill="url(#gW)"/>
<circle cx="633.97" cy="1944.48" r="3.57" fill="url(#gW)"/>
<circle cx="650.85" cy="1948.3" r="2.84" fill="url(#gW)"/>
<circle cx="687.99" cy="1957.74" r="3.01" fill="url(#gW)"/>
<circle cx="659.82" cy="1950.49" r="2.93" fill="url(#gW)"/>
<circle cx="673.48" cy="1949.08" r="2.26" fill="url(#gW)"/>
<circle cx="647.62" cy="1961.81" r="2.25" fill="url(#gW)"/>
<circle cx="652.75" cy="1961.09" r="2.89" fill="url(#gW)"/>
<circle cx="661.54" cy="1962.2" r="3.11" fill="url(#gW)"/>
<circle cx="630.49" cy="1958.66" r="3.16" fill="url(#gW)"/>
<circle cx="684.28" cy="1945.84" r="3.2" fill="url(#gW)"/>
<circle cx="649.21" cy="1959.17" r="2.62" fill="url(#gW)"/>
<circle cx="629.19" cy="1961.07" r="3.13" fill="url(#gC)"/>
<circle cx="659.8" cy="1947.91" r="3.49" fill="url(#gW)"/>
<circle cx="664.05" cy="1948.87" r="3.11" fill="url(#gW)"/>
<circle cx="688.31" cy="1955.95" r="3.16" fill="url(#gC)"/>
<circle cx="631.7" cy="1947.62" r="3.4" fill="url(#gW)"/>
<circle cx="676.22" cy="1947.95" r="3.41" fill="url(#gW)"/>
<circle cx="660.58" cy="1949.2" r="3.24" fill="url(#gW)"/>
<circle cx="623.71" cy="1956.68" r="3.27" fill="url(#gC)"/>
<circle cx="654.5" cy="1957.91" r="3.17" fill="url(#gW)"/>
<circle cx="652.4" cy="1948.28" r="2.29" fill="url(#gW)"/>
<circle cx="673.13" cy="1952.65" r="2.37" fill="url(#gW)"/>
<circle cx="652.39" cy="1956.9" r="2.97" fill="url(#gW)"/>
<circle cx="675.12" cy="1956.26" r="2.61" fill="url(#gW)"/>
<circle cx="661.53" cy="1945.87" r="2.46" fill="url(#gR)"/>
<circle cx="678.8" cy="1944.68" r="3.44" fill="url(#gW)"/>
<circle cx="680.24" cy="1953.46" r="3.13" fill="url(#gW)"/>
<circle cx="630.31" cy="1963.19" r="3.45" fill="url(#gW)"/>
<circle cx="653.81" cy="1961.74" r="2.86" fill="url(#gW)"/>
<circle cx="680.45" cy="1951.9" r="3.14" fill="url(#gW)"/>
<circle cx="634.29" cy="1960.76" r="2.51" fill="url(#gW)"/>
<circle cx="674.12" cy="1958.48" r="2.25" fill="url(#gW)"/>
<circle cx="645.9" cy="1952.32" r="2.42" fill="url(#gW)"/>
<circle cx="641.98" cy="1963.63" r="2.81" fill="url(#gW)"/>
<circle cx="649.69" cy="1962.62" r="2.83" fill="url(#gW)"/>
<circle cx="633.7" cy="1955.88" r="2.63" fill="url(#gW)"/>
<circle cx="643.24" cy="1957.28" r="3.38" fill="url(#gW)"/>
<circle cx="681.76" cy="1956.7" r="3.14" fill="url(#gW)"/>
<circle cx="675.8" cy="1956.8" r="2.99" fill="url(#gW)"/>
<circle cx="640.3" cy="1956.31" r="3.01" fill="url(#gW)"/>
<circle cx="660.17" cy="1957.29" r="2.32" fill="url(#gW)"/>
<circle cx="659.67" cy="1963.37" r="3.56" fill="url(#gW)"/>
<circle cx="632.56" cy="1956.85" r="2.97" fill="url(#gW)"/>
<circle cx="631.25" cy="1958.9" r="3.26" fill="url(#gW)"/>
<circle cx="634.85" cy="1961.73" r="2.72" fill="url(#gW)"/>
<circle cx="621.65" cy="1955.02" r="2.79" fill="url(#gW)"/>
<circle cx="641.7" cy="1962.44" r="2.56" fill="url(#gW)"/>
<circle cx="656.63" cy="1958.13" r="2.67" fill="url(#gC)"/>
<circle cx="663.31" cy="1961.07" r="3.25" fill="url(#gW)"/>
<circle cx="667.07" cy="1961.2" r="2.39" fill="url(#gW)"/>
<circle cx="647.4" cy="1965.09" r="2.37" fill="url(#gC)"/>
<circle cx="646.11" cy="1953.58" r="3.54" fill="url(#gW)"/>
<circle cx="630.48" cy="1953.39" r="2.89" fill="url(#gW)"/>
<circle cx="667.52" cy="1966" r="3.16" fill="url(#gW)"/>
<circle cx="667.99" cy="1958.59" r="2.56" fill="url(#gW)"/>
<circle cx="674.94" cy="1952.16" r="2.67" fill="url(#gW)"/>
<circle cx="648.02" cy="1960.65" r="2.87" fill="url(#gW)"/>
<circle cx="649.88" cy="1957.96" r="2.93" fill="url(#gW)"/>
<circle cx="630.27" cy="1959.73" r="3.39" fill="url(#gB)"/>
<circle cx="672.94" cy="1951.35" r="2.31" fill="url(#gW)"/>
<circle cx="664.89" cy="1956.73" r="2.36" fill="url(#gW)"/>
<circle cx="661.92" cy="1960.08" r="2.64" fill="url(#gW)"/>
<circle cx="640.55" cy="1956.47" r="3.15" fill="url(#gW)"/>
<circle cx="679.18" cy="1960.04" r="3.32" fill="url(#gW)"/>
<circle cx="647.15" cy="1968.55" r="2.34" fill="url(#gW)"/>
<circle cx="654.8" cy="1970.87" r="3.21" fill="url(#gW)"/>
<circle cx="673.96" cy="1958.04" r="3.16" fill="url(#gW)"/>
<circle cx="646.04" cy="1965.35" r="3.53" fill="url(#gW)"/>
<circle cx="648.09" cy="1964.83" r="3.04" fill="url(#gW)"/>
<circle cx="648.13" cy="1953.52" r="2.23" fill="url(#gW)"/>
<circle cx="647.44" cy="1957.41" r="2.68" fill="url(#gW)"/>
<circle cx="667.5" cy="1967.88" r="3.35" fill="url(#gW)"/>
<circle cx="653.17" cy="1960.19" r="2.3" fill="url(#gW)"/>
<circle cx="665.23" cy="1972.56" r="2.53" fill="url(#gW)"/>
<circle cx="633.02" cy="1971.55" r="3.26" fill="url(#gW)"/>
<circle cx="650.43" cy="1963.7" r="3.44" fill="url(#gW)"/>
<circle cx="646.67" cy="1965.36" r="3.14" fill="url(#gW)"/>
<circle cx="633.49" cy="1959.67" r="2.36" fill="url(#gW)"/>
<circle cx="683.65" cy="1959.65" r="3.16" fill="url(#gW)"/>
<circle cx="642" cy="1973.25" r="3.54" fill="url(#gW)"/>
<circle cx="646.98" cy="1973.33" r="2.78" fill="url(#gW)"/>
<circle cx="687.17" cy="1957.96" r="3.42" fill="url(#gW)"/>
<circle cx="651.23" cy="1956.43" r="2.46" fill="url(#gW)"/>
<circle cx="639.52" cy="1960.46" r="3.12" fill="url(#gW)"/>
<circle cx="641.82" cy="1971.69" r="2.4" fill="url(#gW)"/>
<circle cx="671.09" cy="1956.99" r="3.31" fill="url(#gW)"/>
<circle cx="661.76" cy="1973.94" r="2.5" fill="url(#gC)"/>
<circle cx="656.77" cy="1960.16" r="2.99" fill="url(#gW)"/>
<circle cx="674.17" cy="1960.63" r="2.72" fill="url(#gW)"/>
<circle cx="678.81" cy="1961.01" r="2.96" fill="url(#gW)"/>
<circle cx="633.72" cy="1958.37" r="2.96" fill="url(#gW)"/>
<circle cx="635.01" cy="1972.05" r="2.64" fill="url(#gW)"/>
<circle cx="648.98" cy="1968.27" r="2.6" fill="url(#gW)"/>
<circle cx="645.55" cy="1960.67" r="2.63" fill="url(#gW)"/>
<circle cx="644.34" cy="1976.01" r="3.35" fill="url(#gW)"/>
<circle cx="655.29" cy="1963.54" r="3.1" fill="url(#gW)"/>
<circle cx="658.24" cy="1960.05" r="2.35" fill="url(#gW)"/>
<circle cx="629.52" cy="1958.83" r="2.97" fill="url(#gW)"/>
<circle cx="626.2" cy="1968.73" r="2.32" fill="url(#gW)"/>
<circle cx="639.98" cy="1963.55" r="3.01" fill="url(#gW)"/>
<circle cx="670.5" cy="1960.87" r="2.99" fill="url(#gW)"/>
<circle cx="674.94" cy="1960.2" r="3.07" fill="url(#gW)"/>
<circle cx="629.34" cy="1967.76" r="2.92" fill="url(#gW)"/>
<circle cx="642.2" cy="1963.88" r="2.7" fill="url(#gC)"/>
<circle cx="662.75" cy="1976.45" r="3.08" fill="url(#gW)"/>
<circle cx="630.16" cy="1961.16" r="2.63" fill="url(#gW)"/>
<circle cx="653.88" cy="1971.06" r="3.03" fill="url(#gW)"/>
<circle cx="663.69" cy="1980.1" r="3.07" fill="url(#gW)"/>
<circle cx="632.29" cy="1961.05" r="2.4" fill="url(#gW)"/>
<circle cx="658.38" cy="1978.22" r="3.36" fill="url(#gW)"/>
<circle cx="628.5" cy="1967.12" r="2.51" fill="url(#gW)"/>
<circle cx="653.83" cy="1969.03" r="3.5" fill="url(#gW)"/>
<circle cx="636.45" cy="1973.99" r="2.87" fill="url(#gW)"/>
<circle cx="634.4" cy="1977.01" r="3.54" fill="url(#gW)"/>
<circle cx="633.44" cy="1977.38" r="2.21" fill="url(#gW)"/>
<circle cx="660.12" cy="1963.22" r="3.09" fill="url(#gW)"/>
<circle cx="641.76" cy="1971.41" r="2.76" fill="url(#gW)"/>
<circle cx="652.62" cy="1971.88" r="2.32" fill="url(#gW)"/>
<circle cx="643.56" cy="1968.23" r="3.23" fill="url(#gW)"/>
<circle cx="647.75" cy="1967.33" r="2.31" fill="url(#gW)"/>
<circle cx="642.83" cy="1977.51" r="3.21" fill="url(#gC)"/>
<circle cx="666.64" cy="1980.76" r="2.36" fill="url(#gW)"/>
<circle cx="624.58" cy="1969.04" r="3.52" fill="url(#gW)"/>
<circle cx="663.52" cy="1978.29" r="3.43" fill="url(#gW)"/>
<circle cx="654.11" cy="1978.45" r="2.55" fill="url(#gW)"/>
<circle cx="662.05" cy="1969.65" r="3.04" fill="url(#gW)"/>
<circle cx="633.87" cy="1976.12" r="2.87" fill="url(#gW)"/>
<circle cx="655.41" cy="1974.86" r="2.36" fill="url(#gW)"/>
<circle cx="632.98" cy="1978.93" r="2.56" fill="url(#gW)"/>
<circle cx="663.35" cy="1970.24" r="2.79" fill="url(#gW)"/>
<circle cx="631.18" cy="1974.25" r="3.19" fill="url(#gW)"/>
<circle cx="650.94" cy="1969.51" r="2.86" fill="url(#gW)"/>
<circle cx="642.73" cy="1970.39" r="3.31" fill="url(#gC)"/>
<circle cx="638.6" cy="1975.57" r="2.55" fill="url(#gW)"/>
<circle cx="645.38" cy="1980.81" r="2.53" fill="url(#gW)"/>
<circle cx="652.73" cy="1976.74" r="3.42" fill="url(#gW)"/>
<circle cx="647.85" cy="1971.49" r="2.91" fill="url(#gW)"/>
<circle cx="664.74" cy="1977.86" r="2.94" fill="url(#gW)"/>
<circle cx="665.47" cy="1979.72" r="2.46" fill="url(#gW)"/>
<circle cx="656.34" cy="1972.75" r="2.62" fill="url(#gC)"/>
<circle cx="629.8" cy="1980.02" r="2.65" fill="url(#gW)"/>
<circle cx="638.09" cy="1982.14" r="2.89" fill="url(#gW)"/>
<circle cx="623.13" cy="1971.34" r="2.6" fill="url(#gW)"/>
<circle cx="660.36" cy="1974.12" r="3.4" fill="url(#gW)"/>
<circle cx="660.52" cy="1982.73" r="2.8" fill="url(#gW)"/>
<circle cx="646.53" cy="1982.35" r="2.44" fill="url(#gW)"/>
<circle cx="634.7" cy="1978.38" r="2.59" fill="url(#gC)"/>
<circle cx="644.44" cy="1990.75" r="2.26" fill="url(#gW)"/>
<circle cx="654.49" cy="1980.17" r="3.2" fill="url(#gW)"/>
<circle cx="635.47" cy="1985.77" r="3.06" fill="url(#gW)"/>
<circle cx="640.58" cy="1984.16" r="2.61" fill="url(#gW)"/>
<circle cx="624.62" cy="1976.73" r="3.43" fill="url(#gW)"/>
<circle cx="628.21" cy="1981.76" r="3.06" fill="url(#gW)"/>
<circle cx="638.67" cy="1981.11" r="2.32" fill="url(#gW)"/>
<circle cx="630.95" cy="1983.87" r="2.44" fill="url(#gW)"/>
<circle cx="651.59" cy="1977" r="3.2" fill="url(#gC)"/>
<circle cx="650.39" cy="1981.89" r="2.82" fill="url(#gR)"/>
<circle cx="622.26" cy="1981.59" r="2.4" fill="url(#gW)"/>
<circle cx="647.65" cy="1994.74" r="2.91" fill="url(#gW)"/>
<circle cx="643.37" cy="1991.39" r="2.98" fill="url(#gW)"/>
<circle cx="658.7" cy="1991.03" r="2.72" fill="url(#gW)"/>
<circle cx="658.18" cy="1979.4" r="2.57" fill="url(#gW)"/>
<circle cx="638.34" cy="1994.89" r="2.25" fill="url(#gW)"/>
<circle cx="637.57" cy="1984.74" r="2.26" fill="url(#gW)"/>
<circle cx="637.04" cy="1992.95" r="2.53" fill="url(#gW)"/>
<circle cx="628.07" cy="1986.09" r="2.21" fill="url(#gW)"/>
<circle cx="629.28" cy="1983.96" r="3.33" fill="url(#gW)"/>
<circle cx="639.86" cy="1992.34" r="3.36" fill="url(#gC)"/>
<circle cx="638.18" cy="1991.73" r="3.23" fill="url(#gW)"/>
<circle cx="657.21" cy="1986.65" r="2.59" fill="url(#gW)"/>
<circle cx="653.94" cy="1989.95" r="3.32" fill="url(#gW)"/>
<circle cx="645.33" cy="1988.14" r="2.8" fill="url(#gC)"/>
<circle cx="645.47" cy="1995.07" r="3.55" fill="url(#gW)"/>
<circle cx="643.65" cy="1994.38" r="2.75" fill="url(#gC)"/>
<circle cx="644.65" cy="1995.47" r="3.38" fill="url(#gW)"/>
<text x="907.8" y="1430.4" font-size="40" fill="#000" font-weight="bold" textLength="15.8" lengthAdjust="spacingAndGlyphs" stroke="#000" stroke-width="0.9">f</text>
<rect x="1122.1" y="1749" width="188.4" height="156.9" fill="#3333ff" stroke="#1a1aff" stroke-width="1"/>
<rect x="1356.2" y="1487.5" width="188.2" height="261.5" fill="#ff3333" stroke="#ff1a1a" stroke-width="1"/>
<rect x="1590.6" y="1740.41" width="188.2" height="8.59" fill="#33ff33" stroke="#1aff1a" stroke-width="1"/>
<line x1="1216.4" y1="1899.2" x2="1216.4" y2="1912.3" stroke="#222" stroke-width="1.2" />
<line x1="1210.9" y1="1899.2" x2="1221.9" y2="1899.2" stroke="#222" stroke-width="1.2" />
<line x1="1210.9" y1="1912.3" x2="1221.9" y2="1912.3" stroke="#222" stroke-width="1.2" />
<line x1="1450.8" y1="1474.6" x2="1450.8" y2="1500.7" stroke="#222" stroke-width="1.2" />
<line x1="1445.3" y1="1474.6" x2="1456.3" y2="1474.6" stroke="#222" stroke-width="1.2" />
<line x1="1445.3" y1="1500.7" x2="1456.3" y2="1500.7" stroke="#222" stroke-width="1.2" />
<line x1="1685.2" y1="1731.3" x2="1685.2" y2="1750.6" stroke="#222" stroke-width="1.2" />
<line x1="1679.7" y1="1731.3" x2="1690.7" y2="1731.3" stroke="#222" stroke-width="1.2" />
<line x1="1679.7" y1="1750.6" x2="1690.7" y2="1750.6" stroke="#222" stroke-width="1.2" />
<rect x="1099.1" y="1450.6" width="702.3" height="523" fill="none" stroke="#444" stroke-width="1.1"/>
<line x1="1099.1" y1="1749" x2="1801.4" y2="1749" stroke="#111" stroke-width="1.6" />
<line x1="1087.4" y1="1450.6" x2="1099.1" y2="1450.6" stroke="#444" stroke-width="1.1" />
<text x="975.5" y="1457.4" font-size="22.5" fill="#000" textLength="100.5" lengthAdjust="spacingAndGlyphs">8.0<tspan font-size="19"> × </tspan>10<tspan dy="-11" font-size="16">−5</tspan></text>
<line x1="1087.4" y1="1525.31" x2="1099.1" y2="1525.31" stroke="#444" stroke-width="1.1" />
<text x="975.5" y="1532.11" font-size="22.5" fill="#000" textLength="100.5" lengthAdjust="spacingAndGlyphs">6.0<tspan font-size="19"> × </tspan>10<tspan dy="-11" font-size="16">−5</tspan></text>
<line x1="1087.4" y1="1600.03" x2="1099.1" y2="1600.03" stroke="#444" stroke-width="1.1" />
<text x="975.5" y="1606.83" font-size="22.5" fill="#000" textLength="100.5" lengthAdjust="spacingAndGlyphs">4.0<tspan font-size="19"> × </tspan>10<tspan dy="-11" font-size="16">−5</tspan></text>
<line x1="1087.4" y1="1674.74" x2="1099.1" y2="1674.74" stroke="#444" stroke-width="1.1" />
<text x="975.5" y="1681.54" font-size="22.5" fill="#000" textLength="100.5" lengthAdjust="spacingAndGlyphs">2.0<tspan font-size="19"> × </tspan>10<tspan dy="-11" font-size="16">−5</tspan></text>
<line x1="1087.4" y1="1749.46" x2="1099.1" y2="1749.46" stroke="#444" stroke-width="1.1" />
<text x="1075.5" y="1756.26" font-size="22.5" fill="#000" text-anchor="end">0</text>
<line x1="1087.4" y1="1824.17" x2="1099.1" y2="1824.17" stroke="#444" stroke-width="1.1" />
<text x="963" y="1830.97" font-size="22.5" fill="#000" textLength="113" lengthAdjust="spacingAndGlyphs">−2.0<tspan font-size="19"> × </tspan>10<tspan dy="-11" font-size="16">−5</tspan></text>
<line x1="1087.4" y1="1898.89" x2="1099.1" y2="1898.89" stroke="#444" stroke-width="1.1" />
<text x="963" y="1905.69" font-size="22.5" fill="#000" textLength="113" lengthAdjust="spacingAndGlyphs">−4.0<tspan font-size="19"> × </tspan>10<tspan dy="-11" font-size="16">−5</tspan></text>
<line x1="1087.4" y1="1973.6" x2="1099.1" y2="1973.6" stroke="#444" stroke-width="1.1" />
<text x="963" y="1980.4" font-size="22.5" fill="#000" textLength="113" lengthAdjust="spacingAndGlyphs">−6.0<tspan font-size="19"> × </tspan>10<tspan dy="-11" font-size="16">−5</tspan></text>
<line x1="1099.1" y1="1973.6" x2="1099.1" y2="1985.1" stroke="#444" stroke-width="1.1" />
<line x1="1216.4" y1="1973.6" x2="1216.4" y2="1985.1" stroke="#444" stroke-width="1.1" />
<line x1="1450.8" y1="1973.6" x2="1450.8" y2="1985.1" stroke="#444" stroke-width="1.1" />
<line x1="1685.2" y1="1973.6" x2="1685.2" y2="1985.1" stroke="#444" stroke-width="1.1" />
<line x1="1801.4" y1="1973.6" x2="1801.4" y2="1985.1" stroke="#444" stroke-width="1.1" />
<text x="1216.4" y="2018.8" font-size="27" fill="#000" text-anchor="middle">Na<tspan dy="-11" font-size="15">+</tspan></text>
<text x="1450.8" y="2018.8" font-size="27" fill="#000" text-anchor="middle">Cl<tspan dy="-11" font-size="15">−</tspan></text>
<text x="1685.2" y="2018.8" font-size="27" fill="#000" text-anchor="middle" textLength="186" lengthAdjust="spacingAndGlyphs">Ampicillin ions</text>
<text x="935.5" y="1712" font-size="28" fill="#000" text-anchor="middle" transform="rotate(-90 935.5 1712)" textLength="252" lengthAdjust="spacingAndGlyphs">Drift velocity (Å fs<tspan dy="-10" font-size="17">−1</tspan><tspan dy="10">)</tspan></text>
</svg></body></html>
